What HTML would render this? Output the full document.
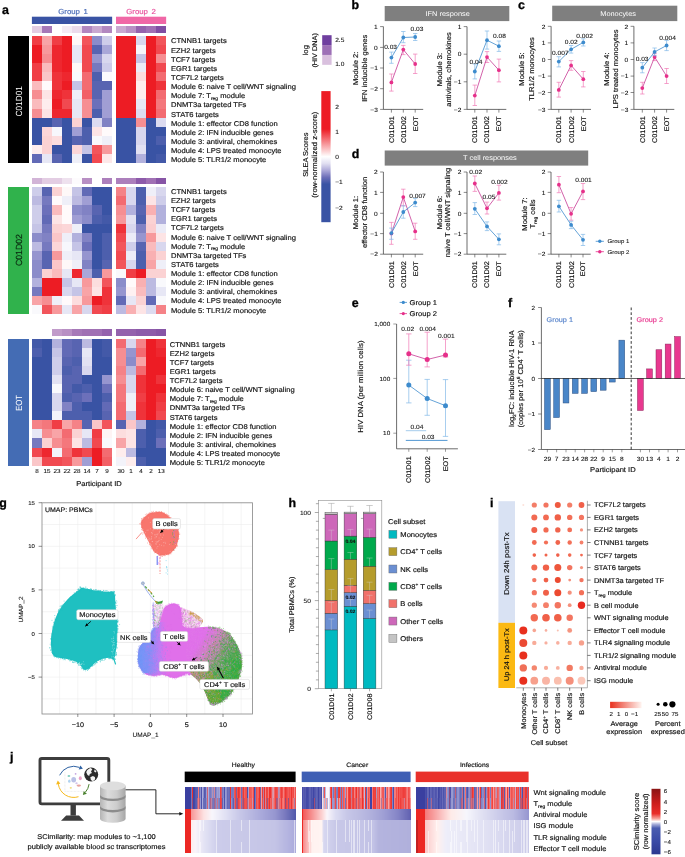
<!DOCTYPE html>
<html lang="en"><head><meta charset="utf-8"><title>Figure</title>
<style>html,body{margin:0;padding:0;background:#fff}svg{display:block}</style></head>
<body>
<svg width="685" height="857" viewBox="0 0 685 857" text-rendering="geometricPrecision" font-family='"Liberation Sans", Arial, sans-serif'>
<rect width="685" height="857" fill="#fff"/>
<text x="2" y="13.8" font-size="12.4" font-weight="bold" fill="#000" stroke="#000" stroke-width="0.3">a</text>
<text x="351.5" y="9.4" font-size="12.4" font-weight="bold" fill="#000" stroke="#000" stroke-width="0.3">b</text>
<text x="518" y="8.7" font-size="12.4" font-weight="bold" fill="#000" stroke="#000" stroke-width="0.3">c</text>
<text x="351.8" y="157.9" font-size="12.4" font-weight="bold" fill="#000" stroke="#000" stroke-width="0.3">d</text>
<text x="351.8" y="306.9" font-size="12.4" font-weight="bold" fill="#000" stroke="#000" stroke-width="0.3">e</text>
<text x="508" y="306.6" font-size="12.4" font-weight="bold" fill="#000" stroke="#000" stroke-width="0.3">f</text>
<text x="-0.8" y="507.2" font-size="12.4" font-weight="bold" fill="#000" stroke="#000" stroke-width="0.3">g</text>
<text x="288.5" y="507.3" font-size="12.4" font-weight="bold" fill="#000" stroke="#000" stroke-width="0.3">h</text>
<text x="490" y="506.8" font-size="12.4" font-weight="bold" fill="#000" stroke="#000" stroke-width="0.3">i</text>
<text x="10" y="761" font-size="12.4" font-weight="bold" fill="#000" stroke="#000" stroke-width="0.3">j</text>
<text transform="translate(73.00,11.30) scale(1.08,1)" y="2.60" font-size="7.22" text-anchor="middle" fill="#4a6cb8" stroke="#4a6cb8" stroke-width="0.16" word-spacing="1.2">Group 1</text>
<text transform="translate(141.00,11.30) scale(1.08,1)" y="2.60" font-size="7.22" text-anchor="middle" fill="#e9509c" stroke="#e9509c" stroke-width="0.16" word-spacing="1.2">Group 2</text>
<rect x="31.9" y="16.7" width="80.24" height="7.3" fill="#3953a4"/>
<rect x="116.0" y="16.7" width="50.15" height="7.3" fill="#f067a6"/>
<g shape-rendering="crispEdges">
<rect x="31.90" y="26.3" width="10.08" height="6.75" fill="#e3cde3"/>
<rect x="41.93" y="26.3" width="10.08" height="6.75" fill="#a678b8"/>
<rect x="51.96" y="26.3" width="10.08" height="6.75" fill="#ffffff"/>
<rect x="61.99" y="26.3" width="10.08" height="6.75" fill="#f4ebf4"/>
<rect x="72.02" y="26.3" width="10.08" height="6.75" fill="#ebdbeb"/>
<rect x="82.05" y="26.3" width="10.08" height="6.75" fill="#b287c0"/>
<rect x="92.08" y="26.3" width="10.08" height="6.75" fill="#c9a8d0"/>
<rect x="102.11" y="26.3" width="10.08" height="6.75" fill="#b287c0"/>
<rect x="116.00" y="26.3" width="10.08" height="6.75" fill="#c9a8d0"/>
<rect x="126.03" y="26.3" width="10.08" height="6.75" fill="#b88fc4"/>
<rect x="136.06" y="26.3" width="10.08" height="6.75" fill="#9462ad"/>
<rect x="146.09" y="26.3" width="10.08" height="6.75" fill="#a070b4"/>
<rect x="156.12" y="26.3" width="10.08" height="6.75" fill="#804ea3"/>
<rect x="31.90" y="36.10" width="10.08" height="9.10" fill="#f03e45"/>
<rect x="41.93" y="36.10" width="10.08" height="9.10" fill="#f8a4a7"/>
<rect x="51.96" y="36.10" width="10.08" height="9.10" fill="#f03e45"/>
<rect x="61.99" y="36.10" width="10.08" height="9.10" fill="#ed1c24"/>
<rect x="72.02" y="36.10" width="10.08" height="9.10" fill="#fef8f8"/>
<rect x="82.05" y="36.10" width="10.08" height="9.10" fill="#f2555b"/>
<rect x="92.08" y="36.10" width="10.08" height="9.10" fill="#8b8cca"/>
<rect x="102.11" y="36.10" width="10.08" height="9.10" fill="#cecdea"/>
<rect x="116.00" y="36.10" width="10.08" height="9.10" fill="#ed1c24"/>
<rect x="126.03" y="36.10" width="10.08" height="9.10" fill="#ed1c24"/>
<rect x="136.06" y="36.10" width="10.08" height="9.10" fill="#d8d7ee"/>
<rect x="146.09" y="36.10" width="10.08" height="9.10" fill="#ed1c24"/>
<rect x="156.12" y="36.10" width="10.08" height="9.10" fill="#f2555b"/>
<rect x="31.90" y="45.15" width="10.08" height="9.10" fill="#ed1c24"/>
<rect x="41.93" y="45.15" width="10.08" height="9.10" fill="#f7999c"/>
<rect x="51.96" y="45.15" width="10.08" height="9.10" fill="#ee272f"/>
<rect x="61.99" y="45.15" width="10.08" height="9.10" fill="#ed1c24"/>
<rect x="72.02" y="45.15" width="10.08" height="9.10" fill="#e7e7f5"/>
<rect x="82.05" y="45.15" width="10.08" height="9.10" fill="#f14950"/>
<rect x="92.08" y="45.15" width="10.08" height="9.10" fill="#5864b1"/>
<rect x="102.11" y="45.15" width="10.08" height="9.10" fill="#a9a7d8"/>
<rect x="116.00" y="45.15" width="10.08" height="9.10" fill="#ed1c24"/>
<rect x="126.03" y="45.15" width="10.08" height="9.10" fill="#ed1c24"/>
<rect x="136.06" y="45.15" width="10.08" height="9.10" fill="#f5f5fb"/>
<rect x="146.09" y="45.15" width="10.08" height="9.10" fill="#ed1c24"/>
<rect x="156.12" y="45.15" width="10.08" height="9.10" fill="#f14950"/>
<rect x="31.90" y="54.20" width="10.08" height="9.10" fill="#ed1c24"/>
<rect x="41.93" y="54.20" width="10.08" height="9.10" fill="#f68e92"/>
<rect x="51.96" y="54.20" width="10.08" height="9.10" fill="#ee272f"/>
<rect x="61.99" y="54.20" width="10.08" height="9.10" fill="#ed1c24"/>
<rect x="72.02" y="54.20" width="10.08" height="9.10" fill="#e7e7f5"/>
<rect x="82.05" y="54.20" width="10.08" height="9.10" fill="#f14950"/>
<rect x="92.08" y="54.20" width="10.08" height="9.10" fill="#9695cf"/>
<rect x="102.11" y="54.20" width="10.08" height="9.10" fill="#d8d7ee"/>
<rect x="116.00" y="54.20" width="10.08" height="9.10" fill="#ed1c24"/>
<rect x="126.03" y="54.20" width="10.08" height="9.10" fill="#ed1c24"/>
<rect x="136.06" y="54.20" width="10.08" height="9.10" fill="#c5c4e6"/>
<rect x="146.09" y="54.20" width="10.08" height="9.10" fill="#ed1c24"/>
<rect x="156.12" y="54.20" width="10.08" height="9.10" fill="#f68e92"/>
<rect x="31.90" y="63.25" width="10.08" height="9.10" fill="#f03e45"/>
<rect x="41.93" y="63.25" width="10.08" height="9.10" fill="#fabbbd"/>
<rect x="51.96" y="63.25" width="10.08" height="9.10" fill="#ee272f"/>
<rect x="61.99" y="63.25" width="10.08" height="9.10" fill="#ed1c24"/>
<rect x="72.02" y="63.25" width="10.08" height="9.10" fill="#fef8f8"/>
<rect x="82.05" y="63.25" width="10.08" height="9.10" fill="#f14950"/>
<rect x="92.08" y="63.25" width="10.08" height="9.10" fill="#7679bf"/>
<rect x="102.11" y="63.25" width="10.08" height="9.10" fill="#cecdea"/>
<rect x="116.00" y="63.25" width="10.08" height="9.10" fill="#ed1c24"/>
<rect x="126.03" y="63.25" width="10.08" height="9.10" fill="#ed1c24"/>
<rect x="136.06" y="63.25" width="10.08" height="9.10" fill="#ebebf7"/>
<rect x="146.09" y="63.25" width="10.08" height="9.10" fill="#ed1c24"/>
<rect x="156.12" y="63.25" width="10.08" height="9.10" fill="#f14950"/>
<rect x="31.90" y="72.30" width="10.08" height="9.10" fill="#f03e45"/>
<rect x="41.93" y="72.30" width="10.08" height="9.10" fill="#fac6c8"/>
<rect x="51.96" y="72.30" width="10.08" height="9.10" fill="#ef333a"/>
<rect x="61.99" y="72.30" width="10.08" height="9.10" fill="#ee272f"/>
<rect x="72.02" y="72.30" width="10.08" height="9.10" fill="#f9f9fc"/>
<rect x="82.05" y="72.30" width="10.08" height="9.10" fill="#f36b71"/>
<rect x="92.08" y="72.30" width="10.08" height="9.10" fill="#4d5fad"/>
<rect x="102.11" y="72.30" width="10.08" height="9.10" fill="#fbfbfd"/>
<rect x="116.00" y="72.30" width="10.08" height="9.10" fill="#ed1c24"/>
<rect x="126.03" y="72.30" width="10.08" height="9.10" fill="#ed1c24"/>
<rect x="136.06" y="72.30" width="10.08" height="9.10" fill="#fcddde"/>
<rect x="146.09" y="72.30" width="10.08" height="9.10" fill="#ed1c24"/>
<rect x="156.12" y="72.30" width="10.08" height="9.10" fill="#f36b71"/>
<rect x="31.90" y="81.35" width="10.08" height="9.10" fill="#fabbbd"/>
<rect x="41.93" y="81.35" width="10.08" height="9.10" fill="#fffafb"/>
<rect x="51.96" y="81.35" width="10.08" height="9.10" fill="#ef333a"/>
<rect x="61.99" y="81.35" width="10.08" height="9.10" fill="#ed1c24"/>
<rect x="72.02" y="81.35" width="10.08" height="9.10" fill="#c5c4e6"/>
<rect x="82.05" y="81.35" width="10.08" height="9.10" fill="#f36b71"/>
<rect x="92.08" y="81.35" width="10.08" height="9.10" fill="#5864b1"/>
<rect x="102.11" y="81.35" width="10.08" height="9.10" fill="#5864b1"/>
<rect x="116.00" y="81.35" width="10.08" height="9.10" fill="#ed1c24"/>
<rect x="126.03" y="81.35" width="10.08" height="9.10" fill="#ed1c24"/>
<rect x="136.06" y="81.35" width="10.08" height="9.10" fill="#feeded"/>
<rect x="146.09" y="81.35" width="10.08" height="9.10" fill="#ed1c24"/>
<rect x="156.12" y="81.35" width="10.08" height="9.10" fill="#ef333a"/>
<rect x="31.90" y="90.40" width="10.08" height="9.10" fill="#f68e92"/>
<rect x="41.93" y="90.40" width="10.08" height="9.10" fill="#fde4e5"/>
<rect x="51.96" y="90.40" width="10.08" height="9.10" fill="#ee272f"/>
<rect x="61.99" y="90.40" width="10.08" height="9.10" fill="#ef333a"/>
<rect x="72.02" y="90.40" width="10.08" height="9.10" fill="#efeff8"/>
<rect x="82.05" y="90.40" width="10.08" height="9.10" fill="#f26066"/>
<rect x="92.08" y="90.40" width="10.08" height="9.10" fill="#5864b1"/>
<rect x="102.11" y="90.40" width="10.08" height="9.10" fill="#a09ed4"/>
<rect x="116.00" y="90.40" width="10.08" height="9.10" fill="#ed1c24"/>
<rect x="126.03" y="90.40" width="10.08" height="9.10" fill="#ed1c24"/>
<rect x="136.06" y="90.40" width="10.08" height="9.10" fill="#feeded"/>
<rect x="146.09" y="90.40" width="10.08" height="9.10" fill="#ed1c24"/>
<rect x="156.12" y="90.40" width="10.08" height="9.10" fill="#f36b71"/>
<rect x="31.90" y="99.45" width="10.08" height="9.10" fill="#fabbbd"/>
<rect x="41.93" y="99.45" width="10.08" height="9.10" fill="#feeded"/>
<rect x="51.96" y="99.45" width="10.08" height="9.10" fill="#ed1c24"/>
<rect x="61.99" y="99.45" width="10.08" height="9.10" fill="#f14950"/>
<rect x="72.02" y="99.45" width="10.08" height="9.10" fill="#e7e7f5"/>
<rect x="82.05" y="99.45" width="10.08" height="9.10" fill="#f68e92"/>
<rect x="92.08" y="99.45" width="10.08" height="9.10" fill="#6c70ba"/>
<rect x="102.11" y="99.45" width="10.08" height="9.10" fill="#a09ed4"/>
<rect x="116.00" y="99.45" width="10.08" height="9.10" fill="#ed1c24"/>
<rect x="126.03" y="99.45" width="10.08" height="9.10" fill="#ed1c24"/>
<rect x="136.06" y="99.45" width="10.08" height="9.10" fill="#e7e7f5"/>
<rect x="146.09" y="99.45" width="10.08" height="9.10" fill="#ed1c24"/>
<rect x="156.12" y="99.45" width="10.08" height="9.10" fill="#f4777c"/>
<rect x="31.90" y="108.50" width="10.08" height="9.10" fill="#f68e92"/>
<rect x="41.93" y="108.50" width="10.08" height="9.10" fill="#fde4e5"/>
<rect x="51.96" y="108.50" width="10.08" height="9.10" fill="#ee272f"/>
<rect x="61.99" y="108.50" width="10.08" height="9.10" fill="#ee272f"/>
<rect x="72.02" y="108.50" width="10.08" height="9.10" fill="#e7e7f5"/>
<rect x="82.05" y="108.50" width="10.08" height="9.10" fill="#f68e92"/>
<rect x="92.08" y="108.50" width="10.08" height="9.10" fill="#4d5fad"/>
<rect x="102.11" y="108.50" width="10.08" height="9.10" fill="#a09ed4"/>
<rect x="116.00" y="108.50" width="10.08" height="9.10" fill="#ed1c24"/>
<rect x="126.03" y="108.50" width="10.08" height="9.10" fill="#ed1c24"/>
<rect x="136.06" y="108.50" width="10.08" height="9.10" fill="#dcdbf0"/>
<rect x="146.09" y="108.50" width="10.08" height="9.10" fill="#ed1c24"/>
<rect x="156.12" y="108.50" width="10.08" height="9.10" fill="#f36b71"/>
<rect x="31.90" y="117.55" width="10.08" height="9.10" fill="#3953a4"/>
<rect x="41.93" y="117.55" width="10.08" height="9.10" fill="#3953a4"/>
<rect x="51.96" y="117.55" width="10.08" height="9.10" fill="#5864b1"/>
<rect x="61.99" y="117.55" width="10.08" height="9.10" fill="#3953a4"/>
<rect x="72.02" y="117.55" width="10.08" height="9.10" fill="#fbd2d3"/>
<rect x="82.05" y="117.55" width="10.08" height="9.10" fill="#3953a4"/>
<rect x="92.08" y="117.55" width="10.08" height="9.10" fill="#dcdbf0"/>
<rect x="102.11" y="117.55" width="10.08" height="9.10" fill="#8182c4"/>
<rect x="116.00" y="117.55" width="10.08" height="9.10" fill="#3953a4"/>
<rect x="126.03" y="117.55" width="10.08" height="9.10" fill="#3953a4"/>
<rect x="136.06" y="117.55" width="10.08" height="9.10" fill="#f68e92"/>
<rect x="146.09" y="117.55" width="10.08" height="9.10" fill="#3953a4"/>
<rect x="156.12" y="117.55" width="10.08" height="9.10" fill="#dcdbf0"/>
<rect x="31.90" y="126.60" width="10.08" height="9.10" fill="#3953a4"/>
<rect x="41.93" y="126.60" width="10.08" height="9.10" fill="#fcd6d8"/>
<rect x="51.96" y="126.60" width="10.08" height="9.10" fill="#f7f7fc"/>
<rect x="61.99" y="126.60" width="10.08" height="9.10" fill="#3953a4"/>
<rect x="72.02" y="126.60" width="10.08" height="9.10" fill="#a09ed4"/>
<rect x="82.05" y="126.60" width="10.08" height="9.10" fill="#4d5fad"/>
<rect x="92.08" y="126.60" width="10.08" height="9.10" fill="#fde4e5"/>
<rect x="102.11" y="126.60" width="10.08" height="9.10" fill="#fffafb"/>
<rect x="116.00" y="126.60" width="10.08" height="9.10" fill="#3953a4"/>
<rect x="126.03" y="126.60" width="10.08" height="9.10" fill="#3953a4"/>
<rect x="136.06" y="126.60" width="10.08" height="9.10" fill="#d8d7ee"/>
<rect x="146.09" y="126.60" width="10.08" height="9.10" fill="#3953a4"/>
<rect x="156.12" y="126.60" width="10.08" height="9.10" fill="#3953a4"/>
<rect x="31.90" y="135.65" width="10.08" height="9.10" fill="#3953a4"/>
<rect x="41.93" y="135.65" width="10.08" height="9.10" fill="#fbd2d3"/>
<rect x="51.96" y="135.65" width="10.08" height="9.10" fill="#fcddde"/>
<rect x="61.99" y="135.65" width="10.08" height="9.10" fill="#3953a4"/>
<rect x="72.02" y="135.65" width="10.08" height="9.10" fill="#5864b1"/>
<rect x="82.05" y="135.65" width="10.08" height="9.10" fill="#4d5fad"/>
<rect x="92.08" y="135.65" width="10.08" height="9.10" fill="#f9f9fc"/>
<rect x="102.11" y="135.65" width="10.08" height="9.10" fill="#efeff8"/>
<rect x="116.00" y="135.65" width="10.08" height="9.10" fill="#3953a4"/>
<rect x="126.03" y="135.65" width="10.08" height="9.10" fill="#3953a4"/>
<rect x="136.06" y="135.65" width="10.08" height="9.10" fill="#d8d7ee"/>
<rect x="146.09" y="135.65" width="10.08" height="9.10" fill="#3953a4"/>
<rect x="156.12" y="135.65" width="10.08" height="9.10" fill="#4d5fad"/>
<rect x="31.90" y="144.70" width="10.08" height="9.10" fill="#feeded"/>
<rect x="41.93" y="144.70" width="10.08" height="9.10" fill="#fbd2d3"/>
<rect x="51.96" y="144.70" width="10.08" height="9.10" fill="#3953a4"/>
<rect x="61.99" y="144.70" width="10.08" height="9.10" fill="#3953a4"/>
<rect x="72.02" y="144.70" width="10.08" height="9.10" fill="#fcd6d8"/>
<rect x="82.05" y="144.70" width="10.08" height="9.10" fill="#c5c4e6"/>
<rect x="92.08" y="144.70" width="10.08" height="9.10" fill="#f2555b"/>
<rect x="102.11" y="144.70" width="10.08" height="9.10" fill="#f7999c"/>
<rect x="116.00" y="144.70" width="10.08" height="9.10" fill="#3953a4"/>
<rect x="126.03" y="144.70" width="10.08" height="9.10" fill="#3953a4"/>
<rect x="136.06" y="144.70" width="10.08" height="9.10" fill="#e2e1f2"/>
<rect x="146.09" y="144.70" width="10.08" height="9.10" fill="#3953a4"/>
<rect x="156.12" y="144.70" width="10.08" height="9.10" fill="#3953a4"/>
<rect x="31.90" y="153.75" width="10.08" height="9.10" fill="#626ab6"/>
<rect x="41.93" y="153.75" width="10.08" height="9.10" fill="#e7e7f5"/>
<rect x="51.96" y="153.75" width="10.08" height="9.10" fill="#5864b1"/>
<rect x="61.99" y="153.75" width="10.08" height="9.10" fill="#3953a4"/>
<rect x="72.02" y="153.75" width="10.08" height="9.10" fill="#efeff8"/>
<rect x="82.05" y="153.75" width="10.08" height="9.10" fill="#3953a4"/>
<rect x="92.08" y="153.75" width="10.08" height="9.10" fill="#f14950"/>
<rect x="102.11" y="153.75" width="10.08" height="9.10" fill="#fde8e9"/>
<rect x="116.00" y="153.75" width="10.08" height="9.10" fill="#3953a4"/>
<rect x="126.03" y="153.75" width="10.08" height="9.10" fill="#3953a4"/>
<rect x="136.06" y="153.75" width="10.08" height="9.10" fill="#b2b1dd"/>
<rect x="146.09" y="153.75" width="10.08" height="9.10" fill="#3953a4"/>
<rect x="156.12" y="153.75" width="10.08" height="9.10" fill="#4359a8"/>
<rect x="8.1" y="36.1" width="20.6" height="126.70" fill="#000000"/>
<rect x="31.90" y="177.5" width="10.08" height="6.90" fill="#d2b4d7"/>
<rect x="41.93" y="177.5" width="10.08" height="6.90" fill="#e3cde3"/>
<rect x="51.96" y="177.5" width="10.08" height="6.90" fill="#e3cde3"/>
<rect x="61.99" y="177.5" width="10.08" height="6.90" fill="#eee1ee"/>
<rect x="72.02" y="177.5" width="10.08" height="6.90" fill="#fdfbfd"/>
<rect x="82.05" y="177.5" width="10.08" height="6.90" fill="#b88fc4"/>
<rect x="92.08" y="177.5" width="10.08" height="6.90" fill="#ffffff"/>
<rect x="102.11" y="177.5" width="10.08" height="6.90" fill="#ac7fbc"/>
<rect x="116.00" y="177.5" width="10.08" height="6.90" fill="#ac7fbc"/>
<rect x="126.03" y="177.5" width="10.08" height="6.90" fill="#ac7fbc"/>
<rect x="136.06" y="177.5" width="10.08" height="6.90" fill="#8d5baa"/>
<rect x="146.09" y="177.5" width="10.08" height="6.90" fill="#a070b4"/>
<rect x="156.12" y="177.5" width="10.08" height="6.90" fill="#8755a6"/>
<rect x="31.90" y="187.44" width="10.08" height="9.07" fill="#cecdea"/>
<rect x="41.93" y="187.44" width="10.08" height="9.07" fill="#5864b1"/>
<rect x="51.96" y="187.44" width="10.08" height="9.07" fill="#fbd2d3"/>
<rect x="61.99" y="187.44" width="10.08" height="9.07" fill="#fef8f8"/>
<rect x="72.02" y="187.44" width="10.08" height="9.07" fill="#c5c4e6"/>
<rect x="82.05" y="187.44" width="10.08" height="9.07" fill="#626ab6"/>
<rect x="92.08" y="187.44" width="10.08" height="9.07" fill="#3953a4"/>
<rect x="102.11" y="187.44" width="10.08" height="9.07" fill="#3953a4"/>
<rect x="116.00" y="187.44" width="10.08" height="9.07" fill="#f58287"/>
<rect x="126.03" y="187.44" width="10.08" height="9.07" fill="#d8d7ee"/>
<rect x="136.06" y="187.44" width="10.08" height="9.07" fill="#4d5fad"/>
<rect x="146.09" y="187.44" width="10.08" height="9.07" fill="#efeff8"/>
<rect x="156.12" y="187.44" width="10.08" height="9.07" fill="#d8d7ee"/>
<rect x="31.90" y="196.46" width="10.08" height="9.07" fill="#bcbae1"/>
<rect x="41.93" y="196.46" width="10.08" height="9.07" fill="#7679bf"/>
<rect x="51.96" y="196.46" width="10.08" height="9.07" fill="#fffafb"/>
<rect x="61.99" y="196.46" width="10.08" height="9.07" fill="#efeff8"/>
<rect x="72.02" y="196.46" width="10.08" height="9.07" fill="#bcbae1"/>
<rect x="82.05" y="196.46" width="10.08" height="9.07" fill="#a09ed4"/>
<rect x="92.08" y="196.46" width="10.08" height="9.07" fill="#3953a4"/>
<rect x="102.11" y="196.46" width="10.08" height="9.07" fill="#3953a4"/>
<rect x="116.00" y="196.46" width="10.08" height="9.07" fill="#f36b71"/>
<rect x="126.03" y="196.46" width="10.08" height="9.07" fill="#d8d7ee"/>
<rect x="136.06" y="196.46" width="10.08" height="9.07" fill="#4d5fad"/>
<rect x="146.09" y="196.46" width="10.08" height="9.07" fill="#fde4e5"/>
<rect x="156.12" y="196.46" width="10.08" height="9.07" fill="#cecdea"/>
<rect x="31.90" y="205.48" width="10.08" height="9.07" fill="#cecdea"/>
<rect x="41.93" y="205.48" width="10.08" height="9.07" fill="#6c70ba"/>
<rect x="51.96" y="205.48" width="10.08" height="9.07" fill="#fabbbd"/>
<rect x="61.99" y="205.48" width="10.08" height="9.07" fill="#fffafb"/>
<rect x="72.02" y="205.48" width="10.08" height="9.07" fill="#8b8cca"/>
<rect x="82.05" y="205.48" width="10.08" height="9.07" fill="#8182c4"/>
<rect x="92.08" y="205.48" width="10.08" height="9.07" fill="#5864b1"/>
<rect x="102.11" y="205.48" width="10.08" height="9.07" fill="#3953a4"/>
<rect x="116.00" y="205.48" width="10.08" height="9.07" fill="#f68e92"/>
<rect x="126.03" y="205.48" width="10.08" height="9.07" fill="#b2b1dd"/>
<rect x="136.06" y="205.48" width="10.08" height="9.07" fill="#5864b1"/>
<rect x="146.09" y="205.48" width="10.08" height="9.07" fill="#f9b0b2"/>
<rect x="156.12" y="205.48" width="10.08" height="9.07" fill="#b2b1dd"/>
<rect x="31.90" y="214.50" width="10.08" height="9.07" fill="#cecdea"/>
<rect x="41.93" y="214.50" width="10.08" height="9.07" fill="#626ab6"/>
<rect x="51.96" y="214.50" width="10.08" height="9.07" fill="#fde4e5"/>
<rect x="61.99" y="214.50" width="10.08" height="9.07" fill="#fffafb"/>
<rect x="72.02" y="214.50" width="10.08" height="9.07" fill="#a09ed4"/>
<rect x="82.05" y="214.50" width="10.08" height="9.07" fill="#8b8cca"/>
<rect x="92.08" y="214.50" width="10.08" height="9.07" fill="#4d5fad"/>
<rect x="102.11" y="214.50" width="10.08" height="9.07" fill="#4359a8"/>
<rect x="116.00" y="214.50" width="10.08" height="9.07" fill="#f7999c"/>
<rect x="126.03" y="214.50" width="10.08" height="9.07" fill="#e2e1f2"/>
<rect x="136.06" y="214.50" width="10.08" height="9.07" fill="#4d5fad"/>
<rect x="146.09" y="214.50" width="10.08" height="9.07" fill="#fbd2d3"/>
<rect x="156.12" y="214.50" width="10.08" height="9.07" fill="#b2b1dd"/>
<rect x="31.90" y="223.52" width="10.08" height="9.07" fill="#c5c4e6"/>
<rect x="41.93" y="223.52" width="10.08" height="9.07" fill="#7679bf"/>
<rect x="51.96" y="223.52" width="10.08" height="9.07" fill="#fbd2d3"/>
<rect x="61.99" y="223.52" width="10.08" height="9.07" fill="#fcd6d8"/>
<rect x="72.02" y="223.52" width="10.08" height="9.07" fill="#efeff8"/>
<rect x="82.05" y="223.52" width="10.08" height="9.07" fill="#3953a4"/>
<rect x="92.08" y="223.52" width="10.08" height="9.07" fill="#3953a4"/>
<rect x="102.11" y="223.52" width="10.08" height="9.07" fill="#3953a4"/>
<rect x="116.00" y="223.52" width="10.08" height="9.07" fill="#ef333a"/>
<rect x="126.03" y="223.52" width="10.08" height="9.07" fill="#d8d7ee"/>
<rect x="136.06" y="223.52" width="10.08" height="9.07" fill="#8182c4"/>
<rect x="146.09" y="223.52" width="10.08" height="9.07" fill="#fbcdcf"/>
<rect x="156.12" y="223.52" width="10.08" height="9.07" fill="#ebebf7"/>
<rect x="31.90" y="232.54" width="10.08" height="9.07" fill="#8b8cca"/>
<rect x="41.93" y="232.54" width="10.08" height="9.07" fill="#8182c4"/>
<rect x="51.96" y="232.54" width="10.08" height="9.07" fill="#fac6c8"/>
<rect x="61.99" y="232.54" width="10.08" height="9.07" fill="#efeff8"/>
<rect x="72.02" y="232.54" width="10.08" height="9.07" fill="#b2b1dd"/>
<rect x="82.05" y="232.54" width="10.08" height="9.07" fill="#8182c4"/>
<rect x="92.08" y="232.54" width="10.08" height="9.07" fill="#3953a4"/>
<rect x="102.11" y="232.54" width="10.08" height="9.07" fill="#4d5fad"/>
<rect x="116.00" y="232.54" width="10.08" height="9.07" fill="#f14950"/>
<rect x="126.03" y="232.54" width="10.08" height="9.07" fill="#ebebf7"/>
<rect x="136.06" y="232.54" width="10.08" height="9.07" fill="#9695cf"/>
<rect x="146.09" y="232.54" width="10.08" height="9.07" fill="#f7999c"/>
<rect x="156.12" y="232.54" width="10.08" height="9.07" fill="#fde4e5"/>
<rect x="31.90" y="241.56" width="10.08" height="9.07" fill="#bcbae1"/>
<rect x="41.93" y="241.56" width="10.08" height="9.07" fill="#7679bf"/>
<rect x="51.96" y="241.56" width="10.08" height="9.07" fill="#fcd6d8"/>
<rect x="61.99" y="241.56" width="10.08" height="9.07" fill="#f7f7fc"/>
<rect x="72.02" y="241.56" width="10.08" height="9.07" fill="#c5c4e6"/>
<rect x="82.05" y="241.56" width="10.08" height="9.07" fill="#6c70ba"/>
<rect x="92.08" y="241.56" width="10.08" height="9.07" fill="#3953a4"/>
<rect x="102.11" y="241.56" width="10.08" height="9.07" fill="#4d5fad"/>
<rect x="116.00" y="241.56" width="10.08" height="9.07" fill="#f2555b"/>
<rect x="126.03" y="241.56" width="10.08" height="9.07" fill="#cecdea"/>
<rect x="136.06" y="241.56" width="10.08" height="9.07" fill="#5864b1"/>
<rect x="146.09" y="241.56" width="10.08" height="9.07" fill="#fabbbd"/>
<rect x="156.12" y="241.56" width="10.08" height="9.07" fill="#d8d7ee"/>
<rect x="31.90" y="250.58" width="10.08" height="9.07" fill="#9695cf"/>
<rect x="41.93" y="250.58" width="10.08" height="9.07" fill="#5864b1"/>
<rect x="51.96" y="250.58" width="10.08" height="9.07" fill="#f7999c"/>
<rect x="61.99" y="250.58" width="10.08" height="9.07" fill="#efeff8"/>
<rect x="72.02" y="250.58" width="10.08" height="9.07" fill="#e7e7f5"/>
<rect x="82.05" y="250.58" width="10.08" height="9.07" fill="#9695cf"/>
<rect x="92.08" y="250.58" width="10.08" height="9.07" fill="#3953a4"/>
<rect x="102.11" y="250.58" width="10.08" height="9.07" fill="#4d5fad"/>
<rect x="116.00" y="250.58" width="10.08" height="9.07" fill="#f14950"/>
<rect x="126.03" y="250.58" width="10.08" height="9.07" fill="#ebebf7"/>
<rect x="136.06" y="250.58" width="10.08" height="9.07" fill="#4d5fad"/>
<rect x="146.09" y="250.58" width="10.08" height="9.07" fill="#f9b0b2"/>
<rect x="156.12" y="250.58" width="10.08" height="9.07" fill="#fbd2d3"/>
<rect x="31.90" y="259.60" width="10.08" height="9.07" fill="#8b8cca"/>
<rect x="41.93" y="259.60" width="10.08" height="9.07" fill="#5864b1"/>
<rect x="51.96" y="259.60" width="10.08" height="9.07" fill="#fac6c8"/>
<rect x="61.99" y="259.60" width="10.08" height="9.07" fill="#fef8f8"/>
<rect x="72.02" y="259.60" width="10.08" height="9.07" fill="#efeff8"/>
<rect x="82.05" y="259.60" width="10.08" height="9.07" fill="#8182c4"/>
<rect x="92.08" y="259.60" width="10.08" height="9.07" fill="#3953a4"/>
<rect x="102.11" y="259.60" width="10.08" height="9.07" fill="#5864b1"/>
<rect x="116.00" y="259.60" width="10.08" height="9.07" fill="#f2555b"/>
<rect x="126.03" y="259.60" width="10.08" height="9.07" fill="#d8d7ee"/>
<rect x="136.06" y="259.60" width="10.08" height="9.07" fill="#4d5fad"/>
<rect x="146.09" y="259.60" width="10.08" height="9.07" fill="#f8a4a7"/>
<rect x="156.12" y="259.60" width="10.08" height="9.07" fill="#efeff8"/>
<rect x="31.90" y="268.62" width="10.08" height="9.07" fill="#8b8cca"/>
<rect x="41.93" y="268.62" width="10.08" height="9.07" fill="#fbd2d3"/>
<rect x="51.96" y="268.62" width="10.08" height="9.07" fill="#fabbbd"/>
<rect x="61.99" y="268.62" width="10.08" height="9.07" fill="#e7e7f5"/>
<rect x="72.02" y="268.62" width="10.08" height="9.07" fill="#ee272f"/>
<rect x="82.05" y="268.62" width="10.08" height="9.07" fill="#a9a7d8"/>
<rect x="92.08" y="268.62" width="10.08" height="9.07" fill="#4d5fad"/>
<rect x="102.11" y="268.62" width="10.08" height="9.07" fill="#f7999c"/>
<rect x="116.00" y="268.62" width="10.08" height="9.07" fill="#f9f9fc"/>
<rect x="126.03" y="268.62" width="10.08" height="9.07" fill="#f03e45"/>
<rect x="136.06" y="268.62" width="10.08" height="9.07" fill="#ed1c24"/>
<rect x="146.09" y="268.62" width="10.08" height="9.07" fill="#fbd2d3"/>
<rect x="156.12" y="268.62" width="10.08" height="9.07" fill="#fbd2d3"/>
<rect x="31.90" y="277.64" width="10.08" height="9.07" fill="#b2b1dd"/>
<rect x="41.93" y="277.64" width="10.08" height="9.07" fill="#ed1c24"/>
<rect x="51.96" y="277.64" width="10.08" height="9.07" fill="#ed1c24"/>
<rect x="61.99" y="277.64" width="10.08" height="9.07" fill="#c5c4e6"/>
<rect x="72.02" y="277.64" width="10.08" height="9.07" fill="#e7e7f5"/>
<rect x="82.05" y="277.64" width="10.08" height="9.07" fill="#f7999c"/>
<rect x="92.08" y="277.64" width="10.08" height="9.07" fill="#fcddde"/>
<rect x="102.11" y="277.64" width="10.08" height="9.07" fill="#f2555b"/>
<rect x="116.00" y="277.64" width="10.08" height="9.07" fill="#8b8cca"/>
<rect x="126.03" y="277.64" width="10.08" height="9.07" fill="#fffafb"/>
<rect x="136.06" y="277.64" width="10.08" height="9.07" fill="#f9b0b2"/>
<rect x="146.09" y="277.64" width="10.08" height="9.07" fill="#bcbae1"/>
<rect x="156.12" y="277.64" width="10.08" height="9.07" fill="#f9f9fc"/>
<rect x="31.90" y="286.66" width="10.08" height="9.07" fill="#7679bf"/>
<rect x="41.93" y="286.66" width="10.08" height="9.07" fill="#ed1c24"/>
<rect x="51.96" y="286.66" width="10.08" height="9.07" fill="#ed1c24"/>
<rect x="61.99" y="286.66" width="10.08" height="9.07" fill="#d8d7ee"/>
<rect x="72.02" y="286.66" width="10.08" height="9.07" fill="#c5c4e6"/>
<rect x="82.05" y="286.66" width="10.08" height="9.07" fill="#f8a4a7"/>
<rect x="92.08" y="286.66" width="10.08" height="9.07" fill="#fde4e5"/>
<rect x="102.11" y="286.66" width="10.08" height="9.07" fill="#ef333a"/>
<rect x="116.00" y="286.66" width="10.08" height="9.07" fill="#9695cf"/>
<rect x="126.03" y="286.66" width="10.08" height="9.07" fill="#fef1f2"/>
<rect x="136.06" y="286.66" width="10.08" height="9.07" fill="#fabbbd"/>
<rect x="146.09" y="286.66" width="10.08" height="9.07" fill="#bcbae1"/>
<rect x="156.12" y="286.66" width="10.08" height="9.07" fill="#e7e7f5"/>
<rect x="31.90" y="295.68" width="10.08" height="9.07" fill="#f8a4a7"/>
<rect x="41.93" y="295.68" width="10.08" height="9.07" fill="#f68e92"/>
<rect x="51.96" y="295.68" width="10.08" height="9.07" fill="#efeff8"/>
<rect x="61.99" y="295.68" width="10.08" height="9.07" fill="#fffafb"/>
<rect x="72.02" y="295.68" width="10.08" height="9.07" fill="#fcddde"/>
<rect x="82.05" y="295.68" width="10.08" height="9.07" fill="#f7999c"/>
<rect x="92.08" y="295.68" width="10.08" height="9.07" fill="#ed1c24"/>
<rect x="102.11" y="295.68" width="10.08" height="9.07" fill="#ef333a"/>
<rect x="116.00" y="295.68" width="10.08" height="9.07" fill="#626ab6"/>
<rect x="126.03" y="295.68" width="10.08" height="9.07" fill="#e7e7f5"/>
<rect x="136.06" y="295.68" width="10.08" height="9.07" fill="#fbd2d3"/>
<rect x="146.09" y="295.68" width="10.08" height="9.07" fill="#626ab6"/>
<rect x="156.12" y="295.68" width="10.08" height="9.07" fill="#f9f9fc"/>
<rect x="31.90" y="304.70" width="10.08" height="9.07" fill="#f9f9fc"/>
<rect x="41.93" y="304.70" width="10.08" height="9.07" fill="#f2555b"/>
<rect x="51.96" y="304.70" width="10.08" height="9.07" fill="#f7999c"/>
<rect x="61.99" y="304.70" width="10.08" height="9.07" fill="#e7e7f5"/>
<rect x="72.02" y="304.70" width="10.08" height="9.07" fill="#f8a4a7"/>
<rect x="82.05" y="304.70" width="10.08" height="9.07" fill="#d8d7ee"/>
<rect x="92.08" y="304.70" width="10.08" height="9.07" fill="#f14950"/>
<rect x="102.11" y="304.70" width="10.08" height="9.07" fill="#f03e45"/>
<rect x="116.00" y="304.70" width="10.08" height="9.07" fill="#bcbae1"/>
<rect x="126.03" y="304.70" width="10.08" height="9.07" fill="#f9b0b2"/>
<rect x="136.06" y="304.70" width="10.08" height="9.07" fill="#fde4e5"/>
<rect x="146.09" y="304.70" width="10.08" height="9.07" fill="#dcdbf0"/>
<rect x="156.12" y="304.70" width="10.08" height="9.07" fill="#f58287"/>
<rect x="8.1" y="187.44" width="20.6" height="126.28" fill="#30b24c"/>
<rect x="51.96" y="329.2" width="10.08" height="6.75" fill="#c19bca"/>
<rect x="61.99" y="329.2" width="10.08" height="6.75" fill="#b88fc4"/>
<rect x="72.02" y="329.2" width="10.08" height="6.75" fill="#a678b8"/>
<rect x="82.05" y="329.2" width="10.08" height="6.75" fill="#a070b4"/>
<rect x="92.08" y="329.2" width="10.08" height="6.75" fill="#a070b4"/>
<rect x="102.11" y="329.2" width="10.08" height="6.75" fill="#9462ad"/>
<rect x="116.00" y="329.2" width="10.08" height="6.75" fill="#9462ad"/>
<rect x="126.03" y="329.2" width="10.08" height="6.75" fill="#9462ad"/>
<rect x="136.06" y="329.2" width="10.08" height="6.75" fill="#8d5baa"/>
<rect x="146.09" y="329.2" width="10.08" height="6.75" fill="#8d5baa"/>
<rect x="156.12" y="329.2" width="10.08" height="6.75" fill="#8755a6"/>
<rect x="31.90" y="339.00" width="10.08" height="9.09" fill="#4359a8"/>
<rect x="41.93" y="339.00" width="10.08" height="9.09" fill="#3953a4"/>
<rect x="51.96" y="339.00" width="10.08" height="9.09" fill="#b2b1dd"/>
<rect x="61.99" y="339.00" width="10.08" height="9.09" fill="#626ab6"/>
<rect x="72.02" y="339.00" width="10.08" height="9.09" fill="#5864b1"/>
<rect x="82.05" y="339.00" width="10.08" height="9.09" fill="#bcbae1"/>
<rect x="92.08" y="339.00" width="10.08" height="9.09" fill="#3953a4"/>
<rect x="102.11" y="339.00" width="10.08" height="9.09" fill="#4359a8"/>
<rect x="116.00" y="339.00" width="10.08" height="9.09" fill="#f36b71"/>
<rect x="126.03" y="339.00" width="10.08" height="9.09" fill="#d8d7ee"/>
<rect x="136.06" y="339.00" width="10.08" height="9.09" fill="#f58287"/>
<rect x="146.09" y="339.00" width="10.08" height="9.09" fill="#ed1c24"/>
<rect x="156.12" y="339.00" width="10.08" height="9.09" fill="#ef333a"/>
<rect x="31.90" y="348.04" width="10.08" height="9.09" fill="#4d5fad"/>
<rect x="41.93" y="348.04" width="10.08" height="9.09" fill="#3953a4"/>
<rect x="51.96" y="348.04" width="10.08" height="9.09" fill="#c5c4e6"/>
<rect x="61.99" y="348.04" width="10.08" height="9.09" fill="#626ab6"/>
<rect x="72.02" y="348.04" width="10.08" height="9.09" fill="#5864b1"/>
<rect x="82.05" y="348.04" width="10.08" height="9.09" fill="#e7e7f5"/>
<rect x="92.08" y="348.04" width="10.08" height="9.09" fill="#3953a4"/>
<rect x="102.11" y="348.04" width="10.08" height="9.09" fill="#4359a8"/>
<rect x="116.00" y="348.04" width="10.08" height="9.09" fill="#f68e92"/>
<rect x="126.03" y="348.04" width="10.08" height="9.09" fill="#9695cf"/>
<rect x="136.06" y="348.04" width="10.08" height="9.09" fill="#f36b71"/>
<rect x="146.09" y="348.04" width="10.08" height="9.09" fill="#ed1c24"/>
<rect x="156.12" y="348.04" width="10.08" height="9.09" fill="#ee272f"/>
<rect x="31.90" y="357.09" width="10.08" height="9.09" fill="#3953a4"/>
<rect x="41.93" y="357.09" width="10.08" height="9.09" fill="#3953a4"/>
<rect x="51.96" y="357.09" width="10.08" height="9.09" fill="#cecdea"/>
<rect x="61.99" y="357.09" width="10.08" height="9.09" fill="#5864b1"/>
<rect x="72.02" y="357.09" width="10.08" height="9.09" fill="#4d5fad"/>
<rect x="82.05" y="357.09" width="10.08" height="9.09" fill="#e2e1f2"/>
<rect x="92.08" y="357.09" width="10.08" height="9.09" fill="#3953a4"/>
<rect x="102.11" y="357.09" width="10.08" height="9.09" fill="#3953a4"/>
<rect x="116.00" y="357.09" width="10.08" height="9.09" fill="#f68e92"/>
<rect x="126.03" y="357.09" width="10.08" height="9.09" fill="#8b8cca"/>
<rect x="136.06" y="357.09" width="10.08" height="9.09" fill="#f8a4a7"/>
<rect x="146.09" y="357.09" width="10.08" height="9.09" fill="#ed1c24"/>
<rect x="156.12" y="357.09" width="10.08" height="9.09" fill="#ed1c24"/>
<rect x="31.90" y="366.13" width="10.08" height="9.09" fill="#3953a4"/>
<rect x="41.93" y="366.13" width="10.08" height="9.09" fill="#3953a4"/>
<rect x="51.96" y="366.13" width="10.08" height="9.09" fill="#cecdea"/>
<rect x="61.99" y="366.13" width="10.08" height="9.09" fill="#4d5fad"/>
<rect x="72.02" y="366.13" width="10.08" height="9.09" fill="#5864b1"/>
<rect x="82.05" y="366.13" width="10.08" height="9.09" fill="#d8d7ee"/>
<rect x="92.08" y="366.13" width="10.08" height="9.09" fill="#3953a4"/>
<rect x="102.11" y="366.13" width="10.08" height="9.09" fill="#3953a4"/>
<rect x="116.00" y="366.13" width="10.08" height="9.09" fill="#f58287"/>
<rect x="126.03" y="366.13" width="10.08" height="9.09" fill="#bcbae1"/>
<rect x="136.06" y="366.13" width="10.08" height="9.09" fill="#f36b71"/>
<rect x="146.09" y="366.13" width="10.08" height="9.09" fill="#ed1c24"/>
<rect x="156.12" y="366.13" width="10.08" height="9.09" fill="#ed1c24"/>
<rect x="31.90" y="375.17" width="10.08" height="9.09" fill="#3953a4"/>
<rect x="41.93" y="375.17" width="10.08" height="9.09" fill="#3953a4"/>
<rect x="51.96" y="375.17" width="10.08" height="9.09" fill="#e2e1f2"/>
<rect x="61.99" y="375.17" width="10.08" height="9.09" fill="#5864b1"/>
<rect x="72.02" y="375.17" width="10.08" height="9.09" fill="#5864b1"/>
<rect x="82.05" y="375.17" width="10.08" height="9.09" fill="#3953a4"/>
<rect x="92.08" y="375.17" width="10.08" height="9.09" fill="#3953a4"/>
<rect x="102.11" y="375.17" width="10.08" height="9.09" fill="#9695cf"/>
<rect x="116.00" y="375.17" width="10.08" height="9.09" fill="#f68e92"/>
<rect x="126.03" y="375.17" width="10.08" height="9.09" fill="#d8d7ee"/>
<rect x="136.06" y="375.17" width="10.08" height="9.09" fill="#ef333a"/>
<rect x="146.09" y="375.17" width="10.08" height="9.09" fill="#ed1c24"/>
<rect x="156.12" y="375.17" width="10.08" height="9.09" fill="#ef333a"/>
<rect x="31.90" y="384.21" width="10.08" height="9.09" fill="#3953a4"/>
<rect x="41.93" y="384.21" width="10.08" height="9.09" fill="#3953a4"/>
<rect x="51.96" y="384.21" width="10.08" height="9.09" fill="#f9f9fc"/>
<rect x="61.99" y="384.21" width="10.08" height="9.09" fill="#5864b1"/>
<rect x="72.02" y="384.21" width="10.08" height="9.09" fill="#4359a8"/>
<rect x="82.05" y="384.21" width="10.08" height="9.09" fill="#4d5fad"/>
<rect x="92.08" y="384.21" width="10.08" height="9.09" fill="#3953a4"/>
<rect x="102.11" y="384.21" width="10.08" height="9.09" fill="#6c70ba"/>
<rect x="116.00" y="384.21" width="10.08" height="9.09" fill="#f4777c"/>
<rect x="126.03" y="384.21" width="10.08" height="9.09" fill="#d8d7ee"/>
<rect x="136.06" y="384.21" width="10.08" height="9.09" fill="#ef333a"/>
<rect x="146.09" y="384.21" width="10.08" height="9.09" fill="#ed1c24"/>
<rect x="156.12" y="384.21" width="10.08" height="9.09" fill="#ed1c24"/>
<rect x="31.90" y="393.26" width="10.08" height="9.09" fill="#3953a4"/>
<rect x="41.93" y="393.26" width="10.08" height="9.09" fill="#3953a4"/>
<rect x="51.96" y="393.26" width="10.08" height="9.09" fill="#d8d7ee"/>
<rect x="61.99" y="393.26" width="10.08" height="9.09" fill="#4d5fad"/>
<rect x="72.02" y="393.26" width="10.08" height="9.09" fill="#5864b1"/>
<rect x="82.05" y="393.26" width="10.08" height="9.09" fill="#6c70ba"/>
<rect x="92.08" y="393.26" width="10.08" height="9.09" fill="#3953a4"/>
<rect x="102.11" y="393.26" width="10.08" height="9.09" fill="#4d5fad"/>
<rect x="116.00" y="393.26" width="10.08" height="9.09" fill="#f4777c"/>
<rect x="126.03" y="393.26" width="10.08" height="9.09" fill="#efeff8"/>
<rect x="136.06" y="393.26" width="10.08" height="9.09" fill="#f03e45"/>
<rect x="146.09" y="393.26" width="10.08" height="9.09" fill="#ed1c24"/>
<rect x="156.12" y="393.26" width="10.08" height="9.09" fill="#ef333a"/>
<rect x="31.90" y="402.30" width="10.08" height="9.09" fill="#3953a4"/>
<rect x="41.93" y="402.30" width="10.08" height="9.09" fill="#3953a4"/>
<rect x="51.96" y="402.30" width="10.08" height="9.09" fill="#d8d7ee"/>
<rect x="61.99" y="402.30" width="10.08" height="9.09" fill="#8182c4"/>
<rect x="72.02" y="402.30" width="10.08" height="9.09" fill="#4d5fad"/>
<rect x="82.05" y="402.30" width="10.08" height="9.09" fill="#3953a4"/>
<rect x="92.08" y="402.30" width="10.08" height="9.09" fill="#3953a4"/>
<rect x="102.11" y="402.30" width="10.08" height="9.09" fill="#626ab6"/>
<rect x="116.00" y="402.30" width="10.08" height="9.09" fill="#f36b71"/>
<rect x="126.03" y="402.30" width="10.08" height="9.09" fill="#efeff8"/>
<rect x="136.06" y="402.30" width="10.08" height="9.09" fill="#ef333a"/>
<rect x="146.09" y="402.30" width="10.08" height="9.09" fill="#ed1c24"/>
<rect x="156.12" y="402.30" width="10.08" height="9.09" fill="#f03e45"/>
<rect x="31.90" y="411.34" width="10.08" height="9.09" fill="#3953a4"/>
<rect x="41.93" y="411.34" width="10.08" height="9.09" fill="#3953a4"/>
<rect x="51.96" y="411.34" width="10.08" height="9.09" fill="#f3f3fa"/>
<rect x="61.99" y="411.34" width="10.08" height="9.09" fill="#4d5fad"/>
<rect x="72.02" y="411.34" width="10.08" height="9.09" fill="#4d5fad"/>
<rect x="82.05" y="411.34" width="10.08" height="9.09" fill="#4d5fad"/>
<rect x="92.08" y="411.34" width="10.08" height="9.09" fill="#3953a4"/>
<rect x="102.11" y="411.34" width="10.08" height="9.09" fill="#5864b1"/>
<rect x="116.00" y="411.34" width="10.08" height="9.09" fill="#f36b71"/>
<rect x="126.03" y="411.34" width="10.08" height="9.09" fill="#c5c4e6"/>
<rect x="136.06" y="411.34" width="10.08" height="9.09" fill="#ef333a"/>
<rect x="146.09" y="411.34" width="10.08" height="9.09" fill="#ed1c24"/>
<rect x="156.12" y="411.34" width="10.08" height="9.09" fill="#f14950"/>
<rect x="31.90" y="420.39" width="10.08" height="9.09" fill="#f58287"/>
<rect x="41.93" y="420.39" width="10.08" height="9.09" fill="#f4777c"/>
<rect x="51.96" y="420.39" width="10.08" height="9.09" fill="#f03e45"/>
<rect x="61.99" y="420.39" width="10.08" height="9.09" fill="#f8a4a7"/>
<rect x="72.02" y="420.39" width="10.08" height="9.09" fill="#f58287"/>
<rect x="82.05" y="420.39" width="10.08" height="9.09" fill="#5864b1"/>
<rect x="92.08" y="420.39" width="10.08" height="9.09" fill="#fac6c8"/>
<rect x="102.11" y="420.39" width="10.08" height="9.09" fill="#f2555b"/>
<rect x="116.00" y="420.39" width="10.08" height="9.09" fill="#5864b1"/>
<rect x="126.03" y="420.39" width="10.08" height="9.09" fill="#fac6c8"/>
<rect x="136.06" y="420.39" width="10.08" height="9.09" fill="#b2b1dd"/>
<rect x="146.09" y="420.39" width="10.08" height="9.09" fill="#3953a4"/>
<rect x="156.12" y="420.39" width="10.08" height="9.09" fill="#4359a8"/>
<rect x="31.90" y="429.43" width="10.08" height="9.09" fill="#e7e7f5"/>
<rect x="41.93" y="429.43" width="10.08" height="9.09" fill="#f68e92"/>
<rect x="51.96" y="429.43" width="10.08" height="9.09" fill="#f8a4a7"/>
<rect x="61.99" y="429.43" width="10.08" height="9.09" fill="#f36b71"/>
<rect x="72.02" y="429.43" width="10.08" height="9.09" fill="#fbd2d3"/>
<rect x="82.05" y="429.43" width="10.08" height="9.09" fill="#e7e7f5"/>
<rect x="92.08" y="429.43" width="10.08" height="9.09" fill="#f03e45"/>
<rect x="102.11" y="429.43" width="10.08" height="9.09" fill="#fef4f4"/>
<rect x="116.00" y="429.43" width="10.08" height="9.09" fill="#fcddde"/>
<rect x="126.03" y="429.43" width="10.08" height="9.09" fill="#fde4e5"/>
<rect x="136.06" y="429.43" width="10.08" height="9.09" fill="#4d5fad"/>
<rect x="146.09" y="429.43" width="10.08" height="9.09" fill="#3953a4"/>
<rect x="156.12" y="429.43" width="10.08" height="9.09" fill="#4d5fad"/>
<rect x="31.90" y="438.47" width="10.08" height="9.09" fill="#7679bf"/>
<rect x="41.93" y="438.47" width="10.08" height="9.09" fill="#fbd2d3"/>
<rect x="51.96" y="438.47" width="10.08" height="9.09" fill="#f68e92"/>
<rect x="61.99" y="438.47" width="10.08" height="9.09" fill="#f4777c"/>
<rect x="72.02" y="438.47" width="10.08" height="9.09" fill="#fde4e5"/>
<rect x="82.05" y="438.47" width="10.08" height="9.09" fill="#bcbae1"/>
<rect x="92.08" y="438.47" width="10.08" height="9.09" fill="#f14950"/>
<rect x="102.11" y="438.47" width="10.08" height="9.09" fill="#f9f9fc"/>
<rect x="116.00" y="438.47" width="10.08" height="9.09" fill="#f8a4a7"/>
<rect x="126.03" y="438.47" width="10.08" height="9.09" fill="#fde4e5"/>
<rect x="136.06" y="438.47" width="10.08" height="9.09" fill="#4d5fad"/>
<rect x="146.09" y="438.47" width="10.08" height="9.09" fill="#3953a4"/>
<rect x="156.12" y="438.47" width="10.08" height="9.09" fill="#6c70ba"/>
<rect x="31.90" y="447.52" width="10.08" height="9.09" fill="#f14950"/>
<rect x="41.93" y="447.52" width="10.08" height="9.09" fill="#ee272f"/>
<rect x="51.96" y="447.52" width="10.08" height="9.09" fill="#f3f3fa"/>
<rect x="61.99" y="447.52" width="10.08" height="9.09" fill="#f36b71"/>
<rect x="72.02" y="447.52" width="10.08" height="9.09" fill="#ef333a"/>
<rect x="82.05" y="447.52" width="10.08" height="9.09" fill="#f14950"/>
<rect x="92.08" y="447.52" width="10.08" height="9.09" fill="#ed1c24"/>
<rect x="102.11" y="447.52" width="10.08" height="9.09" fill="#f36b71"/>
<rect x="116.00" y="447.52" width="10.08" height="9.09" fill="#feeded"/>
<rect x="126.03" y="447.52" width="10.08" height="9.09" fill="#bcbae1"/>
<rect x="136.06" y="447.52" width="10.08" height="9.09" fill="#3953a4"/>
<rect x="146.09" y="447.52" width="10.08" height="9.09" fill="#3953a4"/>
<rect x="156.12" y="447.52" width="10.08" height="9.09" fill="#3953a4"/>
<rect x="31.90" y="456.56" width="10.08" height="9.09" fill="#fac6c8"/>
<rect x="41.93" y="456.56" width="10.08" height="9.09" fill="#f14950"/>
<rect x="51.96" y="456.56" width="10.08" height="9.09" fill="#f14950"/>
<rect x="61.99" y="456.56" width="10.08" height="9.09" fill="#f2555b"/>
<rect x="72.02" y="456.56" width="10.08" height="9.09" fill="#f7999c"/>
<rect x="82.05" y="456.56" width="10.08" height="9.09" fill="#a09ed4"/>
<rect x="92.08" y="456.56" width="10.08" height="9.09" fill="#ed1c24"/>
<rect x="102.11" y="456.56" width="10.08" height="9.09" fill="#f26066"/>
<rect x="116.00" y="456.56" width="10.08" height="9.09" fill="#f3f3fa"/>
<rect x="126.03" y="456.56" width="10.08" height="9.09" fill="#feeded"/>
<rect x="136.06" y="456.56" width="10.08" height="9.09" fill="#4d5fad"/>
<rect x="146.09" y="456.56" width="10.08" height="9.09" fill="#3953a4"/>
<rect x="156.12" y="456.56" width="10.08" height="9.09" fill="#3953a4"/>
<rect x="8.1" y="339.0" width="20.6" height="126.60" fill="#446cb4"/>
</g>
<text transform="translate(18.50,101.30) rotate(-90) scale(1.08,1)" y="3.20" font-size="8.89" text-anchor="middle" fill="#fff" stroke="#fff" stroke-width="0" textLength="28.24" lengthAdjust="spacingAndGlyphs">C01D01</text>
<text transform="translate(171.00,40.95) scale(1.08,1)" y="2.53" font-size="7.04" text-anchor="start" fill="#111" stroke="#111" stroke-width="0.16">CTNNB1 targets</text>
<text transform="translate(171.00,50.09) scale(1.08,1)" y="2.53" font-size="7.04" text-anchor="start" fill="#111" stroke="#111" stroke-width="0.16">EZH2 targets</text>
<text transform="translate(171.00,59.22) scale(1.08,1)" y="2.53" font-size="7.04" text-anchor="start" fill="#111" stroke="#111" stroke-width="0.16">TCF7 targets</text>
<text transform="translate(171.00,68.36) scale(1.08,1)" y="2.53" font-size="7.04" text-anchor="start" fill="#111" stroke="#111" stroke-width="0.16">EGR1 targets</text>
<text transform="translate(171.00,77.49) scale(1.08,1)" y="2.53" font-size="7.04" text-anchor="start" fill="#111" stroke="#111" stroke-width="0.16">TCF7L2 targets</text>
<text transform="translate(171.00,86.62) scale(1.08,1)" y="2.53" font-size="7.04" text-anchor="start" fill="#111" stroke="#111" stroke-width="0.16">Module 6: naive T cell/WNT signaling</text>
<text transform="translate(171.00,95.76) scale(1.08,1)" y="2.53" font-size="7.04" text-anchor="start" fill="#111" stroke="#111" stroke-width="0.16">Module 7: T<tspan font-size="4.6" dy="1.6">reg</tspan><tspan dy="-1.6"> module</tspan></text>
<text transform="translate(171.00,104.90) scale(1.08,1)" y="2.53" font-size="7.04" text-anchor="start" fill="#111" stroke="#111" stroke-width="0.16">DNMT3a targeted TFs</text>
<text transform="translate(171.00,114.03) scale(1.08,1)" y="2.53" font-size="7.04" text-anchor="start" fill="#111" stroke="#111" stroke-width="0.16">STAT6 targets</text>
<text transform="translate(171.00,123.17) scale(1.08,1)" y="2.53" font-size="7.04" text-anchor="start" fill="#111" stroke="#111" stroke-width="0.16">Module 1: effector CD8 function</text>
<text transform="translate(171.00,132.30) scale(1.08,1)" y="2.53" font-size="7.04" text-anchor="start" fill="#111" stroke="#111" stroke-width="0.16">Module 2: IFN inducible genes</text>
<text transform="translate(171.00,141.44) scale(1.08,1)" y="2.53" font-size="7.04" text-anchor="start" fill="#111" stroke="#111" stroke-width="0.16">Module 3: antiviral, chemokines</text>
<text transform="translate(171.00,150.57) scale(1.08,1)" y="2.53" font-size="7.04" text-anchor="start" fill="#111" stroke="#111" stroke-width="0.16">Module 4: LPS treated monocyte</text>
<text transform="translate(171.00,159.70) scale(1.08,1)" y="2.53" font-size="7.04" text-anchor="start" fill="#111" stroke="#111" stroke-width="0.16">Module 5: TLR1/2 monocyte</text>
<text transform="translate(18.50,250.10) rotate(-90) scale(1.08,1)" y="3.20" font-size="8.89" text-anchor="middle" fill="#0a2a10" stroke="#0a2a10" stroke-width="0.16" textLength="29.54" lengthAdjust="spacingAndGlyphs">C01D02</text>
<text transform="translate(171.00,191.40) scale(1.08,1)" y="2.53" font-size="7.04" text-anchor="start" fill="#111" stroke="#111" stroke-width="0.16">CTNNB1 targets</text>
<text transform="translate(171.00,200.53) scale(1.08,1)" y="2.53" font-size="7.04" text-anchor="start" fill="#111" stroke="#111" stroke-width="0.16">EZH2 targets</text>
<text transform="translate(171.00,209.65) scale(1.08,1)" y="2.53" font-size="7.04" text-anchor="start" fill="#111" stroke="#111" stroke-width="0.16">TCF7 targets</text>
<text transform="translate(171.00,218.78) scale(1.08,1)" y="2.53" font-size="7.04" text-anchor="start" fill="#111" stroke="#111" stroke-width="0.16">EGR1 targets</text>
<text transform="translate(171.00,227.91) scale(1.08,1)" y="2.53" font-size="7.04" text-anchor="start" fill="#111" stroke="#111" stroke-width="0.16">TCF7L2 targets</text>
<text transform="translate(171.00,237.04) scale(1.08,1)" y="2.53" font-size="7.04" text-anchor="start" fill="#111" stroke="#111" stroke-width="0.16">Module 6: naive T cell/WNT signaling</text>
<text transform="translate(171.00,246.16) scale(1.08,1)" y="2.53" font-size="7.04" text-anchor="start" fill="#111" stroke="#111" stroke-width="0.16">Module 7: T<tspan font-size="4.6" dy="1.6">reg</tspan><tspan dy="-1.6"> module</tspan></text>
<text transform="translate(171.00,255.29) scale(1.08,1)" y="2.53" font-size="7.04" text-anchor="start" fill="#111" stroke="#111" stroke-width="0.16">DNMT3a targeted TFs</text>
<text transform="translate(171.00,264.42) scale(1.08,1)" y="2.53" font-size="7.04" text-anchor="start" fill="#111" stroke="#111" stroke-width="0.16">STAT6 targets</text>
<text transform="translate(171.00,273.54) scale(1.08,1)" y="2.53" font-size="7.04" text-anchor="start" fill="#111" stroke="#111" stroke-width="0.16">Module 1: effector CD8 function</text>
<text transform="translate(171.00,282.67) scale(1.08,1)" y="2.53" font-size="7.04" text-anchor="start" fill="#111" stroke="#111" stroke-width="0.16">Module 2: IFN inducible genes</text>
<text transform="translate(171.00,291.80) scale(1.08,1)" y="2.53" font-size="7.04" text-anchor="start" fill="#111" stroke="#111" stroke-width="0.16">Module 3: antiviral, chemokines</text>
<text transform="translate(171.00,300.92) scale(1.08,1)" y="2.53" font-size="7.04" text-anchor="start" fill="#111" stroke="#111" stroke-width="0.16">Module 4: LPS treated monocyte</text>
<text transform="translate(171.00,310.05) scale(1.08,1)" y="2.53" font-size="7.04" text-anchor="start" fill="#111" stroke="#111" stroke-width="0.16">Module 5: TLR1/2 monocyte</text>
<text transform="translate(18.50,403.00) rotate(-90) scale(1.08,1)" y="3.20" font-size="8.89" text-anchor="middle" fill="#fff" stroke="#fff" stroke-width="0" textLength="14.91" lengthAdjust="spacingAndGlyphs">EOT</text>
<text transform="translate(169.70,344.20) scale(1.08,1)" y="2.53" font-size="7.04" text-anchor="start" fill="#111" stroke="#111" stroke-width="0.16">CTNNB1 targets</text>
<text transform="translate(169.70,353.30) scale(1.08,1)" y="2.53" font-size="7.04" text-anchor="start" fill="#111" stroke="#111" stroke-width="0.16">EZH2 targets</text>
<text transform="translate(169.70,362.40) scale(1.08,1)" y="2.53" font-size="7.04" text-anchor="start" fill="#111" stroke="#111" stroke-width="0.16">TCF7 targets</text>
<text transform="translate(169.70,371.50) scale(1.08,1)" y="2.53" font-size="7.04" text-anchor="start" fill="#111" stroke="#111" stroke-width="0.16">EGR1 targets</text>
<text transform="translate(169.70,380.60) scale(1.08,1)" y="2.53" font-size="7.04" text-anchor="start" fill="#111" stroke="#111" stroke-width="0.16">TCF7L2 targets</text>
<text transform="translate(169.70,389.70) scale(1.08,1)" y="2.53" font-size="7.04" text-anchor="start" fill="#111" stroke="#111" stroke-width="0.16">Module 6: naive T cell/WNT signaling</text>
<text transform="translate(169.70,398.80) scale(1.08,1)" y="2.53" font-size="7.04" text-anchor="start" fill="#111" stroke="#111" stroke-width="0.16">Module 7: T<tspan font-size="4.6" dy="1.6">reg</tspan><tspan dy="-1.6"> module</tspan></text>
<text transform="translate(169.70,407.90) scale(1.08,1)" y="2.53" font-size="7.04" text-anchor="start" fill="#111" stroke="#111" stroke-width="0.16">DNMT3a targeted TFs</text>
<text transform="translate(169.70,417.00) scale(1.08,1)" y="2.53" font-size="7.04" text-anchor="start" fill="#111" stroke="#111" stroke-width="0.16">STAT6 targets</text>
<text transform="translate(169.70,426.10) scale(1.08,1)" y="2.53" font-size="7.04" text-anchor="start" fill="#111" stroke="#111" stroke-width="0.16">Module 1: effector CD8 function</text>
<text transform="translate(169.70,435.20) scale(1.08,1)" y="2.53" font-size="7.04" text-anchor="start" fill="#111" stroke="#111" stroke-width="0.16">Module 2: IFN inducible genes</text>
<text transform="translate(169.70,444.30) scale(1.08,1)" y="2.53" font-size="7.04" text-anchor="start" fill="#111" stroke="#111" stroke-width="0.16">Module 3: antiviral, chemokines</text>
<text transform="translate(169.70,453.40) scale(1.08,1)" y="2.53" font-size="7.04" text-anchor="start" fill="#111" stroke="#111" stroke-width="0.16">Module 4: LPS treated monocyte</text>
<text transform="translate(169.70,462.50) scale(1.08,1)" y="2.53" font-size="7.04" text-anchor="start" fill="#111" stroke="#111" stroke-width="0.16">Module 5: TLR1/2 monocyte</text>
<text transform="translate(36.91,471.30) scale(1.08,1)" y="2.10" font-size="5.83" text-anchor="middle" fill="#111" stroke="#111" stroke-width="0.08">8</text>
<text transform="translate(46.95,471.30) scale(1.08,1)" y="2.10" font-size="5.83" text-anchor="middle" fill="#111" stroke="#111" stroke-width="0.08">15</text>
<text transform="translate(56.97,471.30) scale(1.08,1)" y="2.10" font-size="5.83" text-anchor="middle" fill="#111" stroke="#111" stroke-width="0.08">23</text>
<text transform="translate(67.00,471.30) scale(1.08,1)" y="2.10" font-size="5.83" text-anchor="middle" fill="#111" stroke="#111" stroke-width="0.08">22</text>
<text transform="translate(77.03,471.30) scale(1.08,1)" y="2.10" font-size="5.83" text-anchor="middle" fill="#111" stroke="#111" stroke-width="0.08">28</text>
<text transform="translate(87.06,471.30) scale(1.08,1)" y="2.10" font-size="5.83" text-anchor="middle" fill="#111" stroke="#111" stroke-width="0.08">14</text>
<text transform="translate(97.09,471.30) scale(1.08,1)" y="2.10" font-size="5.83" text-anchor="middle" fill="#111" stroke="#111" stroke-width="0.08">7</text>
<text transform="translate(107.12,471.30) scale(1.08,1)" y="2.10" font-size="5.83" text-anchor="middle" fill="#111" stroke="#111" stroke-width="0.08">9</text>
<text transform="translate(121.02,471.30) scale(1.08,1)" y="2.10" font-size="5.83" text-anchor="middle" fill="#111" stroke="#111" stroke-width="0.08">30</text>
<text transform="translate(131.04,471.30) scale(1.08,1)" y="2.10" font-size="5.83" text-anchor="middle" fill="#111" stroke="#111" stroke-width="0.08">1</text>
<text transform="translate(141.07,471.30) scale(1.08,1)" y="2.10" font-size="5.83" text-anchor="middle" fill="#111" stroke="#111" stroke-width="0.08">4</text>
<text transform="translate(151.10,471.30) scale(1.08,1)" y="2.10" font-size="5.83" text-anchor="middle" fill="#111" stroke="#111" stroke-width="0.08">2</text>
<text transform="translate(161.13,471.30) scale(1.08,1)" y="2.10" font-size="5.83" text-anchor="middle" fill="#111" stroke="#111" stroke-width="0.08">13</text>
<text transform="translate(99.00,483.60) scale(1.08,1)" y="2.53" font-size="7.04" text-anchor="middle" fill="#111" stroke="#111" stroke-width="0.16">Participant ID</text>
<rect x="322.2" y="35.20" width="9.4" height="9.9" fill="#6f3f9f"/>
<rect x="322.2" y="45.07" width="9.4" height="9.9" fill="#9d70b6"/>
<rect x="322.2" y="54.94" width="9.4" height="9.9" fill="#d9c0de"/>
<text transform="translate(335.20,39.40) scale(1.08,1)" y="2.20" font-size="6.11" text-anchor="start" fill="#111" stroke="#111" stroke-width="0.08">2.5</text>
<text transform="translate(335.20,63.40) scale(1.08,1)" y="2.20" font-size="6.11" text-anchor="start" fill="#111" stroke="#111" stroke-width="0.08">1.0</text>
<text transform="translate(305.30,50.20) rotate(-90) scale(1.08,1)" y="2.60" font-size="7.22" text-anchor="middle" fill="#111" stroke="#111" stroke-width="0.16">log</text>
<text transform="translate(314.40,50.40) rotate(-90) scale(1.08,1)" y="2.43" font-size="6.76" text-anchor="middle" fill="#111" stroke="#111" stroke-width="0.16">(HIV DNA)</text>
<defs><linearGradient id="slea" x1="0" y1="0" x2="0" y2="1"><stop offset="0" stop-color="#ed1c24"/><stop offset="0.29" stop-color="#ed1c24"/><stop offset="0.5" stop-color="#ffffff"/><stop offset="0.553" stop-color="#e0def1"/><stop offset="0.605" stop-color="#aca8d8"/><stop offset="0.658" stop-color="#6c6eb8"/><stop offset="0.71" stop-color="#3953a4"/><stop offset="1" stop-color="#3953a4"/></linearGradient></defs>
<rect x="321.3" y="91.1" width="9.3" height="131.1" fill="url(#slea)"/>
<text transform="translate(335.20,106.30) scale(1.08,1)" y="2.20" font-size="6.11" text-anchor="start" fill="#111" stroke="#111" stroke-width="0.08">2</text>
<text transform="translate(335.20,131.70) scale(1.08,1)" y="2.20" font-size="6.11" text-anchor="start" fill="#111" stroke="#111" stroke-width="0.08">1</text>
<text transform="translate(335.20,156.40) scale(1.08,1)" y="2.20" font-size="6.11" text-anchor="start" fill="#111" stroke="#111" stroke-width="0.08">0</text>
<text transform="translate(335.20,181.70) scale(1.08,1)" y="2.20" font-size="6.11" text-anchor="start" fill="#111" stroke="#111" stroke-width="0.08">−1</text>
<text transform="translate(335.20,207.70) scale(1.08,1)" y="2.20" font-size="6.11" text-anchor="start" fill="#111" stroke="#111" stroke-width="0.08">−2</text>
<text transform="translate(305.40,154.70) rotate(-90) scale(1.08,1)" y="2.50" font-size="6.94" text-anchor="middle" fill="#111" stroke="#111" stroke-width="0.16">SLEA Scores</text>
<text transform="translate(314.30,154.70) rotate(-90) scale(1.08,1)" y="2.60" font-size="7.22" text-anchor="middle" fill="#111" stroke="#111" stroke-width="0.16">(row-normalized z-score)</text>
<rect x="384.7" y="6" width="124.60" height="15.10" fill="#7f7f7f"/>
<text transform="translate(447.70,13.35) scale(1.08,1)" y="2.47" font-size="6.85" text-anchor="middle" fill="#fff" stroke="#fff" stroke-width="0">IFN response</text>
<rect x="552.2" y="5.7" width="125.10" height="15.40" fill="#7f7f7f"/>
<text transform="translate(618.10,13.20) scale(1.08,1)" y="2.47" font-size="6.85" text-anchor="middle" fill="#fff" stroke="#fff" stroke-width="0">Monocytes</text>
<rect x="384.7" y="150.5" width="203.50" height="15.10" fill="#7f7f7f"/>
<text transform="translate(489.90,157.85) scale(1.08,1)" y="2.47" font-size="6.85" text-anchor="middle" fill="#fff" stroke="#fff" stroke-width="0">T cell responses</text>
<path d="M383.4 26.6V109.4H423.2" fill="none" stroke="#3c3c3c" stroke-width="0.75"/>
<path d="M380.09999999999997 26.6H383.4" stroke="#3c3c3c" stroke-width="0.6"/>
<text transform="translate(377.80,26.60) scale(1.08,1)" y="2.20" font-size="6.11" text-anchor="end" fill="#111" stroke="#111" stroke-width="0.08">1</text>
<path d="M380.09999999999997 47.4H383.4" stroke="#3c3c3c" stroke-width="0.6"/>
<text transform="translate(377.80,47.40) scale(1.08,1)" y="2.20" font-size="6.11" text-anchor="end" fill="#111" stroke="#111" stroke-width="0.08">0</text>
<path d="M380.09999999999997 68.0H383.4" stroke="#3c3c3c" stroke-width="0.6"/>
<text transform="translate(377.80,68.00) scale(1.08,1)" y="2.20" font-size="6.11" text-anchor="end" fill="#111" stroke="#111" stroke-width="0.08">−1</text>
<path d="M380.09999999999997 88.7H383.4" stroke="#3c3c3c" stroke-width="0.6"/>
<text transform="translate(377.80,88.70) scale(1.08,1)" y="2.20" font-size="6.11" text-anchor="end" fill="#111" stroke="#111" stroke-width="0.08">−2</text>
<path d="M380.09999999999997 109.4H383.4" stroke="#3c3c3c" stroke-width="0.6"/>
<text transform="translate(377.80,109.40) scale(1.08,1)" y="2.20" font-size="6.11" text-anchor="end" fill="#111" stroke="#111" stroke-width="0.08">−3</text>
<path d="M391.4 109.4V112.60000000000001" stroke="#3c3c3c" stroke-width="0.6"/>
<path d="M403.3 109.4V112.60000000000001" stroke="#3c3c3c" stroke-width="0.6"/>
<path d="M415.2 109.4V112.60000000000001" stroke="#3c3c3c" stroke-width="0.6"/>
<text transform="translate(391.40,116.20) rotate(-90) scale(1.08,1)" y="2.43" font-size="6.76" text-anchor="end" fill="#111" stroke="#111" stroke-width="0.16">C01D01</text>
<text transform="translate(403.30,116.20) rotate(-90) scale(1.08,1)" y="2.43" font-size="6.76" text-anchor="end" fill="#111" stroke="#111" stroke-width="0.16">C01D02</text>
<text transform="translate(415.20,116.20) rotate(-90) scale(1.08,1)" y="2.43" font-size="6.76" text-anchor="end" fill="#111" stroke="#111" stroke-width="0.16">EOT</text>
<path d="M391.4 74V91.1M389.2 74H393.59999999999997M389.2 91.1H393.59999999999997" stroke="#f07ab6" stroke-width="0.7" fill="none"/>
<path d="M403.3 45.4V54.6M401.1 45.4H405.5M401.1 54.6H405.5" stroke="#f07ab6" stroke-width="0.7" fill="none"/>
<path d="M415.2 54.1V73.5M413.0 54.1H417.4M413.0 73.5H417.4" stroke="#f07ab6" stroke-width="0.7" fill="none"/>
<path d="M391.4 82.4L403.3 49.6L415.2 64.0" fill="none" stroke="#c63a94" stroke-width="0.8"/>
<circle cx="391.4" cy="82.4" r="1.9" fill="#e6308a"/>
<circle cx="403.3" cy="49.6" r="1.9" fill="#e6308a"/>
<circle cx="415.2" cy="64.0" r="1.9" fill="#e6308a"/>
<path d="M391.4 52.1V63.3M389.2 52.1H393.59999999999997M389.2 63.3H393.59999999999997" stroke="#82b9e8" stroke-width="0.7" fill="none"/>
<path d="M403.3 31.5V42.7M401.1 31.5H405.5M401.1 42.7H405.5" stroke="#82b9e8" stroke-width="0.7" fill="none"/>
<path d="M415.2 33.5V40.5M413.0 33.5H417.4M413.0 40.5H417.4" stroke="#82b9e8" stroke-width="0.7" fill="none"/>
<path d="M391.4 57.6L403.3 37.5L415.2 37.0" fill="none" stroke="#3d8bcd" stroke-width="0.8"/>
<circle cx="391.4" cy="57.6" r="1.9" fill="#3d8bcd"/>
<circle cx="403.3" cy="37.5" r="1.9" fill="#3d8bcd"/>
<circle cx="415.2" cy="37.0" r="1.9" fill="#3d8bcd"/>
<text transform="translate(390.60,46.70) scale(1.08,1)" y="2.20" font-size="6.11" text-anchor="middle" fill="#111" stroke="#111" stroke-width="0.08">0.03</text>
<text transform="translate(417.00,29.00) scale(1.08,1)" y="2.20" font-size="6.11" text-anchor="middle" fill="#111" stroke="#111" stroke-width="0.08">0.03</text>
<text transform="translate(355.70,68.30) rotate(-90) scale(1.08,1)" y="2.53" font-size="7.04" text-anchor="middle" fill="#111" stroke="#111" stroke-width="0.16">Module 2:</text>
<text transform="translate(364.40,68.30) rotate(-90) scale(1.08,1)" y="2.53" font-size="7.04" text-anchor="middle" fill="#111" stroke="#111" stroke-width="0.16">IFN inducible genes</text>
<path d="M467.0 26.6V109.4H506.3" fill="none" stroke="#3c3c3c" stroke-width="0.75"/>
<path d="M463.7 26.6H467.0" stroke="#3c3c3c" stroke-width="0.6"/>
<text transform="translate(461.40,26.60) scale(1.08,1)" y="2.20" font-size="6.11" text-anchor="end" fill="#111" stroke="#111" stroke-width="0.08">1</text>
<path d="M463.7 54.2H467.0" stroke="#3c3c3c" stroke-width="0.6"/>
<text transform="translate(461.40,54.20) scale(1.08,1)" y="2.20" font-size="6.11" text-anchor="end" fill="#111" stroke="#111" stroke-width="0.08">0</text>
<path d="M463.7 81.8H467.0" stroke="#3c3c3c" stroke-width="0.6"/>
<text transform="translate(461.40,81.80) scale(1.08,1)" y="2.20" font-size="6.11" text-anchor="end" fill="#111" stroke="#111" stroke-width="0.08">−1</text>
<path d="M463.7 109.4H467.0" stroke="#3c3c3c" stroke-width="0.6"/>
<text transform="translate(461.40,109.40) scale(1.08,1)" y="2.20" font-size="6.11" text-anchor="end" fill="#111" stroke="#111" stroke-width="0.08">−2</text>
<path d="M474.8 109.4V112.60000000000001" stroke="#3c3c3c" stroke-width="0.6"/>
<path d="M487 109.4V112.60000000000001" stroke="#3c3c3c" stroke-width="0.6"/>
<path d="M498.9 109.4V112.60000000000001" stroke="#3c3c3c" stroke-width="0.6"/>
<text transform="translate(474.80,116.20) rotate(-90) scale(1.08,1)" y="2.43" font-size="6.76" text-anchor="end" fill="#111" stroke="#111" stroke-width="0.16">C01D01</text>
<text transform="translate(487.00,116.20) rotate(-90) scale(1.08,1)" y="2.43" font-size="6.76" text-anchor="end" fill="#111" stroke="#111" stroke-width="0.16">C01D02</text>
<text transform="translate(498.90,116.20) rotate(-90) scale(1.08,1)" y="2.43" font-size="6.76" text-anchor="end" fill="#111" stroke="#111" stroke-width="0.16">EOT</text>
<path d="M474.8 85.1V105.5M472.6 85.1H477.0M472.6 105.5H477.0" stroke="#f07ab6" stroke-width="0.7" fill="none"/>
<path d="M487 51.6V62.5M484.8 51.6H489.2M484.8 62.5H489.2" stroke="#f07ab6" stroke-width="0.7" fill="none"/>
<path d="M498.9 59.1V81.9M496.7 59.1H501.09999999999997M496.7 81.9H501.09999999999997" stroke="#f07ab6" stroke-width="0.7" fill="none"/>
<path d="M474.8 95.6L487 57.1L498.9 70.2" fill="none" stroke="#c63a94" stroke-width="0.8"/>
<circle cx="474.8" cy="95.6" r="1.9" fill="#e6308a"/>
<circle cx="487" cy="57.1" r="1.9" fill="#e6308a"/>
<circle cx="498.9" cy="70.2" r="1.9" fill="#e6308a"/>
<path d="M474.8 64V78.9M472.6 64H477.0M472.6 78.9H477.0" stroke="#82b9e8" stroke-width="0.7" fill="none"/>
<path d="M487 31V49.1M484.8 31H489.2M484.8 49.1H489.2" stroke="#82b9e8" stroke-width="0.7" fill="none"/>
<path d="M498.9 41V51.4M496.7 41H501.09999999999997M496.7 51.4H501.09999999999997" stroke="#82b9e8" stroke-width="0.7" fill="none"/>
<path d="M474.8 71.5L487 40.2L498.9 46.2" fill="none" stroke="#3d8bcd" stroke-width="0.8"/>
<circle cx="474.8" cy="71.5" r="1.9" fill="#3d8bcd"/>
<circle cx="487" cy="40.2" r="1.9" fill="#3d8bcd"/>
<circle cx="498.9" cy="46.2" r="1.9" fill="#3d8bcd"/>
<text transform="translate(476.00,61.30) scale(1.08,1)" y="2.20" font-size="6.11" text-anchor="middle" fill="#111" stroke="#111" stroke-width="0.08">0.04</text>
<text transform="translate(499.40,35.50) scale(1.08,1)" y="2.20" font-size="6.11" text-anchor="middle" fill="#111" stroke="#111" stroke-width="0.08">0.08</text>
<text transform="translate(439.30,69.50) rotate(-90) scale(1.08,1)" y="2.53" font-size="7.04" text-anchor="middle" fill="#111" stroke="#111" stroke-width="0.16">Module 3:</text>
<text transform="translate(448.00,69.50) rotate(-90) scale(1.08,1)" y="2.53" font-size="7.04" text-anchor="middle" fill="#111" stroke="#111" stroke-width="0.16">antivirals, chemokines</text>
<path d="M551.1 26.3V109.4H591" fill="none" stroke="#3c3c3c" stroke-width="0.75"/>
<path d="M547.8000000000001 26.3H551.1" stroke="#3c3c3c" stroke-width="0.6"/>
<text transform="translate(545.50,26.30) scale(1.08,1)" y="2.20" font-size="6.11" text-anchor="end" fill="#111" stroke="#111" stroke-width="0.08">2</text>
<path d="M547.8000000000001 42.9H551.1" stroke="#3c3c3c" stroke-width="0.6"/>
<text transform="translate(545.50,42.90) scale(1.08,1)" y="2.20" font-size="6.11" text-anchor="end" fill="#111" stroke="#111" stroke-width="0.08">1</text>
<path d="M547.8000000000001 59.5H551.1" stroke="#3c3c3c" stroke-width="0.6"/>
<text transform="translate(545.50,59.50) scale(1.08,1)" y="2.20" font-size="6.11" text-anchor="end" fill="#111" stroke="#111" stroke-width="0.08">0</text>
<path d="M547.8000000000001 76.1H551.1" stroke="#3c3c3c" stroke-width="0.6"/>
<text transform="translate(545.50,76.10) scale(1.08,1)" y="2.20" font-size="6.11" text-anchor="end" fill="#111" stroke="#111" stroke-width="0.08">−1</text>
<path d="M547.8000000000001 92.5H551.1" stroke="#3c3c3c" stroke-width="0.6"/>
<text transform="translate(545.50,92.50) scale(1.08,1)" y="2.20" font-size="6.11" text-anchor="end" fill="#111" stroke="#111" stroke-width="0.08">−2</text>
<path d="M547.8000000000001 109.4H551.1" stroke="#3c3c3c" stroke-width="0.6"/>
<text transform="translate(545.50,109.40) scale(1.08,1)" y="2.20" font-size="6.11" text-anchor="end" fill="#111" stroke="#111" stroke-width="0.08">−3</text>
<path d="M558.8 109.4V112.60000000000001" stroke="#3c3c3c" stroke-width="0.6"/>
<path d="M571.1 109.4V112.60000000000001" stroke="#3c3c3c" stroke-width="0.6"/>
<path d="M583.3 109.4V112.60000000000001" stroke="#3c3c3c" stroke-width="0.6"/>
<text transform="translate(558.80,116.20) rotate(-90) scale(1.08,1)" y="2.43" font-size="6.76" text-anchor="end" fill="#111" stroke="#111" stroke-width="0.16">C01D01</text>
<text transform="translate(571.10,116.20) rotate(-90) scale(1.08,1)" y="2.43" font-size="6.76" text-anchor="end" fill="#111" stroke="#111" stroke-width="0.16">C01D02</text>
<text transform="translate(583.30,116.20) rotate(-90) scale(1.08,1)" y="2.43" font-size="6.76" text-anchor="end" fill="#111" stroke="#111" stroke-width="0.16">EOT</text>
<path d="M558.8 82.3V97.1M556.5999999999999 82.3H561.0M556.5999999999999 97.1H561.0" stroke="#f07ab6" stroke-width="0.7" fill="none"/>
<path d="M571.1 60.6V70.3M568.9 60.6H573.3000000000001M568.9 70.3H573.3000000000001" stroke="#f07ab6" stroke-width="0.7" fill="none"/>
<path d="M583.3 71.5V86.9M581.0999999999999 71.5H585.5M581.0999999999999 86.9H585.5" stroke="#f07ab6" stroke-width="0.7" fill="none"/>
<path d="M558.8 89.9L571.1 65.4L583.3 79.2" fill="none" stroke="#c63a94" stroke-width="0.8"/>
<circle cx="558.8" cy="89.9" r="1.9" fill="#e6308a"/>
<circle cx="571.1" cy="65.4" r="1.9" fill="#e6308a"/>
<circle cx="583.3" cy="79.2" r="1.9" fill="#e6308a"/>
<path d="M558.8 56.7V66.9M556.5999999999999 56.7H561.0M556.5999999999999 66.9H561.0" stroke="#82b9e8" stroke-width="0.7" fill="none"/>
<path d="M571.1 45.5V53.1M568.9 45.5H573.3000000000001M568.9 53.1H573.3000000000001" stroke="#82b9e8" stroke-width="0.7" fill="none"/>
<path d="M583.3 38.8V46M581.0999999999999 38.8H585.5M581.0999999999999 46H585.5" stroke="#82b9e8" stroke-width="0.7" fill="none"/>
<path d="M558.8 61.6L571.1 49.3L583.3 42.4" fill="none" stroke="#3d8bcd" stroke-width="0.8"/>
<circle cx="558.8" cy="61.6" r="1.9" fill="#3d8bcd"/>
<circle cx="571.1" cy="49.3" r="1.9" fill="#3d8bcd"/>
<circle cx="583.3" cy="42.4" r="1.9" fill="#3d8bcd"/>
<text transform="translate(560.30,52.90) scale(1.08,1)" y="2.20" font-size="6.11" text-anchor="middle" fill="#111" stroke="#111" stroke-width="0.08">0.007</text>
<text transform="translate(571.30,42.20) scale(1.08,1)" y="2.20" font-size="6.11" text-anchor="middle" fill="#111" stroke="#111" stroke-width="0.08">0.02</text>
<text transform="translate(584.60,35.30) scale(1.08,1)" y="2.20" font-size="6.11" text-anchor="middle" fill="#111" stroke="#111" stroke-width="0.08">0.002</text>
<text transform="translate(521.50,69.00) rotate(-90) scale(1.08,1)" y="2.53" font-size="7.04" text-anchor="middle" fill="#111" stroke="#111" stroke-width="0.16">Module 5:</text>
<text transform="translate(531.00,69.00) rotate(-90) scale(1.08,1)" y="2.53" font-size="7.04" text-anchor="middle" fill="#111" stroke="#111" stroke-width="0.16">TLR1/2 monocytes</text>
<path d="M633.9 26.3V109.4H674.3" fill="none" stroke="#3c3c3c" stroke-width="0.75"/>
<path d="M630.6 26.3H633.9" stroke="#3c3c3c" stroke-width="0.6"/>
<text transform="translate(628.30,26.30) scale(1.08,1)" y="2.20" font-size="6.11" text-anchor="end" fill="#111" stroke="#111" stroke-width="0.08">2</text>
<path d="M630.6 42.9H633.9" stroke="#3c3c3c" stroke-width="0.6"/>
<text transform="translate(628.30,42.90) scale(1.08,1)" y="2.20" font-size="6.11" text-anchor="end" fill="#111" stroke="#111" stroke-width="0.08">1</text>
<path d="M630.6 59.5H633.9" stroke="#3c3c3c" stroke-width="0.6"/>
<text transform="translate(628.30,59.50) scale(1.08,1)" y="2.20" font-size="6.11" text-anchor="end" fill="#111" stroke="#111" stroke-width="0.08">0</text>
<path d="M630.6 76.1H633.9" stroke="#3c3c3c" stroke-width="0.6"/>
<text transform="translate(628.30,76.10) scale(1.08,1)" y="2.20" font-size="6.11" text-anchor="end" fill="#111" stroke="#111" stroke-width="0.08">−1</text>
<path d="M630.6 92.5H633.9" stroke="#3c3c3c" stroke-width="0.6"/>
<text transform="translate(628.30,92.50) scale(1.08,1)" y="2.20" font-size="6.11" text-anchor="end" fill="#111" stroke="#111" stroke-width="0.08">−2</text>
<path d="M630.6 109.4H633.9" stroke="#3c3c3c" stroke-width="0.6"/>
<text transform="translate(628.30,109.40) scale(1.08,1)" y="2.20" font-size="6.11" text-anchor="end" fill="#111" stroke="#111" stroke-width="0.08">−3</text>
<path d="M642.3 109.4V112.60000000000001" stroke="#3c3c3c" stroke-width="0.6"/>
<path d="M654.6 109.4V112.60000000000001" stroke="#3c3c3c" stroke-width="0.6"/>
<path d="M666.6 109.4V112.60000000000001" stroke="#3c3c3c" stroke-width="0.6"/>
<text transform="translate(642.30,116.20) rotate(-90) scale(1.08,1)" y="2.43" font-size="6.76" text-anchor="end" fill="#111" stroke="#111" stroke-width="0.16">C01D01</text>
<text transform="translate(654.60,116.20) rotate(-90) scale(1.08,1)" y="2.43" font-size="6.76" text-anchor="end" fill="#111" stroke="#111" stroke-width="0.16">C01D02</text>
<text transform="translate(666.60,116.20) rotate(-90) scale(1.08,1)" y="2.43" font-size="6.76" text-anchor="end" fill="#111" stroke="#111" stroke-width="0.16">EOT</text>
<path d="M642.3 82.3V94M640.0999999999999 82.3H644.5M640.0999999999999 94H644.5" stroke="#f07ab6" stroke-width="0.7" fill="none"/>
<path d="M654.6 53.7V60.6M652.4 53.7H656.8000000000001M652.4 60.6H656.8000000000001" stroke="#f07ab6" stroke-width="0.7" fill="none"/>
<path d="M666.6 68.5V83.5M664.4 68.5H668.8000000000001M664.4 83.5H668.8000000000001" stroke="#f07ab6" stroke-width="0.7" fill="none"/>
<path d="M642.3 88.1L654.6 57L666.6 76.1" fill="none" stroke="#c63a94" stroke-width="0.8"/>
<circle cx="642.3" cy="88.1" r="1.9" fill="#e6308a"/>
<circle cx="654.6" cy="57" r="1.9" fill="#e6308a"/>
<circle cx="666.6" cy="76.1" r="1.9" fill="#e6308a"/>
<path d="M642.3 62.6V72.8M640.0999999999999 62.6H644.5M640.0999999999999 72.8H644.5" stroke="#82b9e8" stroke-width="0.7" fill="none"/>
<path d="M654.6 48V55.7M652.4 48H656.8000000000001M652.4 55.7H656.8000000000001" stroke="#82b9e8" stroke-width="0.7" fill="none"/>
<path d="M666.6 40.4V50.6M664.4 40.4H668.8000000000001M664.4 50.6H668.8000000000001" stroke="#82b9e8" stroke-width="0.7" fill="none"/>
<path d="M642.3 67.7L654.6 51.9L666.6 45.5" fill="none" stroke="#3d8bcd" stroke-width="0.8"/>
<circle cx="642.3" cy="67.7" r="1.9" fill="#3d8bcd"/>
<circle cx="654.6" cy="51.9" r="1.9" fill="#3d8bcd"/>
<circle cx="666.6" cy="45.5" r="1.9" fill="#3d8bcd"/>
<text transform="translate(642.10,58.80) scale(1.08,1)" y="2.20" font-size="6.11" text-anchor="middle" fill="#111" stroke="#111" stroke-width="0.08">0.03</text>
<text transform="translate(667.60,37.60) scale(1.08,1)" y="2.20" font-size="6.11" text-anchor="middle" fill="#111" stroke="#111" stroke-width="0.08">0.004</text>
<text transform="translate(606.60,69.00) rotate(-90) scale(1.08,1)" y="2.53" font-size="7.04" text-anchor="middle" fill="#111" stroke="#111" stroke-width="0.16">Module 4:</text>
<text transform="translate(615.50,69.00) rotate(-90) scale(1.08,1)" y="2.53" font-size="7.04" text-anchor="middle" fill="#111" stroke="#111" stroke-width="0.16">LPS treated monocytes</text>
<path d="M383.4 172.0V254.2H423.2" fill="none" stroke="#3c3c3c" stroke-width="0.75"/>
<path d="M380.09999999999997 172.0H383.4" stroke="#3c3c3c" stroke-width="0.6"/>
<text transform="translate(377.80,172.00) scale(1.08,1)" y="2.20" font-size="6.11" text-anchor="end" fill="#111" stroke="#111" stroke-width="0.08">2</text>
<path d="M380.09999999999997 192.4H383.4" stroke="#3c3c3c" stroke-width="0.6"/>
<text transform="translate(377.80,192.40) scale(1.08,1)" y="2.20" font-size="6.11" text-anchor="end" fill="#111" stroke="#111" stroke-width="0.08">1</text>
<path d="M380.09999999999997 213.3H383.4" stroke="#3c3c3c" stroke-width="0.6"/>
<text transform="translate(377.80,213.30) scale(1.08,1)" y="2.20" font-size="6.11" text-anchor="end" fill="#111" stroke="#111" stroke-width="0.08">0</text>
<path d="M380.09999999999997 233.6H383.4" stroke="#3c3c3c" stroke-width="0.6"/>
<text transform="translate(377.80,233.60) scale(1.08,1)" y="2.20" font-size="6.11" text-anchor="end" fill="#111" stroke="#111" stroke-width="0.08">−1</text>
<path d="M380.09999999999997 254.2H383.4" stroke="#3c3c3c" stroke-width="0.6"/>
<text transform="translate(377.80,254.20) scale(1.08,1)" y="2.20" font-size="6.11" text-anchor="end" fill="#111" stroke="#111" stroke-width="0.08">−2</text>
<path d="M391.4 254.2V257.4" stroke="#3c3c3c" stroke-width="0.6"/>
<path d="M403.3 254.2V257.4" stroke="#3c3c3c" stroke-width="0.6"/>
<path d="M415.2 254.2V257.4" stroke="#3c3c3c" stroke-width="0.6"/>
<text transform="translate(391.40,261.20) rotate(-90) scale(1.08,1)" y="2.43" font-size="6.76" text-anchor="end" fill="#111" stroke="#111" stroke-width="0.16">C01D01</text>
<text transform="translate(403.30,261.20) rotate(-90) scale(1.08,1)" y="2.43" font-size="6.76" text-anchor="end" fill="#111" stroke="#111" stroke-width="0.16">C01D02</text>
<text transform="translate(415.20,261.20) rotate(-90) scale(1.08,1)" y="2.43" font-size="6.76" text-anchor="end" fill="#111" stroke="#111" stroke-width="0.16">EOT</text>
<path d="M391.4 222.4V244.3M389.2 222.4H393.59999999999997M389.2 244.3H393.59999999999997" stroke="#f07ab6" stroke-width="0.7" fill="none"/>
<path d="M403.3 189.2V205.8M401.1 189.2H405.5M401.1 205.8H405.5" stroke="#f07ab6" stroke-width="0.7" fill="none"/>
<path d="M415.2 223.2V239.3M413.0 223.2H417.4M413.0 239.3H417.4" stroke="#f07ab6" stroke-width="0.7" fill="none"/>
<path d="M391.4 233.6L403.3 197.1L415.2 231.4" fill="none" stroke="#c63a94" stroke-width="0.8"/>
<circle cx="391.4" cy="233.6" r="1.9" fill="#e6308a"/>
<circle cx="403.3" cy="197.1" r="1.9" fill="#e6308a"/>
<circle cx="415.2" cy="231.4" r="1.9" fill="#e6308a"/>
<path d="M391.4 228.1V239.3M389.2 228.1H393.59999999999997M389.2 239.3H393.59999999999997" stroke="#82b9e8" stroke-width="0.7" fill="none"/>
<path d="M403.3 205.8V218.2M401.1 205.8H405.5M401.1 218.2H405.5" stroke="#82b9e8" stroke-width="0.7" fill="none"/>
<path d="M415.2 198.4V206.6M413.0 198.4H417.4M413.0 206.6H417.4" stroke="#82b9e8" stroke-width="0.7" fill="none"/>
<path d="M391.4 233.1L403.3 212L415.2 202.6" fill="none" stroke="#3d8bcd" stroke-width="0.8"/>
<circle cx="391.4" cy="233.1" r="1.9" fill="#3d8bcd"/>
<circle cx="403.3" cy="212" r="1.9" fill="#3d8bcd"/>
<circle cx="415.2" cy="202.6" r="1.9" fill="#3d8bcd"/>
<text transform="translate(417.50,195.40) scale(1.08,1)" y="2.20" font-size="6.11" text-anchor="middle" fill="#111" stroke="#111" stroke-width="0.08">0.007</text>
<text transform="translate(355.70,212.50) rotate(-90) scale(1.08,1)" y="2.53" font-size="7.04" text-anchor="middle" fill="#111" stroke="#111" stroke-width="0.16">Module 1:</text>
<text transform="translate(364.40,212.50) rotate(-90) scale(1.08,1)" y="2.53" font-size="7.04" text-anchor="middle" fill="#111" stroke="#111" stroke-width="0.16">effector CD8 function</text>
<path d="M467.0 172.0V254.2H506.3" fill="none" stroke="#3c3c3c" stroke-width="0.75"/>
<path d="M463.7 172.0H467.0" stroke="#3c3c3c" stroke-width="0.6"/>
<text transform="translate(461.40,172.00) scale(1.08,1)" y="2.20" font-size="6.11" text-anchor="end" fill="#111" stroke="#111" stroke-width="0.08">2</text>
<path d="M463.7 192.4H467.0" stroke="#3c3c3c" stroke-width="0.6"/>
<text transform="translate(461.40,192.40) scale(1.08,1)" y="2.20" font-size="6.11" text-anchor="end" fill="#111" stroke="#111" stroke-width="0.08">1</text>
<path d="M463.7 213.3H467.0" stroke="#3c3c3c" stroke-width="0.6"/>
<text transform="translate(461.40,213.30) scale(1.08,1)" y="2.20" font-size="6.11" text-anchor="end" fill="#111" stroke="#111" stroke-width="0.08">0</text>
<path d="M463.7 233.6H467.0" stroke="#3c3c3c" stroke-width="0.6"/>
<text transform="translate(461.40,233.60) scale(1.08,1)" y="2.20" font-size="6.11" text-anchor="end" fill="#111" stroke="#111" stroke-width="0.08">−1</text>
<path d="M463.7 254.2H467.0" stroke="#3c3c3c" stroke-width="0.6"/>
<text transform="translate(461.40,254.20) scale(1.08,1)" y="2.20" font-size="6.11" text-anchor="end" fill="#111" stroke="#111" stroke-width="0.08">−2</text>
<path d="M474.8 254.2V257.4" stroke="#3c3c3c" stroke-width="0.6"/>
<path d="M487 254.2V257.4" stroke="#3c3c3c" stroke-width="0.6"/>
<path d="M498.9 254.2V257.4" stroke="#3c3c3c" stroke-width="0.6"/>
<text transform="translate(474.80,261.20) rotate(-90) scale(1.08,1)" y="2.43" font-size="6.76" text-anchor="end" fill="#111" stroke="#111" stroke-width="0.16">C01D01</text>
<text transform="translate(487.00,261.20) rotate(-90) scale(1.08,1)" y="2.43" font-size="6.76" text-anchor="end" fill="#111" stroke="#111" stroke-width="0.16">C01D02</text>
<text transform="translate(498.90,261.20) rotate(-90) scale(1.08,1)" y="2.43" font-size="6.76" text-anchor="end" fill="#111" stroke="#111" stroke-width="0.16">EOT</text>
<path d="M474.8 176V191.4M472.6 176H477.0M472.6 191.4H477.0" stroke="#f07ab6" stroke-width="0.7" fill="none"/>
<path d="M487 202.1V214M484.8 202.1H489.2M484.8 214H489.2" stroke="#f07ab6" stroke-width="0.7" fill="none"/>
<path d="M498.9 185.2V200.1M496.7 185.2H501.09999999999997M496.7 200.1H501.09999999999997" stroke="#f07ab6" stroke-width="0.7" fill="none"/>
<path d="M474.8 183.5L487 208.3L498.9 192.9" fill="none" stroke="#c63a94" stroke-width="0.8"/>
<circle cx="474.8" cy="183.5" r="1.9" fill="#e6308a"/>
<circle cx="487" cy="208.3" r="1.9" fill="#e6308a"/>
<circle cx="498.9" cy="192.9" r="1.9" fill="#e6308a"/>
<path d="M474.8 202.6V214.5M472.6 202.6H477.0M472.6 214.5H477.0" stroke="#82b9e8" stroke-width="0.7" fill="none"/>
<path d="M487 221.9V230.6M484.8 221.9H489.2M484.8 230.6H489.2" stroke="#82b9e8" stroke-width="0.7" fill="none"/>
<path d="M498.9 233.9V244.8M496.7 233.9H501.09999999999997M496.7 244.8H501.09999999999997" stroke="#82b9e8" stroke-width="0.7" fill="none"/>
<path d="M474.8 208.8L487 226.4L498.9 239.3" fill="none" stroke="#3d8bcd" stroke-width="0.8"/>
<circle cx="474.8" cy="208.8" r="1.9" fill="#3d8bcd"/>
<circle cx="487" cy="226.4" r="1.9" fill="#3d8bcd"/>
<circle cx="498.9" cy="239.3" r="1.9" fill="#3d8bcd"/>
<text transform="translate(475.80,171.80) scale(1.08,1)" y="2.20" font-size="6.11" text-anchor="middle" fill="#111" stroke="#111" stroke-width="0.08">0.02</text>
<text transform="translate(489.00,196.60) scale(1.08,1)" y="2.20" font-size="6.11" text-anchor="middle" fill="#111" stroke="#111" stroke-width="0.08">0.05</text>
<text transform="translate(499.40,181.70) scale(1.08,1)" y="2.20" font-size="6.11" text-anchor="middle" fill="#111" stroke="#111" stroke-width="0.08">0.002</text>
<text transform="translate(439.30,212.50) rotate(-90) scale(1.08,1)" y="2.53" font-size="7.04" text-anchor="middle" fill="#111" stroke="#111" stroke-width="0.16">Module 6:</text>
<text transform="translate(447.50,212.50) rotate(-90) scale(1.08,1)" y="2.53" font-size="7.04" text-anchor="middle" fill="#111" stroke="#111" stroke-width="0.16">naive T cell/WNT signaling</text>
<path d="M551 172.0V254.2H590.7" fill="none" stroke="#3c3c3c" stroke-width="0.75"/>
<path d="M547.7 172.0H551" stroke="#3c3c3c" stroke-width="0.6"/>
<text transform="translate(545.40,172.00) scale(1.08,1)" y="2.20" font-size="6.11" text-anchor="end" fill="#111" stroke="#111" stroke-width="0.08">2</text>
<path d="M547.7 192.4H551" stroke="#3c3c3c" stroke-width="0.6"/>
<text transform="translate(545.40,192.40) scale(1.08,1)" y="2.20" font-size="6.11" text-anchor="end" fill="#111" stroke="#111" stroke-width="0.08">1</text>
<path d="M547.7 213.3H551" stroke="#3c3c3c" stroke-width="0.6"/>
<text transform="translate(545.40,213.30) scale(1.08,1)" y="2.20" font-size="6.11" text-anchor="end" fill="#111" stroke="#111" stroke-width="0.08">0</text>
<path d="M547.7 233.6H551" stroke="#3c3c3c" stroke-width="0.6"/>
<text transform="translate(545.40,233.60) scale(1.08,1)" y="2.20" font-size="6.11" text-anchor="end" fill="#111" stroke="#111" stroke-width="0.08">−1</text>
<path d="M547.7 254.2H551" stroke="#3c3c3c" stroke-width="0.6"/>
<text transform="translate(545.40,254.20) scale(1.08,1)" y="2.20" font-size="6.11" text-anchor="end" fill="#111" stroke="#111" stroke-width="0.08">−2</text>
<path d="M558.9 254.2V257.4" stroke="#3c3c3c" stroke-width="0.6"/>
<path d="M571.1 254.2V257.4" stroke="#3c3c3c" stroke-width="0.6"/>
<path d="M583 254.2V257.4" stroke="#3c3c3c" stroke-width="0.6"/>
<text transform="translate(558.90,261.20) rotate(-90) scale(1.08,1)" y="2.43" font-size="6.76" text-anchor="end" fill="#111" stroke="#111" stroke-width="0.16">C01D01</text>
<text transform="translate(571.10,261.20) rotate(-90) scale(1.08,1)" y="2.43" font-size="6.76" text-anchor="end" fill="#111" stroke="#111" stroke-width="0.16">C01D02</text>
<text transform="translate(583.00,261.20) rotate(-90) scale(1.08,1)" y="2.43" font-size="6.76" text-anchor="end" fill="#111" stroke="#111" stroke-width="0.16">EOT</text>
<path d="M558.9 176.5V192.7M556.6999999999999 176.5H561.1M556.6999999999999 192.7H561.1" stroke="#f07ab6" stroke-width="0.7" fill="none"/>
<path d="M571.1 207.5V220.2M568.9 207.5H573.3000000000001M568.9 220.2H573.3000000000001" stroke="#f07ab6" stroke-width="0.7" fill="none"/>
<path d="M583 183.5V199.6M580.8 183.5H585.2M580.8 199.6H585.2" stroke="#f07ab6" stroke-width="0.7" fill="none"/>
<path d="M558.9 184.7L571.1 213.8L583 191.4" fill="none" stroke="#c63a94" stroke-width="0.8"/>
<circle cx="558.9" cy="184.7" r="1.9" fill="#e6308a"/>
<circle cx="571.1" cy="213.8" r="1.9" fill="#e6308a"/>
<circle cx="583" cy="191.4" r="1.9" fill="#e6308a"/>
<path d="M558.9 200.3V212M556.6999999999999 200.3H561.1M556.6999999999999 212H561.1" stroke="#82b9e8" stroke-width="0.7" fill="none"/>
<path d="M571.1 221.2V228.6M568.9 221.2H573.3000000000001M568.9 228.6H573.3000000000001" stroke="#82b9e8" stroke-width="0.7" fill="none"/>
<path d="M583 234.4V245.5M580.8 234.4H585.2M580.8 245.5H585.2" stroke="#82b9e8" stroke-width="0.7" fill="none"/>
<path d="M558.9 206.3L571.1 224.9L583 239.8" fill="none" stroke="#3d8bcd" stroke-width="0.8"/>
<circle cx="558.9" cy="206.3" r="1.9" fill="#3d8bcd"/>
<circle cx="571.1" cy="224.9" r="1.9" fill="#3d8bcd"/>
<circle cx="583" cy="239.8" r="1.9" fill="#3d8bcd"/>
<text transform="translate(583.50,179.70) scale(1.08,1)" y="2.20" font-size="6.11" text-anchor="middle" fill="#111" stroke="#111" stroke-width="0.08">0.001</text>
<text transform="translate(524.20,214.00) rotate(-90) scale(1.08,1)" y="2.53" font-size="7.04" text-anchor="middle" fill="#111" stroke="#111" stroke-width="0.16">Module 7:</text>
<text transform="translate(532.60,214.00) rotate(-90) scale(1.08,1)" y="2.53" font-size="7.04" text-anchor="middle" fill="#111" stroke="#111" stroke-width="0.16">T<tspan font-size="4.6" dy="1.6">reg</tspan><tspan dy="-1.6"> cells</tspan></text>
<path d="M595.7 241.3H603.9" stroke="#3d8bcd" stroke-width="0.8"/><circle cx="599.8" cy="241.3" r="1.7" fill="#3d8bcd"/>
<text transform="translate(607.60,241.30) scale(1.08,1)" y="2.00" font-size="5.56" text-anchor="start" fill="#111" stroke="#111" stroke-width="0.08">Group 1</text>
<path d="M595.7 251.7H603.9" stroke="#e6308a" stroke-width="0.8"/><circle cx="599.8" cy="251.7" r="1.7" fill="#e6308a"/>
<text transform="translate(607.60,251.70) scale(1.08,1)" y="2.00" font-size="5.56" text-anchor="start" fill="#111" stroke="#111" stroke-width="0.08">Group 2</text>
<path d="M399.6 302.4H407" stroke="#3d8bcd" stroke-width="0.8"/><circle cx="403.3" cy="302.4" r="1.6" fill="#3d8bcd"/>
<text transform="translate(409.50,302.40) scale(1.08,1)" y="2.53" font-size="7.04" text-anchor="start" fill="#111" stroke="#111" stroke-width="0.16">Group 1</text>
<path d="M399.6 313.6H407" stroke="#e6308a" stroke-width="0.8"/><circle cx="403.3" cy="313.6" r="1.6" fill="#e6308a"/>
<text transform="translate(409.50,313.60) scale(1.08,1)" y="2.53" font-size="7.04" text-anchor="start" fill="#111" stroke="#111" stroke-width="0.16">Group 2</text>
<path d="M396.6 324V448.8H457.9" fill="none" stroke="#3c3c3c" stroke-width="0.75"/>
<path d="M393.3 324H396.6" stroke="#3c3c3c" stroke-width="0.5"/>
<text transform="translate(390.20,324.00) scale(1.08,1)" y="2.13" font-size="5.93" text-anchor="end" fill="#111" stroke="#111" stroke-width="0.08">1,000</text>
<path d="M393.3 378.4H396.6" stroke="#3c3c3c" stroke-width="0.5"/>
<text transform="translate(390.20,378.40) scale(1.08,1)" y="2.13" font-size="5.93" text-anchor="end" fill="#111" stroke="#111" stroke-width="0.08">100</text>
<path d="M393.3 433.2H396.6" stroke="#3c3c3c" stroke-width="0.5"/>
<text transform="translate(390.20,433.20) scale(1.08,1)" y="2.13" font-size="5.93" text-anchor="end" fill="#111" stroke="#111" stroke-width="0.08">10</text>
<path d="M408.8 448.8V451.8" stroke="#3c3c3c" stroke-width="0.5"/>
<text transform="translate(408.80,456.30) rotate(-90) scale(1.08,1)" y="2.43" font-size="6.76" text-anchor="end" fill="#111" stroke="#111" stroke-width="0.16">C01D01</text>
<path d="M427.2 448.8V451.8" stroke="#3c3c3c" stroke-width="0.5"/>
<text transform="translate(427.20,456.30) rotate(-90) scale(1.08,1)" y="2.43" font-size="6.76" text-anchor="end" fill="#111" stroke="#111" stroke-width="0.16">C01D02</text>
<path d="M445.5 448.8V451.8" stroke="#3c3c3c" stroke-width="0.5"/>
<text transform="translate(445.50,456.30) rotate(-90) scale(1.08,1)" y="2.43" font-size="6.76" text-anchor="end" fill="#111" stroke="#111" stroke-width="0.16">EOT</text>
<path d="M408.8 360.2V402.9M406.1 360.2H411.5M406.1 402.9H411.5" stroke="#82b9e8" stroke-width="0.7" fill="none"/>
<path d="M427.2 379.4V415.3M424.5 379.4H429.9M424.5 415.3H429.9" stroke="#82b9e8" stroke-width="0.7" fill="none"/>
<path d="M445.5 379.6V436.4M442.8 379.6H448.2M442.8 436.4H448.2" stroke="#82b9e8" stroke-width="0.7" fill="none"/>
<path d="M408.8 385.1L427.2 398.5L445.5 405.7" fill="none" stroke="#3d8bcd" stroke-width="0.8"/>
<circle cx="408.8" cy="385.1" r="2.5" fill="#3d8bcd"/>
<circle cx="427.2" cy="398.5" r="2.5" fill="#3d8bcd"/>
<circle cx="445.5" cy="405.7" r="2.5" fill="#3d8bcd"/>
<path d="M408.8 333.9V365.2M406.1 333.9H411.5M406.1 365.2H411.5" stroke="#f07ab6" stroke-width="0.7" fill="none"/>
<path d="M427.2 332.2V366.9M424.5 332.2H429.9M424.5 366.9H429.9" stroke="#f07ab6" stroke-width="0.7" fill="none"/>
<path d="M445.5 339.1V357M442.8 339.1H448.2M442.8 357H448.2" stroke="#f07ab6" stroke-width="0.7" fill="none"/>
<path d="M408.8 353.8L427.2 359.5L445.5 355" fill="none" stroke="#c63a94" stroke-width="0.8"/>
<circle cx="408.8" cy="353.8" r="2.5" fill="#e6308a"/>
<circle cx="427.2" cy="359.5" r="2.5" fill="#e6308a"/>
<circle cx="445.5" cy="355" r="2.5" fill="#e6308a"/>
<text transform="translate(407.80,328.70) scale(1.08,1)" y="2.20" font-size="6.11" text-anchor="middle" fill="#111" stroke="#111" stroke-width="0.08">0.02</text>
<text transform="translate(427.70,328.70) scale(1.08,1)" y="2.20" font-size="6.11" text-anchor="middle" fill="#111" stroke="#111" stroke-width="0.08">0.004</text>
<text transform="translate(446.30,335.90) scale(1.08,1)" y="2.20" font-size="6.11" text-anchor="middle" fill="#111" stroke="#111" stroke-width="0.08">0.001</text>
<text transform="translate(417.00,426.50) scale(1.08,1)" y="2.20" font-size="6.11" text-anchor="middle" fill="#111" stroke="#111" stroke-width="0.08">0.04</text>
<text transform="translate(428.10,436.40) scale(1.08,1)" y="2.20" font-size="6.11" text-anchor="middle" fill="#111" stroke="#111" stroke-width="0.08">0.03</text>
<path d="M405.8 430.7H426.2" stroke="#9cc6ea" stroke-width="0.9"/>
<path d="M405.8 440.4H447.5" stroke="#3d8bcd" stroke-width="0.9"/>
<text transform="translate(360.40,386.60) rotate(-90) scale(1.08,1)" y="2.62" font-size="7.27" text-anchor="middle" fill="#111" stroke="#111" stroke-width="0.16">HIV DNA (per million cells)</text>
<path d="M541.4 307.5V449.5H685" fill="none" stroke="#3c3c3c" stroke-width="0.75"/>
<path d="M538.1 307.5H541.4" stroke="#3c3c3c" stroke-width="0.6"/>
<text transform="translate(535.00,307.50) scale(1.08,1)" y="2.13" font-size="5.93" text-anchor="end" fill="#111" stroke="#111" stroke-width="0.08">2</text>
<path d="M538.1 343.0H541.4" stroke="#3c3c3c" stroke-width="0.6"/>
<text transform="translate(535.00,343.00) scale(1.08,1)" y="2.13" font-size="5.93" text-anchor="end" fill="#111" stroke="#111" stroke-width="0.08">1</text>
<path d="M538.1 378.5H541.4" stroke="#3c3c3c" stroke-width="0.6"/>
<text transform="translate(535.00,378.50) scale(1.08,1)" y="2.13" font-size="5.93" text-anchor="end" fill="#111" stroke="#111" stroke-width="0.08">0</text>
<path d="M538.1 414.0H541.4" stroke="#3c3c3c" stroke-width="0.6"/>
<text transform="translate(535.00,414.00) scale(1.08,1)" y="2.13" font-size="5.93" text-anchor="end" fill="#111" stroke="#111" stroke-width="0.08">−1</text>
<path d="M538.1 449.5H541.4" stroke="#3c3c3c" stroke-width="0.6"/>
<text transform="translate(535.00,449.50) scale(1.08,1)" y="2.13" font-size="5.93" text-anchor="end" fill="#111" stroke="#111" stroke-width="0.08">−2</text>
<rect x="544.50" y="378.50" width="5.8" height="51.12" fill="#4a86c8" stroke="#2d4f80" stroke-width="0.5"/>
<path d="M547.4 449.5V452.3" stroke="#3c3c3c" stroke-width="0.5"/>
<text transform="translate(547.40,458.40) scale(1.08,1)" y="2.20" font-size="6.11" text-anchor="middle" fill="#111" stroke="#111" stroke-width="0.08">29</text>
<rect x="553.70" y="378.50" width="5.8" height="39.05" fill="#4a86c8" stroke="#2d4f80" stroke-width="0.5"/>
<path d="M556.6 449.5V452.3" stroke="#3c3c3c" stroke-width="0.5"/>
<text transform="translate(556.60,458.40) scale(1.08,1)" y="2.20" font-size="6.11" text-anchor="middle" fill="#111" stroke="#111" stroke-width="0.08">7</text>
<rect x="563.10" y="378.50" width="5.8" height="24.50" fill="#4a86c8" stroke="#2d4f80" stroke-width="0.5"/>
<path d="M566 449.5V452.3" stroke="#3c3c3c" stroke-width="0.5"/>
<text transform="translate(566.00,458.40) scale(1.08,1)" y="2.20" font-size="6.11" text-anchor="middle" fill="#111" stroke="#111" stroke-width="0.08">23</text>
<rect x="572.30" y="378.50" width="5.8" height="14.91" fill="#4a86c8" stroke="#2d4f80" stroke-width="0.5"/>
<path d="M575.2 449.5V452.3" stroke="#3c3c3c" stroke-width="0.5"/>
<text transform="translate(575.20,458.40) scale(1.08,1)" y="2.20" font-size="6.11" text-anchor="middle" fill="#111" stroke="#111" stroke-width="0.08">14</text>
<rect x="581.70" y="378.50" width="5.8" height="14.91" fill="#4a86c8" stroke="#2d4f80" stroke-width="0.5"/>
<path d="M584.6 449.5V452.3" stroke="#3c3c3c" stroke-width="0.5"/>
<text transform="translate(584.60,458.40) scale(1.08,1)" y="2.20" font-size="6.11" text-anchor="middle" fill="#111" stroke="#111" stroke-width="0.08">28</text>
<rect x="590.90" y="378.50" width="5.8" height="13.13" fill="#4a86c8" stroke="#2d4f80" stroke-width="0.5"/>
<path d="M593.8 449.5V452.3" stroke="#3c3c3c" stroke-width="0.5"/>
<text transform="translate(593.80,458.40) scale(1.08,1)" y="2.20" font-size="6.11" text-anchor="middle" fill="#111" stroke="#111" stroke-width="0.08">22</text>
<rect x="600.30" y="378.50" width="5.8" height="11.71" fill="#4a86c8" stroke="#2d4f80" stroke-width="0.5"/>
<path d="M603.2 449.5V452.3" stroke="#3c3c3c" stroke-width="0.5"/>
<text transform="translate(603.20,458.40) scale(1.08,1)" y="2.20" font-size="6.11" text-anchor="middle" fill="#111" stroke="#111" stroke-width="0.08">9</text>
<rect x="609.40" y="378.50" width="5.8" height="3.55" fill="#4a86c8" stroke="#2d4f80" stroke-width="0.5"/>
<path d="M612.3 449.5V452.3" stroke="#3c3c3c" stroke-width="0.5"/>
<text transform="translate(612.30,458.40) scale(1.08,1)" y="2.20" font-size="6.11" text-anchor="middle" fill="#111" stroke="#111" stroke-width="0.08">15</text>
<rect x="618.90" y="340.16" width="5.8" height="38.34" fill="#4a86c8" stroke="#2d4f80" stroke-width="0.5"/>
<path d="M621.8 449.5V452.3" stroke="#3c3c3c" stroke-width="0.5"/>
<text transform="translate(621.80,458.40) scale(1.08,1)" y="2.20" font-size="6.11" text-anchor="middle" fill="#111" stroke="#111" stroke-width="0.08">8</text>
<rect x="637.50" y="378.50" width="5.8" height="31.95" fill="#e8388f" stroke="#8c2058" stroke-width="0.5"/>
<path d="M640.4 449.5V452.3" stroke="#3c3c3c" stroke-width="0.5"/>
<text transform="translate(640.40,458.40) scale(1.08,1)" y="2.20" font-size="6.11" text-anchor="middle" fill="#111" stroke="#111" stroke-width="0.08">30</text>
<rect x="646.60" y="368.92" width="5.8" height="9.58" fill="#e8388f" stroke="#8c2058" stroke-width="0.5"/>
<path d="M649.5 449.5V452.3" stroke="#3c3c3c" stroke-width="0.5"/>
<text transform="translate(649.50,458.40) scale(1.08,1)" y="2.20" font-size="6.11" text-anchor="middle" fill="#111" stroke="#111" stroke-width="0.08">13</text>
<rect x="656.00" y="349.75" width="5.8" height="28.75" fill="#e8388f" stroke="#8c2058" stroke-width="0.5"/>
<path d="M658.9 449.5V452.3" stroke="#3c3c3c" stroke-width="0.5"/>
<text transform="translate(658.90,458.40) scale(1.08,1)" y="2.20" font-size="6.11" text-anchor="middle" fill="#111" stroke="#111" stroke-width="0.08">4</text>
<rect x="665.20" y="344.06" width="5.8" height="34.44" fill="#e8388f" stroke="#8c2058" stroke-width="0.5"/>
<path d="M668.1 449.5V452.3" stroke="#3c3c3c" stroke-width="0.5"/>
<text transform="translate(668.10,458.40) scale(1.08,1)" y="2.20" font-size="6.11" text-anchor="middle" fill="#111" stroke="#111" stroke-width="0.08">1</text>
<rect x="674.60" y="336.61" width="5.8" height="41.89" fill="#e8388f" stroke="#8c2058" stroke-width="0.5"/>
<path d="M677.5 449.5V452.3" stroke="#3c3c3c" stroke-width="0.5"/>
<text transform="translate(677.50,458.40) scale(1.08,1)" y="2.20" font-size="6.11" text-anchor="middle" fill="#111" stroke="#111" stroke-width="0.08">2</text>
<path d="M541.4 378.5H685" stroke="#222" stroke-width="0.7"/>
<path d="M631.2 307.5V449.5" stroke="#111" stroke-width="0.85" stroke-dasharray="2.7 2.1"/>
<text transform="translate(546.60,319.40) scale(1.08,1)" y="2.43" font-size="6.76" text-anchor="start" fill="#5b86cc" stroke="#5b86cc" stroke-width="0.16">Group 1</text>
<text transform="translate(636.60,319.40) scale(1.08,1)" y="2.43" font-size="6.76" text-anchor="start" fill="#e8388f" stroke="#e8388f" stroke-width="0.16">Group 2</text>
<text transform="translate(612.90,469.80) scale(1.08,1)" y="2.53" font-size="7.04" text-anchor="middle" fill="#111" stroke="#111" stroke-width="0.16">Participant ID</text>
<text transform="translate(511.60,378.80) rotate(-90) scale(1.08,1)" y="2.53" font-size="7.04" text-anchor="middle" fill="#111" stroke="#111" stroke-width="0.16">log<tspan font-size="4.6" dy="1.6">2</tspan><tspan dy="-1.6">FC: inducible HIV-1 RNA</tspan></text>
<text transform="translate(520.20,378.80) rotate(-90) scale(1.08,1)" y="2.53" font-size="7.04" text-anchor="middle" fill="#111" stroke="#111" stroke-width="0.16">(copies per 10<tspan font-size="4.6" dy="-3">6</tspan><tspan dy="3"> CD4</tspan><tspan font-size="4.6" dy="-3">+</tspan><tspan dy="3"> T cells)</tspan></text>
<rect x="42.0" y="502.8" width="210.50" height="211.20" fill="#fff"/>
<path d="M59.65 502.8V714.0M77.80 502.8V714.0M95.95 502.8V714.0M114.10 502.8V714.0M132.25 502.8V714.0M150.40 502.8V714.0M168.55 502.8V714.0M186.70 502.8V714.0M204.85 502.8V714.0M223.00 502.8V714.0M241.15 502.8V714.0M42.0 698.90H252.5M42.0 677.10H252.5M42.0 655.30H252.5M42.0 633.50H252.5M42.0 611.70H252.5M42.0 589.90H252.5M42.0 568.10H252.5M42.0 546.30H252.5M42.0 524.50H252.5" stroke="#ececec" stroke-width="0.6" fill="none"/>
<path d="M79.5 589.5C81.8 587.7 79.8 587.8 82.5 588.0C85.2 588.2 91.7 589.9 95.6 590.6C99.5 591.3 102.9 591.7 106.0 592.0C109.1 592.3 112.4 590.3 114.0 592.5C115.6 594.7 115.0 600.5 115.5 605.3C116.0 610.0 116.9 615.8 117.2 621.0C117.5 626.2 117.7 631.5 117.4 636.8C117.1 642.0 116.2 648.8 115.6 652.5C115.0 656.2 114.9 658.1 113.8 659.0C112.7 659.9 111.4 657.6 108.8 657.8C106.2 658.0 101.6 658.6 98.3 660.4C95.0 662.1 91.5 666.8 89.1 668.3C86.7 669.8 85.5 670.5 83.8 669.6C82.0 668.7 81.4 664.8 78.6 663.0C75.8 661.2 70.8 660.2 66.8 659.1C62.8 658.0 57.4 658.0 54.9 656.5C52.4 655.0 52.1 653.2 51.5 649.9C50.9 646.6 50.7 641.6 51.2 636.8C51.7 632.0 53.1 625.7 54.6 621.0C56.1 616.3 58.1 612.3 60.4 608.6C62.7 604.9 65.2 601.8 68.4 598.6C71.6 595.4 77.2 591.3 79.5 589.5Z" fill="#1fc0c1"/>
<path d="M98.6 660.4h0M49.9 647.8h0M116.9 621.7h0M102.3 591.7h0M116.0 646.6h0M52.8 630.5h0M114.7 596.5h0M110.8 658.0h0M52.7 627.4h0M100.8 590.8h0M51.0 645.3h0M74.3 662.1h0M117.0 639.0h0M100.6 661.9h0M110.5 592.9h0M62.1 657.9h0M51.8 641.9h0M92.1 664.7h0M104.3 592.1h0M91.7 590.9h0M77.4 591.9h0M73.0 595.2h0M56.6 620.0h0M113.7 603.0h0M64.9 659.2h0M115.7 602.5h0M78.3 662.4h0M117.4 639.7h0M117.6 636.5h0M113.1 659.4h0M53.4 632.9h0M58.3 612.0h0M76.6 591.8h0M109.4 592.5h0M118.1 628.7h0M106.2 592.3h0M93.1 665.5h0M88.3 669.2h0M94.6 664.8h0M72.8 661.5h0M99.8 659.9h0M55.8 656.1h0M116.2 600.6h0M109.7 656.9h0M115.3 655.5h0M116.6 644.5h0M116.6 645.1h0M117.9 632.5h0M115.7 640.0h0M81.4 588.4h0M58.4 609.8h0M89.1 668.4h0M116.1 645.0h0M58.3 610.7h0M60.1 606.3h0M117.9 629.8h0M109.1 657.6h0M75.1 661.0h0M118.2 621.1h0M70.0 661.0h0M58.4 658.2h0M114.4 591.5h0M111.0 591.9h0M117.5 634.6h0M111.4 657.7h0M52.6 645.7h0M89.3 666.2h0M54.3 653.3h0M49.8 647.8h0M116.6 614.4h0M114.6 597.6h0M100.7 659.4h0M113.6 592.6h0M91.6 590.0h0M99.5 590.6h0M54.1 656.1h0M60.8 658.8h0M114.4 658.2h0M77.6 663.1h0M102.1 591.8h0M110.3 657.8h0M66.7 603.3h0M76.8 661.9h0M64.6 658.2h0M77.9 663.5h0M95.3 662.8h0M51.1 643.1h0M52.5 652.4h0M116.1 652.4h0M94.9 591.6h0M78.5 662.3h0M89.2 668.0h0M109.0 658.5h0M79.1 663.8h0M105.3 592.5h0M98.4 591.1h0M52.3 643.9h0M89.4 589.8h0M116.7 611.1h0M62.9 604.9h0M52.4 653.5h0M116.5 652.8h0M117.3 630.0h0M76.6 591.5h0M83.8 670.1h0M117.4 641.1h0M63.8 607.1h0M112.9 591.5h0M84.3 669.3h0M52.5 652.7h0M113.8 659.5h0M82.4 588.6h0M53.0 646.0h0M118.1 626.6h0M63.1 657.9h0M80.0 589.0h0M52.0 636.2h0M118.8 637.7h0M114.6 599.3h0M84.9 668.4h0M110.0 657.9h0M52.6 650.9h0M115.4 603.1h0M80.5 587.4h0M78.8 589.6h0M84.0 588.6h0M71.2 660.0h0M71.0 597.3h0M102.4 591.6h0M74.2 592.9h0M104.5 593.1h0M117.0 648.3h0M89.3 668.0h0M90.4 589.4h0M113.8 595.7h0M58.2 614.0h0M114.3 659.1h0M62.4 658.3h0M70.6 660.0h0M109.0 657.8h0M75.1 662.6h0M116.5 654.1h0M102.3 592.2h0M97.5 660.6h0M111.8 594.0h0M63.2 659.7h0M73.3 594.9h0M95.4 663.9h0M101.1 659.4h0M117.9 631.9h0M96.5 661.9h0M98.8 591.4h0M87.3 589.1h0M67.9 599.9h0M54.0 653.0h0M79.6 662.7h0M51.3 642.5h0M81.5 665.5h0M112.2 657.9h0M115.9 613.3h0M62.1 605.4h0M52.1 641.9h0M98.5 590.4h0M115.9 645.1h0M83.2 669.0h0M102.6 659.9h0M53.5 633.8h0M86.1 668.7h0M99.9 659.8h0M96.0 661.4h0M117.8 622.0h0M65.5 603.7h0M78.7 589.9h0M55.0 656.6h0M52.6 650.7h0M109.0 593.9h0M113.3 591.3h0M77.6 662.6h0M115.4 594.9h0M108.3 657.1h0M80.4 665.2h0M51.9 650.9h0M52.0 620.4h0M112.9 657.4h0M60.4 657.7h0M80.1 665.1h0M56.1 656.5h0M116.7 647.0h0M91.5 589.1h0M88.4 667.3h0M54.1 656.1h0M117.5 626.0h0M112.5 658.1h0M116.8 644.3h0M55.0 619.5h0M55.7 619.3h0M86.6 668.2h0M114.6 592.2h0M115.7 615.4h0M109.9 658.7h0M104.4 659.2h0M99.7 591.0h0M117.4 626.3h0M83.2 668.5h0M51.5 638.6h0M65.2 659.8h0M89.2 668.4h0M85.8 587.0h0M104.0 660.5h0M85.8 588.0h0M114.9 653.4h0M69.3 599.7h0M111.7 591.7h0M86.2 668.6h0M116.0 605.7h0M109.8 656.9h0M98.4 660.4h0M55.5 621.3h0M116.1 642.5h0M53.0 645.4h0M98.7 591.2h0M55.5 656.4h0M113.8 597.0h0M51.0 638.5h0M111.6 658.3h0M115.3 654.4h0M114.9 595.8h0M100.7 591.1h0M117.0 647.5h0M82.4 588.5h0M68.5 659.6h0M105.2 591.1h0M116.3 636.9h0M71.7 659.5h0M78.9 588.7h0M117.1 621.8h0M115.3 651.0h0M81.3 588.7h0M56.8 618.5h0M50.2 644.3h0M74.3 593.3h0M115.9 613.9h0M72.5 595.6h0M54.1 622.9h0M91.7 666.0h0M81.0 589.2h0M100.5 590.6h0M116.1 607.5h0M88.1 667.9h0M54.0 655.8h0M117.8 620.4h0M117.4 625.6h0M62.2 657.6h0M103.9 590.8h0M117.3 614.5h0M59.8 610.1h0M117.6 621.5h0M97.2 662.7h0M116.0 621.1h0M90.9 590.4h0M71.6 660.4h0M82.2 668.4h0M94.0 664.0h0M59.5 609.0h0M58.6 611.5h0M62.7 658.4h0M96.6 661.5h0M84.3 589.4h0M100.4 659.8h0M51.1 649.4h0M83.4 588.2h0M108.5 592.0h0M116.6 615.5h0M92.7 665.9h0M56.4 617.2h0M50.6 650.3h0M57.4 614.9h0M115.8 611.1h0M100.1 661.4h0M113.7 592.9h0M70.6 660.0h0M106.5 591.8h0M96.9 662.4h0M95.8 663.3h0M60.3 612.2h0M116.6 654.2h0M78.2 589.1h0M116.5 638.6h0M54.5 654.4h0M58.4 612.9h0M94.5 662.7h0M80.3 665.5h0M59.5 610.8h0M115.9 648.0h0M115.5 602.9h0M115.3 659.3h0M91.9 664.6h0M52.4 653.4h0M83.8 588.2h0M115.6 606.1h0M51.6 642.1h0M51.7 652.4h0M55.4 619.5h0M95.4 589.7h0M52.2 648.7h0M77.4 662.3h0M107.8 591.8h0M114.2 658.1h0M82.1 664.0h0M111.1 658.1h0M54.8 657.0h0M117.4 635.2h0M87.5 670.5h0M69.3 599.2h0M52.0 642.7h0M80.6 587.8h0M109.0 658.7h0M54.4 622.6h0M112.1 594.2h0M80.3 590.3h0M91.6 589.5h0M54.4 626.7h0M52.7 638.9h0M88.6 668.8h0M96.1 589.8h0M103.7 591.3h0M107.4 591.0h0M112.1 658.7h0M115.2 659.0h0M100.0 659.3h0M111.5 658.4h0M81.8 666.7h0M89.9 591.0h0M101.4 592.2h0M54.4 653.0h0M81.6 589.7h0M115.5 619.4h0M54.6 654.6h0M117.4 636.3h0M64.1 601.1h0M50.7 639.1h0M85.2 668.7h0M79.7 663.8h0M114.4 655.1h0M61.3 606.5h0M57.9 613.6h0M114.3 603.9h0M105.7 658.8h0M51.4 634.1h0M116.3 646.1h0M55.8 619.6h0M102.1 659.8h0M119.7 624.4h0M117.8 620.9h0M115.1 601.8h0M117.8 622.4h0M88.2 669.0h0M79.1 665.0h0M78.3 664.2h0M82.4 587.9h0M52.3 626.3h0M77.4 591.1h0M53.6 622.3h0M73.4 662.6h0M81.5 668.7h0M115.1 609.6h0M58.4 610.2h0M117.0 619.4h0M56.5 657.1h0M117.6 621.7h0M54.2 653.5h0M116.2 632.2h0M91.9 665.6h0M117.8 637.5h0M111.0 591.6h0M115.0 654.4h0M78.2 662.7h0M52.3 633.9h0M53.6 650.0h0M77.1 663.2h0M61.1 605.7h0M113.6 595.9h0M81.1 667.5h0M113.8 602.7h0M116.5 641.4h0M78.8 665.3h0M114.6 654.2h0M60.9 657.1h0M96.6 662.4h0M105.4 591.0h0M114.2 600.2h0M69.6 598.1h0M113.1 655.7h0M116.6 617.9h0M85.7 670.8h0M61.7 609.8h0M51.5 639.1h0M117.3 628.5h0M110.4 592.9h0M113.8 598.2h0M115.1 601.9h0M61.1 610.4h0M69.7 660.3h0M72.4 662.5h0M96.7 591.7h0M80.6 586.9h0M101.1 660.4h0M113.8 591.8h0M107.4 657.4h0M53.6 652.5h0M103.0 658.4h0M111.3 658.6h0M113.7 658.6h0M57.0 657.7h0M113.5 658.8h0M87.0 588.8h0M51.3 636.1h0M116.0 634.2h0M93.8 589.5h0M54.9 618.1h0M70.4 598.1h0M66.9 601.3h0M89.5 590.2h0M81.2 587.7h0M51.6 640.2h0M85.6 589.3h0M87.5 589.1h0M81.6 665.4h0M79.4 587.1h0M78.5 589.8h0M105.0 592.3h0M61.7 608.5h0M114.2 592.1h0M108.3 592.2h0M116.5 642.1h0M90.8 665.0h0M97.8 590.7h0M78.7 592.2h0M83.8 588.1h0M54.6 621.2h0M117.7 619.4h0M104.2 658.4h0M70.6 597.0h0M62.0 606.1h0M67.7 658.3h0M111.6 657.9h0M54.8 615.5h0M114.6 601.0h0M116.3 641.7h0M115.9 649.5h0M116.1 655.7h0M87.3 590.1h0M53.1 634.3h0M51.9 640.6h0M100.4 591.4h0M117.6 641.9h0M117.3 635.6h0M87.9 669.7h0M96.5 590.1h0M53.3 654.4h0M117.8 625.2h0M92.1 666.0h0M115.2 595.2h0M108.7 592.3h0M102.0 660.2h0M80.2 590.9h0M52.3 628.9h0M116.1 654.8h0M60.2 609.3h0M117.3 636.8h0M90.4 588.8h0M103.4 590.4h0M97.2 590.5h0M74.7 595.4h0M90.0 668.0h0M95.1 590.3h0M51.4 637.8h0M51.1 650.0h0M83.8 588.3h0M117.0 632.7h0M61.0 608.1h0M108.4 592.8h0M116.1 603.6h0M118.2 634.9h0M106.4 590.7h0M116.9 602.0h0M84.0 668.8h0M105.5 659.0h0M97.0 661.8h0M73.1 662.1h0M114.9 655.4h0M53.8 624.0h0M64.6 659.1h0M117.1 605.6h0M77.3 589.6h0M108.3 592.9h0M114.1 658.8h0M112.5 659.8h0M112.5 658.2h0M53.8 654.3h0" stroke="#1fc0c1" stroke-width="0.6" stroke-linecap="round" fill="none" opacity="1"/>
<path d="M113.5 658L115.5 664" stroke="#1fc0c1" stroke-width="1.2" stroke-linecap="round"/>
<path d="M113.7 638.4h0M113.5 656.8h0M113.7 644.7h0M112.4 645.9h0M113.9 662.0h0M112.8 642.2h0M113.5 649.8h0M111.9 641.4h0M112.9 654.0h0M111.6 638.8h0M113.6 637.0h0M113.1 651.2h0M112.9 638.8h0M112.9 645.0h0M113.4 640.5h0M114.3 632.9h0M112.8 648.1h0M114.2 642.5h0M113.7 642.9h0M113.9 663.6h0M112.5 652.0h0M111.9 656.8h0M114.5 648.3h0M111.6 651.6h0M114.4 657.8h0M114.0 631.5h0M112.2 660.8h0M111.5 658.2h0M115.3 654.9h0M114.3 645.0h0" stroke="#ffffff" stroke-width="0.5" stroke-linecap="round" fill="none" opacity="0.8"/>
<path d="M76.3 663.8h0M79.4 663.9h0M82.1 663.7h0M80.6 664.8h0M80.0 667.7h0M81.3 664.2h0M79.4 662.7h0M84.0 664.3h0M76.8 662.9h0M79.6 663.1h0M83.3 661.7h0M81.5 664.3h0" stroke="#ffffff" stroke-width="0.5" stroke-linecap="round" fill="none" opacity="0.8"/>
<path d="M142.8 519.1C144.2 517.5 147.4 514.7 149.4 513.6C151.4 512.5 153.0 512.5 155.0 512.3C157.0 512.0 159.2 511.3 161.5 512.1C163.8 512.9 166.5 514.3 169.1 516.9C171.7 519.5 175.2 524.9 176.8 527.8C178.5 530.7 178.9 532.0 179.0 534.4C179.1 536.8 178.1 539.8 177.5 542.0C176.9 544.2 177.1 545.6 175.7 547.6C174.3 549.6 171.6 552.8 169.1 554.1C166.6 555.4 162.9 555.8 160.4 555.2C157.9 554.7 155.8 553.2 153.8 550.8C151.8 548.4 150.1 544.5 148.3 541.0C146.5 537.5 144.0 532.9 142.8 530.0C141.6 527.1 141.3 525.3 141.3 523.5C141.3 521.7 141.5 520.8 142.8 519.1Z" fill="#f8766d"/>
<path d="M176.5 544.9h0M152.3 513.8h0M142.1 527.8h0M179.5 534.2h0M177.2 539.1h0M146.5 516.5h0M178.3 529.5h0M141.8 522.2h0M141.6 527.2h0M161.7 511.9h0M178.3 539.5h0M154.7 512.6h0M143.7 518.2h0M143.9 522.1h0M142.0 522.6h0M142.2 521.4h0M141.6 523.6h0M146.2 516.5h0M171.9 520.9h0M142.0 522.0h0M168.8 554.0h0M141.3 522.5h0M167.1 515.1h0M175.5 545.0h0M164.7 515.8h0M173.2 523.7h0M164.4 514.5h0M166.0 554.3h0M163.7 514.1h0M142.4 520.3h0M158.1 511.8h0M159.4 555.4h0M147.5 543.0h0M155.9 552.5h0M177.4 529.6h0M174.3 525.7h0M149.3 541.7h0M156.0 551.9h0M141.9 529.8h0M153.1 512.7h0M177.5 541.8h0M150.8 513.3h0M151.3 548.0h0M165.2 555.6h0M140.9 524.0h0M174.3 550.3h0M167.4 553.8h0M141.9 526.7h0M177.8 541.1h0M171.9 523.1h0M146.0 537.0h0M141.7 526.0h0M176.5 527.4h0M146.9 515.3h0M176.9 529.8h0M161.5 511.9h0M176.9 545.7h0M151.1 545.2h0M178.1 530.5h0M156.6 511.6h0M139.5 523.8h0M159.2 555.3h0M169.6 553.5h0M162.5 556.5h0M155.6 551.9h0M144.8 517.4h0M172.3 521.3h0M143.2 518.0h0M176.5 525.9h0M158.4 512.4h0M158.2 512.2h0M149.1 513.2h0M165.7 553.6h0M154.8 552.8h0M178.4 529.8h0M140.9 523.8h0M176.9 545.6h0M178.9 538.6h0M167.1 554.8h0M161.1 556.4h0M141.7 527.3h0M142.5 521.2h0M177.4 539.2h0M176.5 541.2h0M162.5 513.1h0M149.0 514.6h0M151.7 512.7h0M160.9 555.8h0M177.4 532.0h0M178.3 529.6h0M178.6 533.5h0M163.7 513.1h0M176.8 544.1h0M177.5 529.5h0M168.1 554.1h0M167.3 514.7h0M171.7 524.2h0M173.7 548.9h0M141.5 524.8h0M142.5 527.6h0M155.7 552.1h0M153.9 551.2h0M177.4 528.9h0M141.3 521.9h0M153.9 513.0h0M141.6 526.0h0M141.3 520.7h0M142.6 529.3h0M154.6 550.3h0M147.0 515.0h0M142.5 527.2h0M171.0 517.6h0M149.3 544.7h0M178.5 536.6h0M145.3 514.8h0M160.8 554.5h0M175.8 526.2h0M141.9 522.4h0M176.7 526.1h0M153.6 550.7h0M146.7 536.9h0M141.2 522.5h0M150.6 545.6h0M177.4 534.8h0M150.5 544.6h0M158.4 553.6h0M178.7 538.5h0M177.2 546.6h0M145.4 535.2h0M144.3 533.8h0M143.7 518.4h0M159.1 554.7h0M157.2 553.0h0M152.0 546.2h0M169.9 517.5h0M164.4 512.9h0M142.9 530.3h0M175.6 547.0h0M151.9 548.3h0M148.6 514.5h0M173.0 522.2h0M176.3 546.1h0M144.0 519.0h0M153.0 513.6h0M169.2 518.1h0M167.2 516.5h0M151.9 511.6h0M155.6 551.9h0M153.9 549.2h0M172.8 520.7h0M143.3 520.5h0M141.8 527.5h0M154.7 552.2h0M169.9 553.1h0M142.2 518.5h0M141.1 523.6h0M164.8 514.5h0M173.5 523.2h0M161.0 513.5h0M155.4 511.7h0M168.3 515.6h0M141.2 524.6h0M152.4 512.7h0M178.7 528.3h0M161.2 512.6h0M175.6 545.7h0M177.0 543.2h0M171.0 552.1h0M163.8 554.6h0M157.7 553.0h0M176.6 541.8h0M174.8 526.1h0M142.2 528.1h0M149.4 513.0h0M178.5 537.9h0M170.6 519.5h0M171.0 553.8h0M159.3 554.7h0M176.2 543.5h0M152.2 549.6h0M153.6 511.4h0M159.6 511.8h0M141.8 529.3h0M175.4 547.7h0M161.6 512.8h0M150.2 513.2h0M162.9 512.6h0M165.3 514.6h0M141.6 518.6h0M168.0 553.6h0M177.8 533.7h0M160.3 555.7h0M171.9 552.0h0M147.8 515.1h0M179.8 534.1h0M158.1 555.0h0M148.0 514.3h0M146.5 516.7h0M158.3 513.2h0M177.3 540.5h0M149.5 544.1h0M145.5 517.9h0M142.9 529.6h0M161.7 554.4h0M175.5 546.7h0M167.9 516.1h0M177.8 531.6h0M169.0 554.7h0M175.3 544.2h0M176.3 527.5h0M145.1 517.1h0M159.2 554.1h0M170.2 517.6h0M166.6 554.1h0M149.1 513.9h0M166.7 515.1h0M178.7 532.5h0M142.9 530.1h0M145.5 538.3h0M163.5 513.6h0M146.8 513.9h0M145.3 536.1h0M169.4 517.3h0M141.9 519.9h0M163.2 554.6h0M156.6 513.3h0M171.6 551.8h0M166.3 515.1h0M164.2 554.9h0M151.6 546.4h0M177.6 545.1h0M175.8 548.2h0M154.4 550.8h0M142.9 520.1h0M163.7 513.4h0M143.8 517.3h0M178.9 532.6h0M153.6 550.1h0M164.1 513.5h0M176.5 543.7h0M148.6 514.1h0M165.2 554.5h0M176.5 527.0h0M178.3 531.5h0M163.1 554.5h0M144.6 519.2h0M151.0 513.6h0M155.6 552.3h0M164.2 555.7h0M141.8 524.2h0M173.1 523.7h0M172.2 549.2h0M156.3 512.1h0M142.7 534.1h0M166.2 513.8h0M168.7 554.6h0M170.5 553.6h0M153.5 550.4h0M141.8 520.0h0M153.3 548.3h0M154.9 550.8h0M164.2 513.5h0M154.3 549.2h0M155.5 551.7h0M176.9 542.0h0M142.5 529.1h0M178.3 536.7h0M177.4 541.4h0M169.2 516.0h0M142.5 520.8h0M142.4 528.1h0M142.0 525.1h0M160.8 555.4h0M147.6 538.2h0M143.3 532.8h0M161.4 512.2h0M150.6 513.2h0M170.2 518.2h0M157.4 512.6h0M154.0 549.7h0M141.5 524.6h0M154.3 551.4h0M165.5 554.7h0M142.0 521.9h0M175.7 547.4h0M167.4 516.3h0M167.8 553.8h0M142.8 522.9h0M142.6 523.0h0M144.7 517.7h0M175.8 546.2h0M168.8 516.1h0M173.5 550.1h0M141.6 525.9h0M173.6 550.2h0M178.2 539.7h0M159.1 554.2h0M174.2 522.3h0M143.5 529.6h0M148.0 539.9h0" stroke="#f8766d" stroke-width="0.6" stroke-linecap="round" fill="none" opacity="1"/>
<path d="M148.1 530.1h0M148.3 539.7h0M149.2 538.3h0M148.0 537.2h0M151.7 536.5h0M151.4 532.5h0M163.6 520.8h0M162.5 528.8h0M175.6 544.6h0M156.9 548.1h0M159.2 531.9h0M161.0 522.3h0M168.6 528.0h0M157.0 552.2h0M162.1 528.5h0M150.3 528.8h0M160.6 535.0h0M158.3 526.4h0M159.2 540.3h0M151.0 545.1h0M163.9 545.8h0M165.5 554.6h0M164.3 524.7h0M163.2 530.8h0M149.0 548.7h0M151.5 539.0h0M156.0 526.7h0M151.2 545.0h0M152.1 533.9h0M155.1 528.9h0M156.1 544.5h0M165.6 543.3h0M157.5 529.5h0M157.2 534.9h0M163.5 542.6h0M152.8 524.4h0M145.5 532.6h0M157.8 546.5h0M163.4 535.0h0M153.0 530.8h0M143.0 529.4h0M157.8 542.1h0M150.1 539.2h0M155.0 535.2h0M170.2 551.4h0M154.9 550.2h0M167.8 528.1h0M156.5 536.9h0M158.4 511.2h0M149.3 540.2h0M157.8 541.6h0M160.2 531.2h0M143.8 518.2h0M163.5 525.5h0M162.3 537.4h0M159.8 532.2h0M151.4 538.0h0M143.9 545.8h0M150.3 522.5h0M165.0 542.3h0M168.0 529.5h0M137.1 546.4h0M159.1 538.0h0M155.0 537.9h0M158.0 533.8h0M158.5 541.0h0M142.6 529.7h0M156.3 542.8h0M152.1 541.5h0M169.5 544.4h0M156.9 534.3h0M144.4 535.3h0M159.7 544.7h0M160.1 529.6h0M150.9 550.4h0M147.0 530.3h0M160.1 530.9h0M156.1 536.6h0M153.7 529.4h0M165.3 558.8h0M161.4 545.3h0M155.0 534.5h0M150.3 543.9h0M155.9 543.6h0M166.0 526.1h0M156.1 541.4h0M152.5 541.6h0M152.2 533.1h0M161.2 539.5h0M148.6 517.9h0" stroke="#ffffff" stroke-width="0.45" stroke-linecap="round" fill="none" opacity="0.7"/>
<path d="M136.3 538.8L141.7 532.7" stroke="#f8766d" stroke-width="0.8" stroke-linecap="round"/>
<path d="M160 557V574" stroke="#f8766d" stroke-width="0.9" stroke-dasharray="2 1.2" opacity="0.8"/>
<path d="M157.3 556V565" stroke="#7d8df2" stroke-width="1.5" opacity="0.9"/>
<path d="M172.7 524.1h0M176.2 542.7h0M173.1 537.6h0M173.4 523.5h0M174.0 531.2h0M177.4 538.1h0M174.2 530.6h0M174.3 538.3h0M174.3 535.9h0M176.0 530.6h0M172.0 537.4h0M174.3 535.9h0M175.3 542.7h0M174.6 534.3h0M176.0 524.5h0M173.7 532.0h0M173.6 522.4h0M174.5 535.6h0M173.5 522.2h0M174.6 525.0h0M175.4 540.7h0M173.6 524.9h0M173.0 532.9h0M174.4 533.0h0M174.5 543.2h0" stroke="#b07ae0" stroke-width="0.6" stroke-linecap="round" fill="none" opacity="1"/>
<path d="M172.6 532.8h0M170.3 542.6h0M173.7 536.8h0M173.9 542.6h0M173.2 527.8h0M173.7 530.5h0M172.8 533.8h0M172.9 544.3h0M173.8 549.8h0M172.4 534.9h0M174.3 537.3h0M173.7 541.4h0" stroke="#3fb34f" stroke-width="0.6" stroke-linecap="round" fill="none" opacity="1"/>
<path d="M166.1 560.6h0M167.2 569.7h0M167.4 571.1h0M166.8 567.8h0M166.1 572.9h0M167.4 574.1h0M166.6 566.7h0M166.8 567.1h0" stroke="#3cc6e8" stroke-width="0.6" stroke-linecap="round" fill="none" opacity="1"/>
<path d="M159.5 553.8h0M159.7 559.0h0M158.8 562.5h0M157.3 557.5h0M159.4 563.2h0M159.2 554.9h0M160.3 557.8h0M158.5 563.8h0" stroke="#e76bf3" stroke-width="0.6" stroke-linecap="round" fill="none" opacity="1"/>
<defs><linearGradient id="nkg" gradientUnits="userSpaceOnUse" x1="138" y1="0" x2="168" y2="0"><stop offset="0" stop-color="#6f97f8"/><stop offset="0.4" stop-color="#8a8df6"/><stop offset="0.75" stop-color="#bd7df4" stop-opacity="0.85"/><stop offset="1" stop-color="#e070ea" stop-opacity="0"/></linearGradient><linearGradient id="cd4g" gradientUnits="userSpaceOnUse" x1="197" y1="646" x2="232" y2="668"><stop offset="0" stop-color="#a69a72" stop-opacity="0"/><stop offset="0.3" stop-color="#a8a070" stop-opacity="0.45"/><stop offset="0.6" stop-color="#62aa4a" stop-opacity="0.8"/><stop offset="1" stop-color="#3aae40" stop-opacity="0.95"/></linearGradient><clipPath id="tcclip"><path d="M164.7 607.5C165.9 606.5 167.1 605.4 168.5 604.8C169.9 604.2 171.8 603.8 173.4 603.8C175.0 603.8 176.8 604.2 178.0 605.0C179.2 605.8 180.0 607.1 180.6 608.6C181.2 610.1 181.1 611.9 181.3 614.0C181.5 616.1 181.4 618.9 181.8 621.0C182.2 623.1 182.1 625.6 184.0 626.8C185.9 628.0 190.3 628.2 193.0 628.3C195.7 628.4 197.4 627.5 200.0 627.3C202.6 627.0 205.2 626.6 208.4 626.8C211.7 627.0 216.1 627.4 219.5 628.6C222.9 629.8 226.2 631.5 229.0 634.0C231.8 636.5 234.1 640.2 236.0 643.5C237.9 646.8 239.7 650.4 240.6 654.0C241.5 657.6 241.8 661.3 241.6 665.0C241.4 668.7 240.4 672.7 239.5 676.0C238.6 679.3 237.3 682.3 236.0 685.0C234.7 687.7 233.2 690.0 231.8 692.0C230.4 694.0 229.1 695.6 227.5 697.2C225.9 698.8 223.9 700.2 222.0 701.4C220.1 702.6 217.6 703.7 216.0 704.2C214.4 704.7 213.5 705.3 212.2 704.6C210.9 703.9 209.8 702.5 208.4 700.1C207.0 697.7 205.7 693.2 204.0 690.0C202.3 686.8 200.4 683.7 198.2 681.1C196.0 678.5 192.9 675.9 190.9 674.6C188.9 673.3 187.4 673.3 186.0 673.5C184.6 673.7 184.4 675.0 182.3 675.7C180.2 676.4 176.8 678.1 173.5 677.9C170.2 677.7 165.9 675.0 162.6 674.6C159.3 674.2 156.7 675.9 153.8 675.7C150.9 675.5 147.4 675.0 145.0 673.5C142.6 672.0 140.8 669.5 139.6 667.0C138.4 664.5 138.0 661.5 138.0 658.2C138.0 654.9 138.4 650.2 139.6 647.3C140.8 644.4 143.0 643.3 145.0 640.7C147.0 638.1 150.0 634.1 151.6 631.9C153.2 629.7 153.5 628.9 154.5 627.6C155.5 626.3 156.7 625.5 157.5 624.0C158.3 622.5 158.6 620.9 159.3 618.8C160.0 616.6 160.6 613.0 161.5 611.1C162.4 609.2 163.5 608.5 164.7 607.5Z"/></clipPath><clipPath id="wclip"><path d="M179.5 608.0C180.4 606.2 183.9 608.6 186.0 609.2C188.1 609.8 190.0 610.7 192.0 611.8C194.0 612.9 196.2 614.2 198.0 615.6C199.8 617.0 202.6 618.6 203.0 620.2C203.4 621.9 201.7 624.1 200.5 625.5C199.3 626.9 198.8 628.2 196.0 628.8C193.2 629.4 186.6 630.5 184.0 629.0C181.4 627.5 181.2 623.5 180.5 620.0C179.8 616.5 178.6 609.8 179.5 608.0Z"/></clipPath></defs>
<path d="M179.5 608.0C180.4 606.2 183.9 608.6 186.0 609.2C188.1 609.8 190.0 610.7 192.0 611.8C194.0 612.9 196.2 614.2 198.0 615.6C199.8 617.0 202.6 618.6 203.0 620.2C203.4 621.9 201.7 624.1 200.5 625.5C199.3 626.9 198.8 628.2 196.0 628.8C193.2 629.4 186.6 630.5 184.0 629.0C181.4 627.5 181.2 623.5 180.5 620.0C179.8 616.5 178.6 609.8 179.5 608.0Z" fill="#efc2e6" opacity="0.85"/>
<g clip-path="url(#wclip)">
<path d="M182.4 606.0h0M183.7 613.2h0M188.4 617.5h0M199.4 623.4h0M190.0 626.1h0M197.5 623.6h0M195.5 626.1h0M186.3 608.6h0M185.8 608.3h0M185.1 623.8h0M190.2 621.0h0M181.8 614.1h0M185.2 624.5h0M202.4 624.9h0M181.5 626.8h0M191.8 624.5h0M186.2 622.6h0M195.9 627.7h0M202.8 627.1h0M189.8 618.9h0M185.2 621.1h0M183.6 610.0h0M198.1 622.0h0M181.4 621.7h0M187.5 618.3h0M192.2 629.9h0M185.8 624.5h0M187.8 626.0h0M184.8 625.4h0M186.5 627.4h0M194.9 628.3h0M195.9 626.4h0M182.9 616.8h0M192.8 622.8h0M201.3 627.0h0M197.1 628.3h0M199.0 626.1h0M189.9 628.3h0M185.7 616.4h0M195.5 627.0h0M193.7 627.3h0M180.6 618.4h0M180.8 618.9h0M193.4 625.7h0M186.6 608.1h0M189.4 628.9h0M196.0 627.2h0M181.8 627.5h0M180.4 614.5h0M188.7 627.2h0M182.0 614.1h0M183.9 627.5h0M180.2 610.9h0M182.8 618.0h0M185.8 627.8h0M180.0 617.2h0M192.7 620.8h0M192.2 629.0h0M201.2 629.6h0M186.6 613.4h0M191.9 619.8h0M184.6 607.9h0M196.4 624.4h0M181.3 620.8h0M198.1 624.0h0M188.2 619.1h0M185.7 614.2h0M182.9 617.0h0M181.3 621.9h0M184.0 628.8h0M183.4 607.7h0M190.8 627.6h0M189.5 622.7h0M189.3 624.8h0M185.0 614.4h0M195.0 626.3h0M187.5 612.3h0M191.6 626.1h0M181.5 613.1h0M202.3 628.5h0M198.3 626.5h0M182.4 615.1h0M186.8 617.3h0M182.6 619.3h0M184.6 612.4h0M185.7 614.1h0M192.2 617.6h0M187.6 608.4h0M181.6 622.9h0M198.5 621.9h0M190.8 626.4h0M203.4 626.1h0M187.5 610.8h0M180.6 610.0h0M185.1 627.7h0M180.8 610.3h0M185.7 626.1h0M201.8 630.0h0M187.7 624.1h0M203.2 623.1h0M184.2 609.3h0M196.9 620.0h0M190.5 620.2h0M181.4 622.4h0M187.9 628.1h0M203.3 629.5h0M183.2 623.9h0M191.3 616.9h0M196.2 624.7h0M182.8 621.1h0M194.2 624.5h0M200.4 621.6h0M182.1 612.0h0M185.7 606.6h0M182.1 610.8h0M181.8 614.4h0M197.9 627.0h0M183.2 626.8h0M180.4 613.5h0M191.3 616.5h0M185.1 623.2h0M203.9 627.6h0M181.5 617.1h0M187.4 624.6h0M187.0 613.8h0M184.2 621.1h0M195.8 621.0h0M198.7 623.4h0M181.2 624.5h0M200.5 621.9h0M197.2 623.7h0M188.7 627.4h0M202.6 623.3h0M181.4 606.0h0M188.3 624.9h0M199.6 621.5h0M187.4 618.1h0M197.1 622.1h0M201.3 627.7h0M188.9 620.8h0M187.5 617.4h0M181.6 616.7h0M191.1 619.7h0M183.1 630.0h0M181.8 616.0h0M191.8 624.1h0M200.0 627.6h0M182.7 619.7h0M185.2 617.1h0M185.1 609.7h0M199.3 627.7h0M185.2 626.1h0M192.3 617.7h0M185.5 626.9h0M183.0 613.1h0M185.6 614.4h0M187.8 628.5h0M180.3 627.4h0M191.9 628.5h0M183.4 613.5h0M183.6 626.1h0M191.9 623.5h0M195.1 623.0h0M183.0 613.2h0M183.9 606.9h0M182.6 610.7h0M190.7 617.6h0M196.2 627.6h0M202.5 626.3h0M193.9 629.5h0M180.1 619.9h0M191.8 625.9h0M180.1 620.1h0M182.0 616.8h0M180.9 626.0h0M186.2 618.2h0M185.4 612.2h0M183.9 629.9h0M195.0 629.2h0M190.0 617.3h0M191.5 618.7h0M186.2 618.5h0M182.3 615.1h0M187.9 619.9h0M191.5 628.3h0M184.5 610.6h0M185.7 608.6h0M185.4 611.1h0M180.5 606.7h0M190.3 618.8h0M183.9 609.6h0M180.1 627.5h0M190.3 617.4h0M203.4 629.8h0M198.6 624.1h0M181.9 624.1h0M184.6 615.7h0M185.0 612.2h0M186.0 621.9h0M181.7 608.0h0M189.2 622.3h0M190.5 621.8h0M198.9 625.0h0M183.9 616.5h0M183.2 619.1h0M182.2 611.3h0M193.4 628.4h0M190.3 620.3h0M180.8 612.2h0M186.1 614.8h0M184.7 627.5h0M183.1 614.1h0M185.9 606.9h0M181.3 616.2h0M203.7 629.7h0M182.7 613.7h0M180.8 623.2h0M193.9 619.7h0M192.4 626.4h0M203.8 628.0h0M185.5 614.0h0M184.2 620.4h0M202.5 627.1h0M200.9 622.6h0M182.4 618.7h0M187.0 619.0h0M183.3 622.2h0M184.7 618.8h0M187.7 615.6h0M181.6 610.2h0M196.1 623.8h0M183.0 626.5h0M183.5 625.4h0M201.7 628.8h0M187.2 623.6h0M181.4 612.9h0M194.4 627.2h0M199.9 628.5h0M183.2 613.3h0M183.8 624.3h0M184.4 629.3h0M193.7 627.6h0M194.2 626.2h0M199.4 626.9h0M184.1 622.1h0M200.0 623.1h0M197.3 626.2h0M194.3 628.5h0M184.7 610.9h0M180.0 628.0h0M185.8 627.1h0M198.1 626.7h0M180.6 611.4h0M201.7 625.7h0M199.6 627.0h0M195.3 628.4h0M185.6 607.6h0M181.9 607.0h0M199.1 622.5h0M197.8 627.5h0M191.1 617.7h0M182.6 628.2h0M186.3 628.2h0M189.4 620.6h0M186.5 626.1h0M190.6 624.3h0M199.6 625.5h0M193.3 620.5h0M187.0 629.3h0M180.5 617.0h0M182.3 618.4h0M187.0 613.4h0M183.1 625.4h0M186.2 622.9h0M196.6 628.3h0M184.2 621.6h0M189.6 615.5h0M183.4 618.3h0M184.4 619.1h0M199.5 629.3h0M182.3 628.7h0M185.8 620.2h0M190.1 622.0h0M194.1 627.2h0M190.3 618.6h0M185.6 609.3h0M189.8 629.0h0" stroke="#e37ae6" stroke-width="0.6" stroke-linecap="round" fill="none" opacity="0.9"/>
<path d="M181.3 625.0h0M184.9 628.2h0M187.9 607.7h0M188.8 615.9h0M198.0 620.2h0M187.3 613.2h0M193.6 621.8h0M196.2 629.6h0M187.1 613.3h0M194.1 629.6h0M187.4 618.5h0M181.8 615.4h0M184.2 623.4h0M197.5 624.8h0M194.5 618.2h0M188.9 618.8h0M198.7 625.0h0M180.5 623.7h0M200.1 621.4h0M192.9 619.4h0M182.5 623.7h0M192.5 624.6h0M183.3 608.7h0M200.7 629.8h0M191.3 627.1h0M180.1 619.6h0M185.4 623.7h0M196.9 621.9h0M181.4 623.5h0M198.6 621.2h0M182.2 626.8h0M194.8 621.7h0M193.4 623.3h0M182.1 624.8h0M186.1 608.1h0M183.2 625.4h0M186.2 618.2h0M199.5 627.7h0M195.8 621.6h0M180.4 617.0h0M200.5 623.8h0M185.4 609.6h0M192.0 618.7h0M186.2 625.7h0M188.8 629.9h0M187.5 625.5h0M181.6 616.9h0M196.9 622.3h0M197.2 626.9h0M189.3 625.4h0M200.4 622.4h0M198.0 626.1h0M181.3 626.6h0M193.0 628.3h0M187.0 618.4h0M182.4 625.1h0M200.4 623.1h0M180.7 609.3h0M200.9 629.4h0M182.6 617.1h0M200.2 624.4h0M181.7 608.4h0M191.4 618.2h0M196.3 628.8h0M183.8 621.7h0M180.1 622.5h0M183.8 619.2h0M181.6 625.4h0M181.8 611.0h0M201.4 625.0h0M180.6 621.2h0M192.0 628.1h0M185.1 621.9h0M187.1 618.2h0M189.0 627.0h0M192.6 624.5h0M187.6 622.4h0M195.5 624.2h0M181.5 615.2h0M198.7 628.5h0M197.0 623.0h0M182.4 610.6h0M180.6 620.3h0M191.1 624.0h0M198.6 626.0h0M181.1 618.5h0M185.8 617.2h0M184.6 612.3h0M184.4 629.6h0M185.6 627.8h0M194.2 626.3h0M193.4 629.8h0M187.0 608.9h0M188.2 617.3h0M183.7 621.4h0M184.5 624.8h0M203.5 624.2h0M188.3 614.8h0M189.3 626.3h0M188.8 629.6h0M186.2 610.1h0M187.0 618.8h0M184.4 613.5h0M181.2 622.8h0M184.9 629.1h0M193.5 627.5h0M200.4 629.7h0M187.5 615.3h0M194.8 625.4h0M196.9 620.8h0M184.8 617.5h0M180.4 608.0h0M184.7 613.0h0M180.9 612.1h0M197.8 622.3h0M185.0 611.0h0M184.5 614.0h0M187.6 629.0h0" stroke="#ffffff" stroke-width="0.6" stroke-linecap="round" fill="none" opacity="0.9"/>
<path d="M183.7 612.5h0M187.8 611.9h0M201.8 623.4h0M195.4 628.5h0M185.8 620.1h0M181.1 612.7h0M181.6 606.1h0M186.0 621.4h0M181.1 619.3h0M194.7 625.0h0M191.0 622.1h0M185.0 610.5h0M202.0 628.4h0M181.3 618.5h0M188.9 618.5h0M191.0 624.0h0M185.5 606.6h0M181.6 625.3h0M190.0 622.9h0M191.8 626.8h0M195.3 627.3h0M200.7 621.7h0M184.1 611.2h0M191.3 618.2h0M186.1 620.6h0M201.7 624.8h0M188.1 619.8h0M184.9 618.2h0M182.4 628.2h0M196.9 626.9h0M185.8 621.2h0M193.1 625.2h0M194.2 622.5h0M186.5 628.9h0M196.2 620.0h0M201.7 629.9h0M189.2 623.3h0M189.1 618.5h0M193.5 629.4h0M182.7 616.3h0M193.2 621.3h0M184.7 622.0h0M182.1 627.4h0M191.5 626.8h0M181.1 618.0h0" stroke="#6db24a" stroke-width="0.55" stroke-linecap="round" fill="none" opacity="0.9"/>
<path d="M197.9 608.7h0M189.4 606.9h0M193.9 615.9h0M195.9 608.2h0M193.7 608.9h0M194.2 610.4h0M198.9 609.6h0M197.0 607.6h0M201.1 606.9h0M196.3 610.0h0M195.2 607.6h0M201.3 607.2h0M189.9 613.2h0M193.1 608.0h0M191.2 606.8h0M201.5 615.4h0M203.2 615.4h0M200.5 608.5h0M198.1 612.1h0M192.3 613.9h0M201.3 608.9h0M193.2 615.8h0M202.8 621.3h0M198.6 614.6h0M196.4 614.7h0M199.0 617.3h0M202.2 620.9h0M197.1 609.4h0M200.5 609.2h0M200.4 611.7h0M202.3 615.1h0M201.7 613.4h0M202.9 611.2h0M198.3 616.7h0M203.5 620.2h0M203.2 618.7h0M203.4 619.9h0M194.8 610.6h0M198.6 610.8h0M200.1 613.1h0M193.6 613.6h0M190.1 606.7h0M192.7 612.0h0M203.4 608.1h0M200.6 614.1h0M202.7 616.6h0M198.3 619.7h0M200.7 610.1h0M189.9 607.0h0M201.2 608.3h0M201.1 607.7h0M195.6 608.1h0M200.1 611.0h0M194.7 608.1h0M196.3 608.1h0M193.8 611.1h0M198.0 607.9h0M200.3 606.7h0M195.7 617.4h0M199.3 606.3h0M199.6 606.0h0M190.2 614.1h0M197.1 616.4h0M202.7 620.7h0M189.4 607.9h0M192.9 607.8h0M191.1 613.7h0M193.0 610.2h0M197.7 614.9h0M201.4 612.3h0M201.8 616.2h0M189.0 607.4h0M196.5 606.8h0M191.6 607.6h0M191.3 613.4h0M199.5 620.6h0M193.1 615.3h0M193.5 612.6h0M199.0 612.1h0M201.7 607.7h0M189.0 613.2h0M201.4 617.2h0M203.3 619.0h0M197.0 615.1h0M201.1 608.7h0M201.2 620.8h0M193.0 614.3h0M193.2 610.9h0M194.3 615.9h0M202.3 612.3h0M192.0 609.4h0M200.1 616.1h0M191.3 607.6h0M199.1 616.9h0M192.5 614.0h0M199.3 615.5h0M191.4 613.5h0M202.6 619.4h0M196.4 606.8h0M192.5 609.5h0M201.8 622.1h0M194.5 615.8h0M198.2 615.4h0M199.3 606.7h0M194.8 613.5h0M202.8 613.2h0M201.3 610.1h0M190.5 613.4h0M201.5 610.1h0M202.7 617.3h0M188.7 607.5h0M202.9 611.5h0M197.7 609.8h0M200.9 620.5h0M194.5 611.6h0M195.1 607.3h0M198.8 618.9h0M199.7 611.6h0M193.4 616.0h0M190.5 613.4h0M190.7 609.4h0M191.4 612.7h0M193.1 607.0h0M196.3 615.6h0M190.6 612.6h0M201.8 608.6h0M196.7 610.0h0M202.6 610.8h0M200.6 613.8h0M195.7 616.7h0M201.2 606.3h0M192.3 609.5h0M198.9 618.4h0M196.5 609.8h0M196.9 610.5h0M195.9 614.0h0M190.3 608.0h0M195.5 612.7h0M199.5 613.1h0M201.2 611.2h0M201.0 607.9h0M200.1 612.2h0M203.8 607.5h0M193.5 608.4h0M203.4 613.9h0M203.3 618.0h0M198.5 613.6h0M203.0 616.9h0M203.0 622.0h0M190.1 611.0h0M196.6 618.4h0M197.0 618.8h0M188.9 614.8h0M202.1 614.9h0M199.1 609.0h0M193.6 608.3h0M203.7 611.7h0M202.2 610.8h0M198.7 616.7h0M199.0 612.8h0M195.9 608.4h0M192.9 612.9h0M190.7 607.5h0M201.4 609.0h0M199.2 611.8h0M202.8 612.4h0M201.0 608.0h0M192.8 613.5h0M197.5 609.0h0M195.8 609.1h0M190.7 615.0h0M197.0 616.9h0M203.6 616.4h0M193.2 614.2h0M200.8 613.3h0M197.7 610.5h0M203.0 612.9h0M188.5 607.5h0M198.8 618.2h0M201.2 608.9h0M191.0 611.7h0M195.7 616.1h0M193.2 613.3h0M197.1 617.2h0M195.9 617.1h0M201.7 610.4h0M193.4 612.6h0M199.5 618.0h0M197.6 608.7h0M193.2 609.9h0M202.5 607.9h0M194.8 611.5h0M199.8 616.9h0M194.5 609.2h0M201.8 606.5h0M203.3 619.3h0M202.8 621.9h0M191.1 614.4h0M197.0 615.6h0M202.7 621.7h0M188.4 608.9h0M199.0 609.3h0M203.3 616.4h0M200.3 609.7h0M201.5 613.6h0M190.4 612.7h0M194.1 610.6h0M195.5 608.4h0M203.5 609.8h0M200.0 612.3h0M198.0 616.9h0M192.8 611.4h0M190.3 606.2h0M191.7 609.8h0M189.4 606.1h0M200.0 620.1h0M194.5 610.1h0M199.2 615.7h0M199.2 608.1h0M195.8 613.3h0M196.3 612.9h0M201.9 618.3h0M194.4 611.8h0M199.2 609.2h0M199.2 610.4h0M203.0 615.4h0M203.4 612.9h0M193.3 606.9h0M196.4 607.8h0M201.4 617.0h0M202.8 611.3h0M190.8 611.1h0M198.4 620.2h0M191.1 614.3h0M195.9 614.1h0M202.6 612.2h0M196.5 610.2h0M199.5 607.4h0M197.8 618.1h0M189.9 614.1h0M200.6 617.8h0M189.0 608.4h0M192.6 608.5h0M195.8 618.0h0M192.1 606.6h0" stroke="#c59a2c" stroke-width="0.6" stroke-linecap="round" fill="none" opacity="0.95"/>
</g>
<path d="M164.7 607.5C165.9 606.5 167.1 605.4 168.5 604.8C169.9 604.2 171.8 603.8 173.4 603.8C175.0 603.8 176.8 604.2 178.0 605.0C179.2 605.8 180.0 607.1 180.6 608.6C181.2 610.1 181.1 611.9 181.3 614.0C181.5 616.1 181.4 618.9 181.8 621.0C182.2 623.1 182.1 625.6 184.0 626.8C185.9 628.0 190.3 628.2 193.0 628.3C195.7 628.4 197.4 627.5 200.0 627.3C202.6 627.0 205.2 626.6 208.4 626.8C211.7 627.0 216.1 627.4 219.5 628.6C222.9 629.8 226.2 631.5 229.0 634.0C231.8 636.5 234.1 640.2 236.0 643.5C237.9 646.8 239.7 650.4 240.6 654.0C241.5 657.6 241.8 661.3 241.6 665.0C241.4 668.7 240.4 672.7 239.5 676.0C238.6 679.3 237.3 682.3 236.0 685.0C234.7 687.7 233.2 690.0 231.8 692.0C230.4 694.0 229.1 695.6 227.5 697.2C225.9 698.8 223.9 700.2 222.0 701.4C220.1 702.6 217.6 703.7 216.0 704.2C214.4 704.7 213.5 705.3 212.2 704.6C210.9 703.9 209.8 702.5 208.4 700.1C207.0 697.7 205.7 693.2 204.0 690.0C202.3 686.8 200.4 683.7 198.2 681.1C196.0 678.5 192.9 675.9 190.9 674.6C188.9 673.3 187.4 673.3 186.0 673.5C184.6 673.7 184.4 675.0 182.3 675.7C180.2 676.4 176.8 678.1 173.5 677.9C170.2 677.7 165.9 675.0 162.6 674.6C159.3 674.2 156.7 675.9 153.8 675.7C150.9 675.5 147.4 675.0 145.0 673.5C142.6 672.0 140.8 669.5 139.6 667.0C138.4 664.5 138.0 661.5 138.0 658.2C138.0 654.9 138.4 650.2 139.6 647.3C140.8 644.4 143.0 643.3 145.0 640.7C147.0 638.1 150.0 634.1 151.6 631.9C153.2 629.7 153.5 628.9 154.5 627.6C155.5 626.3 156.7 625.5 157.5 624.0C158.3 622.5 158.6 620.9 159.3 618.8C160.0 616.6 160.6 613.0 161.5 611.1C162.4 609.2 163.5 608.5 164.7 607.5Z" fill="#e070ea"/>
<g clip-path="url(#tcclip)">
<rect x="136" y="622" width="34" height="60" fill="url(#nkg)"/>
<rect x="190" y="620" width="60" height="90" fill="url(#cd4g)"/>
<path d="M190 672L200 664L212 672L222 700L210 708L200 690Z" fill="#9aa22a" opacity="0.5"/>
<path d="M224.9 684.8h0M208.9 637.1h0M192.7 655.3h0M189.8 657.2h0M208.4 635.1h0M203.7 639.0h0M198.9 647.9h0M189.2 647.0h0M227.7 636.5h0M201.2 661.3h0M203.3 652.5h0M214.5 670.1h0M194.4 656.8h0M225.3 641.8h0M197.2 666.0h0M214.2 694.3h0M188.6 650.9h0M222.0 665.4h0M203.3 670.9h0M229.6 650.3h0M217.8 676.0h0M191.9 667.4h0M196.7 636.9h0M201.8 629.1h0M196.4 665.5h0M199.2 641.2h0M218.9 657.4h0M218.2 634.7h0M211.3 631.8h0M194.8 652.7h0M209.9 670.7h0M189.4 637.4h0M216.9 646.8h0M211.4 637.2h0M204.5 642.2h0M187.1 630.2h0M210.0 701.6h0M228.7 645.0h0M216.7 633.2h0M186.1 642.0h0M188.0 658.6h0M191.0 655.6h0M198.4 658.2h0M199.6 642.2h0M198.3 656.4h0M205.3 666.7h0M204.2 627.1h0M222.4 641.3h0M212.8 635.2h0M214.2 628.2h0M204.9 628.0h0M205.6 649.3h0M196.0 641.6h0M207.9 629.7h0M205.7 675.9h0M195.1 667.5h0M193.7 644.1h0M201.9 638.6h0M209.7 643.3h0M203.1 639.2h0M213.2 645.3h0M212.1 674.6h0M214.8 680.0h0M220.3 640.9h0M234.4 645.9h0M195.5 648.4h0M192.0 641.8h0M204.7 629.2h0M199.9 663.1h0M191.3 650.2h0M191.8 637.0h0M202.5 683.5h0M191.3 631.6h0M203.0 653.8h0M217.2 652.0h0M208.3 653.4h0M207.8 665.7h0M198.3 634.0h0M216.8 643.5h0M195.1 646.9h0M222.3 630.9h0M215.0 628.1h0M199.8 658.8h0M189.0 628.1h0M186.8 670.4h0M193.7 651.7h0M216.2 629.2h0M190.2 655.6h0M196.9 653.5h0M214.1 639.0h0M199.6 663.5h0M194.3 666.6h0M188.1 671.6h0M206.5 683.6h0M211.2 674.7h0M230.3 666.4h0M189.2 638.3h0M190.1 663.5h0M224.0 635.2h0M227.1 650.1h0M206.6 652.2h0M201.2 628.9h0M201.1 631.3h0M214.2 635.3h0M210.9 651.4h0M211.9 634.6h0M190.6 668.8h0M216.5 648.9h0M220.8 631.3h0M192.9 652.6h0M210.4 684.5h0M212.4 642.6h0M206.6 685.9h0M198.9 648.7h0M191.0 634.8h0M190.9 674.2h0M188.2 668.2h0M200.5 661.9h0M215.3 629.2h0M218.7 649.2h0M196.9 638.3h0M218.8 645.5h0M223.1 649.5h0M198.3 637.7h0M200.7 671.6h0M205.0 680.7h0M225.4 637.2h0M210.9 644.9h0M221.2 636.9h0M215.2 642.0h0M194.6 669.5h0M200.5 681.7h0M197.5 636.6h0M200.2 644.8h0M230.9 658.3h0M203.1 679.9h0M199.1 629.9h0M194.4 641.1h0M204.4 648.8h0M192.3 660.9h0M219.6 635.2h0M210.9 662.6h0M212.9 634.7h0M204.1 646.6h0M198.6 630.0h0M196.3 650.8h0M198.2 652.4h0M199.1 648.0h0M226.1 645.6h0M210.2 666.3h0M206.1 641.9h0M234.1 662.3h0M211.8 627.3h0M205.1 645.0h0M218.1 666.9h0M227.3 676.5h0M187.9 663.1h0M202.9 679.7h0M206.7 686.7h0M214.9 656.4h0M217.3 667.7h0M215.9 638.4h0M186.8 628.1h0M195.1 672.7h0M230.1 668.5h0M190.7 669.5h0M216.7 648.0h0M203.2 634.1h0M194.9 644.3h0M227.4 642.0h0M187.4 656.0h0M218.4 658.9h0M210.1 701.0h0M205.6 630.6h0M207.4 683.7h0M197.9 640.4h0M198.7 655.2h0M199.3 681.5h0M207.0 639.3h0M215.4 684.5h0M215.5 631.0h0M190.8 661.3h0M235.0 667.6h0M211.0 638.0h0M193.0 675.0h0M225.3 653.2h0M220.5 644.4h0M212.4 702.5h0M211.5 658.0h0M210.0 666.5h0M221.7 665.4h0M196.5 664.5h0M233.9 651.3h0M186.8 668.5h0M204.4 631.0h0M214.0 666.6h0M210.4 655.5h0M195.7 677.3h0M209.5 632.1h0M210.9 684.3h0M222.4 640.1h0M209.7 689.2h0M204.4 688.9h0M219.0 672.7h0M236.4 656.7h0M200.2 671.9h0M205.4 644.7h0M211.6 646.2h0M196.4 657.2h0M210.3 638.0h0M207.1 665.4h0M204.8 645.3h0M187.9 667.8h0M199.8 664.2h0M195.1 642.9h0M220.7 646.0h0M205.1 649.9h0M186.3 642.1h0M188.4 635.9h0M202.8 665.1h0M188.2 657.2h0M193.2 661.9h0M228.7 649.7h0M228.5 665.4h0M187.1 630.0h0M207.4 635.6h0M192.4 629.5h0M202.3 637.0h0M191.0 673.7h0M212.3 673.3h0M200.0 627.5h0M208.8 658.6h0M221.7 645.7h0M239.0 650.9h0M214.9 630.2h0M189.7 651.5h0M210.9 658.2h0M214.5 677.7h0M212.7 641.0h0M190.9 633.8h0M205.4 677.0h0M198.3 636.6h0M230.7 663.2h0M205.1 670.4h0M197.0 640.3h0M200.0 627.5h0M199.2 653.3h0M196.3 675.8h0M229.4 649.6h0M193.7 668.9h0M206.1 677.5h0M205.0 658.9h0M194.0 631.9h0M186.6 661.3h0M229.1 675.0h0M190.5 640.0h0M196.2 673.9h0M195.9 677.8h0M233.2 642.4h0M227.6 643.2h0M204.6 674.0h0M193.8 637.3h0M226.8 644.9h0M223.4 669.2h0M186.5 661.1h0M191.0 655.5h0M194.1 643.0h0M204.3 676.8h0M198.5 651.2h0M198.1 643.6h0M219.8 666.1h0M201.4 635.4h0M211.1 636.9h0M198.4 640.8h0M203.2 682.4h0M225.4 654.6h0M202.7 634.2h0M191.8 650.1h0M221.6 689.7h0M219.2 671.9h0M226.5 665.3h0M218.9 639.0h0M207.8 637.6h0M193.3 632.7h0M227.4 652.5h0M229.8 643.8h0M214.6 655.9h0M231.8 643.3h0M195.1 665.1h0M195.8 676.3h0M197.9 670.4h0M206.4 655.0h0M211.6 634.5h0M203.1 678.5h0M215.9 633.0h0M213.5 631.7h0M200.2 659.3h0M221.9 664.1h0M212.9 659.7h0M186.5 663.5h0M197.4 644.4h0M204.3 637.3h0M194.1 677.5h0M221.5 648.7h0M198.7 679.9h0M227.3 635.0h0M201.3 660.8h0M205.1 648.5h0M216.8 629.5h0M226.7 651.6h0M232.9 639.6h0M207.0 696.1h0M192.3 650.6h0M226.4 637.0h0M212.7 651.6h0M219.2 676.5h0M200.6 682.1h0M205.9 662.9h0M204.3 648.7h0M195.9 673.0h0M226.3 679.4h0M222.3 648.6h0M210.4 652.7h0M188.8 661.4h0M212.8 639.9h0M195.0 650.5h0M186.4 652.6h0M192.7 657.2h0M203.8 655.6h0M189.1 657.9h0M208.5 690.8h0M188.9 660.1h0M194.1 631.7h0M228.4 635.6h0M187.8 655.7h0M220.3 673.2h0M239.6 663.2h0M195.6 641.9h0M192.0 648.9h0M203.8 659.6h0M195.9 653.3h0M229.3 655.4h0M215.0 658.0h0M203.5 675.2h0M186.3 661.1h0M217.7 673.8h0M231.9 652.9h0M189.7 637.3h0M196.2 678.6h0M193.3 666.3h0M188.6 628.4h0M197.3 650.7h0M207.3 654.9h0M218.7 646.8h0M207.0 627.6h0M206.7 636.9h0M221.8 655.7h0M205.1 683.6h0M220.3 639.7h0M209.9 670.5h0M204.7 656.0h0M200.7 629.5h0M187.2 628.7h0M193.9 652.9h0M192.9 633.8h0M203.6 670.8h0M208.4 631.9h0M193.2 635.3h0M207.9 680.6h0M204.6 683.2h0M228.7 646.8h0M191.8 657.2h0M222.9 675.3h0M205.7 630.2h0M199.6 650.5h0M195.6 643.1h0M206.4 645.0h0M216.8 647.1h0M210.7 657.4h0M219.6 643.9h0M202.1 678.2h0M201.3 656.5h0M192.4 667.3h0M188.3 658.6h0M207.7 674.8h0M210.9 628.6h0M197.8 669.9h0M186.3 649.9h0M202.6 629.4h0M208.1 641.7h0M193.0 642.9h0M195.3 641.7h0M220.4 634.4h0M227.8 641.8h0M195.7 668.1h0M215.0 668.0h0M198.8 660.1h0M230.7 639.1h0M193.0 654.5h0M207.2 661.4h0M188.3 656.9h0M209.6 643.9h0M193.6 658.1h0M227.2 657.0h0M198.3 666.6h0M192.5 632.5h0M215.2 698.5h0M218.6 675.2h0M203.1 629.8h0M214.5 664.3h0M212.8 632.9h0M207.9 652.1h0M200.9 652.1h0M220.3 675.7h0M190.2 644.0h0M209.9 659.2h0M198.7 648.0h0M194.2 633.5h0M208.4 652.7h0M213.5 654.3h0M220.7 638.3h0M224.3 644.0h0M203.9 675.6h0M224.4 652.9h0M207.8 641.4h0M197.1 647.1h0M226.5 640.6h0M212.6 627.8h0M217.9 642.7h0M189.2 662.9h0M212.4 636.2h0M221.5 674.5h0M220.3 632.9h0M208.4 636.5h0M198.8 678.4h0M203.6 688.0h0M204.4 685.4h0M233.0 648.2h0M218.5 664.0h0M217.6 658.1h0M192.8 654.3h0M197.6 645.1h0M199.9 655.8h0M196.8 664.4h0M230.7 669.3h0M221.5 665.4h0M227.2 642.6h0M239.1 652.8h0M186.6 637.2h0M207.6 640.0h0M211.0 629.5h0M201.2 656.6h0M199.4 673.5h0M219.5 637.9h0M195.9 666.4h0M216.1 631.3h0M199.6 672.5h0M219.5 638.4h0M205.9 672.8h0M192.7 646.1h0M224.0 636.7h0M210.0 638.3h0M195.9 637.4h0M194.2 635.4h0M224.4 671.4h0M199.2 648.8h0M217.0 651.6h0M199.4 661.0h0M195.6 653.3h0M210.6 630.6h0M235.2 649.5h0M187.8 661.8h0M227.7 654.5h0M224.9 689.2h0M211.2 650.9h0M232.4 648.5h0M204.0 657.5h0M199.2 674.6h0M201.0 639.6h0M198.0 646.0h0M234.4 646.5h0M208.3 670.7h0M211.2 632.6h0M196.8 662.8h0M202.3 666.8h0M223.7 643.9h0M188.8 655.7h0M191.5 660.9h0M212.8 628.7h0M186.6 661.0h0M187.1 642.3h0M204.9 668.5h0M219.0 650.5h0M217.3 633.6h0M212.2 632.2h0M197.6 640.4h0M204.0 641.9h0M195.7 632.7h0M207.3 651.4h0M219.1 651.0h0M212.3 632.4h0M230.4 662.8h0M215.5 666.8h0M201.0 683.0h0M209.2 683.6h0M211.2 631.8h0M222.5 678.4h0M212.5 630.1h0M210.2 667.8h0M220.5 678.5h0M209.6 677.1h0M198.3 638.3h0M190.4 649.1h0M217.7 651.0h0M203.3 677.6h0M188.7 672.8h0M230.8 644.5h0M200.8 633.0h0M229.4 656.7h0M197.9 637.2h0M201.9 655.5h0M206.6 672.1h0M198.0 657.7h0M216.0 630.8h0M224.6 666.1h0M198.0 651.7h0M232.3 644.2h0M199.3 652.8h0M208.2 654.9h0M201.7 641.7h0M198.9 665.6h0M226.2 669.0h0M226.1 668.8h0M199.7 677.1h0M202.0 667.1h0M207.5 646.5h0M216.6 640.9h0M214.9 694.8h0M199.5 667.5h0M197.7 650.1h0M194.4 656.6h0M226.2 656.3h0M210.6 658.6h0M217.2 665.2h0M217.5 654.3h0M209.9 635.2h0M232.0 690.0h0M226.7 650.5h0M218.9 687.5h0M207.1 680.9h0M211.3 656.3h0M212.5 661.9h0M187.9 672.2h0M209.3 647.4h0M207.6 668.1h0M224.4 661.8h0M221.3 671.2h0M200.8 640.5h0M205.7 643.0h0M208.0 632.2h0M203.9 662.2h0M208.8 658.7h0M195.9 639.1h0M218.5 652.9h0M220.7 646.4h0M218.9 635.3h0M218.2 652.9h0M188.6 637.3h0M213.3 635.5h0M215.2 637.7h0M206.6 668.8h0M200.0 646.4h0M205.6 667.9h0M203.9 638.1h0M210.5 644.2h0M221.9 666.0h0M218.3 662.9h0M187.0 664.2h0M213.6 633.0h0M202.6 652.8h0M194.2 657.9h0M221.6 672.9h0M235.9 646.7h0M190.6 631.8h0M196.7 653.3h0M189.0 672.3h0M220.3 694.2h0M216.3 632.7h0M201.7 629.3h0M199.6 632.5h0M197.5 677.6h0M188.9 637.6h0M193.5 644.2h0M225.0 655.3h0M215.7 644.8h0M200.5 655.1h0M207.4 639.1h0M215.4 684.8h0M203.0 661.6h0M211.4 658.4h0M196.7 658.2h0M237.8 654.0h0M209.0 645.9h0M195.1 645.0h0M215.4 653.9h0M205.8 649.2h0M191.5 648.4h0M199.8 665.9h0M187.9 671.3h0M212.7 640.4h0M205.5 640.7h0M234.0 644.1h0M217.3 657.7h0M212.8 693.7h0M226.5 642.0h0M224.4 631.8h0M206.3 634.0h0M195.9 651.7h0M218.4 669.0h0M195.8 647.7h0M211.5 638.3h0M210.1 634.3h0M229.0 669.4h0M198.1 668.7h0M199.7 663.5h0M199.6 646.3h0M192.3 630.2h0M188.1 662.3h0M189.9 655.5h0M216.4 653.3h0M231.5 678.0h0M188.4 660.8h0M201.7 674.2h0M219.9 658.7h0M229.4 640.6h0M211.6 685.2h0M212.0 672.0h0M233.9 665.5h0M192.4 648.9h0M213.1 642.2h0M208.4 640.4h0M207.6 689.8h0M192.9 635.1h0M213.0 648.6h0M206.1 656.6h0M191.7 633.4h0M215.1 665.7h0M186.2 628.6h0M216.9 659.6h0M223.7 647.8h0M187.9 634.7h0M220.6 654.4h0M222.6 668.4h0M215.3 657.0h0M198.2 664.8h0M220.4 691.0h0M207.8 662.3h0M192.7 668.2h0M213.2 653.0h0M197.5 640.7h0M201.9 654.4h0M186.5 640.7h0M204.0 674.0h0M227.5 633.4h0M213.0 697.6h0M220.9 648.2h0M214.7 662.6h0M218.0 657.7h0M186.8 655.9h0M192.3 654.3h0M201.7 644.0h0M195.1 643.1h0M214.2 630.3h0M191.4 640.7h0M213.4 645.3h0M195.5 652.8h0M216.0 635.6h0M206.4 631.6h0M214.6 690.0h0M198.3 676.5h0M227.8 665.7h0M200.2 663.2h0M192.6 638.2h0M202.4 647.3h0M199.1 654.3h0M224.6 673.3h0M218.6 682.5h0M223.9 666.1h0M219.6 670.3h0M191.1 649.3h0M219.9 637.1h0M192.9 661.6h0M218.5 693.6h0M201.2 684.4h0M189.9 639.9h0M209.4 654.2h0M230.1 649.6h0M191.7 657.1h0M187.5 657.6h0M222.1 645.2h0M203.6 657.1h0M209.4 676.5h0M194.7 661.0h0M189.6 652.8h0M189.0 653.3h0M213.1 659.3h0M201.0 640.6h0M203.2 631.5h0M214.0 648.2h0M195.2 642.2h0M239.0 671.2h0M203.9 644.2h0M216.7 664.5h0M217.5 640.1h0M212.7 635.3h0M237.2 663.3h0M204.2 641.9h0M219.3 647.7h0M203.6 649.3h0M234.5 681.8h0M216.1 644.7h0M219.6 634.3h0M206.6 629.4h0M227.2 645.6h0M232.5 642.3h0M192.5 657.9h0M223.0 674.1h0M201.2 654.5h0M192.1 640.6h0M219.6 633.0h0M194.4 666.8h0M222.5 668.2h0M215.2 654.0h0M191.5 647.4h0M196.3 674.9h0M193.4 659.7h0M224.1 644.9h0M204.0 678.7h0M213.4 636.4h0M216.0 632.1h0M209.1 669.8h0M206.8 643.7h0M238.9 657.2h0M189.3 630.3h0M190.1 660.1h0M225.0 642.0h0M239.6 658.5h0M215.1 651.6h0M209.5 653.0h0M193.9 669.7h0M189.6 672.5h0M187.5 639.8h0M201.2 636.5h0M222.8 638.6h0M189.5 644.9h0M220.5 636.8h0M194.7 653.7h0M193.5 629.6h0M232.9 649.8h0M225.7 648.4h0M210.6 663.9h0M186.6 655.3h0M197.4 643.6h0M187.4 656.0h0M203.5 653.2h0M186.6 649.6h0M207.6 663.7h0M189.4 647.1h0M196.3 628.9h0M231.3 672.1h0M189.0 663.7h0M226.6 650.5h0M195.1 655.2h0M190.4 662.7h0M193.5 639.9h0M203.3 635.2h0M234.4 661.9h0M192.5 634.6h0M188.6 668.7h0M234.7 643.3h0M216.4 646.4h0M209.1 641.4h0M198.4 646.7h0M226.6 686.2h0M200.0 632.5h0M206.1 690.0h0M190.2 652.3h0M213.2 663.1h0M188.7 672.6h0M227.5 639.4h0M207.7 634.2h0M198.0 639.2h0M186.5 663.3h0M190.2 645.2h0M219.8 634.5h0M189.5 638.4h0M229.9 648.1h0M202.0 629.8h0M191.7 654.9h0M208.3 666.6h0M200.7 668.4h0M189.3 633.1h0M199.3 677.4h0M207.6 664.1h0M209.4 641.4h0M220.0 652.9h0M201.3 663.7h0M205.3 633.1h0M224.8 656.9h0M187.4 666.4h0M214.9 631.6h0M193.3 649.5h0M208.9 661.3h0M239.7 661.1h0M230.7 667.0h0M228.5 648.4h0M190.4 651.4h0M213.4 645.4h0M207.3 636.7h0M195.6 646.8h0M198.5 646.9h0M209.3 649.7h0M200.9 665.7h0M207.6 691.4h0M190.7 671.0h0M206.2 687.6h0M209.7 630.1h0M187.2 651.5h0M189.8 638.3h0M222.9 655.4h0M206.7 635.1h0M211.3 653.4h0M202.0 665.1h0M207.9 655.7h0M187.8 666.4h0M196.0 631.3h0M236.6 659.0h0M206.3 694.1h0M195.5 658.2h0M215.7 649.9h0M228.3 638.6h0M212.4 685.9h0M187.8 645.7h0M216.7 661.4h0M214.3 630.0h0M203.8 649.0h0M201.3 632.8h0M189.6 646.6h0M204.1 648.6h0M221.9 660.3h0M192.2 673.5h0M194.0 656.7h0M188.8 645.0h0M194.4 656.6h0M230.3 690.7h0M206.2 631.1h0M202.3 647.6h0M210.7 642.7h0M216.1 655.0h0M200.9 667.3h0M211.2 671.5h0M197.0 673.0h0M226.8 681.8h0M197.7 643.4h0M203.0 659.4h0M235.4 646.4h0M188.4 634.8h0M200.1 681.6h0M190.7 643.4h0M190.5 664.5h0M216.0 659.2h0M198.3 636.1h0M218.6 682.8h0M191.2 647.2h0M198.2 639.6h0M205.8 640.2h0M208.6 667.7h0M198.5 676.6h0M196.9 635.9h0M203.9 632.3h0M233.7 641.1h0M209.0 642.7h0M200.8 628.3h0M190.0 649.4h0M208.5 663.2h0M198.8 647.8h0M223.4 655.3h0M210.2 637.3h0M217.0 685.6h0M223.2 669.1h0M188.3 635.8h0M206.0 687.9h0M192.8 635.8h0M187.1 633.7h0M220.3 668.2h0M207.5 647.2h0M195.7 639.6h0M234.2 652.1h0M198.1 631.9h0M198.4 678.4h0M188.7 664.1h0M190.1 630.0h0M196.5 662.9h0M198.7 666.1h0M203.2 665.7h0M200.5 638.6h0M206.9 665.7h0M201.2 682.5h0M201.5 686.0h0M202.7 664.8h0M191.9 658.3h0M204.8 655.3h0M197.4 675.6h0M201.4 642.2h0M216.1 628.7h0M217.0 631.9h0M195.1 661.3h0M212.8 640.7h0M229.6 642.5h0M227.1 663.2h0M199.8 643.7h0M202.6 653.9h0M211.3 645.1h0M198.0 631.0h0M203.0 664.7h0M208.9 635.7h0M187.1 661.3h0M216.7 665.1h0M197.4 642.9h0M207.5 629.8h0M215.4 650.4h0M193.3 631.6h0M215.1 676.6h0M187.2 650.5h0M187.5 646.3h0M232.7 673.7h0M195.5 641.0h0M196.7 631.3h0M204.7 673.6h0M209.7 667.9h0M217.8 650.5h0M208.9 644.4h0M187.7 642.3h0M205.0 646.0h0M220.4 652.4h0M208.5 677.7h0M199.4 667.8h0M189.8 632.4h0M187.7 649.5h0M208.0 650.9h0M212.1 686.4h0M223.2 642.3h0M187.5 644.8h0M189.3 628.4h0M189.2 645.1h0M205.3 647.4h0M207.5 627.0h0M212.7 681.0h0M210.7 691.7h0M208.3 635.1h0M205.9 688.9h0M219.2 644.8h0M191.8 629.5h0M196.1 662.2h0M202.1 674.3h0M195.1 676.4h0M208.0 683.8h0M204.7 672.8h0M212.9 679.6h0M197.6 642.5h0M218.9 698.5h0M199.5 636.7h0M208.9 652.1h0M212.2 656.0h0M207.4 676.0h0M202.2 644.7h0M225.0 636.3h0M197.5 670.9h0M193.5 649.8h0M193.6 662.5h0M197.0 679.8h0M225.1 686.4h0M206.2 645.4h0M212.4 648.0h0M203.6 668.1h0M203.4 652.3h0M205.2 645.8h0M191.8 643.8h0M216.9 653.4h0M214.8 632.4h0M205.2 650.0h0M209.4 649.6h0M201.0 659.9h0M220.3 636.0h0M206.3 631.9h0M206.0 648.8h0M200.0 678.0h0M221.8 667.4h0M197.2 642.6h0M198.7 664.9h0M202.6 653.4h0M199.2 661.8h0M208.8 639.6h0M227.4 662.8h0M205.5 666.9h0M192.0 668.3h0M209.8 651.8h0M198.8 653.7h0M189.7 662.5h0M201.2 655.4h0M192.4 633.9h0M202.4 658.1h0M222.3 660.4h0M209.8 639.5h0M214.8 641.7h0M208.9 633.7h0M203.4 686.5h0M206.4 644.5h0M211.6 644.2h0M198.4 675.2h0M195.0 636.2h0M201.8 676.2h0M223.6 660.9h0M220.0 637.6h0M187.8 668.4h0M191.7 652.3h0M209.9 686.2h0M204.2 677.1h0M194.7 630.8h0M207.2 673.5h0M206.6 693.6h0M230.5 690.9h0M208.8 670.3h0M225.3 652.4h0M220.4 673.2h0M197.6 679.1h0" stroke="#e07ae8" stroke-width="0.7" stroke-linecap="round" fill="none" opacity="0.9"/>
<path d="M191.9 674.8h0M226.5 680.9h0M212.2 685.1h0M207.2 634.8h0M232.0 667.4h0M231.3 647.5h0M211.3 657.9h0M222.6 668.8h0M230.2 671.5h0M227.5 680.6h0M225.1 660.2h0M223.7 669.9h0M226.7 690.2h0M225.4 658.2h0M222.1 669.1h0M218.8 685.2h0M221.9 676.4h0M225.6 646.5h0M229.2 689.3h0M211.9 696.9h0M223.9 641.4h0M214.6 703.6h0M219.2 637.8h0M216.1 644.8h0M224.5 644.6h0M237.2 658.5h0M209.3 685.0h0M224.8 661.0h0M219.0 634.5h0M199.7 665.6h0M215.5 703.2h0M225.0 659.5h0M211.3 695.6h0M201.1 678.6h0M230.9 678.9h0M228.5 669.5h0M217.0 689.8h0M229.7 655.4h0M234.6 672.8h0M216.2 672.9h0M223.1 699.6h0M226.5 666.6h0M217.6 671.6h0M221.8 680.3h0M240.4 659.1h0M234.9 685.8h0M226.2 668.4h0M239.1 670.7h0M209.9 699.2h0M227.5 685.9h0M204.4 675.5h0M207.0 673.3h0M217.5 666.4h0M230.7 693.2h0M224.7 682.1h0M214.2 667.3h0M209.0 670.7h0M221.5 659.9h0M233.5 682.0h0M216.2 674.1h0M223.9 670.7h0M223.0 683.6h0M213.6 690.4h0M220.3 689.9h0M208.3 661.4h0M218.8 702.5h0M207.3 683.4h0M237.8 658.2h0M214.4 664.0h0M233.5 647.1h0M213.9 653.6h0M215.4 641.5h0M208.7 682.7h0M209.0 686.9h0M199.4 672.0h0M197.1 657.4h0M235.5 643.9h0M203.6 671.3h0M236.4 647.2h0M234.9 647.4h0M213.6 680.9h0M234.2 687.2h0M230.9 692.1h0M225.8 650.5h0M227.5 670.8h0M212.4 683.2h0M232.7 668.4h0M220.9 696.4h0M233.6 660.9h0M216.9 652.1h0M230.0 677.3h0M212.0 654.8h0M210.3 670.3h0M199.7 672.8h0M212.8 694.0h0M238.3 649.2h0M220.1 689.6h0M228.4 634.7h0M227.6 692.4h0M212.8 686.0h0M211.4 636.3h0M222.5 688.1h0M234.7 685.2h0M216.5 665.0h0M232.3 679.5h0M237.3 675.5h0M233.9 669.4h0M219.9 672.2h0M226.1 671.1h0M228.8 646.8h0M216.1 681.1h0M214.5 648.6h0M225.6 661.8h0M223.9 663.4h0M228.0 673.9h0M225.3 689.4h0M231.5 640.1h0M219.7 698.2h0M226.7 689.0h0M190.5 671.5h0M216.1 657.2h0M230.6 650.1h0M198.1 671.4h0M222.3 672.2h0M209.9 693.2h0M206.4 678.5h0M226.4 676.5h0M230.8 655.6h0M222.1 649.0h0M235.0 670.0h0M208.5 673.8h0M224.2 657.1h0M203.7 654.4h0M214.0 673.6h0M212.4 681.4h0M230.9 689.6h0M234.2 671.2h0M222.7 638.5h0M225.7 656.8h0M227.1 683.1h0M230.5 666.3h0M214.4 697.0h0M238.5 664.3h0M221.3 656.3h0M218.2 686.0h0M206.6 685.4h0M225.0 667.0h0M208.6 694.9h0M208.2 694.3h0M239.0 674.0h0M208.7 649.1h0M231.2 671.6h0M208.3 685.4h0M227.9 686.6h0M233.7 662.8h0M225.0 695.0h0M229.3 644.1h0M223.5 651.4h0M224.3 683.1h0M211.8 691.4h0M235.5 664.4h0M211.1 691.7h0M226.8 639.7h0M227.6 678.6h0M209.2 678.9h0M226.8 662.3h0M202.5 675.0h0M227.7 652.4h0M217.6 669.6h0M233.2 677.1h0M224.6 696.1h0M217.7 677.5h0M209.0 655.6h0M220.0 648.9h0M229.2 644.5h0M208.6 660.7h0M207.6 693.3h0M203.4 687.6h0M238.8 657.2h0M205.9 680.0h0M209.6 690.0h0M226.9 651.0h0M191.3 666.4h0M224.6 659.6h0M236.1 665.8h0M229.1 647.0h0M216.9 689.6h0M231.2 680.8h0M213.4 677.5h0M221.4 696.2h0M211.5 685.3h0M200.2 662.6h0M204.7 666.4h0M205.5 686.4h0M230.9 686.4h0M216.6 664.9h0M199.4 681.1h0M210.9 697.2h0M214.9 664.1h0M222.3 692.9h0M232.1 688.9h0M217.0 687.5h0M222.1 695.4h0M235.2 676.8h0M198.7 678.6h0M219.7 656.3h0M228.4 688.2h0M203.3 646.8h0M215.7 674.1h0M233.0 658.3h0M209.6 700.9h0M232.1 673.0h0M237.1 680.6h0M217.7 679.1h0M235.5 671.1h0M231.7 641.9h0M222.2 636.1h0M209.6 671.7h0M211.7 696.9h0M231.9 640.6h0M239.0 668.3h0M215.4 659.3h0M206.7 693.9h0M237.8 670.4h0M223.1 663.7h0M232.9 670.3h0M219.9 641.0h0M237.5 666.6h0M239.0 662.3h0M224.8 652.6h0M220.6 635.7h0M201.5 660.1h0M194.0 666.4h0M240.6 667.7h0M229.2 684.3h0M223.3 645.6h0M197.8 667.1h0M217.0 685.4h0M214.8 674.3h0M203.3 683.3h0M239.0 663.0h0M208.9 678.2h0M216.8 666.7h0M235.6 672.5h0M213.3 668.3h0M206.0 671.9h0M214.6 694.0h0M238.7 663.7h0M204.4 671.2h0M212.2 701.4h0M219.9 670.7h0M220.1 688.4h0M211.5 654.2h0M216.8 691.6h0M220.2 641.5h0M230.8 653.1h0M225.6 691.5h0M232.6 689.4h0M231.5 674.5h0M226.6 669.1h0M237.8 657.7h0M228.1 649.8h0M224.8 677.5h0M206.9 684.1h0M229.5 638.4h0M231.4 649.4h0M219.3 700.7h0M210.3 693.2h0M226.2 696.0h0M231.3 658.3h0M224.1 684.0h0M228.1 694.7h0M199.1 664.3h0M208.9 672.5h0M230.6 658.0h0M199.3 673.6h0M215.6 691.1h0M235.6 668.1h0M228.9 651.2h0M229.0 640.4h0M222.8 674.6h0M229.4 682.0h0M229.4 679.6h0M205.1 683.9h0M199.7 671.0h0M235.7 670.2h0M215.3 658.0h0M215.5 698.1h0M213.2 636.0h0M215.2 637.4h0M226.7 682.4h0M229.2 685.3h0M207.4 676.3h0M211.2 700.8h0M213.6 696.4h0M235.9 677.1h0M231.6 661.1h0M230.9 672.6h0M222.5 691.3h0M216.5 648.7h0M234.4 660.6h0M220.2 662.7h0M231.1 680.5h0M218.8 672.2h0M238.2 673.8h0M201.9 685.3h0M214.5 672.0h0M222.5 687.3h0M232.5 673.8h0M229.7 659.8h0M204.6 658.4h0M191.7 665.7h0M222.9 659.0h0M231.5 671.6h0M227.2 648.1h0M239.7 666.8h0M235.0 645.7h0M216.7 653.1h0M232.3 662.0h0M225.1 661.4h0M239.2 671.6h0M225.5 669.1h0M212.3 661.1h0M227.5 648.0h0M221.1 667.8h0M206.7 695.2h0M224.3 666.5h0M230.2 653.5h0M222.1 679.6h0M229.2 688.0h0M231.2 659.5h0M233.3 662.5h0M213.9 687.7h0M224.1 666.9h0M216.3 688.6h0M225.0 651.3h0M235.6 667.8h0M217.6 651.8h0M200.5 657.6h0M238.0 672.5h0M199.6 675.3h0M215.9 637.3h0M230.3 669.7h0M232.1 647.6h0M227.4 673.2h0M205.8 684.5h0M206.7 673.4h0M220.4 670.2h0M229.6 670.2h0M233.2 662.6h0M206.2 675.2h0M207.3 683.1h0M208.3 662.4h0M231.6 658.3h0M214.9 678.4h0M194.8 677.1h0M210.0 664.9h0M222.8 682.9h0M234.4 676.8h0M219.8 682.2h0M237.0 654.2h0M227.4 691.3h0M225.3 667.4h0M233.6 683.7h0M217.7 644.9h0M230.2 677.0h0M204.5 690.5h0M225.8 667.9h0M214.3 694.7h0M198.1 663.3h0M220.6 644.3h0M206.0 689.7h0M236.6 676.6h0M205.5 662.6h0M216.2 699.2h0M213.6 642.4h0M213.8 678.7h0M231.3 659.5h0M233.5 661.5h0M238.8 651.6h0M216.9 666.7h0M209.1 695.2h0M221.4 660.6h0M238.5 672.1h0M234.1 658.6h0M216.6 665.7h0M225.9 654.5h0M228.0 695.2h0M233.9 671.0h0M237.8 672.7h0M225.2 655.4h0M203.9 666.8h0M218.9 654.5h0M225.3 691.9h0M222.3 633.7h0M207.9 687.1h0M225.4 671.6h0M231.8 648.1h0M229.8 677.8h0M220.9 683.5h0M219.7 671.6h0M212.5 698.1h0M240.3 669.4h0M228.5 687.0h0M206.4 692.4h0M237.3 655.2h0M229.8 692.7h0M212.4 685.6h0M213.8 646.9h0M210.9 700.9h0M211.8 666.1h0M220.4 672.8h0M223.2 665.3h0M220.1 676.4h0M216.8 690.5h0M227.7 678.6h0M235.5 663.0h0M227.8 682.2h0M217.9 696.3h0M216.9 699.8h0M220.7 677.6h0M240.2 661.3h0M240.9 660.3h0M221.3 643.3h0M211.0 692.2h0M223.9 696.8h0M219.3 670.8h0M225.5 688.2h0M230.0 645.1h0M230.9 669.8h0M233.8 662.2h0M226.9 655.6h0M212.2 699.3h0M196.5 676.3h0M235.0 644.4h0M219.1 679.9h0M227.5 684.5h0M236.2 671.5h0M205.2 661.7h0M205.4 687.0h0M236.6 679.6h0M229.1 654.2h0M209.5 685.4h0M237.1 678.4h0M235.6 675.6h0M214.8 686.6h0M215.5 696.6h0M230.1 640.4h0M237.0 678.9h0M223.9 676.2h0M217.1 683.0h0M240.9 667.8h0M208.7 681.9h0M217.4 677.6h0M230.3 663.0h0M201.0 660.6h0M225.2 666.3h0M237.2 669.1h0M220.7 693.1h0M226.0 648.1h0M231.5 676.1h0M226.1 643.1h0M213.5 650.0h0M209.4 652.2h0M220.8 652.6h0M206.1 692.5h0M239.5 665.7h0M225.4 637.1h0M212.6 647.8h0M236.3 682.3h0M226.5 635.8h0M227.6 662.1h0M212.0 661.4h0M209.9 696.5h0M221.7 680.8h0M203.9 685.9h0M231.5 670.6h0M200.4 676.1h0M226.9 696.2h0M224.5 679.8h0M222.3 662.7h0M228.1 686.3h0M227.4 666.5h0M198.2 676.3h0M209.0 684.1h0M214.6 701.1h0M240.8 665.5h0M217.6 634.2h0M236.7 661.5h0M232.2 639.9h0M230.8 679.0h0M221.9 699.5h0M231.4 680.9h0M226.4 691.2h0M223.3 697.7h0M217.3 656.1h0M212.3 704.6h0M225.3 686.6h0M202.1 662.6h0M229.4 693.1h0M229.0 650.2h0M224.9 698.7h0M206.4 673.6h0M223.5 688.2h0M222.2 697.1h0M215.5 682.2h0M233.4 644.5h0M226.0 682.7h0M224.5 698.4h0M222.5 683.7h0M221.1 665.5h0M232.5 680.8h0M233.7 683.2h0M213.6 686.5h0M230.3 655.9h0M237.5 655.4h0M200.9 677.3h0M228.8 661.8h0M221.2 668.8h0M220.7 688.7h0M236.1 648.8h0M232.6 683.8h0M198.5 672.9h0M229.6 694.3h0M212.1 688.5h0M223.0 686.7h0M213.2 678.3h0M216.0 702.1h0M219.4 671.8h0M209.6 693.6h0M219.3 680.1h0M227.6 682.7h0M225.5 660.6h0M215.4 685.8h0M193.6 676.8h0M208.0 684.4h0M207.2 669.9h0M236.1 647.2h0M236.7 681.1h0M232.2 688.4h0M224.2 676.9h0M236.3 645.8h0M207.3 690.6h0M229.6 657.1h0M205.2 671.0h0M216.4 681.9h0M236.6 666.1h0M215.0 700.3h0M230.2 675.6h0M231.3 639.0h0M228.9 681.9h0M226.5 681.7h0M231.5 654.8h0M236.3 646.1h0M218.2 695.7h0M214.5 695.6h0M225.4 685.2h0M225.7 688.2h0M229.8 640.6h0M234.4 676.8h0M215.4 682.7h0M224.7 684.9h0M212.6 697.8h0M239.2 668.4h0M192.9 668.5h0M229.4 664.8h0M211.0 665.9h0M212.3 664.2h0M224.9 637.9h0M217.1 655.4h0M229.7 694.4h0M222.1 690.9h0M205.1 690.0h0M229.1 687.8h0M201.2 669.0h0M211.6 651.8h0M224.7 663.9h0M222.3 685.5h0M208.7 672.4h0M220.7 697.1h0M222.2 646.9h0M222.4 684.5h0M209.4 666.5h0M232.4 671.6h0M216.2 685.0h0M232.2 653.4h0M212.0 687.6h0M231.7 677.2h0M215.1 694.9h0M201.0 660.2h0M236.5 675.8h0M229.9 647.6h0M221.0 683.9h0M216.1 636.9h0M217.4 679.7h0M207.4 680.9h0M211.7 637.1h0M211.9 680.7h0M219.2 694.3h0M240.0 671.4h0M224.8 668.9h0M212.0 635.4h0M223.0 694.9h0M223.4 639.7h0M233.1 683.4h0M211.1 679.4h0M215.3 658.5h0M224.8 691.0h0M213.1 687.1h0M232.9 670.7h0M235.9 679.0h0M229.4 671.7h0M222.4 640.3h0M219.3 668.4h0M222.5 691.1h0M219.2 700.8h0M226.7 691.6h0M221.1 643.9h0M236.9 652.7h0M224.4 696.9h0M221.6 678.8h0M210.8 699.0h0M212.8 687.1h0M214.3 660.2h0M233.9 653.6h0M196.0 663.7h0M227.5 683.7h0M212.0 644.2h0M233.2 669.0h0M222.2 682.5h0M215.0 679.6h0M203.2 674.5h0M214.9 677.6h0M193.6 675.3h0M204.2 666.8h0M223.6 647.4h0M215.4 685.2h0M239.8 653.0h0M220.4 632.6h0M205.2 673.5h0M216.4 678.4h0M224.7 684.9h0M227.5 644.9h0M213.4 694.1h0M208.4 695.6h0M211.6 629.7h0M215.4 664.4h0M235.7 643.5h0M233.8 664.6h0M193.4 672.5h0M238.2 671.4h0M238.8 668.3h0M212.8 687.6h0M231.6 671.7h0M222.2 684.6h0M220.7 689.7h0M209.3 696.2h0M223.9 639.2h0M214.4 650.9h0M222.7 659.5h0M223.3 695.9h0M234.0 668.2h0M227.0 671.8h0M208.6 663.2h0M232.2 642.5h0M233.9 642.0h0M221.2 669.0h0M226.4 688.6h0M211.8 654.8h0M233.0 675.0h0M220.5 679.7h0M213.9 651.1h0M224.5 648.7h0M226.0 641.4h0M240.7 669.2h0M222.1 644.9h0M223.6 689.9h0M207.6 658.8h0M231.6 673.6h0M233.3 648.8h0M220.2 702.0h0M210.0 645.7h0M240.9 663.0h0M218.1 686.8h0M203.3 676.6h0M214.4 662.7h0M210.1 688.2h0M200.2 670.4h0M225.8 674.7h0M217.2 691.0h0M226.2 649.2h0M223.4 633.3h0M207.6 686.6h0M224.1 665.4h0M198.0 677.5h0M205.7 688.1h0M204.3 676.5h0M230.0 657.3h0M213.1 685.5h0M226.6 667.9h0M196.7 669.2h0M225.9 642.9h0M218.8 697.7h0M219.6 691.5h0M225.7 696.6h0M217.5 630.7h0M210.2 660.1h0M219.4 702.1h0M237.7 660.3h0M223.4 669.1h0M195.5 673.3h0M208.3 660.7h0M224.3 656.9h0M220.3 685.8h0M231.5 652.6h0M226.2 660.6h0M222.3 655.7h0M232.3 689.3h0M237.0 661.2h0M207.2 692.7h0M231.4 692.5h0M232.1 666.7h0M226.8 673.8h0M193.6 671.1h0M213.5 675.7h0M233.2 669.2h0M218.4 684.9h0M209.6 651.8h0M227.5 676.1h0M205.7 690.6h0M236.8 646.2h0M237.2 662.2h0M231.5 687.9h0M233.8 661.2h0M215.8 683.2h0M225.9 672.5h0M218.7 680.7h0M205.9 658.8h0M222.3 644.0h0M207.1 689.2h0M209.0 662.3h0M228.6 681.0h0M236.4 658.7h0M220.6 675.5h0M213.2 681.6h0M230.9 670.5h0M203.6 688.6h0M238.9 673.6h0M238.0 663.6h0M220.5 697.4h0M204.8 641.0h0M219.7 691.7h0M227.7 694.9h0M224.5 690.9h0M218.3 702.6h0M211.8 702.2h0M223.4 686.1h0M220.9 646.3h0M238.0 679.6h0M234.6 677.5h0M208.8 698.9h0M202.7 680.8h0M199.4 671.0h0M234.1 660.9h0M206.3 676.8h0M210.3 668.9h0M215.0 703.7h0M218.5 684.4h0M227.9 656.2h0M201.2 659.5h0M224.6 668.0h0M230.2 677.5h0M214.8 695.6h0M236.5 649.7h0M220.7 664.0h0M237.0 675.2h0M198.3 662.5h0M228.6 691.9h0M231.8 690.2h0M222.5 692.9h0M226.3 682.9h0M231.8 690.9h0M223.1 678.0h0M222.0 659.8h0M235.6 670.6h0M214.3 665.4h0M223.8 661.9h0M210.8 669.6h0M233.6 661.2h0M225.1 662.4h0M212.2 696.3h0M228.2 653.4h0M209.0 679.1h0M222.3 682.2h0M217.6 690.6h0M229.4 687.2h0M232.9 653.5h0M234.6 678.8h0M210.7 669.3h0M218.9 661.5h0M235.2 664.2h0M212.8 667.0h0M217.2 691.9h0M232.2 676.0h0M240.1 667.3h0M224.9 669.0h0M209.7 651.1h0M232.7 683.1h0M231.1 687.7h0M222.7 647.0h0M214.6 669.8h0M222.9 640.9h0M220.8 644.7h0M205.4 678.4h0M223.8 652.1h0M234.3 668.9h0M240.3 657.1h0M238.2 659.0h0M196.6 678.7h0M218.7 686.0h0M202.9 667.9h0M226.2 698.1h0M219.6 640.9h0M218.8 683.7h0M214.4 671.4h0M213.3 672.6h0M227.4 675.8h0M221.2 685.6h0M215.1 672.7h0M232.9 668.2h0M224.9 685.8h0M203.4 654.2h0M224.1 644.8h0M229.3 662.4h0M208.8 654.3h0M221.3 696.7h0M202.2 654.6h0M235.6 670.7h0M240.8 665.6h0M214.3 664.4h0M232.7 662.3h0M235.2 652.9h0M224.9 698.3h0M229.2 675.5h0M220.9 669.9h0M211.3 688.7h0M211.9 678.2h0M236.0 658.8h0M221.4 685.0h0M233.1 670.8h0M216.3 687.5h0M236.0 671.1h0M193.8 667.0h0M221.3 668.5h0M214.5 683.4h0M215.7 693.6h0M229.1 661.0h0M228.1 637.7h0M225.0 697.5h0M213.5 668.7h0M239.1 676.0h0M234.4 664.1h0M223.4 644.7h0M219.2 675.8h0M216.2 645.7h0M224.3 644.3h0M199.2 668.1h0M216.5 658.1h0M204.1 685.0h0M238.3 674.6h0M203.6 670.3h0M235.8 648.3h0M223.2 683.2h0M223.3 670.2h0M233.5 679.0h0M225.3 668.5h0M215.2 666.9h0M231.3 637.7h0M210.1 693.8h0M238.6 665.5h0M226.8 661.0h0M215.2 674.6h0M237.5 648.5h0M238.4 676.3h0M222.1 689.5h0M205.1 663.8h0M210.9 647.8h0M215.3 680.3h0M215.4 702.7h0M209.2 676.5h0M232.7 688.9h0M214.1 686.4h0M218.4 671.5h0M222.2 651.4h0M209.8 667.3h0M216.7 679.9h0" stroke="#24b044" stroke-width="0.7" stroke-linecap="round" fill="none" opacity="0.9"/>
<path d="M204.4 684.2h0M214.3 695.6h0M214.4 647.1h0M196.4 663.9h0M224.1 666.4h0M219.3 693.2h0M235.6 678.6h0M226.2 688.0h0M222.7 636.8h0M187.3 669.6h0M217.6 674.7h0M226.6 667.5h0M204.8 682.3h0M191.4 672.4h0M207.2 672.1h0M211.4 690.7h0M212.4 703.3h0M240.9 661.2h0M227.9 675.8h0M212.9 677.2h0M197.2 670.2h0M207.0 693.6h0M237.2 681.7h0M224.2 692.6h0M231.1 668.8h0M209.3 698.1h0M217.0 684.1h0M219.2 686.5h0M227.2 675.3h0M208.3 677.8h0M214.7 652.2h0M226.8 685.4h0M237.0 657.2h0M212.6 701.4h0M201.2 675.5h0M199.5 682.4h0M232.0 646.3h0M235.3 662.2h0M217.1 694.5h0M224.0 682.4h0M235.3 686.1h0M215.5 684.7h0M228.2 670.4h0M222.2 678.9h0M232.3 671.5h0M206.5 676.7h0M209.0 690.5h0M218.6 680.8h0M212.2 674.9h0M215.8 676.2h0M205.2 684.9h0M227.5 669.6h0M221.1 670.8h0M217.2 666.8h0M220.5 643.7h0M211.5 700.4h0M214.9 630.5h0M226.4 668.7h0M235.5 669.0h0M235.3 651.7h0M231.7 683.9h0M220.2 702.0h0M227.1 682.6h0M197.5 660.1h0M239.0 670.7h0M200.6 682.3h0M228.1 678.3h0M210.1 673.0h0M237.6 678.2h0M199.2 681.2h0M216.5 678.3h0M234.2 652.0h0M200.5 671.6h0M228.3 688.8h0M225.9 675.8h0M195.8 668.4h0M207.8 677.8h0M215.9 701.5h0M213.3 671.5h0M225.6 669.5h0M232.1 668.1h0M211.3 675.9h0M206.7 653.8h0M216.0 698.6h0M186.7 635.5h0M237.9 674.7h0M213.6 664.1h0M233.5 680.0h0M205.1 669.9h0M237.7 671.1h0M223.7 669.9h0M231.3 690.7h0M216.4 668.7h0M223.3 678.7h0M233.0 672.8h0M214.9 642.0h0M234.5 665.3h0M222.4 671.0h0M213.2 686.2h0M208.2 684.4h0M231.6 674.9h0M229.9 679.7h0M221.4 692.3h0M227.8 637.9h0M211.1 679.1h0M231.8 661.4h0M209.3 677.3h0M237.6 668.4h0M235.1 657.3h0M223.4 687.0h0M235.9 672.0h0M212.8 675.3h0M209.4 692.3h0M233.8 682.6h0M204.9 682.1h0M231.0 687.0h0M241.0 662.2h0M207.2 686.1h0M193.2 661.5h0M211.2 698.8h0M220.6 692.4h0M229.8 677.8h0M213.0 680.6h0M208.1 695.4h0M229.8 679.0h0M219.5 699.5h0M217.1 675.3h0M210.6 700.1h0M210.9 646.0h0M231.7 691.8h0M212.5 677.0h0M233.4 659.0h0M219.2 698.0h0M189.8 669.8h0M207.0 676.8h0M221.0 669.9h0M205.0 688.4h0M207.8 696.5h0M210.4 689.5h0M229.2 679.2h0M227.5 690.6h0M217.5 675.5h0M216.3 678.1h0M231.0 647.0h0M205.7 641.8h0M210.5 685.4h0M231.5 690.7h0M219.0 676.1h0M215.5 677.2h0M207.8 666.0h0M231.2 686.9h0M213.4 677.9h0M226.7 695.4h0M224.3 698.7h0M209.4 696.9h0M232.6 688.2h0M211.1 688.6h0M221.3 693.3h0M227.0 685.6h0M223.1 678.6h0M239.5 674.4h0M213.9 670.7h0M199.6 675.6h0M217.6 698.0h0M231.8 684.9h0M219.3 671.1h0M226.1 684.5h0M189.6 671.3h0M227.2 684.7h0M224.7 685.0h0M224.9 666.8h0M233.7 677.2h0M210.7 679.6h0M223.2 676.1h0M236.3 680.5h0M212.3 661.3h0M188.1 667.1h0M208.5 686.9h0M230.3 683.7h0M213.8 644.3h0M219.5 692.6h0M223.0 671.6h0M208.5 691.0h0M211.7 677.1h0M212.9 698.8h0M221.3 687.3h0M190.8 667.7h0M195.8 668.2h0M234.9 648.9h0M211.2 672.5h0M230.6 670.0h0M219.8 681.4h0M224.8 675.4h0M235.0 674.0h0M227.9 644.8h0M223.5 696.2h0M207.3 694.4h0M210.3 680.4h0M237.6 657.0h0M231.2 687.9h0M212.6 651.5h0M211.7 696.4h0M199.8 667.6h0M204.0 628.6h0M238.3 672.5h0M225.9 669.6h0M205.9 661.4h0M199.1 658.4h0M219.0 676.9h0M209.3 675.2h0M213.8 691.7h0M236.0 654.7h0M216.0 665.2h0M203.0 660.8h0M222.1 650.8h0M228.7 689.9h0M211.4 702.4h0" stroke="#9aa428" stroke-width="0.7" stroke-linecap="round" fill="none" opacity="0.9"/>
<path d="M211.0 696.4h0M221.7 664.6h0M204.8 654.4h0M227.4 653.2h0M216.0 663.0h0M205.1 665.7h0M219.1 688.2h0M215.3 633.4h0M223.1 681.8h0M213.7 693.3h0M224.5 656.6h0M197.7 659.8h0M236.3 658.9h0M227.1 634.0h0M228.3 668.0h0M212.7 694.7h0M205.6 646.0h0M208.4 649.0h0M212.4 642.4h0M225.5 639.9h0M227.0 664.0h0M206.2 673.7h0M221.5 671.0h0M239.6 671.8h0M217.8 687.0h0M201.2 685.3h0M216.2 677.9h0M238.8 671.5h0M205.2 674.1h0M218.6 633.1h0M229.9 672.3h0M233.9 652.1h0M213.9 632.9h0M201.3 656.9h0M219.5 682.6h0M220.6 660.8h0M215.0 668.7h0M227.1 672.5h0M208.9 681.9h0M204.0 664.4h0M217.9 700.1h0M190.2 672.1h0M221.5 699.7h0M224.4 673.8h0M211.3 694.1h0M224.5 645.6h0M224.1 666.0h0M206.4 667.1h0M199.2 660.3h0M204.1 667.3h0M231.1 650.8h0M240.4 655.7h0M230.1 663.9h0M215.1 700.2h0M194.8 666.4h0M238.2 676.9h0M224.1 665.2h0M207.0 651.4h0M238.6 673.3h0M227.0 641.6h0M237.6 680.0h0M202.7 667.4h0M229.4 686.5h0M217.3 649.9h0M237.2 681.6h0M227.7 670.4h0M213.0 649.1h0M217.4 690.3h0M224.7 658.8h0M225.4 666.6h0M224.4 693.0h0M234.4 647.3h0M230.9 676.4h0M198.8 680.0h0M222.5 675.8h0M221.4 664.7h0M220.4 656.6h0M223.4 664.4h0M209.1 664.5h0M235.6 655.0h0M229.7 676.3h0M222.2 647.4h0M215.9 679.1h0M212.1 661.8h0M209.1 692.0h0M233.9 658.0h0M235.6 647.3h0M213.5 655.1h0M239.2 655.6h0M226.5 679.7h0M211.7 644.1h0M205.3 661.1h0M206.0 669.3h0M232.5 664.4h0M210.5 699.9h0M226.8 669.0h0M211.7 686.0h0M239.7 672.2h0M239.6 656.0h0M207.2 696.2h0M219.0 665.0h0M205.9 652.0h0M214.5 688.7h0M204.3 664.1h0M218.6 638.4h0M225.4 640.7h0M238.1 659.1h0M220.8 692.0h0M214.7 664.4h0M216.4 637.6h0M218.6 642.3h0M211.1 692.2h0M215.9 679.9h0M226.7 696.7h0M217.3 666.5h0M209.3 649.2h0M213.0 657.7h0M229.7 681.0h0M216.4 702.4h0M196.8 674.1h0M228.9 647.8h0M219.4 656.8h0M212.2 650.1h0M217.1 668.3h0M226.9 690.1h0M217.8 633.8h0M217.1 667.0h0M214.0 666.2h0M225.0 678.9h0M234.2 666.5h0M224.4 666.9h0M222.9 645.6h0M224.3 696.7h0M221.0 667.4h0M232.0 651.5h0M211.0 672.0h0M230.7 653.6h0M223.7 646.4h0M193.4 675.8h0M195.1 673.7h0M209.6 697.7h0M207.2 696.7h0M228.7 665.7h0M215.2 697.1h0M202.6 663.5h0M189.9 671.8h0M220.7 672.0h0M216.2 648.1h0M217.8 677.5h0M233.8 671.7h0M215.3 671.4h0M232.2 659.7h0M213.0 700.7h0M222.0 660.3h0M223.9 682.1h0M202.6 652.9h0M234.3 670.9h0M223.7 684.7h0M233.7 646.2h0M199.1 661.2h0M227.8 640.5h0M199.4 656.1h0M216.7 663.0h0M210.5 658.7h0M207.4 680.7h0M227.7 681.5h0M222.3 669.4h0M226.0 671.9h0M231.0 645.4h0M216.2 650.9h0M225.1 677.2h0M211.4 648.4h0M221.8 660.6h0M205.6 689.7h0M229.6 667.7h0M222.3 665.1h0M214.4 702.6h0M238.0 672.6h0M235.4 658.1h0M229.7 688.7h0M234.0 679.4h0M216.2 682.1h0M201.0 662.6h0M231.8 654.9h0M230.7 641.9h0M213.6 697.5h0M227.6 658.2h0M206.7 693.8h0M209.9 687.8h0M225.2 697.0h0M198.2 662.5h0M216.9 684.4h0M223.7 656.3h0M208.1 675.2h0M232.7 640.7h0M219.4 663.4h0M218.6 649.2h0M221.7 657.0h0M230.2 675.8h0M204.6 646.0h0M198.7 670.4h0M223.7 636.1h0M228.7 640.5h0M216.8 684.6h0M226.3 647.8h0M235.9 643.7h0M229.1 670.6h0M239.0 655.6h0M216.5 629.7h0M212.6 663.1h0M197.9 670.4h0M209.8 673.6h0M218.9 702.4h0M210.2 670.3h0M240.3 669.1h0M233.7 663.1h0M225.1 671.4h0M219.5 649.1h0M197.7 665.2h0M232.1 639.1h0M205.3 664.2h0M213.3 669.7h0M213.3 704.1h0M207.8 692.1h0M202.6 655.9h0M199.2 676.8h0M223.0 667.9h0M225.1 698.9h0M212.8 663.3h0M209.8 643.2h0M239.1 658.2h0M223.4 634.7h0M215.1 694.2h0M230.0 670.8h0M203.4 688.3h0M217.1 702.9h0M211.9 662.3h0M225.4 637.4h0M227.3 656.7h0M231.2 646.6h0M214.2 695.2h0M225.3 645.4h0M237.0 660.7h0M227.3 674.4h0M230.3 637.6h0M209.2 690.5h0M211.9 668.3h0M228.1 659.6h0M222.4 688.3h0M217.3 659.3h0M215.6 699.8h0" stroke="#eadcf0" stroke-width="0.45" stroke-linecap="round" fill="none" opacity="0.6"/>
<path d="M161.0 631.4h0M166.3 643.1h0M153.5 672.4h0M163.9 650.8h0M146.7 647.9h0M161.6 651.3h0M156.9 673.2h0M171.0 635.1h0M153.6 658.4h0M153.4 656.1h0M157.5 637.0h0M163.4 636.7h0M161.1 671.4h0M152.3 666.2h0M160.5 632.9h0M163.8 628.8h0M166.8 670.3h0M171.9 636.0h0M163.3 649.4h0M146.0 661.2h0M158.6 641.6h0M160.2 662.0h0M171.2 647.4h0M161.5 649.2h0M162.9 628.4h0M168.8 635.5h0M162.7 651.7h0M171.0 624.7h0M165.7 648.3h0M165.2 660.3h0M169.8 627.3h0M149.9 660.2h0M158.4 628.4h0M171.0 665.3h0M149.1 659.7h0M171.9 640.4h0M170.2 650.7h0M163.0 631.0h0M170.4 640.8h0M154.6 673.6h0M169.9 624.5h0M162.5 646.4h0M161.2 668.9h0M171.5 629.3h0M167.9 625.2h0M165.4 633.8h0M149.6 637.0h0M162.2 634.6h0M150.3 667.7h0M157.8 668.2h0M163.5 670.0h0M161.6 632.5h0M169.3 675.3h0M145.7 642.5h0M171.7 648.4h0M171.4 644.0h0M158.5 668.0h0M150.6 670.8h0M161.4 627.6h0M161.4 659.4h0M171.6 638.9h0M169.7 646.6h0M170.1 640.3h0M164.1 669.7h0M168.6 640.1h0M160.6 647.6h0M159.3 669.8h0M170.7 634.6h0M171.0 667.3h0M165.5 650.3h0M168.1 669.6h0M164.0 645.0h0M171.6 647.8h0M171.0 646.3h0M149.0 635.5h0M171.5 663.3h0M154.8 658.3h0M159.6 669.8h0M164.5 634.6h0M163.3 643.4h0M171.3 660.6h0M161.0 658.2h0M164.2 646.1h0M159.0 660.5h0M161.0 663.9h0M158.6 634.9h0M153.3 658.4h0M165.1 639.2h0M158.6 633.1h0M169.3 652.7h0M152.2 648.4h0M151.6 672.8h0M169.7 661.9h0M161.2 652.9h0M165.4 634.7h0M162.8 667.3h0M170.2 655.7h0M166.6 637.7h0M149.9 665.2h0M150.9 661.2h0M161.1 641.3h0M163.7 630.8h0M148.0 646.0h0M159.3 642.3h0M156.3 632.9h0M164.4 668.6h0M156.8 636.2h0M164.0 663.2h0M169.6 671.6h0M156.3 633.1h0M157.7 668.2h0M155.1 644.8h0M157.4 654.4h0M170.9 625.3h0M165.7 637.5h0M161.5 674.3h0M157.1 643.2h0M162.3 625.2h0M164.1 661.1h0M169.7 667.4h0M151.0 652.2h0M162.0 651.4h0M167.7 626.0h0M168.9 662.6h0M153.5 655.2h0M171.6 637.8h0M159.7 669.8h0M163.6 634.2h0M151.1 647.5h0M143.6 642.5h0M148.5 637.4h0M170.0 639.2h0M169.5 640.4h0M159.2 628.7h0M161.8 661.3h0M155.3 661.4h0M151.8 656.8h0M162.4 648.0h0M163.0 653.2h0M170.6 644.1h0M152.3 642.9h0M161.8 630.8h0M151.3 646.3h0M159.8 670.1h0M161.7 657.8h0M167.4 655.6h0M171.0 645.0h0M166.7 648.4h0M170.4 647.6h0M147.9 650.3h0M170.6 651.8h0M157.6 641.9h0M157.2 669.5h0M170.9 625.7h0M156.7 630.5h0M157.1 631.6h0M158.0 631.1h0M164.3 650.7h0M149.2 664.9h0M170.7 652.5h0M162.5 641.7h0M170.7 646.9h0M170.4 629.9h0M171.9 641.4h0M159.2 674.3h0M171.8 659.7h0M169.1 642.2h0M168.3 632.3h0M170.8 663.5h0M161.1 651.9h0M148.9 654.2h0M171.1 675.2h0M170.7 626.5h0M162.2 649.2h0M169.4 665.8h0M168.7 663.5h0M155.2 662.0h0M165.3 632.2h0M159.0 656.1h0M167.5 671.5h0M163.4 662.9h0M161.8 636.9h0M158.6 657.3h0M162.8 656.4h0M162.0 644.8h0M166.8 651.2h0M159.5 625.6h0M168.7 674.9h0M161.1 633.6h0M155.4 674.1h0M153.3 638.1h0M152.9 649.7h0M156.5 664.2h0M167.5 633.9h0M148.8 654.4h0M162.5 633.8h0M158.4 672.1h0M171.2 653.2h0M168.5 663.0h0M154.0 656.9h0M169.2 655.7h0M156.2 666.1h0M161.1 669.2h0M164.6 626.3h0M162.3 662.1h0M171.8 628.9h0M170.3 630.0h0M169.8 636.9h0M167.8 665.6h0M147.1 646.8h0M155.0 649.9h0M158.5 672.2h0M160.3 653.1h0M154.4 651.8h0M159.3 674.1h0M168.7 632.3h0M167.7 654.3h0M166.2 644.3h0M171.9 669.9h0M162.3 645.2h0M165.3 663.4h0M143.2 664.0h0M167.5 635.3h0M166.5 632.8h0M160.0 673.6h0M160.9 640.3h0M170.7 648.8h0M166.0 640.6h0M162.2 626.0h0M152.8 646.8h0M162.6 671.2h0M163.0 672.8h0M166.1 644.7h0M164.1 643.5h0M164.8 668.2h0M161.5 662.6h0M166.8 626.4h0M168.8 631.2h0M170.6 676.8h0M157.4 651.3h0M156.3 626.7h0M146.0 650.9h0M165.3 631.2h0M163.4 668.3h0M162.1 674.4h0M169.0 649.1h0M149.6 672.3h0M160.4 646.5h0M171.1 645.8h0M151.4 646.1h0M162.2 660.8h0M150.8 655.4h0M152.3 643.6h0M157.9 666.7h0M153.6 642.8h0M156.8 632.0h0M158.3 651.3h0M171.5 674.7h0M169.9 629.8h0M148.7 641.2h0M161.0 662.6h0M148.5 646.9h0M171.5 640.5h0M170.6 667.5h0M167.9 655.6h0M168.9 666.3h0" stroke="#e070ea" stroke-width="0.6" stroke-linecap="round" fill="none" opacity="0.8"/>
<path d="M141.2 663.9h0M157.0 661.2h0M142.3 664.3h0M150.2 673.6h0M141.5 657.5h0M157.7 664.4h0M152.9 673.7h0M170.5 634.5h0M168.5 668.4h0M145.3 654.5h0M151.4 657.9h0M150.7 641.2h0M165.2 654.4h0M138.3 656.5h0M149.2 641.5h0M156.2 642.0h0M152.2 663.3h0M165.1 669.1h0M159.1 637.6h0M154.3 669.8h0M165.5 630.3h0M155.6 651.7h0M150.0 650.7h0M153.3 650.8h0M152.3 663.3h0M154.2 672.8h0M147.5 643.1h0M141.0 655.0h0M139.3 653.6h0M154.5 652.7h0M149.9 637.0h0M159.9 670.7h0M144.5 650.4h0M141.6 655.2h0M148.9 654.1h0M140.9 660.0h0M143.0 659.9h0M143.5 651.5h0M145.6 644.0h0M139.5 652.8h0M144.2 657.9h0M148.2 644.0h0M142.1 649.9h0M166.5 636.1h0M146.4 669.2h0M168.3 675.5h0M149.3 636.4h0M147.3 663.8h0M139.6 650.6h0M159.4 634.8h0M157.5 631.9h0M154.1 642.8h0M165.4 658.8h0M148.7 666.8h0M165.8 647.2h0M146.3 647.5h0M145.9 655.2h0M141.9 665.9h0M142.2 664.2h0M149.2 649.1h0M150.9 652.6h0M162.8 639.7h0M149.3 635.6h0M165.2 673.2h0M149.7 666.8h0M170.1 659.8h0M161.9 640.9h0M143.2 657.3h0M142.2 669.4h0M156.9 625.6h0M140.9 647.4h0M155.3 663.0h0M157.6 666.3h0M138.8 657.0h0M157.7 651.4h0M155.7 649.6h0M161.9 645.1h0M154.7 629.9h0M165.2 637.9h0M146.6 661.7h0M145.0 668.1h0M154.5 665.9h0M150.3 639.8h0M156.0 661.2h0M142.9 647.5h0M143.3 664.3h0M166.2 664.8h0M154.6 655.9h0M159.2 639.1h0M163.3 669.6h0M146.9 639.3h0M152.7 636.2h0M138.9 661.5h0M143.6 657.0h0M145.1 641.0h0M163.4 638.0h0M161.8 647.9h0M151.7 662.1h0M140.2 657.3h0M159.0 637.3h0M142.8 653.3h0M141.3 664.2h0M158.5 667.7h0M164.5 656.4h0M162.5 650.0h0M153.3 634.9h0M152.6 665.8h0M159.5 662.8h0M140.8 648.5h0M165.0 669.2h0M143.5 652.5h0M153.7 637.4h0M161.2 666.9h0M162.4 660.2h0M166.4 647.2h0M148.9 653.5h0M144.9 669.2h0M160.3 674.5h0M144.7 651.0h0M144.8 652.4h0M162.7 645.8h0M157.3 658.8h0M140.9 658.3h0M154.0 640.4h0M162.9 658.7h0M158.8 667.9h0M139.8 662.5h0M150.5 662.0h0M151.5 650.5h0M146.1 655.9h0M161.0 656.2h0M145.4 641.5h0M142.2 664.6h0M151.5 651.1h0M155.2 646.0h0M167.5 650.7h0M153.3 644.5h0M159.0 666.1h0M153.2 648.7h0M139.7 660.3h0M155.4 640.3h0M156.9 632.1h0M142.5 644.1h0M156.4 660.3h0M143.0 650.1h0M140.6 659.3h0M163.6 627.9h0M148.9 650.0h0M144.2 659.3h0M146.7 665.2h0M141.6 656.1h0M155.2 662.4h0M154.0 664.3h0M145.2 644.2h0M144.9 648.8h0M153.5 642.5h0M160.7 642.2h0M144.0 663.5h0M153.3 663.5h0M161.8 630.7h0M149.1 652.9h0M160.2 652.2h0M156.6 670.7h0M141.3 661.9h0M164.9 634.2h0M142.1 661.8h0M165.5 652.9h0M141.1 661.2h0M146.4 654.6h0M162.3 640.7h0M141.2 659.6h0M140.7 656.4h0M148.4 662.8h0M146.8 662.5h0M143.0 648.7h0M143.8 644.1h0M149.3 666.2h0M148.1 641.4h0M146.1 667.8h0M161.5 657.8h0M143.5 650.5h0M155.3 670.1h0M142.7 662.8h0M154.0 632.9h0M153.0 638.0h0M163.7 674.7h0M155.5 637.4h0M139.5 657.8h0M140.6 647.1h0M149.3 641.0h0M154.3 629.5h0M147.3 666.7h0M155.8 636.2h0M151.8 672.1h0M142.2 659.7h0M166.4 662.3h0M156.2 665.8h0M139.8 647.1h0M147.7 651.4h0M140.8 662.5h0M147.6 668.0h0M148.0 643.4h0M147.5 667.0h0M145.7 658.7h0M148.1 655.8h0M149.6 653.2h0M150.5 667.7h0M162.4 637.7h0M147.7 657.8h0M157.4 641.9h0M157.5 648.7h0M147.2 659.3h0M149.4 644.2h0M146.4 669.6h0" stroke="#6f9af8" stroke-width="0.6" stroke-linecap="round" fill="none" opacity="0.8"/>
</g>
<path d="M181.7 620.5h0M169.3 603.9h0M171.8 605.4h0M168.0 609.2h0M183.3 624.1h0M166.1 607.5h0M178.9 605.3h0M175.0 603.3h0M173.0 604.9h0M170.8 604.2h0M175.1 604.7h0M166.1 606.8h0M180.6 613.5h0M174.2 604.1h0M181.4 614.6h0M181.9 621.5h0M166.5 607.3h0M176.4 604.8h0M180.9 610.1h0M180.9 608.7h0M189.8 626.8h0M180.4 611.7h0M181.5 615.8h0M180.2 609.8h0M180.8 615.0h0M178.1 604.6h0M179.2 606.8h0M181.5 619.7h0M181.2 617.0h0M192.9 628.0h0M174.3 604.5h0M182.0 616.7h0M188.2 626.7h0M179.8 607.8h0M182.0 616.7h0M171.5 611.1h0M174.4 604.7h0M179.8 609.9h0M178.2 604.6h0M173.3 603.4h0M182.6 623.6h0M169.2 605.7h0M168.9 603.7h0M166.8 606.2h0M184.4 621.5h0M173.2 604.0h0M180.9 608.4h0M182.0 613.8h0M174.6 605.0h0M181.1 619.2h0M164.9 607.9h0M182.5 621.9h0M167.2 604.7h0M174.9 604.8h0M182.8 620.1h0M179.2 606.9h0M166.3 606.3h0M175.9 603.9h0M177.7 606.0h0M178.9 606.4h0M182.4 623.5h0M176.9 605.1h0M177.3 604.4h0M166.7 606.8h0M171.4 612.0h0M180.2 618.6h0M182.4 623.3h0M185.8 627.1h0M178.9 605.8h0M176.5 604.9h0M180.7 615.2h0M182.7 623.9h0M189.7 627.9h0M166.1 609.6h0M172.0 604.7h0M182.3 621.1h0M180.9 610.0h0M169.3 610.7h0M171.6 603.7h0M188.3 627.4h0M188.3 627.6h0M179.2 607.5h0M165.7 607.1h0M170.3 604.5h0M181.9 620.9h0M165.5 605.9h0M186.3 628.7h0M168.5 610.0h0M181.3 608.6h0M193.8 628.3h0M172.9 604.1h0M182.0 624.4h0M191.5 627.0h0M191.1 628.4h0M165.6 608.3h0M181.7 617.4h0M183.8 623.8h0M164.8 607.2h0M181.4 617.8h0M165.8 605.9h0M175.1 604.3h0M181.6 623.9h0M183.3 627.2h0M181.2 612.1h0M181.9 619.1h0M178.9 617.8h0M172.2 603.9h0M183.0 626.5h0M181.1 608.3h0M174.9 604.4h0M182.0 612.6h0M184.0 623.7h0M180.9 611.8h0M179.2 608.6h0M175.5 604.4h0M191.7 627.0h0M183.6 624.4h0M166.9 606.4h0M180.8 614.3h0M171.7 603.1h0M166.7 605.7h0M181.0 614.4h0M181.7 619.7h0M178.0 604.5h0M171.1 604.9h0M180.9 618.7h0M164.9 606.3h0M170.7 604.3h0M181.5 608.8h0M166.1 607.5h0M182.0 615.6h0M180.3 609.6h0M173.6 603.7h0M182.6 619.3h0M179.8 611.7h0M174.3 613.9h0M179.1 604.8h0M177.9 604.2h0M168.4 605.0h0M169.5 604.4h0M180.2 607.9h0M180.9 608.3h0M175.2 614.7h0M179.6 607.2h0M186.5 625.8h0M173.3 604.4h0M176.4 604.4h0M179.2 606.4h0M174.6 603.5h0M168.2 611.0h0" stroke="#e070ea" stroke-width="0.5" stroke-linecap="round" fill="none" opacity="1"/>
<path d="M186.4 674.1h0M154.8 676.1h0M145.3 673.5h0M169.4 676.9h0M188.8 674.4h0M159.5 675.3h0M184.5 674.6h0M186.6 672.7h0M147.1 674.0h0M183.8 675.9h0M147.0 674.0h0M189.7 675.0h0M186.8 673.6h0M186.1 673.5h0M152.7 675.2h0M184.1 674.4h0M184.3 674.8h0M151.2 673.2h0M186.4 673.2h0M187.5 673.3h0M146.8 674.1h0M184.3 674.1h0M145.5 673.8h0M181.5 675.1h0M186.5 673.4h0M181.9 676.1h0M177.6 677.4h0M167.0 674.4h0M153.3 675.5h0M176.8 677.1h0M154.8 676.5h0M160.9 675.2h0M152.7 673.8h0M165.7 676.1h0M156.1 675.1h0M181.5 676.3h0M151.9 676.4h0M149.4 673.8h0M162.8 674.4h0M186.9 675.1h0M184.8 673.6h0M152.0 674.9h0M146.2 673.8h0M174.6 677.1h0M169.7 676.1h0M170.9 677.5h0M176.4 673.5h0M189.4 673.8h0M180.9 675.8h0M188.3 673.9h0M179.1 674.6h0M163.7 674.2h0M157.2 676.0h0M153.4 674.5h0M170.5 677.0h0M149.9 674.9h0M149.8 675.4h0M164.3 674.6h0M147.1 674.3h0M190.5 673.9h0M158.3 673.9h0M180.5 675.3h0M169.4 676.6h0M177.6 676.7h0M165.1 674.7h0M148.5 674.8h0M163.1 674.4h0M153.7 675.1h0M181.9 675.2h0M189.4 674.2h0M158.1 674.2h0M168.1 676.5h0M169.2 676.1h0M178.0 676.8h0M159.2 674.6h0M165.4 674.7h0M176.5 677.6h0M154.0 673.5h0M174.4 677.6h0M153.8 674.2h0M168.6 676.6h0M184.8 673.5h0M178.8 676.2h0M185.5 675.8h0M184.2 675.0h0M165.0 675.3h0M157.9 675.3h0M161.1 673.0h0M157.0 674.0h0M169.3 675.4h0M189.0 674.5h0M184.2 674.6h0M174.3 678.7h0M188.9 674.3h0M180.1 676.0h0M158.9 674.0h0M187.1 672.9h0M182.5 674.5h0M159.0 675.5h0M150.1 674.6h0M178.9 677.4h0M163.9 674.6h0M185.1 673.3h0M158.7 675.5h0M169.1 675.7h0M175.4 679.0h0M147.9 673.5h0M185.0 673.9h0M189.6 674.7h0M172.4 678.7h0M186.0 674.6h0M172.3 676.9h0M172.7 677.6h0M189.4 674.8h0M178.4 676.6h0M159.1 674.6h0M157.0 672.8h0M184.5 675.2h0M181.4 675.7h0M172.9 677.5h0M169.9 677.2h0M183.4 674.7h0M181.0 676.2h0M185.9 673.4h0M189.6 674.3h0M183.8 674.5h0M156.4 675.8h0M176.1 677.1h0M145.1 674.1h0M179.5 675.8h0M157.1 675.5h0M188.5 673.7h0M148.5 675.5h0M153.0 674.5h0M150.9 674.4h0M149.0 674.1h0M188.2 674.6h0M146.9 674.6h0M174.8 677.9h0M185.3 674.4h0M184.9 673.6h0M153.5 676.1h0M186.3 672.9h0M183.9 675.1h0M188.6 674.6h0M183.0 674.7h0M158.8 674.5h0M147.7 674.0h0M189.1 674.8h0M176.4 678.3h0M149.0 675.0h0M146.1 673.6h0M188.3 673.8h0M156.2 675.4h0M167.6 675.5h0M174.1 678.1h0M178.0 677.2h0M180.5 675.8h0M154.8 674.2h0M183.8 675.1h0M176.0 677.6h0M165.9 675.7h0M162.2 674.7h0M166.8 675.4h0M189.0 674.8h0M168.1 672.5h0M159.6 675.3h0M189.6 674.0h0M157.6 674.7h0M160.8 675.2h0M171.2 676.9h0M169.0 676.1h0M180.2 674.5h0M155.3 675.1h0M156.5 676.4h0M148.1 674.2h0M190.3 674.1h0M191.3 674.8h0M163.8 674.0h0M188.8 674.6h0M179.2 676.3h0M184.6 674.2h0M147.8 674.0h0M172.5 676.4h0M170.2 677.3h0M171.2 676.9h0M189.7 674.3h0M166.2 675.0h0M165.6 675.0h0M185.9 674.9h0M163.4 675.3h0M153.1 675.9h0M187.9 672.8h0M176.9 676.6h0M188.0 674.6h0M149.6 675.0h0M187.7 672.9h0M152.0 675.2h0M166.0 675.9h0M147.4 674.1h0" stroke="#e070ea" stroke-width="0.5" stroke-linecap="round" fill="none" opacity="1"/>
<path d="M229.9 635.3h0M227.0 633.9h0M236.2 682.9h0M235.3 641.4h0M239.7 675.6h0M238.1 653.9h0M238.7 649.8h0M231.3 637.8h0M210.0 628.3h0M237.9 683.3h0M209.2 646.9h0M237.4 678.3h0M229.8 696.0h0M233.8 687.4h0M236.3 686.3h0M229.1 694.7h0M240.7 675.1h0M228.8 632.7h0M241.0 665.3h0M225.1 698.6h0M208.1 631.6h0M212.0 704.8h0M236.3 648.2h0M232.5 637.5h0M208.1 673.7h0M240.6 673.0h0M243.0 666.6h0M240.0 653.1h0M214.8 703.7h0M209.5 700.0h0M240.6 668.0h0M228.1 633.0h0M236.5 682.8h0M230.9 692.4h0M242.3 671.2h0M239.2 652.5h0M224.4 701.4h0M210.3 703.3h0M231.6 693.9h0M225.9 631.5h0M236.5 644.3h0M215.9 627.2h0M209.3 701.6h0M240.5 657.6h0M232.7 690.8h0M242.7 662.6h0M237.4 647.2h0M237.5 679.2h0M237.3 646.2h0M237.1 680.4h0M241.2 669.8h0M234.2 688.9h0M210.7 701.8h0M209.1 646.1h0M215.9 704.2h0M224.4 631.6h0M235.1 687.7h0M218.6 703.0h0M207.6 643.2h0M236.9 644.7h0M227.9 633.0h0M219.2 702.3h0M227.6 632.0h0M211.7 704.2h0M241.3 659.7h0M212.3 627.8h0M225.2 631.8h0M232.9 639.9h0M212.5 626.6h0M207.9 700.4h0M230.1 693.5h0M240.8 660.5h0M238.7 672.9h0M241.6 667.8h0M212.7 628.5h0M236.0 686.9h0M230.2 633.6h0M233.3 640.9h0M233.7 692.2h0M241.4 665.8h0M237.9 680.4h0M224.7 698.4h0M238.1 680.6h0M228.8 695.8h0M213.3 627.1h0M241.5 664.6h0M215.7 704.2h0M230.9 691.8h0M213.8 627.2h0M227.2 696.9h0M224.3 699.7h0M208.6 672.3h0M240.2 670.1h0M230.4 694.2h0M214.1 704.9h0M239.0 677.1h0M227.2 696.6h0M231.6 692.2h0M237.9 648.3h0M217.1 703.8h0M241.0 669.0h0M234.6 640.0h0M241.1 655.9h0M242.1 664.7h0M233.1 690.0h0M230.8 695.8h0M225.2 698.8h0M226.0 697.1h0M222.5 701.7h0M230.9 635.3h0M219.0 702.3h0M214.6 704.2h0M241.6 668.8h0M213.2 704.5h0M240.7 664.8h0M224.7 631.8h0M210.3 628.2h0M226.5 698.7h0M241.5 665.9h0M231.8 691.4h0M233.2 691.0h0M210.3 703.7h0M224.5 699.2h0M229.5 693.6h0M210.1 703.6h0M212.4 704.5h0M220.8 701.7h0M237.0 680.5h0M221.7 700.9h0M241.8 661.6h0M240.6 676.3h0M211.2 704.3h0M209.9 700.9h0M242.1 664.4h0M214.6 703.9h0M231.8 690.7h0M207.8 674.9h0M236.9 684.2h0M238.0 681.3h0M241.0 666.7h0M211.1 703.1h0M240.0 660.5h0M231.9 691.2h0M240.2 659.6h0M214.0 628.5h0M241.0 660.0h0M213.7 704.4h0M213.2 627.6h0M235.3 685.9h0M222.0 701.2h0M236.5 645.3h0M238.5 680.0h0M226.9 698.9h0M222.8 630.1h0M233.7 687.6h0M211.2 704.6h0M219.1 628.0h0M207.9 680.7h0M229.3 693.1h0M241.6 664.5h0M222.8 702.3h0M240.8 653.4h0M232.7 638.7h0M231.5 636.6h0M236.8 685.5h0M238.6 648.8h0M209.6 675.3h0M212.5 627.8h0M213.4 628.0h0M214.2 703.2h0M233.8 641.3h0M219.3 628.2h0M219.2 702.6h0M241.3 669.0h0M227.8 696.4h0M209.8 701.9h0M241.0 669.2h0M239.7 674.2h0M228.7 695.1h0M238.3 677.8h0M228.1 695.0h0M215.4 703.8h0M241.4 670.3h0M208.1 651.5h0M208.5 700.6h0M239.9 663.9h0M231.7 692.0h0M215.5 704.9h0M240.6 658.5h0M240.5 655.9h0M218.8 701.9h0M234.4 686.8h0M241.1 660.7h0M221.6 701.3h0M241.0 658.9h0M233.1 688.4h0M241.7 654.9h0M239.6 650.8h0M241.4 658.6h0M237.1 679.3h0M220.6 701.6h0M227.2 696.7h0M208.8 627.4h0M213.8 628.1h0M214.8 627.5h0M208.3 686.5h0M209.5 701.7h0M241.7 666.5h0M227.1 698.0h0M238.6 681.6h0M218.6 703.1h0M240.9 657.1h0M240.1 651.9h0M214.8 628.1h0M231.3 693.8h0M223.4 698.7h0M241.6 667.0h0M238.6 677.9h0M241.4 665.9h0M234.5 645.0h0M230.4 635.8h0M241.1 656.2h0M236.3 685.3h0M231.4 692.3h0M215.6 704.2h0M220.3 702.4h0M208.5 656.9h0M221.3 628.6h0M232.7 639.8h0M233.6 641.6h0M224.8 701.0h0M228.0 632.5h0M218.4 702.5h0M241.9 653.4h0M219.8 701.6h0M207.8 659.0h0M210.9 700.9h0M229.9 636.8h0M220.4 704.0h0M207.8 681.8h0M218.4 702.4h0M209.0 626.6h0M213.4 703.0h0M207.1 652.7h0M221.8 701.4h0M237.5 650.5h0M240.4 676.2h0M241.1 663.1h0M219.4 701.3h0M218.4 627.7h0M240.7 660.5h0M238.0 678.2h0M212.7 705.3h0M229.6 633.2h0M232.4 691.2h0M221.9 700.3h0M233.1 640.4h0M210.7 702.6h0M220.9 701.7h0M226.0 633.5h0M237.6 646.9h0M238.6 678.7h0M218.1 702.8h0M226.1 633.0h0M238.1 677.6h0M222.8 699.9h0M241.8 655.2h0M238.6 648.4h0M232.1 638.2h0M220.0 627.9h0M238.8 650.5h0M210.6 704.4h0M237.9 675.9h0M238.2 649.3h0M228.8 633.0h0M229.3 633.6h0M208.7 700.4h0M214.8 704.4h0M236.2 685.5h0M208.3 651.6h0M212.4 703.4h0M215.8 704.1h0M227.1 633.4h0M215.1 628.5h0M237.1 683.1h0M237.5 681.6h0M240.8 655.5h0M215.8 703.3h0M229.0 633.1h0M211.4 703.1h0M226.1 632.1h0M240.7 656.3h0M234.3 641.1h0M209.1 627.4h0M234.0 641.3h0M223.3 700.8h0M239.0 673.9h0M237.4 680.2h0M239.8 669.6h0M231.2 637.0h0M220.6 701.9h0M213.8 705.3h0M212.1 703.5h0M215.1 703.4h0M219.8 702.8h0M221.7 701.0h0M236.9 683.0h0M235.9 645.2h0M208.3 679.5h0M237.0 684.7h0M227.7 632.3h0M241.3 667.5h0M221.6 630.4h0M230.0 633.6h0M231.2 692.1h0M208.8 627.8h0M231.5 636.5h0M230.6 634.3h0M239.8 660.3h0M240.5 655.6h0M220.9 701.5h0M236.4 683.4h0M214.1 628.1h0M219.3 702.9h0M213.5 703.3h0M242.4 658.4h0M235.8 645.8h0M213.1 703.8h0M224.4 631.6h0M214.4 704.2h0M221.8 702.4h0M214.4 703.4h0M227.8 634.1h0M216.3 703.0h0M231.2 638.0h0M242.0 661.2h0M225.3 699.4h0M241.1 672.3h0M232.6 638.4h0M227.3 698.1h0M214.4 704.6h0M210.4 626.8h0M209.8 667.8h0M211.9 703.3h0M239.6 673.9h0M222.6 699.7h0M211.1 703.3h0M207.6 694.0h0M229.9 634.9h0M217.7 704.9h0M211.9 704.8h0M216.1 703.7h0M208.7 661.0h0M233.1 637.7h0M215.5 628.1h0M209.8 702.6h0M238.7 648.7h0M236.6 682.3h0M236.2 683.2h0M217.3 629.1h0M232.5 689.8h0M220.0 701.9h0M217.1 627.5h0M210.1 703.1h0M208.4 696.6h0M212.4 704.3h0M235.7 642.5h0M228.3 636.7h0M220.9 701.1h0M237.8 680.6h0M223.6 628.5h0M238.3 678.2h0M215.6 704.2h0M237.0 646.3h0M209.0 628.4h0M232.5 691.1h0M237.7 681.9h0M235.2 686.8h0M223.1 631.1h0M232.9 639.7h0M239.8 676.6h0M213.6 704.1h0M242.3 660.7h0M238.3 678.6h0M210.8 627.1h0M235.2 685.5h0M239.5 652.3h0M209.8 649.7h0M213.9 704.8h0M208.4 701.0h0M214.2 628.8h0M227.1 696.1h0M224.0 631.7h0M226.2 698.5h0M214.2 705.1h0M236.4 683.3h0M230.5 693.1h0M240.5 670.3h0M222.1 701.5h0M236.7 682.7h0M208.0 694.3h0M240.3 670.5h0M220.4 701.0h0M211.5 703.7h0M241.6 656.5h0M213.9 628.3h0M237.9 645.8h0M240.8 661.0h0M212.8 704.4h0M235.6 643.9h0M208.9 676.1h0M231.0 692.8h0M214.5 704.1h0M208.7 662.4h0M234.0 689.3h0M236.7 645.5h0M215.4 703.8h0M235.0 641.6h0M222.3 700.8h0M240.6 654.5h0M220.1 702.7h0M241.2 670.0h0M237.1 647.7h0M240.3 672.8h0M227.3 698.0h0M236.4 681.9h0M213.5 705.1h0M241.4 662.7h0M231.1 693.8h0M240.2 672.3h0M238.6 677.4h0M229.2 633.9h0M219.8 627.0h0M230.9 693.7h0M232.7 690.5h0M210.1 704.2h0M209.2 700.3h0M241.7 657.6h0M231.4 692.3h0M237.4 681.7h0M237.3 682.4h0M222.9 699.4h0M230.9 637.4h0M229.0 694.8h0M232.0 691.3h0M208.7 640.1h0M241.2 662.0h0M240.9 661.2h0M228.8 696.0h0M210.6 702.1h0" stroke="#4fae3a" stroke-width="0.5" stroke-linecap="round" fill="none" opacity="1"/>
<path d="M215.1 627.4h0M238.5 680.3h0M212.8 704.2h0M207.7 694.2h0M239.5 650.9h0M241.4 671.1h0M229.9 634.2h0M224.7 699.0h0M214.6 705.0h0M240.3 671.9h0M240.8 659.8h0M209.3 694.4h0M239.7 653.4h0M209.5 701.9h0M211.5 627.7h0M209.3 626.6h0M216.5 702.5h0M226.9 698.8h0M241.2 653.5h0M240.1 652.6h0M236.7 680.6h0M207.9 676.3h0M226.3 698.0h0M240.3 670.2h0M220.0 629.5h0M208.3 653.1h0M240.6 658.9h0M212.3 704.9h0M236.9 678.8h0M209.2 676.7h0M240.1 673.5h0M237.6 648.7h0M210.5 628.6h0M221.7 630.4h0M225.5 631.8h0M208.5 699.8h0M218.1 703.3h0M231.6 692.1h0M238.3 673.2h0M231.0 637.5h0M213.2 704.5h0M214.5 705.0h0M226.4 699.1h0M208.1 681.6h0M236.7 686.5h0M213.9 705.2h0M241.8 660.3h0M232.7 688.0h0M233.4 686.2h0M215.3 703.3h0M212.5 704.3h0M221.5 702.2h0M236.8 682.1h0M217.8 703.8h0M239.3 670.7h0M211.6 703.7h0M233.5 689.5h0M233.7 688.7h0M230.1 692.4h0M238.1 680.0h0M242.0 656.0h0M228.2 635.1h0M237.3 650.0h0M211.3 703.6h0M208.5 674.2h0M237.9 680.9h0M225.1 698.2h0M230.9 694.1h0M238.8 650.8h0M211.7 704.2h0M228.8 694.8h0M241.0 670.1h0M222.1 701.1h0M214.9 703.1h0M230.0 695.4h0M226.1 697.2h0M235.4 643.1h0M210.9 703.1h0M240.5 670.9h0M212.5 704.2h0M212.9 704.5h0M216.5 703.8h0M239.5 672.4h0M226.0 697.8h0M207.6 699.7h0M228.0 696.7h0M227.3 697.0h0M242.0 656.2h0M235.6 684.6h0M214.7 704.1h0M207.6 674.6h0M214.8 703.8h0M224.1 632.9h0M238.3 648.8h0M239.4 681.1h0M237.5 681.2h0M238.1 646.8h0M213.0 704.6h0M241.2 652.6h0M208.9 662.3h0M222.7 700.5h0M215.1 627.3h0M231.8 694.4h0M234.7 641.0h0M225.1 630.1h0M233.8 689.0h0M214.6 628.0h0M210.1 703.0h0M209.4 702.1h0M230.5 636.8h0M231.0 636.5h0M230.6 636.5h0M236.7 646.0h0M213.0 628.1h0M209.7 702.9h0M220.2 702.4h0M226.0 698.3h0M209.0 627.9h0M230.7 692.8h0M242.2 663.7h0M216.6 704.3h0M211.3 704.3h0M226.8 699.1h0M239.8 651.4h0M240.2 669.9h0M228.4 632.4h0M240.7 656.6h0M239.3 675.8h0M213.3 704.9h0M229.5 692.7h0M238.8 679.2h0M230.6 635.2h0M208.4 625.6h0M241.6 654.9h0M207.4 699.9h0M214.6 703.0h0M239.0 649.6h0M231.5 638.3h0M230.3 694.6h0M230.7 693.0h0M233.1 690.0h0M211.2 703.8h0M207.3 668.3h0M218.6 702.9h0M222.3 629.8h0M222.7 631.0h0M240.5 653.0h0M214.8 704.5h0M241.5 659.4h0M224.1 699.8h0" stroke="#d98ae8" stroke-width="0.5" stroke-linecap="round" fill="none" opacity="1"/>
<path d="M146.8 665.7h0M154.7 626.1h0M138.1 661.6h0M143.9 640.1h0M153.5 628.0h0M144.5 674.1h0M156.9 626.0h0M146.0 670.7h0M141.8 668.3h0M138.2 656.1h0M154.5 627.8h0M153.8 626.3h0M143.2 670.6h0M143.8 640.8h0M149.3 635.7h0M139.2 662.5h0M146.4 639.0h0M153.9 635.7h0M145.3 640.3h0M138.3 663.7h0M149.4 636.0h0M143.7 672.3h0M141.3 646.0h0M156.5 625.0h0M154.2 627.3h0M139.7 664.8h0M140.2 667.2h0M148.3 637.0h0M139.0 664.4h0M138.5 656.0h0M137.5 661.2h0M147.5 660.0h0M154.6 625.8h0M137.9 652.3h0M138.0 663.5h0M151.4 630.5h0M149.9 632.8h0M152.8 628.6h0M142.4 672.3h0M153.5 628.7h0M155.2 631.8h0M138.0 649.2h0M153.9 628.2h0M140.0 649.9h0M154.8 627.6h0M156.6 626.1h0M154.0 628.4h0M140.6 667.5h0M153.9 629.9h0M138.3 651.3h0M138.4 661.4h0M155.7 626.2h0M139.9 667.2h0M149.8 655.0h0M148.3 635.6h0M147.7 637.2h0M157.7 623.9h0M146.9 638.2h0M140.3 645.8h0M140.3 665.9h0M148.7 635.2h0M152.5 628.6h0M143.2 669.4h0M158.3 624.3h0M139.3 651.4h0M151.2 632.2h0M150.1 635.4h0M149.5 655.7h0M137.3 656.4h0M141.7 670.4h0M153.1 629.4h0M145.0 640.5h0M146.0 639.1h0M147.1 663.5h0M138.4 656.3h0M138.7 649.8h0M153.5 628.2h0M153.6 629.9h0M141.8 645.4h0M138.7 663.4h0M154.1 630.6h0M139.1 646.0h0M138.5 665.6h0M151.9 629.5h0M155.7 627.8h0M142.6 642.6h0M141.0 642.5h0M142.4 643.1h0M156.7 623.7h0M146.3 671.9h0M139.7 648.2h0M141.9 669.2h0M151.8 631.0h0M152.9 629.1h0M143.9 640.8h0M154.7 629.1h0M140.2 647.7h0M146.4 639.7h0M138.5 653.9h0M142.9 670.9h0M149.9 634.9h0M150.5 634.6h0M157.6 625.4h0M137.2 662.0h0M143.6 670.6h0M137.3 658.1h0M155.0 627.4h0M156.5 635.2h0M137.4 658.9h0M147.1 666.7h0M139.1 652.7h0M138.2 650.1h0M150.3 634.2h0M138.7 646.4h0M143.6 671.0h0M142.8 642.2h0M157.0 625.1h0M153.7 639.6h0M145.1 669.2h0M158.5 627.1h0M146.1 668.5h0M146.0 637.9h0M139.2 665.1h0M139.7 649.8h0M139.3 650.6h0M157.1 626.1h0M145.3 638.9h0M139.0 652.1h0M144.8 639.5h0M137.4 659.8h0M137.9 661.1h0M139.9 651.1h0M155.7 626.1h0M155.8 627.4h0M143.8 673.0h0M144.8 671.9h0M141.8 671.3h0M142.0 646.6h0M137.4 655.3h0M148.1 658.7h0M144.9 639.4h0M140.7 667.2h0M143.4 642.1h0M140.7 649.6h0M151.8 631.8h0M143.3 642.6h0M155.1 626.8h0M139.5 665.9h0M145.5 641.4h0M142.5 644.6h0M149.6 635.3h0M138.6 650.3h0M139.2 659.4h0M149.7 656.1h0M155.5 626.7h0M152.4 630.5h0M152.5 632.4h0M153.6 629.4h0M145.3 639.5h0M152.0 631.4h0M149.6 657.9h0M152.8 631.7h0M146.0 666.3h0M153.1 630.1h0M141.1 669.7h0M147.9 660.2h0M139.1 647.5h0M143.1 642.7h0M151.9 631.5h0M152.7 643.6h0M140.3 648.9h0M147.9 634.5h0M141.0 668.2h0M138.1 652.6h0M141.8 669.6h0M140.4 652.3h0M139.9 646.0h0M140.0 667.4h0M138.4 666.6h0M139.9 646.1h0M155.6 624.4h0M148.7 637.1h0M139.8 665.7h0M138.3 662.4h0M149.2 632.8h0M139.2 653.5h0M143.3 672.4h0M136.9 651.6h0M143.0 674.3h0M151.6 631.3h0M155.7 633.6h0M154.5 627.8h0M145.4 670.5h0M152.4 630.0h0M137.8 659.4h0M139.1 649.2h0M150.7 633.1h0M141.6 645.4h0M143.2 669.0h0M152.4 632.9h0M156.1 626.5h0M143.5 673.6h0M148.4 633.1h0M142.7 642.2h0M148.5 634.5h0M145.5 640.3h0M157.3 625.3h0M144.4 671.8h0M151.7 633.2h0M138.5 654.6h0M145.9 639.0h0M138.7 662.5h0M140.5 647.6h0M138.1 659.5h0M148.1 636.0h0M139.8 665.1h0M153.8 636.7h0M141.5 644.8h0M156.2 624.6h0M153.0 630.0h0M139.0 668.5h0M139.9 651.0h0M142.3 669.0h0M138.6 662.2h0M140.3 654.3h0M145.1 642.0h0M149.2 636.1h0M139.1 666.5h0M146.8 638.1h0M142.7 644.4h0M138.4 666.6h0M142.5 670.8h0M139.3 651.6h0M141.2 646.0h0M138.3 648.6h0M139.4 666.3h0M144.9 670.9h0M154.4 628.3h0M141.4 669.1h0M152.8 630.7h0M154.6 636.7h0M141.7 644.5h0M152.2 631.6h0M142.4 672.5h0M140.9 648.1h0M153.3 646.7h0M141.2 670.1h0M140.5 646.3h0M157.4 625.7h0M137.6 659.1h0" stroke="#7d95f6" stroke-width="0.5" stroke-linecap="round" fill="none" opacity="1"/>
<circle cx="142.9" cy="583.3" r="1.5" fill="#b8c0cc" stroke="#7d9ad0" stroke-width="0.6"/>
<path d="M143.5 585C146 590 150 596 157 603" stroke="#8aa0e8" stroke-width="0.8" fill="none"/>
<path d="M145 586.5C149 590 152 594 154 597" stroke="#5aa844" stroke-width="1.1" fill="none" stroke-dasharray="2.5 1.5"/>
<path d="M148 589.5L152 593" stroke="#e0903a" stroke-width="0.9" fill="none"/>
<path d="M154.5 600.5C157 602 160 602 163 600.5L162 603.5L156.5 604Z" fill="#3f9e3a"/>
<path d="M155 601L158 603.5" stroke="#d9902a" stroke-width="1"/>
<path d="M152.6 604.5L163.5 604.5L164 608.5L161 618L158.5 627.5L153.5 627.5L152.8 615Z" fill="#f1daf0" opacity="0.55"/>
<path d="M154.2 622.4h0M153.6 613.7h0M153.9 615.1h0M153.6 626.2h0M153.3 626.6h0M153.1 605.8h0M153.1 608.7h0M153.1 611.3h0M154.2 619.8h0M154.1 622.7h0M153.5 611.8h0M152.9 610.6h0M153.0 610.5h0M153.5 622.5h0M153.2 608.5h0M153.1 622.1h0M153.8 614.3h0M153.3 625.0h0M153.6 617.5h0M152.6 610.8h0M154.0 626.1h0M153.9 619.5h0M152.3 613.7h0M153.3 611.0h0M154.3 613.3h0M153.6 628.1h0M153.6 619.0h0M153.2 618.4h0M153.9 615.9h0M152.9 617.2h0M153.2 608.5h0M153.4 609.3h0M153.0 612.6h0M153.6 622.8h0M153.8 624.2h0M154.2 623.8h0M153.5 625.8h0M152.9 606.4h0M153.8 609.8h0M153.6 616.4h0M153.9 618.4h0M154.4 625.1h0M153.2 614.1h0M152.7 605.2h0M153.5 606.6h0M153.4 622.2h0M154.4 623.7h0M153.2 606.3h0M153.5 622.0h0M153.7 614.9h0M154.0 604.0h0M152.4 607.4h0M154.1 619.6h0M153.5 623.3h0M153.3 613.2h0M153.8 619.3h0M152.5 623.1h0M154.2 623.7h0M153.5 618.5h0M153.7 617.5h0" stroke="#d98ae8" stroke-width="0.6" stroke-linecap="round" fill="none" opacity="1"/>
<path d="M153.4 625.8h0M153.2 612.8h0M154.0 616.6h0M153.8 624.4h0M153.4 616.4h0M153.8 609.3h0M153.8 619.8h0M152.8 623.7h0M153.3 605.0h0M154.2 619.1h0M153.4 608.8h0M153.3 604.8h0M153.4 622.7h0M152.7 605.3h0M152.5 619.9h0M154.0 616.1h0M152.9 603.2h0M154.0 625.5h0M153.4 617.2h0M153.0 616.3h0M153.3 621.3h0M153.0 617.3h0M152.5 609.6h0M153.5 611.6h0M152.9 620.7h0M153.7 602.8h0M153.0 611.6h0M153.5 615.5h0M153.3 609.7h0M153.2 613.3h0M152.8 614.4h0M154.0 617.6h0M153.2 615.2h0M153.4 624.3h0M152.9 613.5h0M153.9 615.7h0M153.3 625.6h0M153.4 607.7h0M153.4 610.0h0M152.4 610.1h0M153.9 617.5h0M154.0 629.1h0M153.1 605.4h0M153.5 622.0h0M154.1 614.9h0M153.4 603.9h0M153.3 611.6h0M153.5 614.7h0M153.1 614.4h0M152.2 619.4h0" stroke="#8f9df6" stroke-width="0.6" stroke-linecap="round" fill="none" opacity="1"/>
<path d="M160.0 604.1h0M160.6 604.4h0M157.5 625.0h0M159.7 618.5h0M159.4 618.7h0M154.9 623.3h0M158.4 623.4h0M159.8 619.8h0M156.1 623.8h0M162.3 607.2h0M157.8 611.2h0M160.0 618.7h0M155.6 627.6h0M160.5 611.3h0M155.4 604.4h0M159.0 611.3h0M154.8 615.3h0M157.9 616.7h0M156.4 613.0h0M156.0 605.7h0M158.5 609.2h0M154.8 618.6h0M160.8 605.0h0M155.1 622.9h0M157.3 624.8h0M160.7 617.3h0M158.4 612.7h0M155.5 621.0h0M158.3 611.7h0M155.1 626.0h0M160.1 614.3h0M158.2 606.4h0M154.2 614.5h0M154.1 606.0h0M155.3 616.1h0M159.2 616.3h0M154.6 625.3h0M157.6 620.6h0M155.7 625.8h0M158.3 622.0h0M157.7 619.1h0M155.0 623.0h0M161.3 613.2h0M155.8 608.0h0M157.3 616.6h0M159.4 624.3h0M154.2 608.9h0M161.0 612.8h0M160.1 617.5h0M156.7 616.8h0M159.0 624.4h0M156.6 607.6h0M162.1 611.8h0M156.2 621.0h0M156.6 623.2h0M157.9 613.3h0M157.5 613.4h0M157.7 624.6h0M160.9 617.6h0M155.6 625.9h0M159.2 624.2h0M157.2 627.5h0M157.9 605.2h0M157.3 624.6h0M159.4 614.8h0M158.5 622.2h0M155.2 609.3h0M160.0 606.3h0M158.6 623.0h0M157.6 617.9h0M160.1 617.3h0M157.2 610.5h0M155.2 621.0h0M156.2 622.9h0M156.7 617.1h0M159.6 610.5h0M155.0 622.9h0M159.3 606.4h0M155.3 623.9h0M156.2 605.6h0M155.4 604.6h0M154.9 614.1h0M154.8 608.8h0M158.9 622.8h0M156.8 612.8h0M155.4 615.5h0M162.6 607.6h0M161.2 605.5h0M157.8 605.8h0M162.7 604.1h0" stroke="#e58ad8" stroke-width="0.5" stroke-linecap="round" fill="none" opacity="1"/>
<path d="M160.0 617.8h0M160.0 620.2h0M157.0 622.3h0M159.9 608.1h0M160.5 614.0h0M157.9 625.2h0M161.8 612.6h0M154.2 610.6h0M154.7 627.2h0M157.3 615.7h0M158.2 627.8h0M157.2 627.4h0M154.6 623.2h0M161.1 612.6h0M157.8 614.4h0M160.0 616.3h0M154.2 619.5h0M154.7 613.5h0M160.5 614.4h0M154.1 614.6h0M156.2 617.9h0M156.2 610.7h0M157.7 604.0h0M154.7 610.8h0M154.3 621.9h0M159.8 623.4h0M157.2 609.7h0M158.8 622.6h0M157.5 624.2h0M157.6 627.2h0" stroke="#8f9df6" stroke-width="0.5" stroke-linecap="round" fill="none" opacity="1"/>
<path d="M159.5 623.5h0M154.4 612.8h0M158.0 617.8h0M154.9 620.7h0M159.9 617.1h0M155.3 606.5h0M161.2 612.2h0M156.0 616.5h0M154.5 622.7h0M158.1 622.7h0M162.3 608.3h0M161.0 614.2h0M154.9 620.5h0M154.3 625.4h0M159.2 608.0h0M156.8 622.1h0M158.7 618.1h0M154.9 615.4h0M158.9 620.1h0M156.9 609.4h0M154.8 620.1h0M157.7 604.2h0M157.0 608.1h0M158.1 621.3h0M159.5 612.1h0M158.5 604.3h0M155.0 613.2h0M159.3 620.3h0M154.1 606.0h0M159.8 604.0h0M160.1 607.9h0M160.7 619.0h0M155.1 620.1h0M158.4 627.7h0M158.6 624.6h0M155.9 615.4h0M157.9 625.1h0M160.9 610.9h0M160.1 605.9h0M154.6 611.3h0" stroke="#5fb54a" stroke-width="0.5" stroke-linecap="round" fill="none" opacity="1"/>
<rect x="42.0" y="502.8" width="210.50" height="211.20" fill="none" stroke="#8c8c8c" stroke-width="0.85"/>
<path d="M38.6 502.70H42.0" stroke="#444" stroke-width="0.6"/>
<text transform="translate(34.90,502.70) scale(1.08,1)" y="2.00" font-size="5.56" text-anchor="end" fill="#111" stroke="#111" stroke-width="0.08">15</text>
<path d="M38.6 546.30H42.0" stroke="#444" stroke-width="0.6"/>
<text transform="translate(34.90,546.30) scale(1.08,1)" y="2.00" font-size="5.56" text-anchor="end" fill="#111" stroke="#111" stroke-width="0.08">10</text>
<path d="M38.6 589.90H42.0" stroke="#444" stroke-width="0.6"/>
<text transform="translate(34.90,589.90) scale(1.08,1)" y="2.00" font-size="5.56" text-anchor="end" fill="#111" stroke="#111" stroke-width="0.08">5</text>
<path d="M38.6 633.50H42.0" stroke="#444" stroke-width="0.6"/>
<text transform="translate(34.90,633.50) scale(1.08,1)" y="2.00" font-size="5.56" text-anchor="end" fill="#111" stroke="#111" stroke-width="0.08">0</text>
<path d="M38.6 677.10H42.0" stroke="#444" stroke-width="0.6"/>
<text transform="translate(34.90,677.10) scale(1.08,1)" y="2.00" font-size="5.56" text-anchor="end" fill="#111" stroke="#111" stroke-width="0.08">−5</text>
<path d="M77.80 714.0V717.0" stroke="#444" stroke-width="0.6"/>
<text transform="translate(77.80,724.20) scale(1.08,1)" y="2.40" font-size="6.67" text-anchor="middle" fill="#111" stroke="#111" stroke-width="0.16">−10</text>
<path d="M114.10 714.0V717.0" stroke="#444" stroke-width="0.6"/>
<text transform="translate(114.10,724.20) scale(1.08,1)" y="2.40" font-size="6.67" text-anchor="middle" fill="#111" stroke="#111" stroke-width="0.16">−5</text>
<path d="M150.40 714.0V717.0" stroke="#444" stroke-width="0.6"/>
<text transform="translate(150.40,724.20) scale(1.08,1)" y="2.40" font-size="6.67" text-anchor="middle" fill="#111" stroke="#111" stroke-width="0.16">0</text>
<path d="M186.70 714.0V717.0" stroke="#444" stroke-width="0.6"/>
<text transform="translate(186.70,724.20) scale(1.08,1)" y="2.40" font-size="6.67" text-anchor="middle" fill="#111" stroke="#111" stroke-width="0.16">5</text>
<path d="M223.00 714.0V717.0" stroke="#444" stroke-width="0.6"/>
<text transform="translate(223.00,724.20) scale(1.08,1)" y="2.40" font-size="6.67" text-anchor="middle" fill="#111" stroke="#111" stroke-width="0.16">10</text>
<text transform="translate(145.60,734.60) scale(1.08,1)" y="2.17" font-size="6.02" text-anchor="middle" fill="#111" stroke="#111" stroke-width="0.08">UMAP_1</text>
<text transform="translate(21.30,609.40) rotate(-90) scale(1.08,1)" y="2.17" font-size="6.02" text-anchor="middle" fill="#111" stroke="#111" stroke-width="0.08">UMAP_2</text>
<text transform="translate(45.00,509.40) scale(1.08,1)" y="2.33" font-size="6.48" text-anchor="start" fill="#111" stroke="#111" stroke-width="0.16">UMAP: PBMCs</text>
<path d="M90.9 621.3L85.3 626.3" stroke="#000" stroke-width="0.8"/>
<path d="M85.3 626.3L86.4 623.2L88.5 625.6Z" fill="#000"/>
<path d="M163.8 529.4L160.4 532.8" stroke="#000" stroke-width="0.8"/>
<path d="M160.4 532.8L161.3 529.6L163.6 531.9Z" fill="#000"/>
<path d="M150.6 640.2L153.9 644.2" stroke="#000" stroke-width="0.8"/>
<path d="M153.9 644.2L150.8 643.0L153.3 641.0Z" fill="#000"/>
<path d="M176.6 641.5L180.4 645.3" stroke="#000" stroke-width="0.8"/>
<path d="M180.4 645.3L177.2 644.4L179.5 642.1Z" fill="#000"/>
<path d="M196.6 657.6L192.0 660.2" stroke="#000" stroke-width="0.8"/>
<path d="M192.0 660.2L193.7 657.4L195.3 660.2Z" fill="#000"/>
<path d="M223.4 678.2L217.3 667.0" stroke="#000" stroke-width="1.1"/>
<path d="M217.3 667.0L220.3 668.9L217.3 670.6Z" fill="#000"/>
<rect x="76.7" y="609.7" width="41.30" height="10.00" rx="1.6" fill="#fff" stroke="#d4d4d4" stroke-width="0.5"/>
<text transform="translate(97.35,614.70) scale(1.08,1)" y="2.50" font-size="6.94" text-anchor="middle" fill="#111" stroke="#111" stroke-width="0.16">Monocytes</text>
<rect x="152.7" y="518.6" width="27.80" height="10.30" rx="1.6" fill="#fff" stroke="#d4d4d4" stroke-width="0.5"/>
<text transform="translate(166.60,523.75) scale(1.08,1)" y="2.50" font-size="6.94" text-anchor="middle" fill="#111" stroke="#111" stroke-width="0.16">B cells</text>
<rect x="117.2" y="632.4" width="33.30" height="10.00" rx="1.6" fill="#fff" stroke="#d4d4d4" stroke-width="0.5"/>
<text transform="translate(133.85,637.40) scale(1.08,1)" y="2.50" font-size="6.94" text-anchor="middle" fill="#111" stroke="#111" stroke-width="0.16">NK cells</text>
<rect x="160.4" y="631.5" width="27.30" height="9.80" rx="1.6" fill="#fff" stroke="#d4d4d4" stroke-width="0.5"/>
<text transform="translate(174.05,636.40) scale(1.08,1)" y="2.50" font-size="6.94" text-anchor="middle" fill="#111" stroke="#111" stroke-width="0.16">T cells</text>
<rect x="159.3" y="661.5" width="49.20" height="9.80" rx="1.6" fill="#fff" stroke="#d4d4d4" stroke-width="0.5"/>
<text transform="translate(183.90,666.40) scale(1.08,1)" y="2.50" font-size="6.94" text-anchor="middle" fill="#111" stroke="#111" stroke-width="0.16">CD8<tspan font-size="4.4" dy="-2.8">+</tspan><tspan dy="2.8"> T cells</tspan></text>
<rect x="199.8" y="679.4" width="49.70" height="9.90" rx="1.6" fill="#fff" stroke="#d4d4d4" stroke-width="0.5"/>
<text transform="translate(224.65,684.35) scale(1.08,1)" y="2.50" font-size="6.94" text-anchor="middle" fill="#111" stroke="#111" stroke-width="0.16">CD4<tspan font-size="4.4" dy="-2.8">+</tspan><tspan dy="2.8"> T cells</tspan></text>
<rect x="318.5" y="500.3" width="63.30" height="188.40" fill="#fff" stroke="#8c8c8c" stroke-width="0.6"/>
<path d="M314.8 688.70H318.5" stroke="#555" stroke-width="0.5"/>
<path d="M315.9 679.89H318.5" stroke="#555" stroke-width="0.5"/>
<path d="M315.9 671.08H318.5" stroke="#555" stroke-width="0.5"/>
<path d="M315.9 662.27H318.5" stroke="#555" stroke-width="0.5"/>
<path d="M315.9 653.46H318.5" stroke="#555" stroke-width="0.5"/>
<path d="M315.9 644.65H318.5" stroke="#555" stroke-width="0.5"/>
<path d="M315.9 635.84H318.5" stroke="#555" stroke-width="0.5"/>
<path d="M315.9 627.03H318.5" stroke="#555" stroke-width="0.5"/>
<path d="M315.9 618.22H318.5" stroke="#555" stroke-width="0.5"/>
<path d="M315.9 609.41H318.5" stroke="#555" stroke-width="0.5"/>
<path d="M314.8 600.60H318.5" stroke="#555" stroke-width="0.5"/>
<path d="M315.9 591.79H318.5" stroke="#555" stroke-width="0.5"/>
<path d="M315.9 582.98H318.5" stroke="#555" stroke-width="0.5"/>
<path d="M315.9 574.17H318.5" stroke="#555" stroke-width="0.5"/>
<path d="M315.9 565.36H318.5" stroke="#555" stroke-width="0.5"/>
<path d="M315.9 556.55H318.5" stroke="#555" stroke-width="0.5"/>
<path d="M315.9 547.74H318.5" stroke="#555" stroke-width="0.5"/>
<path d="M315.9 538.93H318.5" stroke="#555" stroke-width="0.5"/>
<path d="M315.9 530.12H318.5" stroke="#555" stroke-width="0.5"/>
<path d="M315.9 521.31H318.5" stroke="#555" stroke-width="0.5"/>
<path d="M314.8 512.50H318.5" stroke="#555" stroke-width="0.5"/>
<path d="M315.9 503.69H318.5" stroke="#555" stroke-width="0.5"/>
<text transform="translate(310.90,512.50) scale(1.08,1)" y="2.20" font-size="6.11" text-anchor="end" fill="#111" stroke="#111" stroke-width="0.08">100</text>
<text transform="translate(310.90,600.60) scale(1.08,1)" y="2.20" font-size="6.11" text-anchor="end" fill="#111" stroke="#111" stroke-width="0.08">50</text>
<text transform="translate(310.90,688.70) scale(1.08,1)" y="2.20" font-size="6.11" text-anchor="end" fill="#111" stroke="#111" stroke-width="0.08">0</text>
<rect x="325.0" y="629.90" width="12.7" height="58.80" fill="#00b9c0" stroke="#333" stroke-width="0.4"/>
<rect x="325.0" y="613.20" width="12.7" height="16.70" fill="#6b8fd2" stroke="#333" stroke-width="0.4"/>
<rect x="325.0" y="600.40" width="12.7" height="12.80" fill="#f1716a" stroke="#333" stroke-width="0.4"/>
<rect x="325.0" y="569.50" width="12.7" height="30.90" fill="#b59c2c" stroke="#333" stroke-width="0.4"/>
<rect x="325.0" y="541.00" width="12.7" height="28.50" fill="#00a94c" stroke="#333" stroke-width="0.4"/>
<rect x="325.0" y="514.30" width="12.7" height="26.70" fill="#cd68b9" stroke="#333" stroke-width="0.4"/>
<rect x="325.0" y="512.50" width="12.7" height="1.80" fill="#c4c4c4" stroke="#333" stroke-width="0.4"/>
<path d="M331.35 619.0V629.9M328.35 619.0H334.35" stroke="#d8d8d8" stroke-width="0.5" fill="none" opacity="0.75"/>
<path d="M331.35 602.3V613.2M328.35 602.3H334.35" stroke="#d8d8d8" stroke-width="0.5" fill="none" opacity="0.75"/>
<path d="M331.35 589.5V600.4M328.35 589.5H334.35" stroke="#d8d8d8" stroke-width="0.5" fill="none" opacity="0.75"/>
<path d="M331.35 558.6V569.5M328.35 558.6H334.35" stroke="#d8d8d8" stroke-width="0.5" fill="none" opacity="0.75"/>
<path d="M331.35 530.1V541.0M328.35 530.1H334.35" stroke="#d8d8d8" stroke-width="0.5" fill="none" opacity="0.75"/>
<path d="M331.35 512.5V503.4M328.15000000000003 503.4H334.55" stroke="#9a9a9a" stroke-width="0.5" fill="none"/>
<rect x="344.1" y="606.20" width="12.7" height="82.50" fill="#00b9c0" stroke="#333" stroke-width="0.4"/>
<rect x="344.1" y="592.50" width="12.7" height="13.70" fill="#6b8fd2" stroke="#333" stroke-width="0.4"/>
<rect x="344.1" y="585.30" width="12.7" height="7.20" fill="#f1716a" stroke="#333" stroke-width="0.4"/>
<rect x="344.1" y="559.20" width="12.7" height="26.10" fill="#b59c2c" stroke="#333" stroke-width="0.4"/>
<rect x="344.1" y="536.10" width="12.7" height="23.10" fill="#00a94c" stroke="#333" stroke-width="0.4"/>
<rect x="344.1" y="513.70" width="12.7" height="22.40" fill="#cd68b9" stroke="#333" stroke-width="0.4"/>
<rect x="344.1" y="512.10" width="12.7" height="1.60" fill="#c4c4c4" stroke="#333" stroke-width="0.4"/>
<path d="M350.45000000000005 599.5V606.2M347.45000000000005 599.5H353.45000000000005" stroke="#d8d8d8" stroke-width="0.5" fill="none" opacity="0.75"/>
<path d="M350.45000000000005 585.8V592.5M347.45000000000005 585.8H353.45000000000005" stroke="#d8d8d8" stroke-width="0.5" fill="none" opacity="0.75"/>
<path d="M350.45000000000005 578.6V585.3M347.45000000000005 578.6H353.45000000000005" stroke="#d8d8d8" stroke-width="0.5" fill="none" opacity="0.75"/>
<path d="M350.45000000000005 552.5V559.2M347.45000000000005 552.5H353.45000000000005" stroke="#d8d8d8" stroke-width="0.5" fill="none" opacity="0.75"/>
<path d="M350.45000000000005 529.4V536.1M347.45000000000005 529.4H353.45000000000005" stroke="#d8d8d8" stroke-width="0.5" fill="none" opacity="0.75"/>
<path d="M350.45000000000005 512.1V506.3M347.25000000000006 506.3H353.65000000000003" stroke="#9a9a9a" stroke-width="0.5" fill="none"/>
<rect x="363.2" y="618.30" width="12.7" height="70.40" fill="#00b9c0" stroke="#333" stroke-width="0.4"/>
<rect x="363.2" y="603.50" width="12.7" height="14.80" fill="#6b8fd2" stroke="#333" stroke-width="0.4"/>
<rect x="363.2" y="590.40" width="12.7" height="13.10" fill="#f1716a" stroke="#333" stroke-width="0.4"/>
<rect x="363.2" y="566.20" width="12.7" height="24.20" fill="#b59c2c" stroke="#333" stroke-width="0.4"/>
<rect x="363.2" y="537.30" width="12.7" height="28.90" fill="#00a94c" stroke="#333" stroke-width="0.4"/>
<rect x="363.2" y="513.70" width="12.7" height="23.60" fill="#cd68b9" stroke="#333" stroke-width="0.4"/>
<rect x="363.2" y="512.10" width="12.7" height="1.60" fill="#c4c4c4" stroke="#333" stroke-width="0.4"/>
<path d="M369.55 610.1V618.3M366.55 610.1H372.55" stroke="#d8d8d8" stroke-width="0.5" fill="none" opacity="0.75"/>
<path d="M369.55 595.3V603.5M366.55 595.3H372.55" stroke="#d8d8d8" stroke-width="0.5" fill="none" opacity="0.75"/>
<path d="M369.55 582.2V590.4M366.55 582.2H372.55" stroke="#d8d8d8" stroke-width="0.5" fill="none" opacity="0.75"/>
<path d="M369.55 558.0V566.2M366.55 558.0H372.55" stroke="#d8d8d8" stroke-width="0.5" fill="none" opacity="0.75"/>
<path d="M369.55 529.1V537.3M366.55 529.1H372.55" stroke="#d8d8d8" stroke-width="0.5" fill="none" opacity="0.75"/>
<path d="M369.55 512.1V505.5M366.35 505.5H372.75" stroke="#9a9a9a" stroke-width="0.5" fill="none"/>
<path d="M322.8 518.4H325M360.9 518.4H363.2" stroke="#555" stroke-width="0.5"/>
<text transform="translate(350.45,541.00) scale(1.08,1)" y="1.73" font-size="4.81" text-anchor="middle" fill="#111" stroke="#111" stroke-width="0.08" font-weight="bold">0.04</text>
<text transform="translate(350.45,597.10) scale(1.08,1)" y="1.73" font-size="4.81" text-anchor="middle" fill="#111" stroke="#111" stroke-width="0.08" font-weight="bold">0.02</text>
<text transform="translate(350.45,610.80) scale(1.08,1)" y="1.73" font-size="4.81" text-anchor="middle" fill="#111" stroke="#111" stroke-width="0.08" font-weight="bold">0.02</text>
<path d="M331.35 688.7V691.3000000000001" stroke="#555" stroke-width="0.5"/>
<text transform="translate(331.35,693.60) rotate(-90) scale(1.08,1)" y="2.40" font-size="6.67" text-anchor="end" fill="#111" stroke="#111" stroke-width="0.16">C01D01</text>
<path d="M350.45 688.7V691.3000000000001" stroke="#555" stroke-width="0.5"/>
<text transform="translate(350.45,693.60) rotate(-90) scale(1.08,1)" y="2.40" font-size="6.67" text-anchor="end" fill="#111" stroke="#111" stroke-width="0.16">C01D02</text>
<path d="M369.55 688.7V691.3000000000001" stroke="#555" stroke-width="0.5"/>
<text transform="translate(369.55,693.60) rotate(-90) scale(1.08,1)" y="2.40" font-size="6.67" text-anchor="end" fill="#111" stroke="#111" stroke-width="0.16">C01D08</text>
<text transform="translate(291.70,604.70) rotate(-90) scale(1.08,1)" y="2.47" font-size="6.85" text-anchor="middle" fill="#111" stroke="#111" stroke-width="0.16">Total PBMCs (%)</text>
<text transform="translate(387.90,521.30) scale(1.08,1)" y="2.53" font-size="7.04" text-anchor="start" fill="#111" stroke="#111" stroke-width="0.16">Cell subset</text>
<rect x="388.9" y="530.30" width="8" height="8" fill="#00b9c0" stroke="#666" stroke-width="0.4"/>
<text transform="translate(400.30,534.30) scale(1.08,1)" y="2.53" font-size="7.04" text-anchor="start" fill="#111" stroke="#111" stroke-width="0.16">Monocytes</text>
<rect x="388.9" y="547.65" width="8" height="8" fill="#b59c2c" stroke="#666" stroke-width="0.4"/>
<text transform="translate(400.30,551.65) scale(1.08,1)" y="2.53" font-size="7.04" text-anchor="start" fill="#111" stroke="#111" stroke-width="0.16">CD4<tspan font-size="4.4" dy="-2.8">+</tspan><tspan dy="2.8"> T cells</tspan></text>
<rect x="388.9" y="565.00" width="8" height="8" fill="#6b8fd2" stroke="#666" stroke-width="0.4"/>
<text transform="translate(400.30,569.00) scale(1.08,1)" y="2.53" font-size="7.04" text-anchor="start" fill="#111" stroke="#111" stroke-width="0.16">NK cells</text>
<rect x="388.9" y="582.35" width="8" height="8" fill="#00a94c" stroke="#666" stroke-width="0.4"/>
<text transform="translate(400.30,586.35) scale(1.08,1)" y="2.53" font-size="7.04" text-anchor="start" fill="#111" stroke="#111" stroke-width="0.16">CD8<tspan font-size="4.4" dy="-2.8">+</tspan><tspan dy="2.8"> T cells</tspan></text>
<rect x="388.9" y="599.70" width="8" height="8" fill="#f1716a" stroke="#666" stroke-width="0.4"/>
<text transform="translate(400.30,603.70) scale(1.08,1)" y="2.53" font-size="7.04" text-anchor="start" fill="#111" stroke="#111" stroke-width="0.16">B cells</text>
<rect x="388.9" y="617.05" width="8" height="8" fill="#cd68b9" stroke="#666" stroke-width="0.4"/>
<text transform="translate(400.30,621.05) scale(1.08,1)" y="2.53" font-size="7.04" text-anchor="start" fill="#111" stroke="#111" stroke-width="0.16">Other T cells</text>
<rect x="388.9" y="634.40" width="8" height="8" fill="#c4c4c4" stroke="#666" stroke-width="0.4"/>
<text transform="translate(400.30,638.40) scale(1.08,1)" y="2.53" font-size="7.04" text-anchor="start" fill="#111" stroke="#111" stroke-width="0.16">Others</text>
<rect x="498.4" y="501.2" width="16.6" height="121.6" fill="#d9e2f3"/>
<rect x="498.4" y="622.8" width="16.6" height="65.2" fill="#fbb913"/>
<text transform="translate(506.90,563.60) rotate(-90) scale(1.08,1)" y="2.57" font-size="7.13" text-anchor="middle" fill="#111" stroke="#111" stroke-width="0.16">Down 24h post-Tx</text>
<text transform="translate(506.90,654.70) rotate(-90) scale(1.08,1)" y="2.47" font-size="6.85" text-anchor="middle" fill="#111" stroke="#111" stroke-width="0.16">Up 24 h post-Tx</text>
<path d="M587.4 500.8V687.8H516.3" fill="none" stroke="#8e8e8e" stroke-width="0.7"/>
<path d="M587.4 505H590.6" stroke="#222" stroke-width="0.6"/>
<text transform="translate(593.90,505.00) scale(1.08,1)" y="2.48" font-size="6.90" text-anchor="start" fill="#111" stroke="#111" stroke-width="0.16">TCF7L2 targets</text>
<circle cx="523.3" cy="505" r="1.0" fill="#fde2da"/>
<circle cx="534.3" cy="505" r="2.6" fill="#f37e68"/>
<circle cx="546.0" cy="505" r="2.6" fill="#f37560"/>
<circle cx="557.8" cy="505" r="3.0" fill="#ef5a40"/>
<circle cx="569.7" cy="505" r="2.6" fill="#f37e68"/>
<circle cx="581.5" cy="505" r="2.9" fill="#f0604a"/>
<path d="M587.4 517.4H590.6" stroke="#222" stroke-width="0.6"/>
<text transform="translate(593.90,517.40) scale(1.08,1)" y="2.48" font-size="6.90" text-anchor="start" fill="#111" stroke="#111" stroke-width="0.16">EGR1 targets</text>
<circle cx="534.3" cy="517.4" r="3.0" fill="#f26a52"/>
<circle cx="546.0" cy="517.4" r="2.9" fill="#f26a52"/>
<circle cx="557.8" cy="517.4" r="3.2" fill="#f06048"/>
<circle cx="569.7" cy="517.4" r="2.7" fill="#f37058"/>
<circle cx="581.5" cy="517.4" r="2.6" fill="#f37560"/>
<path d="M587.4 529.9H590.6" stroke="#222" stroke-width="0.6"/>
<text transform="translate(593.90,529.90) scale(1.08,1)" y="2.48" font-size="6.90" text-anchor="start" fill="#111" stroke="#111" stroke-width="0.16">EZH2 targets</text>
<circle cx="534.3" cy="529.9" r="3.0" fill="#f0604a"/>
<circle cx="546.0" cy="529.9" r="2.6" fill="#f26a52"/>
<circle cx="557.8" cy="529.9" r="2.7" fill="#f0644c"/>
<circle cx="569.7" cy="529.9" r="2.4" fill="#f37058"/>
<circle cx="581.5" cy="529.9" r="1.6" fill="#f5907c"/>
<path d="M587.4 542.5H590.6" stroke="#222" stroke-width="0.6"/>
<text transform="translate(593.90,542.50) scale(1.08,1)" y="2.48" font-size="6.90" text-anchor="start" fill="#111" stroke="#111" stroke-width="0.16">CTNNB1 targets</text>
<circle cx="534.3" cy="542.5" r="2.4" fill="#f26a52"/>
<circle cx="546.0" cy="542.5" r="2.1" fill="#f37058"/>
<circle cx="557.8" cy="542.5" r="2.4" fill="#f0644c"/>
<circle cx="569.7" cy="542.5" r="2.2" fill="#f37058"/>
<circle cx="581.5" cy="542.5" r="1.9" fill="#f5806a"/>
<path d="M587.4 555.1H590.6" stroke="#222" stroke-width="0.6"/>
<text transform="translate(593.90,555.10) scale(1.08,1)" y="2.48" font-size="6.90" text-anchor="start" fill="#111" stroke="#111" stroke-width="0.16">TCF7 targets</text>
<circle cx="534.3" cy="555.1" r="1.8" fill="#f0644c"/>
<circle cx="546.0" cy="555.1" r="1.5" fill="#f0644c"/>
<circle cx="557.8" cy="555.1" r="1.8" fill="#f0604a"/>
<circle cx="569.7" cy="555.1" r="1.8" fill="#f26a52"/>
<circle cx="581.5" cy="555.1" r="1.4" fill="#f26a52"/>
<path d="M587.4 567.6H590.6" stroke="#222" stroke-width="0.6"/>
<text transform="translate(593.90,567.60) scale(1.08,1)" y="2.48" font-size="6.90" text-anchor="start" fill="#111" stroke="#111" stroke-width="0.16">STAT6 targets</text>
<circle cx="534.3" cy="567.6" r="3.0" fill="#f26a52"/>
<circle cx="546.0" cy="567.6" r="3.2" fill="#f06048"/>
<circle cx="557.8" cy="567.6" r="3.5" fill="#ee563c"/>
<circle cx="569.7" cy="567.6" r="2.7" fill="#f37560"/>
<circle cx="581.5" cy="567.6" r="1.6" fill="#f59580"/>
<path d="M587.4 580.1H590.6" stroke="#222" stroke-width="0.6"/>
<text transform="translate(593.90,580.10) scale(1.08,1)" y="2.48" font-size="6.90" text-anchor="start" fill="#111" stroke="#111" stroke-width="0.16">DNMT3a targeted TF</text>
<circle cx="534.3" cy="580.1" r="2.2" fill="#f37560"/>
<circle cx="546.0" cy="580.1" r="2.4" fill="#f06048"/>
<circle cx="557.8" cy="580.1" r="3.0" fill="#ec4a30"/>
<circle cx="569.7" cy="580.1" r="1.4" fill="#f5907c"/>
<circle cx="581.5" cy="580.1" r="2.2" fill="#f37560"/>
<path d="M587.4 592.7H590.6" stroke="#222" stroke-width="0.6"/>
<text transform="translate(593.90,592.70) scale(1.08,1)" y="2.48" font-size="6.90" text-anchor="start" fill="#111" stroke="#111" stroke-width="0.16">T<tspan font-size="4.6" dy="1.6">reg</tspan><tspan dy="-1.6"> module</tspan></text>
<circle cx="534.3" cy="592.7" r="2.6" fill="#f37560"/>
<circle cx="546.0" cy="592.7" r="3.0" fill="#f06048"/>
<circle cx="557.8" cy="592.7" r="3.5" fill="#ec4a30"/>
<circle cx="569.7" cy="592.7" r="2.1" fill="#f5907c"/>
<circle cx="581.5" cy="592.7" r="2.6" fill="#f37058"/>
<path d="M587.4 605.2H590.6" stroke="#222" stroke-width="0.6"/>
<text transform="translate(593.90,605.20) scale(1.08,1)" y="2.48" font-size="6.90" text-anchor="start" fill="#111" stroke="#111" stroke-width="0.16">B cell module</text>
<circle cx="534.3" cy="605.2" r="2.6" fill="#f58a74"/>
<circle cx="546.0" cy="605.2" r="2.9" fill="#f5806a"/>
<circle cx="557.8" cy="605.2" r="3.2" fill="#f37560"/>
<circle cx="569.7" cy="605.2" r="1.9" fill="#f5907c"/>
<circle cx="581.5" cy="605.2" r="3.7" fill="#e82a20"/>
<path d="M587.4 617.8H590.6" stroke="#222" stroke-width="0.6"/>
<text transform="translate(593.90,617.80) scale(1.08,1)" y="2.48" font-size="6.90" text-anchor="start" fill="#111" stroke="#111" stroke-width="0.16">WNT signaling module</text>
<circle cx="534.3" cy="617.8" r="3.7" fill="#f26a52"/>
<circle cx="546.0" cy="617.8" r="3.8" fill="#f06048"/>
<circle cx="557.8" cy="617.8" r="3.8" fill="#f06048"/>
<circle cx="569.7" cy="617.8" r="3.2" fill="#f37560"/>
<path d="M587.4 630.4H590.6" stroke="#222" stroke-width="0.6"/>
<text transform="translate(593.90,630.40) scale(1.08,1)" y="2.48" font-size="6.90" text-anchor="start" fill="#111" stroke="#111" stroke-width="0.16">Effector T cell module</text>
<circle cx="523.3" cy="630.4" r="4.0" fill="#e8301e"/>
<circle cx="534.3" cy="630.4" r="1.8" fill="#f7a592"/>
<circle cx="546.0" cy="630.4" r="1.3" fill="#f8b0a0"/>
<circle cx="557.8" cy="630.4" r="1.0" fill="#f9bfb0"/>
<circle cx="569.7" cy="630.4" r="2.4" fill="#f59580"/>
<path d="M587.4 642.9H590.6" stroke="#222" stroke-width="0.6"/>
<text transform="translate(593.90,642.90) scale(1.08,1)" y="2.48" font-size="6.90" text-anchor="start" fill="#111" stroke="#111" stroke-width="0.16">TLR4 signaling module</text>
<circle cx="523.3" cy="642.9" r="4.0" fill="#eb4a34"/>
<circle cx="534.3" cy="642.9" r="2.2" fill="#f8ab98"/>
<circle cx="546.0" cy="642.9" r="1.6" fill="#f8b0a0"/>
<circle cx="557.8" cy="642.9" r="1.8" fill="#f8b0a0"/>
<circle cx="569.7" cy="642.9" r="2.2" fill="#f8ab98"/>
<circle cx="581.5" cy="642.9" r="2.7" fill="#f7a08c"/>
<path d="M587.4 655.4H590.6" stroke="#222" stroke-width="0.6"/>
<text transform="translate(593.90,655.40) scale(1.08,1)" y="2.48" font-size="6.90" text-anchor="start" fill="#111" stroke="#111" stroke-width="0.16">TLR1/2 signaling module</text>
<circle cx="523.3" cy="655.4" r="4.0" fill="#e8301e"/>
<path d="M587.4 667.9H590.6" stroke="#222" stroke-width="0.6"/>
<text transform="translate(593.90,667.90) scale(1.08,1)" y="2.48" font-size="6.90" text-anchor="start" fill="#111" stroke="#111" stroke-width="0.16">Antiviral module</text>
<circle cx="523.3" cy="667.9" r="3.7" fill="#f07058"/>
<circle cx="534.3" cy="667.9" r="2.7" fill="#f4866e"/>
<circle cx="546.0" cy="667.9" r="2.1" fill="#f8ab98"/>
<circle cx="557.8" cy="667.9" r="1.9" fill="#f8b0a0"/>
<circle cx="569.7" cy="667.9" r="3.2" fill="#f27a62"/>
<circle cx="581.5" cy="667.9" r="2.2" fill="#f8ab98"/>
<path d="M587.4 680.7H590.6" stroke="#222" stroke-width="0.6"/>
<text transform="translate(593.90,680.70) scale(1.08,1)" y="2.48" font-size="6.90" text-anchor="start" fill="#111" stroke="#111" stroke-width="0.16">ISG module</text>
<circle cx="523.3" cy="680.7" r="4.0" fill="#e8301e"/>
<circle cx="534.3" cy="680.7" r="3.9" fill="#f7a08c"/>
<circle cx="546.0" cy="680.7" r="4.0" fill="#f9b5a5"/>
<circle cx="557.8" cy="680.7" r="3.9" fill="#fabfae"/>
<circle cx="569.7" cy="680.7" r="4.0" fill="#f5907c"/>
<circle cx="581.5" cy="680.7" r="3.9" fill="#fbc8ba"/>
<path d="M523.3 687.8V690.8" stroke="#222" stroke-width="0.6"/>
<text transform="translate(523.30,692.90) rotate(-90) scale(1.08,1)" y="2.47" font-size="6.85" text-anchor="end" fill="#111" stroke="#111" stroke-width="0.16">Monocytes</text>
<path d="M534.3 687.8V690.8" stroke="#222" stroke-width="0.6"/>
<text transform="translate(534.30,692.90) rotate(-90) scale(1.08,1)" y="2.47" font-size="6.85" text-anchor="end" fill="#111" stroke="#111" stroke-width="0.16">Other T cells</text>
<path d="M546.0 687.8V690.8" stroke="#222" stroke-width="0.6"/>
<text transform="translate(546.00,692.90) rotate(-90) scale(1.08,1)" y="2.47" font-size="6.85" text-anchor="end" fill="#111" stroke="#111" stroke-width="0.16">CD4<tspan font-size="4.4" dy="-2.8">+</tspan><tspan dy="2.8"> T cells</tspan></text>
<path d="M557.8 687.8V690.8" stroke="#222" stroke-width="0.6"/>
<text transform="translate(557.80,692.90) rotate(-90) scale(1.08,1)" y="2.47" font-size="6.85" text-anchor="end" fill="#111" stroke="#111" stroke-width="0.16">CD8<tspan font-size="4.4" dy="-2.8">+</tspan><tspan dy="2.8"> T cells</tspan></text>
<path d="M569.7 687.8V690.8" stroke="#222" stroke-width="0.6"/>
<text transform="translate(569.70,692.90) rotate(-90) scale(1.08,1)" y="2.47" font-size="6.85" text-anchor="end" fill="#111" stroke="#111" stroke-width="0.16">NK cells</text>
<path d="M581.5 687.8V690.8" stroke="#222" stroke-width="0.6"/>
<text transform="translate(581.50,692.90) rotate(-90) scale(1.08,1)" y="2.47" font-size="6.85" text-anchor="end" fill="#111" stroke="#111" stroke-width="0.16">B cells</text>
<text transform="translate(549.00,743.00) scale(1.08,1)" y="2.47" font-size="6.85" text-anchor="middle" fill="#111" stroke="#111" stroke-width="0.16">Cell subset</text>
<defs><linearGradient id="avg" x1="0" y1="0" x2="1" y2="0"><stop offset="0" stop-color="#e8301e"/><stop offset="1" stop-color="#fff4f0"/></linearGradient></defs>
<rect x="610.1" y="701.8" width="31.5" height="6.3" fill="url(#avg)"/>
<text transform="translate(611.20,714.00) scale(1.08,1)" y="2.07" font-size="5.74" text-anchor="middle" fill="#111" stroke="#111" stroke-width="0.08">2</text>
<text transform="translate(618.60,714.00) scale(1.08,1)" y="2.07" font-size="5.74" text-anchor="middle" fill="#111" stroke="#111" stroke-width="0.08">1</text>
<text transform="translate(626.40,714.00) scale(1.08,1)" y="2.07" font-size="5.74" text-anchor="middle" fill="#111" stroke="#111" stroke-width="0.08">0</text>
<text transform="translate(634.60,714.00) scale(1.08,1)" y="2.07" font-size="5.74" text-anchor="middle" fill="#111" stroke="#111" stroke-width="0.08">−1</text>
<text transform="translate(624.20,723.40) scale(1.08,1)" y="2.47" font-size="6.85" text-anchor="middle" fill="#111" stroke="#111" stroke-width="0.16">Average</text>
<text transform="translate(624.20,731.40) scale(1.08,1)" y="2.47" font-size="6.85" text-anchor="middle" fill="#111" stroke="#111" stroke-width="0.16">expression</text>
<circle cx="658.1" cy="704.3" r="1.5" fill="#000"/>
<circle cx="665.3" cy="704.3" r="2.3" fill="#000"/>
<circle cx="672.4" cy="704.3" r="3.1" fill="#000"/>
<text transform="translate(657.80,714.00) scale(1.08,1)" y="2.07" font-size="5.74" text-anchor="middle" fill="#111" stroke="#111" stroke-width="0.08">25</text>
<text transform="translate(665.20,714.00) scale(1.08,1)" y="2.07" font-size="5.74" text-anchor="middle" fill="#111" stroke="#111" stroke-width="0.08">50</text>
<text transform="translate(675.00,714.00) scale(1.08,1)" y="2.07" font-size="5.74" text-anchor="middle" fill="#111" stroke="#111" stroke-width="0.08">75</text>
<text transform="translate(667.70,723.40) scale(1.08,1)" y="2.47" font-size="6.85" text-anchor="middle" fill="#111" stroke="#111" stroke-width="0.16">Percent</text>
<text transform="translate(667.70,731.40) scale(1.08,1)" y="2.47" font-size="6.85" text-anchor="middle" fill="#111" stroke="#111" stroke-width="0.16">expressed</text>
<rect x="40.0" y="758.5" width="68.8" height="45.4" rx="1.8" fill="#fff" stroke="#3d3d3d" stroke-width="2.9"/>
<path d="M70.5 805H75.9V815.6H70.5Z" fill="#3d3d3d"/>
<path d="M66.2 815.4H79L84 820.7H61Z" fill="#3d3d3d"/>
<path d="M59.6 775.3A15.6 15.6 0 0 1 79.5 767.4" fill="none" stroke="#2f62a3" stroke-width="1.0"/>
<path d="M82.9 768.8L80.4 765.4L78.7 769.5Z" fill="#2f62a3"/>
<path d="M89.1 784.1A15.6 15.6 0 0 1 85.3 792.3" fill="none" stroke="#4b8230" stroke-width="1.0"/>
<path d="M82.9 795.0L86.9 793.8L83.7 790.9Z" fill="#4b8230"/>
<path d="M78.5 796.7A15.6 15.6 0 0 1 58.3 784.1" fill="none" stroke="#f6b91d" stroke-width="1.0"/>
<path d="M57.8 780.5L56.1 784.4L60.4 783.8Z" fill="#f6b91d"/>
<path d="M64.9 772.5V791.4H84" fill="none" stroke="#c8c8c8" stroke-width="0.4" stroke-dasharray="0.7 0.7"/>
<ellipse cx="68.9" cy="776.1" rx="1.4" ry="1.0" fill="#63c2b0" opacity="0.8"/>
<ellipse cx="73.7" cy="779.7" rx="2.4" ry="2.7" fill="#a9b2e0" opacity="0.8"/>
<ellipse cx="80.3" cy="778.3" rx="1.5" ry="2.0" fill="#e58ab8" opacity="0.8"/>
<ellipse cx="75.6" cy="773.9" rx="0.9" ry="0.8" fill="#b58ad8" opacity="0.8"/>
<ellipse cx="78.8" cy="785.6" rx="2.2" ry="1.1" fill="#e08c84" opacity="0.8"/>
<ellipse cx="70.8" cy="787.8" rx="1.1" ry="0.9" fill="#ecd35a" opacity="0.8"/>
<ellipse cx="69.3" cy="781.2" rx="1.2" ry="1.6" fill="#9cc8ec" opacity="0.8"/>
<ellipse cx="76.5" cy="783.2" rx="1.2" ry="1.0" fill="#c9b4e4" opacity="0.8"/>
<circle cx="91.2" cy="774.6" r="7" fill="#2b2b2b"/>
<path d="M86.2 772.2c0.8-2.2 2.6-3.6 4.6-4.1l1.6 1.3-1.4 1.9 0.9 1.7-2.1 0.9-0.6 2.2-1.7-1.2zM90.3 777.3l2.6-1.3 2 1 0.3 2.3-2.3 1.9-2-1.3zM94.6 769.6l1.9 1.6-0.8 1.2-1.6-0.9z" fill="#f2f2f2"/>
<defs><linearGradient id="cyl" x1="0" y1="0" x2="1" y2="0"><stop offset="0" stop-color="#b4b4b4"/><stop offset="0.3" stop-color="#dcdcdc"/><stop offset="0.65" stop-color="#cdcdcd"/><stop offset="1" stop-color="#a6a6a6"/></linearGradient></defs>
<path d="M100.0 785.8V818.4A12.799999999999997 4.4 0 0 0 125.6 818.4V785.8Z" fill="url(#cyl)"/>
<path d="M100.0 794.3A12.799999999999997 4.4 0 0 0 125.6 794.3V796.6999999999999A12.799999999999997 4.4 0 0 1 100.0 796.6999999999999Z" fill="#8c8c8c"/>
<path d="M100.0 805.6A12.799999999999997 4.4 0 0 0 125.6 805.6V808.0A12.799999999999997 4.4 0 0 1 100.0 808.0Z" fill="#8c8c8c"/>
<ellipse cx="112.8" cy="785.8" rx="12.799999999999997" ry="4.4" fill="#dedede"/>
<path d="M125.6 789.8H155.9V813.8H180" fill="none" stroke="#111" stroke-width="0.9"/>
<path d="M183.3 813.8L179.3 812.1V815.5Z" fill="#111"/>
<text transform="translate(96.50,836.80) scale(1.08,1)" y="2.50" font-size="6.94" text-anchor="middle" fill="#111" stroke="#111" stroke-width="0.16">SCimilarity: map modules to ~1,100</text>
<text transform="translate(96.50,846.00) scale(1.08,1)" y="2.50" font-size="6.94" text-anchor="middle" fill="#111" stroke="#111" stroke-width="0.16">publicly available blood sc transcriptomes</text>
<g stroke-width="1" fill="none" shape-rendering="crispEdges">
<rect x="184.7" y="771.6" width="110.90" height="10.5" fill="#000" shape-rendering="auto"/>
<text transform="translate(243.30,765.10) scale(1.08,1)" y="2.27" font-size="6.30" text-anchor="middle" fill="#111" stroke="#111" stroke-width="0.16">Healthy</text>
<path d="M185.50 786.7V797.8" stroke="#3a3fa0"/>
<path d="M185.50 797.8V808.8" stroke="#3a3fa0"/>
<path d="M185.50 808.8V819.8" stroke="#ec2824"/>
<path d="M185.50 819.8V852.8" stroke="#ec2824"/>
<path d="M186.50 786.7V797.8" stroke="#3a3fa0"/>
<path d="M186.50 797.8V808.8" stroke="#3a3fa0"/>
<path d="M186.50 808.8V819.8" stroke="#ec2824"/>
<path d="M186.50 819.8V852.8" stroke="#ec2824"/>
<path d="M187.50 786.7V797.8" stroke="#3a3fa0"/>
<path d="M187.50 797.8V808.8" stroke="#3a3fa0"/>
<path d="M187.50 808.8V819.8" stroke="#ec2824"/>
<path d="M187.50 819.8V852.8" stroke="#ec2824"/>
<path d="M188.50 786.7V797.8" stroke="#3a3fa0"/>
<path d="M188.50 797.8V808.8" stroke="#3a3fa0"/>
<path d="M188.50 808.8V819.8" stroke="#ec2824"/>
<path d="M188.50 819.8V852.8" stroke="#ec2824"/>
<path d="M189.50 786.7V797.8" stroke="#3a3fa0"/>
<path d="M189.50 797.8V808.8" stroke="#3a3fa0"/>
<path d="M189.50 808.8V819.8" stroke="#ec2824"/>
<path d="M189.50 819.8V852.8" stroke="#ec2824"/>
<path d="M190.50 786.7V797.8" stroke="#3a3fa0"/>
<path d="M190.50 797.8V808.8" stroke="#3a3fa0"/>
<path d="M190.50 808.8V819.8" stroke="#ec2824"/>
<path d="M190.50 819.8V852.8" stroke="#ec2824"/>
<path d="M191.50 786.7V797.8" stroke="#7175be"/>
<path d="M191.50 797.8V808.8" stroke="#7175be"/>
<path d="M191.50 808.8V819.8" stroke="#f79898"/>
<path d="M191.50 819.8V852.8" stroke="#ffeded"/>
<path d="M192.50 786.7V797.8" stroke="#ee302c"/>
<path d="M192.50 797.8V808.8" stroke="#a2466e"/>
<path d="M192.50 808.8V819.8" stroke="#f89e9e"/>
<path d="M192.50 819.8V852.8" stroke="#fdeff1"/>
<path d="M193.50 786.7V797.8" stroke="#3e44a4"/>
<path d="M193.50 797.8V808.8" stroke="#3e44a4"/>
<path d="M193.50 808.8V819.8" stroke="#f8a4a4"/>
<path d="M193.50 819.8V852.8" stroke="#fcf1f4"/>
<path d="M194.50 786.7V797.8" stroke="#4449a7"/>
<path d="M194.50 797.8V808.8" stroke="#4449a7"/>
<path d="M194.50 808.8V819.8" stroke="#f9aaaa"/>
<path d="M194.50 819.8V852.8" stroke="#fbf2f7"/>
<path d="M195.50 786.7V797.8" stroke="#5358af"/>
<path d="M195.50 797.8V808.8" stroke="#5358af"/>
<path d="M195.50 808.8V819.8" stroke="#f9b0b0"/>
<path d="M195.50 819.8V852.8" stroke="#f9f4fa"/>
<path d="M196.50 786.7V797.8" stroke="#585db1"/>
<path d="M196.50 797.8V808.8" stroke="#585db1"/>
<path d="M196.50 808.8V819.8" stroke="#fab6b6"/>
<path d="M196.50 819.8V852.8" stroke="#f7f2f9"/>
<path d="M197.50 786.7V797.8" stroke="#5b60b3"/>
<path d="M197.50 797.8V808.8" stroke="#a76890"/>
<path d="M197.50 808.8V819.8" stroke="#fabcbc"/>
<path d="M197.50 819.8V852.8" stroke="#f4f0f9"/>
<path d="M198.50 786.7V797.8" stroke="#f57a79"/>
<path d="M198.50 797.8V808.8" stroke="#f57a79"/>
<path d="M198.50 808.8V819.8" stroke="#fbc2c2"/>
<path d="M198.50 819.8V852.8" stroke="#f2eef8"/>
<path d="M199.50 786.7V797.8" stroke="#6569b8"/>
<path d="M199.50 797.8V808.8" stroke="#ab5e84"/>
<path d="M199.50 808.8V819.8" stroke="#fbc8c8"/>
<path d="M199.50 819.8V852.8" stroke="#f7f6fb"/>
<path d="M200.50 786.7V797.8" stroke="#8c8fcc"/>
<path d="M200.50 797.8V808.8" stroke="#989ad2"/>
<path d="M200.50 808.8V819.8" stroke="#fbcece"/>
<path d="M200.50 819.8V830.8" stroke="#f6f4fb"/>
<path d="M200.50 830.8V841.8" stroke="#edeaf7"/>
<path d="M200.50 841.8V852.8" stroke="#f6f4fb"/>
<path d="M201.50 786.7V797.8" stroke="#4c51ab"/>
<path d="M201.50 797.8V808.8" stroke="#4c51ab"/>
<path d="M201.50 808.8V819.8" stroke="#fcd4d4"/>
<path d="M201.50 819.8V852.8" stroke="#eae8f6"/>
<path d="M202.50 786.7V797.8" stroke="#aaabdb"/>
<path d="M202.50 797.8V808.8" stroke="#aaabdb"/>
<path d="M202.50 808.8V819.8" stroke="#fcdada"/>
<path d="M202.50 819.8V852.8" stroke="#e8e6f5"/>
<path d="M203.50 786.7V797.8" stroke="#8689c9"/>
<path d="M203.50 797.8V808.8" stroke="#6a6eba"/>
<path d="M203.50 808.8V819.8" stroke="#fde0e0"/>
<path d="M203.50 819.8V830.8" stroke="#f2f2fa"/>
<path d="M203.50 830.8V841.8" stroke="#e5e4f5"/>
<path d="M203.50 841.8V852.8" stroke="#e5e4f5"/>
<path d="M204.50 786.7V797.8" stroke="#5459af"/>
<path d="M204.50 797.8V808.8" stroke="#666bb8"/>
<path d="M204.50 808.8V819.8" stroke="#fde3e4"/>
<path d="M204.50 819.8V852.8" stroke="#e3e2f4"/>
<path d="M205.50 786.7V797.8" stroke="#5c61b3"/>
<path d="M205.50 797.8V808.8" stroke="#6469b7"/>
<path d="M205.50 808.8V819.8" stroke="#fce6e7"/>
<path d="M205.50 819.8V852.8" stroke="#e1e1f3"/>
<path d="M206.50 786.7V797.8" stroke="#999bd2"/>
<path d="M206.50 797.8V808.8" stroke="#8a8cca"/>
<path d="M206.50 808.8V819.8" stroke="#fbe8ea"/>
<path d="M206.50 819.8V852.8" stroke="#dfdff3"/>
<path d="M207.50 786.7V797.8" stroke="#d16273"/>
<path d="M207.50 797.8V808.8" stroke="#d16273"/>
<path d="M207.50 808.8V819.8" stroke="#fbebed"/>
<path d="M207.50 819.8V852.8" stroke="#dedef2"/>
<path d="M208.50 786.7V797.8" stroke="#abacdb"/>
<path d="M208.50 797.8V808.8" stroke="#abacdb"/>
<path d="M208.50 808.8V819.8" stroke="#faedf0"/>
<path d="M208.50 819.8V852.8" stroke="#dcdcf1"/>
<path d="M209.50 786.7V797.8" stroke="#7d80c4"/>
<path d="M209.50 797.8V808.8" stroke="#7d80c4"/>
<path d="M209.50 808.8V819.8" stroke="#faf0f4"/>
<path d="M209.50 819.8V852.8" stroke="#dadaf1"/>
<path d="M210.50 786.7V797.8" stroke="#777ac1"/>
<path d="M210.50 797.8V808.8" stroke="#b36183"/>
<path d="M210.50 808.8V819.8" stroke="#f9f2f7"/>
<path d="M210.50 819.8V852.8" stroke="#d9d9f0"/>
<path d="M211.50 786.7V797.8" stroke="#8689c9"/>
<path d="M211.50 797.8V808.8" stroke="#bd84a4"/>
<path d="M211.50 808.8V819.8" stroke="#f8f5fa"/>
<path d="M211.50 819.8V852.8" stroke="#d7d7ef"/>
<path d="M212.50 786.7V797.8" stroke="#b591b6"/>
<path d="M212.50 797.8V808.8" stroke="#8474b2"/>
<path d="M212.50 808.8V819.8" stroke="#f7f5fc"/>
<path d="M212.50 819.8V852.8" stroke="#d5d5ee"/>
<path d="M213.50 786.7V797.8" stroke="#878ac9"/>
<path d="M213.50 797.8V808.8" stroke="#7377bf"/>
<path d="M213.50 808.8V819.8" stroke="#f6f4fb"/>
<path d="M213.50 819.8V852.8" stroke="#d4d4ee"/>
<path d="M214.50 786.7V797.8" stroke="#d98696"/>
<path d="M214.50 797.8V808.8" stroke="#8e689e"/>
<path d="M214.50 808.8V819.8" stroke="#f4f2fa"/>
<path d="M214.50 819.8V852.8" stroke="#d2d2ed"/>
<path d="M215.50 786.7V797.8" stroke="#6c70bb"/>
<path d="M215.50 797.8V808.8" stroke="#b07297"/>
<path d="M215.50 808.8V819.8" stroke="#f2f1fa"/>
<path d="M215.50 819.8V852.8" stroke="#d1d1ec"/>
<path d="M216.50 786.7V797.8" stroke="#8a8dcb"/>
<path d="M216.50 797.8V808.8" stroke="#8a8dcb"/>
<path d="M216.50 808.8V819.8" stroke="#f0eff9"/>
<path d="M216.50 819.8V852.8" stroke="#e7e7f5"/>
<path d="M217.50 786.7V797.8" stroke="#9d9fd4"/>
<path d="M217.50 797.8V808.8" stroke="#c6738c"/>
<path d="M217.50 808.8V819.8" stroke="#efedf9"/>
<path d="M217.50 819.8V852.8" stroke="#cdcdeb"/>
<path d="M218.50 786.7V797.8" stroke="#9496d0"/>
<path d="M218.50 797.8V808.8" stroke="#8487c7"/>
<path d="M218.50 808.8V819.8" stroke="#edecf8"/>
<path d="M218.50 819.8V852.8" stroke="#ccccea"/>
<path d="M219.50 786.7V797.8" stroke="#a2a4d7"/>
<path d="M219.50 797.8V808.8" stroke="#787cc1"/>
<path d="M219.50 808.8V819.8" stroke="#ebeaf7"/>
<path d="M219.50 819.8V852.8" stroke="#ccccea"/>
<path d="M220.50 786.7V797.8" stroke="#f0413e"/>
<path d="M220.50 797.8V808.8" stroke="#f0413e"/>
<path d="M220.50 808.8V819.8" stroke="#e9e9f7"/>
<path d="M220.50 819.8V852.8" stroke="#ccccea"/>
<path d="M221.50 786.7V797.8" stroke="#cd5c6f"/>
<path d="M221.50 797.8V808.8" stroke="#de4a52"/>
<path d="M221.50 808.8V819.8" stroke="#e8e7f6"/>
<path d="M221.50 819.8V852.8" stroke="#ccccea"/>
<path d="M222.50 786.7V797.8" stroke="#7376bf"/>
<path d="M222.50 797.8V808.8" stroke="#6165b6"/>
<path d="M222.50 808.8V819.8" stroke="#e6e5f5"/>
<path d="M222.50 819.8V852.8" stroke="#cbcbea"/>
<path d="M223.50 786.7V797.8" stroke="#8385c6"/>
<path d="M223.50 797.8V808.8" stroke="#9092cd"/>
<path d="M223.50 808.8V819.8" stroke="#e4e4f5"/>
<path d="M223.50 819.8V852.8" stroke="#cbcbea"/>
<path d="M224.50 786.7V797.8" stroke="#4b50aa"/>
<path d="M224.50 797.8V808.8" stroke="#4d52ab"/>
<path d="M224.50 808.8V819.8" stroke="#e2e2f4"/>
<path d="M224.50 819.8V852.8" stroke="#cbcbea"/>
<path d="M225.50 786.7V797.8" stroke="#989ad1"/>
<path d="M225.50 797.8V808.8" stroke="#9b9dd3"/>
<path d="M225.50 808.8V819.8" stroke="#e1e1f3"/>
<path d="M225.50 819.8V852.8" stroke="#cbcbe9"/>
<path d="M226.50 786.7V797.8" stroke="#8d90cc"/>
<path d="M226.50 797.8V808.8" stroke="#8d90cc"/>
<path d="M226.50 808.8V819.8" stroke="#dfdff3"/>
<path d="M226.50 819.8V852.8" stroke="#cbcbe9"/>
<path d="M227.50 786.7V797.8" stroke="#6569b8"/>
<path d="M227.50 797.8V808.8" stroke="#6569b8"/>
<path d="M227.50 808.8V819.8" stroke="#ddddf2"/>
<path d="M227.50 819.8V852.8" stroke="#cbcbe9"/>
<path d="M228.50 786.7V797.8" stroke="#6e72bc"/>
<path d="M228.50 797.8V808.8" stroke="#6c70bb"/>
<path d="M228.50 808.8V819.8" stroke="#dbdbf1"/>
<path d="M228.50 819.8V852.8" stroke="#cbcbe9"/>
<path d="M229.50 786.7V797.8" stroke="#666ab8"/>
<path d="M229.50 797.8V808.8" stroke="#666ab8"/>
<path d="M229.50 808.8V819.8" stroke="#d9d9f0"/>
<path d="M229.50 819.8V852.8" stroke="#cacae9"/>
<path d="M230.50 786.7V797.8" stroke="#ee312d"/>
<path d="M230.50 797.8V808.8" stroke="#ee312d"/>
<path d="M230.50 808.8V819.8" stroke="#d8d8ef"/>
<path d="M230.50 819.8V852.8" stroke="#e4e4f4"/>
<path d="M231.50 786.7V797.8" stroke="#7b7ec2"/>
<path d="M231.50 797.8V808.8" stroke="#8e90cc"/>
<path d="M231.50 808.8V819.8" stroke="#d6d6ee"/>
<path d="M231.50 819.8V852.8" stroke="#cacae9"/>
<path d="M232.50 786.7V797.8" stroke="#7578c0"/>
<path d="M232.50 797.8V808.8" stroke="#7578c0"/>
<path d="M232.50 808.8V819.8" stroke="#d4d4ee"/>
<path d="M232.50 819.8V852.8" stroke="#cacae9"/>
<path d="M233.50 786.7V797.8" stroke="#7b7ec3"/>
<path d="M233.50 797.8V808.8" stroke="#5c61b3"/>
<path d="M233.50 808.8V819.8" stroke="#d2d2ed"/>
<path d="M233.50 819.8V852.8" stroke="#cacae9"/>
<path d="M234.50 786.7V797.8" stroke="#f15754"/>
<path d="M234.50 797.8V808.8" stroke="#bd718f"/>
<path d="M234.50 808.8V819.8" stroke="#d1d1ec"/>
<path d="M234.50 819.8V852.8" stroke="#cacae9"/>
<path d="M235.50 786.7V797.8" stroke="#f04542"/>
<path d="M235.50 797.8V808.8" stroke="#f04542"/>
<path d="M235.50 808.8V819.8" stroke="#cfcfeb"/>
<path d="M235.50 819.8V852.8" stroke="#cacae9"/>
<path d="M236.50 786.7V797.8" stroke="#825d9a"/>
<path d="M236.50 797.8V808.8" stroke="#825d9a"/>
<path d="M236.50 808.8V819.8" stroke="#cdcdea"/>
<path d="M236.50 819.8V852.8" stroke="#c9c9e9"/>
<path d="M237.50 786.7V797.8" stroke="#f1514d"/>
<path d="M237.50 797.8V808.8" stroke="#9c4e7a"/>
<path d="M237.50 808.8V819.8" stroke="#cbcbea"/>
<path d="M237.50 819.8V852.8" stroke="#c9c9e9"/>
<path d="M238.50 786.7V797.8" stroke="#ee3430"/>
<path d="M238.50 797.8V808.8" stroke="#ef4440"/>
<path d="M238.50 808.8V819.8" stroke="#cacae9"/>
<path d="M238.50 819.8V852.8" stroke="#c9c9e9"/>
<path d="M239.50 786.7V797.8" stroke="#ef413e"/>
<path d="M239.50 797.8V808.8" stroke="#f15451"/>
<path d="M239.50 808.8V819.8" stroke="#c8c8e8"/>
<path d="M239.50 819.8V852.8" stroke="#c9c9e9"/>
<path d="M240.50 786.7V797.8" stroke="#f47371"/>
<path d="M240.50 797.8V808.8" stroke="#f47371"/>
<path d="M240.50 808.8V819.8" stroke="#c6c6e7"/>
<path d="M240.50 819.8V852.8" stroke="#c9c9e8"/>
<path d="M241.50 786.7V797.8" stroke="#696dba"/>
<path d="M241.50 797.8V808.8" stroke="#7477bf"/>
<path d="M241.50 808.8V819.8" stroke="#c5c5e7"/>
<path d="M241.50 819.8V830.8" stroke="#e4e4f4"/>
<path d="M241.50 830.8V841.8" stroke="#c9c9e8"/>
<path d="M241.50 841.8V852.8" stroke="#e4e4f4"/>
<path d="M242.50 786.7V797.8" stroke="#bc5d79"/>
<path d="M242.50 797.8V808.8" stroke="#bc5d79"/>
<path d="M242.50 808.8V819.8" stroke="#c4c4e6"/>
<path d="M242.50 819.8V852.8" stroke="#c9c9e8"/>
<path d="M243.50 786.7V797.8" stroke="#ef3834"/>
<path d="M243.50 797.8V808.8" stroke="#a54c73"/>
<path d="M243.50 808.8V819.8" stroke="#c2c2e6"/>
<path d="M243.50 819.8V852.8" stroke="#c8c8e8"/>
<path d="M244.50 786.7V797.8" stroke="#f26360"/>
<path d="M244.50 797.8V808.8" stroke="#f04c49"/>
<path d="M244.50 808.8V819.8" stroke="#c1c1e5"/>
<path d="M244.50 819.8V852.8" stroke="#c8c8e8"/>
<path d="M245.50 786.7V797.8" stroke="#f1524f"/>
<path d="M245.50 797.8V808.8" stroke="#f15350"/>
<path d="M245.50 808.8V819.8" stroke="#bfbfe4"/>
<path d="M245.50 819.8V852.8" stroke="#c8c8e8"/>
<path d="M246.50 786.7V797.8" stroke="#f14d4a"/>
<path d="M246.50 797.8V808.8" stroke="#f14d4a"/>
<path d="M246.50 808.8V819.8" stroke="#bebee4"/>
<path d="M246.50 819.8V852.8" stroke="#c8c8e8"/>
<path d="M247.50 786.7V797.8" stroke="#4d53ab"/>
<path d="M247.50 797.8V808.8" stroke="#a0638e"/>
<path d="M247.50 808.8V819.8" stroke="#bdbde3"/>
<path d="M247.50 819.8V852.8" stroke="#c8c8e8"/>
<path d="M248.50 786.7V797.8" stroke="#a1a2d6"/>
<path d="M248.50 797.8V808.8" stroke="#cb93ac"/>
<path d="M248.50 808.8V819.8" stroke="#bbbbe2"/>
<path d="M248.50 819.8V852.8" stroke="#c8c8e8"/>
<path d="M249.50 786.7V797.8" stroke="#f1514e"/>
<path d="M249.50 797.8V808.8" stroke="#f25c5a"/>
<path d="M249.50 808.8V819.8" stroke="#babae2"/>
<path d="M249.50 819.8V852.8" stroke="#e4e4f4"/>
<path d="M250.50 786.7V797.8" stroke="#f15956"/>
<path d="M250.50 797.8V808.8" stroke="#f26562"/>
<path d="M250.50 808.8V819.8" stroke="#b8b8e1"/>
<path d="M250.50 819.8V852.8" stroke="#c7c7e8"/>
<path d="M251.50 786.7V797.8" stroke="#f25f5c"/>
<path d="M251.50 797.8V808.8" stroke="#f25f5c"/>
<path d="M251.50 808.8V819.8" stroke="#b7b7e1"/>
<path d="M251.50 819.8V852.8" stroke="#c7c7e8"/>
<path d="M252.50 786.7V797.8" stroke="#f47876"/>
<path d="M252.50 797.8V808.8" stroke="#d092a9"/>
<path d="M252.50 808.8V819.8" stroke="#b6b6e0"/>
<path d="M252.50 819.8V852.8" stroke="#c7c7e8"/>
<path d="M253.50 786.7V797.8" stroke="#f04c48"/>
<path d="M253.50 797.8V808.8" stroke="#f04c48"/>
<path d="M253.50 808.8V819.8" stroke="#b4b4df"/>
<path d="M253.50 819.8V852.8" stroke="#c7c7e8"/>
<path d="M254.50 786.7V797.8" stroke="#464ca8"/>
<path d="M254.50 797.8V808.8" stroke="#464ca8"/>
<path d="M254.50 808.8V819.8" stroke="#b3b3df"/>
<path d="M254.50 819.8V852.8" stroke="#c7c7e7"/>
<path d="M255.50 786.7V797.8" stroke="#7579c0"/>
<path d="M255.50 797.8V808.8" stroke="#7579c0"/>
<path d="M255.50 808.8V819.8" stroke="#b1b1de"/>
<path d="M255.50 819.8V852.8" stroke="#c7c7e7"/>
<path d="M256.50 786.7V797.8" stroke="#f04d49"/>
<path d="M256.50 797.8V808.8" stroke="#f04d49"/>
<path d="M256.50 808.8V819.8" stroke="#b0b0de"/>
<path d="M256.50 819.8V852.8" stroke="#c7c7e7"/>
<path d="M257.50 786.7V797.8" stroke="#f26361"/>
<path d="M257.50 797.8V808.8" stroke="#f26361"/>
<path d="M257.50 808.8V819.8" stroke="#afafdd"/>
<path d="M257.50 819.8V852.8" stroke="#c6c6e7"/>
<path d="M258.50 786.7V797.8" stroke="#f2605d"/>
<path d="M258.50 797.8V808.8" stroke="#f04f4b"/>
<path d="M258.50 808.8V819.8" stroke="#adaddc"/>
<path d="M258.50 819.8V852.8" stroke="#c6c6e7"/>
<path d="M259.50 786.7V797.8" stroke="#ee322e"/>
<path d="M259.50 797.8V808.8" stroke="#ee322e"/>
<path d="M259.50 808.8V819.8" stroke="#acacdc"/>
<path d="M259.50 819.8V852.8" stroke="#c6c6e7"/>
<path d="M260.50 786.7V797.8" stroke="#7c62a1"/>
<path d="M260.50 797.8V808.8" stroke="#7c62a1"/>
<path d="M260.50 808.8V819.8" stroke="#aaaadb"/>
<path d="M260.50 819.8V852.8" stroke="#c6c6e7"/>
<path d="M261.50 786.7V797.8" stroke="#f79c9b"/>
<path d="M261.50 797.8V808.8" stroke="#f79c9b"/>
<path d="M261.50 808.8V819.8" stroke="#a9a9da"/>
<path d="M261.50 819.8V852.8" stroke="#c6c6e7"/>
<path d="M262.50 786.7V797.8" stroke="#ee3b37"/>
<path d="M262.50 797.8V808.8" stroke="#f04b47"/>
<path d="M262.50 808.8V819.8" stroke="#a8a8da"/>
<path d="M262.50 819.8V852.8" stroke="#c6c6e7"/>
<path d="M263.50 786.7V797.8" stroke="#b47ea3"/>
<path d="M263.50 797.8V808.8" stroke="#b47ea3"/>
<path d="M263.50 808.8V819.8" stroke="#a6a6d9"/>
<path d="M263.50 819.8V852.8" stroke="#c6c6e7"/>
<path d="M264.50 786.7V797.8" stroke="#ee302c"/>
<path d="M264.50 797.8V808.8" stroke="#ee302c"/>
<path d="M264.50 808.8V819.8" stroke="#a5a5d8"/>
<path d="M264.50 819.8V852.8" stroke="#c5c5e7"/>
<path d="M265.50 786.7V797.8" stroke="#f57f7e"/>
<path d="M265.50 797.8V808.8" stroke="#c389a6"/>
<path d="M265.50 808.8V819.8" stroke="#a3a3d7"/>
<path d="M265.50 819.8V852.8" stroke="#c5c5e7"/>
<path d="M266.50 786.7V797.8" stroke="#ef433f"/>
<path d="M266.50 797.8V808.8" stroke="#ef433f"/>
<path d="M266.50 808.8V819.8" stroke="#a2a2d6"/>
<path d="M266.50 819.8V852.8" stroke="#c5c5e7"/>
<path d="M267.50 786.7V797.8" stroke="#f04743"/>
<path d="M267.50 797.8V808.8" stroke="#a25079"/>
<path d="M267.50 808.8V819.8" stroke="#a1a1d6"/>
<path d="M267.50 819.8V852.8" stroke="#c5c5e7"/>
<path d="M268.50 786.7V797.8" stroke="#f47674"/>
<path d="M268.50 797.8V808.8" stroke="#f15451"/>
<path d="M268.50 808.8V819.8" stroke="#9f9fd5"/>
<path d="M268.50 819.8V852.8" stroke="#c5c5e6"/>
<path d="M269.50 786.7V797.8" stroke="#ee312d"/>
<path d="M269.50 797.8V808.8" stroke="#ee312d"/>
<path d="M269.50 808.8V819.8" stroke="#9e9ed4"/>
<path d="M269.50 819.8V852.8" stroke="#c5c5e6"/>
<path d="M270.50 786.7V797.8" stroke="#ee312d"/>
<path d="M270.50 797.8V808.8" stroke="#f2625f"/>
<path d="M270.50 808.8V819.8" stroke="#9c9cd3"/>
<path d="M270.50 819.8V852.8" stroke="#c5c5e6"/>
<path d="M271.50 786.7V797.8" stroke="#f15653"/>
<path d="M271.50 797.8V808.8" stroke="#f15754"/>
<path d="M271.50 808.8V819.8" stroke="#9b9bd3"/>
<path d="M271.50 819.8V852.8" stroke="#c4c4e6"/>
<path d="M272.50 786.7V797.8" stroke="#d990a0"/>
<path d="M272.50 797.8V808.8" stroke="#d990a0"/>
<path d="M272.50 808.8V819.8" stroke="#9a9ad2"/>
<path d="M272.50 819.8V852.8" stroke="#c4c4e6"/>
<path d="M273.50 786.7V797.8" stroke="#db9eae"/>
<path d="M273.50 797.8V808.8" stroke="#e7838a"/>
<path d="M273.50 808.8V819.8" stroke="#9898d1"/>
<path d="M273.50 819.8V852.8" stroke="#c4c4e6"/>
<path d="M274.50 786.7V797.8" stroke="#f36563"/>
<path d="M274.50 797.8V808.8" stroke="#f36563"/>
<path d="M274.50 808.8V819.8" stroke="#9797d0"/>
<path d="M274.50 819.8V852.8" stroke="#c4c4e6"/>
<path d="M275.50 786.7V797.8" stroke="#f04541"/>
<path d="M275.50 797.8V808.8" stroke="#f04541"/>
<path d="M275.50 808.8V819.8" stroke="#9595cf"/>
<path d="M275.50 819.8V852.8" stroke="#c3c3e6"/>
<path d="M276.50 786.7V797.8" stroke="#f04845"/>
<path d="M276.50 797.8V808.8" stroke="#a7557c"/>
<path d="M276.50 808.8V819.8" stroke="#9292cd"/>
<path d="M276.50 819.8V852.8" stroke="#c2c2e5"/>
<path d="M277.50 786.7V797.8" stroke="#f15653"/>
<path d="M277.50 797.8V808.8" stroke="#a85d84"/>
<path d="M277.50 808.8V819.8" stroke="#8f8fcc"/>
<path d="M277.50 819.8V852.8" stroke="#c1c1e5"/>
<path d="M278.50 786.7V797.8" stroke="#b193ba"/>
<path d="M278.50 797.8V808.8" stroke="#d38da0"/>
<path d="M278.50 808.8V819.8" stroke="#8c8cca"/>
<path d="M278.50 819.8V852.8" stroke="#c0c0e4"/>
<path d="M279.50 786.7V797.8" stroke="#c08ead"/>
<path d="M279.50 797.8V808.8" stroke="#d86c7a"/>
<path d="M279.50 808.8V819.8" stroke="#8989c8"/>
<path d="M279.50 819.8V852.8" stroke="#bebee4"/>
<path d="M280.50 786.7V797.8" stroke="#f15451"/>
<path d="M280.50 797.8V808.8" stroke="#f36966"/>
<path d="M280.50 808.8V819.8" stroke="#8686c7"/>
<path d="M280.50 819.8V852.8" stroke="#bdbde3"/>
<path d="M281.50 786.7V797.8" stroke="#ef3d3a"/>
<path d="M281.50 797.8V808.8" stroke="#ef3d3a"/>
<path d="M281.50 808.8V819.8" stroke="#8383c5"/>
<path d="M281.50 819.8V852.8" stroke="#bcbce3"/>
<path d="M282.50 786.7V797.8" stroke="#f14d4a"/>
<path d="M282.50 797.8V808.8" stroke="#f46f6d"/>
<path d="M282.50 808.8V819.8" stroke="#8181c3"/>
<path d="M282.50 819.8V852.8" stroke="#bbbbe2"/>
<path d="M283.50 786.7V797.8" stroke="#f57e7c"/>
<path d="M283.50 797.8V808.8" stroke="#f57e7c"/>
<path d="M283.50 808.8V819.8" stroke="#7e7ec1"/>
<path d="M283.50 819.8V852.8" stroke="#b9b9e2"/>
<path d="M284.50 786.7V797.8" stroke="#f25956"/>
<path d="M284.50 797.8V808.8" stroke="#f25956"/>
<path d="M284.50 808.8V819.8" stroke="#7b7bc0"/>
<path d="M284.50 819.8V852.8" stroke="#b8b8e1"/>
<path d="M285.50 786.7V797.8" stroke="#ef3733"/>
<path d="M285.50 797.8V808.8" stroke="#a04670"/>
<path d="M285.50 808.8V819.8" stroke="#7878be"/>
<path d="M285.50 819.8V852.8" stroke="#b7b7e1"/>
<path d="M286.50 786.7V797.8" stroke="#ef4441"/>
<path d="M286.50 797.8V808.8" stroke="#ef4441"/>
<path d="M286.50 808.8V819.8" stroke="#7475bc"/>
<path d="M286.50 819.8V852.8" stroke="#b6b6e1"/>
<path d="M287.50 786.7V797.8" stroke="#f15350"/>
<path d="M287.50 797.8V808.8" stroke="#f1514e"/>
<path d="M287.50 808.8V819.8" stroke="#7072ba"/>
<path d="M287.50 819.8V852.8" stroke="#b5b5e0"/>
<path d="M288.50 786.7V797.8" stroke="#f25e5b"/>
<path d="M288.50 797.8V808.8" stroke="#995280"/>
<path d="M288.50 808.8V819.8" stroke="#6d6fb8"/>
<path d="M288.50 819.8V852.8" stroke="#b3b3e0"/>
<path d="M289.50 786.7V797.8" stroke="#f04d4a"/>
<path d="M289.50 797.8V808.8" stroke="#f04d4a"/>
<path d="M289.50 808.8V819.8" stroke="#696cb6"/>
<path d="M289.50 819.8V852.8" stroke="#b2b2df"/>
<path d="M290.50 786.7V797.8" stroke="#f25d5b"/>
<path d="M290.50 797.8V808.8" stroke="#f25d5b"/>
<path d="M290.50 808.8V819.8" stroke="#6569b4"/>
<path d="M290.50 819.8V852.8" stroke="#b1b1df"/>
<path d="M291.50 786.7V797.8" stroke="#ee3430"/>
<path d="M291.50 797.8V808.8" stroke="#ee3430"/>
<path d="M291.50 808.8V819.8" stroke="#6166b3"/>
<path d="M291.50 819.8V852.8" stroke="#b0b0de"/>
<path d="M292.50 786.7V797.8" stroke="#f15350"/>
<path d="M292.50 797.8V808.8" stroke="#f25d5b"/>
<path d="M292.50 808.8V819.8" stroke="#5d63b1"/>
<path d="M292.50 819.8V852.8" stroke="#aeaede"/>
<path d="M293.50 786.7V797.8" stroke="#f04845"/>
<path d="M293.50 797.8V808.8" stroke="#f47775"/>
<path d="M293.50 808.8V819.8" stroke="#5a60af"/>
<path d="M293.50 819.8V852.8" stroke="#adaddd"/>
<path d="M294.50 786.7V797.8" stroke="#f58584"/>
<path d="M294.50 797.8V808.8" stroke="#b07a9f"/>
<path d="M294.50 808.8V819.8" stroke="#565dad"/>
<path d="M294.50 819.8V852.8" stroke="#d6d6ee"/>
<path d="M295.50 786.7V797.8" stroke="#f0514e"/>
<path d="M295.50 797.8V808.8" stroke="#f0514e"/>
<path d="M295.50 808.8V819.8" stroke="#525aab"/>
<path d="M295.50 819.8V852.8" stroke="#ababdc"/>
</g>
<g stroke-width="1" fill="none" shape-rendering="crispEdges">
<rect x="301.7" y="771.6" width="108.90" height="10.5" fill="#3f5fb4" shape-rendering="auto"/>
<text transform="translate(357.20,765.10) scale(1.08,1)" y="2.27" font-size="6.30" text-anchor="middle" fill="#111" stroke="#111" stroke-width="0.16">Cancer</text>
<path d="M302.50 786.7V797.8" stroke="#464ca8"/>
<path d="M302.50 797.8V808.8" stroke="#464ca8"/>
<path d="M302.50 808.8V819.8" stroke="#ec2824"/>
<path d="M302.50 819.8V852.8" stroke="#ec2824"/>
<path d="M303.50 786.7V797.8" stroke="#5a5eb2"/>
<path d="M303.50 797.8V808.8" stroke="#5a5eb2"/>
<path d="M303.50 808.8V819.8" stroke="#f25b5b"/>
<path d="M303.50 819.8V852.8" stroke="#f68e8e"/>
<path d="M304.50 786.7V797.8" stroke="#5055ad"/>
<path d="M304.50 797.8V808.8" stroke="#5055ad"/>
<path d="M304.50 808.8V819.8" stroke="#f36262"/>
<path d="M304.50 819.8V852.8" stroke="#f79898"/>
<path d="M305.50 786.7V797.8" stroke="#565bb0"/>
<path d="M305.50 797.8V808.8" stroke="#5358ae"/>
<path d="M305.50 808.8V819.8" stroke="#f36868"/>
<path d="M305.50 819.8V852.8" stroke="#f8a2a2"/>
<path d="M306.50 786.7V797.8" stroke="#4349a7"/>
<path d="M306.50 797.8V808.8" stroke="#4349a7"/>
<path d="M306.50 808.8V819.8" stroke="#f36f6f"/>
<path d="M306.50 819.8V852.8" stroke="#f9acac"/>
<path d="M307.50 786.7V797.8" stroke="#4248a6"/>
<path d="M307.50 797.8V808.8" stroke="#444aa7"/>
<path d="M307.50 808.8V819.8" stroke="#f47575"/>
<path d="M307.50 819.8V852.8" stroke="#fab6b6"/>
<path d="M308.50 786.7V797.8" stroke="#494faa"/>
<path d="M308.50 797.8V808.8" stroke="#494faa"/>
<path d="M308.50 808.8V819.8" stroke="#f47c7c"/>
<path d="M308.50 819.8V830.8" stroke="#fde0e0"/>
<path d="M308.50 830.8V841.8" stroke="#fde0e0"/>
<path d="M308.50 841.8V852.8" stroke="#fbc0c0"/>
<path d="M309.50 786.7V797.8" stroke="#5c61b3"/>
<path d="M309.50 797.8V808.8" stroke="#5c61b3"/>
<path d="M309.50 808.8V819.8" stroke="#f58282"/>
<path d="M309.50 819.8V830.8" stroke="#fccaca"/>
<path d="M309.50 830.8V841.8" stroke="#fee4e4"/>
<path d="M309.50 841.8V852.8" stroke="#fee4e4"/>
<path d="M310.50 786.7V797.8" stroke="#5b60b3"/>
<path d="M310.50 797.8V808.8" stroke="#5b60b3"/>
<path d="M310.50 808.8V819.8" stroke="#f58989"/>
<path d="M310.50 819.8V852.8" stroke="#fddad9"/>
<path d="M311.50 786.7V797.8" stroke="#4b51aa"/>
<path d="M311.50 797.8V808.8" stroke="#4b51aa"/>
<path d="M311.50 808.8V819.8" stroke="#f68f8f"/>
<path d="M311.50 819.8V830.8" stroke="#fef5f4"/>
<path d="M311.50 830.8V841.8" stroke="#fef5f4"/>
<path d="M311.50 841.8V852.8" stroke="#feebe9"/>
<path d="M312.50 786.7V797.8" stroke="#565bb0"/>
<path d="M312.50 797.8V808.8" stroke="#4d53ac"/>
<path d="M312.50 808.8V819.8" stroke="#f69696"/>
<path d="M312.50 819.8V852.8" stroke="#fff2f0"/>
<path d="M313.50 786.7V797.8" stroke="#4046a5"/>
<path d="M313.50 797.8V808.8" stroke="#4046a5"/>
<path d="M313.50 808.8V819.8" stroke="#f79c9c"/>
<path d="M313.50 819.8V852.8" stroke="#fff2f0"/>
<path d="M314.50 786.7V797.8" stroke="#4f54ac"/>
<path d="M314.50 797.8V808.8" stroke="#9f4d77"/>
<path d="M314.50 808.8V819.8" stroke="#f7a3a3"/>
<path d="M314.50 819.8V852.8" stroke="#fff3f1"/>
<path d="M315.50 786.7V797.8" stroke="#555ab0"/>
<path d="M315.50 797.8V808.8" stroke="#5056ad"/>
<path d="M315.50 808.8V819.8" stroke="#f8a9a9"/>
<path d="M315.50 819.8V852.8" stroke="#fff3f1"/>
<path d="M316.50 786.7V797.8" stroke="#5f64b5"/>
<path d="M316.50 797.8V808.8" stroke="#6166b6"/>
<path d="M316.50 808.8V819.8" stroke="#f8afaf"/>
<path d="M316.50 819.8V852.8" stroke="#fff3f1"/>
<path d="M317.50 786.7V797.8" stroke="#5a5fb2"/>
<path d="M317.50 797.8V808.8" stroke="#5b60b2"/>
<path d="M317.50 808.8V819.8" stroke="#f9b6b6"/>
<path d="M317.50 819.8V852.8" stroke="#fff3f1"/>
<path d="M318.50 786.7V797.8" stroke="#4046a5"/>
<path d="M318.50 797.8V808.8" stroke="#4247a6"/>
<path d="M318.50 808.8V819.8" stroke="#fabcbc"/>
<path d="M318.50 819.8V852.8" stroke="#fff3f1"/>
<path d="M319.50 786.7V797.8" stroke="#595eb2"/>
<path d="M319.50 797.8V808.8" stroke="#595eb2"/>
<path d="M319.50 808.8V819.8" stroke="#fac3c3"/>
<path d="M319.50 819.8V852.8" stroke="#fff4f2"/>
<path d="M320.50 786.7V797.8" stroke="#5d61b3"/>
<path d="M320.50 797.8V808.8" stroke="#5d61b3"/>
<path d="M320.50 808.8V819.8" stroke="#fbc9c9"/>
<path d="M320.50 819.8V852.8" stroke="#fff4f2"/>
<path d="M321.50 786.7V797.8" stroke="#474da9"/>
<path d="M321.50 797.8V808.8" stroke="#474da9"/>
<path d="M321.50 808.8V819.8" stroke="#fbcfcf"/>
<path d="M321.50 819.8V852.8" stroke="#fff4f2"/>
<path d="M322.50 786.7V797.8" stroke="#f9dfe2"/>
<path d="M322.50 797.8V808.8" stroke="#f9dfe2"/>
<path d="M322.50 808.8V819.8" stroke="#fcd6d6"/>
<path d="M322.50 819.8V830.8" stroke="#efe8f1"/>
<path d="M322.50 830.8V841.8" stroke="#efe8f1"/>
<path d="M322.50 841.8V852.8" stroke="#f7f4f8"/>
<path d="M323.50 786.7V797.8" stroke="#9497d0"/>
<path d="M323.50 797.8V808.8" stroke="#c7c6e5"/>
<path d="M323.50 808.8V819.8" stroke="#fcddde"/>
<path d="M323.50 819.8V852.8" stroke="#dcdbf0"/>
<path d="M324.50 786.7V797.8" stroke="#f1524f"/>
<path d="M324.50 797.8V808.8" stroke="#f5a4a4"/>
<path d="M324.50 808.8V819.8" stroke="#fbe4e6"/>
<path d="M324.50 819.8V852.8" stroke="#d6d6f0"/>
<path d="M325.50 786.7V797.8" stroke="#b7b8e1"/>
<path d="M325.50 797.8V808.8" stroke="#b0b1dd"/>
<path d="M325.50 808.8V819.8" stroke="#fbebee"/>
<path d="M325.50 819.8V852.8" stroke="#d5d5ef"/>
<path d="M326.50 786.7V797.8" stroke="#faf6fa"/>
<path d="M326.50 797.8V808.8" stroke="#f5a0a1"/>
<path d="M326.50 808.8V819.8" stroke="#faf2f6"/>
<path d="M326.50 819.8V852.8" stroke="#d4d4ee"/>
<path d="M327.50 786.7V797.8" stroke="#faf6fa"/>
<path d="M327.50 797.8V808.8" stroke="#afafd9"/>
<path d="M327.50 808.8V819.8" stroke="#f8f4fa"/>
<path d="M327.50 819.8V852.8" stroke="#e8e8f6"/>
<path d="M328.50 786.7V797.8" stroke="#faf6fa"/>
<path d="M328.50 797.8V808.8" stroke="#faf6fa"/>
<path d="M328.50 808.8V819.8" stroke="#f5f1f9"/>
<path d="M328.50 819.8V852.8" stroke="#d1d1ed"/>
<path d="M329.50 786.7V797.8" stroke="#dcdaee"/>
<path d="M329.50 797.8V808.8" stroke="#dcdaee"/>
<path d="M329.50 808.8V819.8" stroke="#f1eef8"/>
<path d="M329.50 819.8V852.8" stroke="#d0d0ec"/>
<path d="M330.50 786.7V797.8" stroke="#f1524f"/>
<path d="M330.50 797.8V808.8" stroke="#f5a4a4"/>
<path d="M330.50 808.8V819.8" stroke="#eeebf7"/>
<path d="M330.50 819.8V852.8" stroke="#ceceeb"/>
<path d="M331.50 786.7V797.8" stroke="#ee3430"/>
<path d="M331.50 797.8V808.8" stroke="#ee3430"/>
<path d="M331.50 808.8V819.8" stroke="#eae8f6"/>
<path d="M331.50 819.8V852.8" stroke="#cdcdeb"/>
<path d="M332.50 786.7V797.8" stroke="#9597d0"/>
<path d="M332.50 797.8V808.8" stroke="#9597d0"/>
<path d="M332.50 808.8V819.8" stroke="#e7e5f5"/>
<path d="M332.50 819.8V852.8" stroke="#ccccea"/>
<path d="M333.50 786.7V797.8" stroke="#7377bf"/>
<path d="M333.50 797.8V808.8" stroke="#9799d1"/>
<path d="M333.50 808.8V819.8" stroke="#e3e2f4"/>
<path d="M333.50 819.8V852.8" stroke="#cbcbe9"/>
<path d="M334.50 786.7V797.8" stroke="#d66a79"/>
<path d="M334.50 797.8V808.8" stroke="#b782a5"/>
<path d="M334.50 808.8V819.8" stroke="#e0dff3"/>
<path d="M334.50 819.8V852.8" stroke="#c9c9e9"/>
<path d="M335.50 786.7V797.8" stroke="#f04c49"/>
<path d="M335.50 797.8V808.8" stroke="#f04c49"/>
<path d="M335.50 808.8V819.8" stroke="#dcdcf2"/>
<path d="M335.50 819.8V852.8" stroke="#c8c8e8"/>
<path d="M336.50 786.7V797.8" stroke="#7c7fc3"/>
<path d="M336.50 797.8V808.8" stroke="#7c7fc3"/>
<path d="M336.50 808.8V819.8" stroke="#dadaf1"/>
<path d="M336.50 819.8V852.8" stroke="#e4e4f4"/>
<path d="M337.50 786.7V797.8" stroke="#7478bf"/>
<path d="M337.50 797.8V808.8" stroke="#b7b7dc"/>
<path d="M337.50 808.8V819.8" stroke="#d9d9f0"/>
<path d="M337.50 819.8V852.8" stroke="#c8c8e8"/>
<path d="M338.50 786.7V797.8" stroke="#ef3d3a"/>
<path d="M338.50 797.8V808.8" stroke="#f15b58"/>
<path d="M338.50 808.8V819.8" stroke="#d7d7ef"/>
<path d="M338.50 819.8V852.8" stroke="#c8c8e8"/>
<path d="M339.50 786.7V797.8" stroke="#ef3834"/>
<path d="M339.50 797.8V808.8" stroke="#f49797"/>
<path d="M339.50 808.8V819.8" stroke="#d5d5ee"/>
<path d="M339.50 819.8V852.8" stroke="#c7c7e8"/>
<path d="M340.50 786.7V797.8" stroke="#7e81c4"/>
<path d="M340.50 797.8V808.8" stroke="#7e81c4"/>
<path d="M340.50 808.8V819.8" stroke="#d3d3ed"/>
<path d="M340.50 819.8V852.8" stroke="#c7c7e8"/>
<path d="M341.50 786.7V797.8" stroke="#f04744"/>
<path d="M341.50 797.8V808.8" stroke="#f04744"/>
<path d="M341.50 808.8V819.8" stroke="#d1d1ed"/>
<path d="M341.50 819.8V852.8" stroke="#c7c7e8"/>
<path d="M342.50 786.7V797.8" stroke="#8487c8"/>
<path d="M342.50 797.8V808.8" stroke="#8487c8"/>
<path d="M342.50 808.8V819.8" stroke="#cfcfec"/>
<path d="M342.50 819.8V852.8" stroke="#c7c7e8"/>
<path d="M343.50 786.7V797.8" stroke="#f15754"/>
<path d="M343.50 797.8V808.8" stroke="#f15754"/>
<path d="M343.50 808.8V819.8" stroke="#cdcdeb"/>
<path d="M343.50 819.8V852.8" stroke="#c7c7e8"/>
<path d="M344.50 786.7V797.8" stroke="#f36f6d"/>
<path d="M344.50 797.8V808.8" stroke="#f36f6d"/>
<path d="M344.50 808.8V819.8" stroke="#ccccea"/>
<path d="M344.50 819.8V852.8" stroke="#c7c7e8"/>
<path d="M345.50 786.7V797.8" stroke="#9c9ed3"/>
<path d="M345.50 797.8V808.8" stroke="#7175bd"/>
<path d="M345.50 808.8V819.8" stroke="#cacae9"/>
<path d="M345.50 819.8V830.8" stroke="#e2e2f3"/>
<path d="M345.50 830.8V841.8" stroke="#e2e2f3"/>
<path d="M345.50 841.8V852.8" stroke="#c6c6e7"/>
<path d="M346.50 786.7V797.8" stroke="#f25b58"/>
<path d="M346.50 797.8V808.8" stroke="#f25b58"/>
<path d="M346.50 808.8V819.8" stroke="#c8c8e8"/>
<path d="M346.50 819.8V852.8" stroke="#c6c6e7"/>
<path d="M347.50 786.7V797.8" stroke="#f79897"/>
<path d="M347.50 797.8V808.8" stroke="#f79897"/>
<path d="M347.50 808.8V819.8" stroke="#c7c7e7"/>
<path d="M347.50 819.8V852.8" stroke="#c6c6e7"/>
<path d="M348.50 786.7V797.8" stroke="#ef413d"/>
<path d="M348.50 797.8V808.8" stroke="#ef423e"/>
<path d="M348.50 808.8V819.8" stroke="#c6c6e7"/>
<path d="M348.50 819.8V852.8" stroke="#c6c6e7"/>
<path d="M349.50 786.7V797.8" stroke="#ee3531"/>
<path d="M349.50 797.8V808.8" stroke="#ee3531"/>
<path d="M349.50 808.8V819.8" stroke="#c5c5e7"/>
<path d="M349.50 819.8V830.8" stroke="#e2e2f3"/>
<path d="M349.50 830.8V841.8" stroke="#e2e2f3"/>
<path d="M349.50 841.8V852.8" stroke="#c6c6e7"/>
<path d="M350.50 786.7V797.8" stroke="#ef413e"/>
<path d="M350.50 797.8V808.8" stroke="#ee3a36"/>
<path d="M350.50 808.8V819.8" stroke="#c4c4e6"/>
<path d="M350.50 819.8V852.8" stroke="#c6c6e7"/>
<path d="M351.50 786.7V797.8" stroke="#ba80a2"/>
<path d="M351.50 797.8V808.8" stroke="#d67584"/>
<path d="M351.50 808.8V819.8" stroke="#c3c3e6"/>
<path d="M351.50 819.8V852.8" stroke="#e2e2f3"/>
<path d="M352.50 786.7V797.8" stroke="#f04845"/>
<path d="M352.50 797.8V808.8" stroke="#f04845"/>
<path d="M352.50 808.8V819.8" stroke="#c2c2e5"/>
<path d="M352.50 819.8V852.8" stroke="#c5c5e7"/>
<path d="M353.50 786.7V797.8" stroke="#ef3e3b"/>
<path d="M353.50 797.8V808.8" stroke="#ef3e3b"/>
<path d="M353.50 808.8V819.8" stroke="#c1c1e5"/>
<path d="M353.50 819.8V852.8" stroke="#e2e2f3"/>
<path d="M354.50 786.7V797.8" stroke="#f58381"/>
<path d="M354.50 797.8V808.8" stroke="#f25e5b"/>
<path d="M354.50 808.8V819.8" stroke="#c0c0e4"/>
<path d="M354.50 819.8V852.8" stroke="#e2e2f3"/>
<path d="M355.50 786.7V797.8" stroke="#f15653"/>
<path d="M355.50 797.8V808.8" stroke="#f15653"/>
<path d="M355.50 808.8V819.8" stroke="#c0c0e4"/>
<path d="M355.50 819.8V852.8" stroke="#c5c5e7"/>
<path d="M356.50 786.7V797.8" stroke="#ee312d"/>
<path d="M356.50 797.8V808.8" stroke="#b15476"/>
<path d="M356.50 808.8V819.8" stroke="#bfbfe3"/>
<path d="M356.50 819.8V852.8" stroke="#c5c5e7"/>
<path d="M357.50 786.7V797.8" stroke="#f47977"/>
<path d="M357.50 797.8V808.8" stroke="#f47977"/>
<path d="M357.50 808.8V819.8" stroke="#bebee3"/>
<path d="M357.50 819.8V852.8" stroke="#e2e2f3"/>
<path d="M358.50 786.7V797.8" stroke="#f04f4c"/>
<path d="M358.50 797.8V808.8" stroke="#f04f4c"/>
<path d="M358.50 808.8V819.8" stroke="#bdbde2"/>
<path d="M358.50 819.8V852.8" stroke="#c4c4e7"/>
<path d="M359.50 786.7V797.8" stroke="#cf5e70"/>
<path d="M359.50 797.8V808.8" stroke="#cf5e70"/>
<path d="M359.50 808.8V819.8" stroke="#bcbce2"/>
<path d="M359.50 819.8V852.8" stroke="#e2e2f3"/>
<path d="M360.50 786.7V797.8" stroke="#f68b8a"/>
<path d="M360.50 797.8V808.8" stroke="#f36664"/>
<path d="M360.50 808.8V819.8" stroke="#bbbbe1"/>
<path d="M360.50 819.8V852.8" stroke="#c4c4e7"/>
<path d="M361.50 786.7V797.8" stroke="#f47573"/>
<path d="M361.50 797.8V808.8" stroke="#f36c69"/>
<path d="M361.50 808.8V819.8" stroke="#babae1"/>
<path d="M361.50 819.8V852.8" stroke="#c4c4e7"/>
<path d="M362.50 786.7V797.8" stroke="#ee312d"/>
<path d="M362.50 797.8V808.8" stroke="#ee312d"/>
<path d="M362.50 808.8V819.8" stroke="#b9b9e1"/>
<path d="M362.50 819.8V852.8" stroke="#c4c4e7"/>
<path d="M363.50 786.7V797.8" stroke="#f36c6a"/>
<path d="M363.50 797.8V808.8" stroke="#f15451"/>
<path d="M363.50 808.8V819.8" stroke="#b8b8e0"/>
<path d="M363.50 819.8V852.8" stroke="#c4c4e7"/>
<path d="M364.50 786.7V797.8" stroke="#bcbce4"/>
<path d="M364.50 797.8V808.8" stroke="#bcbce4"/>
<path d="M364.50 808.8V819.8" stroke="#b7b7e0"/>
<path d="M364.50 819.8V852.8" stroke="#e1e1f2"/>
<path d="M365.50 786.7V797.8" stroke="#ef3632"/>
<path d="M365.50 797.8V808.8" stroke="#ef3632"/>
<path d="M365.50 808.8V819.8" stroke="#b6b6df"/>
<path d="M365.50 819.8V852.8" stroke="#c3c3e6"/>
<path d="M366.50 786.7V797.8" stroke="#5d62b4"/>
<path d="M366.50 797.8V808.8" stroke="#5d62b4"/>
<path d="M366.50 808.8V819.8" stroke="#b5b5df"/>
<path d="M366.50 819.8V852.8" stroke="#c3c3e6"/>
<path d="M367.50 786.7V797.8" stroke="#f68b8a"/>
<path d="M367.50 797.8V808.8" stroke="#f68b8a"/>
<path d="M367.50 808.8V819.8" stroke="#b4b4de"/>
<path d="M367.50 819.8V852.8" stroke="#c3c3e6"/>
<path d="M368.50 786.7V797.8" stroke="#f25956"/>
<path d="M368.50 797.8V808.8" stroke="#f04b47"/>
<path d="M368.50 808.8V819.8" stroke="#b3b3de"/>
<path d="M368.50 819.8V830.8" stroke="#e1e1f2"/>
<path d="M368.50 830.8V841.8" stroke="#c3c3e6"/>
<path d="M368.50 841.8V852.8" stroke="#e1e1f2"/>
<path d="M369.50 786.7V797.8" stroke="#f36663"/>
<path d="M369.50 797.8V808.8" stroke="#f4706e"/>
<path d="M369.50 808.8V819.8" stroke="#b2b2dd"/>
<path d="M369.50 819.8V852.8" stroke="#c3c3e6"/>
<path d="M370.50 786.7V797.8" stroke="#3e44a8"/>
<path d="M370.50 797.8V808.8" stroke="#3e44a8"/>
<path d="M370.50 808.8V819.8" stroke="#b0b0dc"/>
<path d="M370.50 819.8V852.8" stroke="#c2c2e6"/>
<path d="M371.50 786.7V797.8" stroke="#3e44a8"/>
<path d="M371.50 797.8V808.8" stroke="#3e44a8"/>
<path d="M371.50 808.8V819.8" stroke="#afafdc"/>
<path d="M371.50 819.8V852.8" stroke="#e0e0f2"/>
<path d="M372.50 786.7V797.8" stroke="#f47876"/>
<path d="M372.50 797.8V808.8" stroke="#f47876"/>
<path d="M372.50 808.8V819.8" stroke="#aeaedb"/>
<path d="M372.50 819.8V852.8" stroke="#c2c2e6"/>
<path d="M373.50 786.7V797.8" stroke="#ef3e3a"/>
<path d="M373.50 797.8V808.8" stroke="#ef3e3a"/>
<path d="M373.50 808.8V819.8" stroke="#acacdb"/>
<path d="M373.50 819.8V852.8" stroke="#c2c2e6"/>
<path d="M374.50 786.7V797.8" stroke="#f04340"/>
<path d="M374.50 797.8V808.8" stroke="#f04340"/>
<path d="M374.50 808.8V819.8" stroke="#ababda"/>
<path d="M374.50 819.8V852.8" stroke="#bfbfe4"/>
<path d="M375.50 786.7V797.8" stroke="#ef3d3a"/>
<path d="M375.50 797.8V808.8" stroke="#ef3d3a"/>
<path d="M375.50 808.8V819.8" stroke="#aaaad9"/>
<path d="M375.50 819.8V852.8" stroke="#bcbce3"/>
<path d="M376.50 786.7V797.8" stroke="#b194bb"/>
<path d="M376.50 797.8V808.8" stroke="#d27f92"/>
<path d="M376.50 808.8V819.8" stroke="#a8a8d9"/>
<path d="M376.50 819.8V852.8" stroke="#babae1"/>
<path d="M377.50 786.7V797.8" stroke="#f25e5b"/>
<path d="M377.50 797.8V808.8" stroke="#f25e5b"/>
<path d="M377.50 808.8V819.8" stroke="#a7a7d8"/>
<path d="M377.50 819.8V852.8" stroke="#b7b7e0"/>
<path d="M378.50 786.7V797.8" stroke="#f36a68"/>
<path d="M378.50 797.8V808.8" stroke="#f36a68"/>
<path d="M378.50 808.8V819.8" stroke="#a6a6d7"/>
<path d="M378.50 819.8V852.8" stroke="#b5b5de"/>
<path d="M379.50 786.7V797.8" stroke="#f04340"/>
<path d="M379.50 797.8V808.8" stroke="#f04b48"/>
<path d="M379.50 808.8V819.8" stroke="#a4a4d7"/>
<path d="M379.50 819.8V852.8" stroke="#b4b4de"/>
<path d="M380.50 786.7V797.8" stroke="#f9b1b1"/>
<path d="M380.50 797.8V808.8" stroke="#f79f9e"/>
<path d="M380.50 808.8V819.8" stroke="#a3a3d6"/>
<path d="M380.50 819.8V852.8" stroke="#b4b4de"/>
<path d="M381.50 786.7V797.8" stroke="#f58281"/>
<path d="M381.50 797.8V808.8" stroke="#b0799e"/>
<path d="M381.50 808.8V819.8" stroke="#a2a2d6"/>
<path d="M381.50 819.8V852.8" stroke="#b4b4de"/>
<path d="M382.50 786.7V797.8" stroke="#f25a57"/>
<path d="M382.50 797.8V808.8" stroke="#f47573"/>
<path d="M382.50 808.8V819.8" stroke="#a0a0d5"/>
<path d="M382.50 819.8V852.8" stroke="#b4b4de"/>
<path d="M383.50 786.7V797.8" stroke="#f15653"/>
<path d="M383.50 797.8V808.8" stroke="#f15653"/>
<path d="M383.50 808.8V819.8" stroke="#9f9fd4"/>
<path d="M383.50 819.8V852.8" stroke="#b3b3de"/>
<path d="M384.50 786.7V797.8" stroke="#be90b1"/>
<path d="M384.50 797.8V808.8" stroke="#be90b1"/>
<path d="M384.50 808.8V819.8" stroke="#9d9dd4"/>
<path d="M384.50 819.8V852.8" stroke="#b3b3de"/>
<path d="M385.50 786.7V797.8" stroke="#5459af"/>
<path d="M385.50 797.8V808.8" stroke="#a25680"/>
<path d="M385.50 808.8V819.8" stroke="#9b9bd3"/>
<path d="M385.50 819.8V852.8" stroke="#b3b3de"/>
<path d="M386.50 786.7V797.8" stroke="#f68887"/>
<path d="M386.50 797.8V808.8" stroke="#f36664"/>
<path d="M386.50 808.8V819.8" stroke="#9a9ad2"/>
<path d="M386.50 819.8V852.8" stroke="#b3b3de"/>
<path d="M387.50 786.7V797.8" stroke="#f25b58"/>
<path d="M387.50 797.8V808.8" stroke="#f25b58"/>
<path d="M387.50 808.8V819.8" stroke="#9898d1"/>
<path d="M387.50 819.8V852.8" stroke="#b3b3dd"/>
<path d="M388.50 786.7V797.8" stroke="#f8a3a3"/>
<path d="M388.50 797.8V808.8" stroke="#f8a3a3"/>
<path d="M388.50 808.8V819.8" stroke="#9696d0"/>
<path d="M388.50 819.8V852.8" stroke="#b3b3dd"/>
<path d="M389.50 786.7V797.8" stroke="#f58684"/>
<path d="M389.50 797.8V808.8" stroke="#f47775"/>
<path d="M389.50 808.8V819.8" stroke="#9494cf"/>
<path d="M389.50 819.8V852.8" stroke="#b3b3dd"/>
<path d="M390.50 786.7V797.8" stroke="#f04845"/>
<path d="M390.50 797.8V808.8" stroke="#f04744"/>
<path d="M390.50 808.8V819.8" stroke="#9292ce"/>
<path d="M390.50 819.8V852.8" stroke="#b3b3dd"/>
<path d="M391.50 786.7V797.8" stroke="#ef3632"/>
<path d="M391.50 797.8V808.8" stroke="#ef3632"/>
<path d="M391.50 808.8V819.8" stroke="#9090cd"/>
<path d="M391.50 819.8V852.8" stroke="#b2b2dd"/>
<path d="M392.50 786.7V797.8" stroke="#7f83c5"/>
<path d="M392.50 797.8V808.8" stroke="#7f83c5"/>
<path d="M392.50 808.8V819.8" stroke="#8e8ecc"/>
<path d="M392.50 819.8V852.8" stroke="#b2b2dd"/>
<path d="M393.50 786.7V797.8" stroke="#4b51ab"/>
<path d="M393.50 797.8V808.8" stroke="#4b51ab"/>
<path d="M393.50 808.8V819.8" stroke="#8d8dcb"/>
<path d="M393.50 819.8V852.8" stroke="#b2b2dd"/>
<path d="M394.50 786.7V797.8" stroke="#f57b79"/>
<path d="M394.50 797.8V808.8" stroke="#f57b79"/>
<path d="M394.50 808.8V819.8" stroke="#8b8bca"/>
<path d="M394.50 819.8V852.8" stroke="#b2b2dd"/>
<path d="M395.50 786.7V797.8" stroke="#f47a78"/>
<path d="M395.50 797.8V808.8" stroke="#f15a57"/>
<path d="M395.50 808.8V819.8" stroke="#8989c9"/>
<path d="M395.50 819.8V852.8" stroke="#b2b2dd"/>
<path d="M396.50 786.7V797.8" stroke="#f1504d"/>
<path d="M396.50 797.8V808.8" stroke="#f1504d"/>
<path d="M396.50 808.8V819.8" stroke="#8787c8"/>
<path d="M396.50 819.8V852.8" stroke="#b2b2dd"/>
<path d="M397.50 786.7V797.8" stroke="#f36a67"/>
<path d="M397.50 797.8V808.8" stroke="#f36a67"/>
<path d="M397.50 808.8V819.8" stroke="#8585c7"/>
<path d="M397.50 819.8V852.8" stroke="#b2b2dd"/>
<path d="M398.50 786.7V797.8" stroke="#ef3935"/>
<path d="M398.50 797.8V808.8" stroke="#ef3935"/>
<path d="M398.50 808.8V819.8" stroke="#8383c5"/>
<path d="M398.50 819.8V852.8" stroke="#b2b2dd"/>
<path d="M399.50 786.7V797.8" stroke="#f15a57"/>
<path d="M399.50 797.8V808.8" stroke="#f15c59"/>
<path d="M399.50 808.8V819.8" stroke="#8080c4"/>
<path d="M399.50 819.8V852.8" stroke="#b1b1dd"/>
<path d="M400.50 786.7V797.8" stroke="#f04b47"/>
<path d="M400.50 797.8V808.8" stroke="#ef3d39"/>
<path d="M400.50 808.8V819.8" stroke="#7d7dc2"/>
<path d="M400.50 819.8V852.8" stroke="#b1b1dd"/>
<path d="M401.50 786.7V797.8" stroke="#f14e4b"/>
<path d="M401.50 797.8V808.8" stroke="#f14e4b"/>
<path d="M401.50 808.8V819.8" stroke="#7a7ac0"/>
<path d="M401.50 819.8V852.8" stroke="#b1b1dd"/>
<path d="M402.50 786.7V797.8" stroke="#f04643"/>
<path d="M402.50 797.8V808.8" stroke="#f15653"/>
<path d="M402.50 808.8V819.8" stroke="#7878be"/>
<path d="M402.50 819.8V852.8" stroke="#b1b1dd"/>
<path d="M403.50 786.7V797.8" stroke="#ef3d3a"/>
<path d="M403.50 797.8V808.8" stroke="#f15452"/>
<path d="M403.50 808.8V819.8" stroke="#7575bd"/>
<path d="M403.50 819.8V852.8" stroke="#b1b1dc"/>
<path d="M404.50 786.7V797.8" stroke="#ef413e"/>
<path d="M404.50 797.8V808.8" stroke="#d17a8e"/>
<path d="M404.50 808.8V819.8" stroke="#7272bb"/>
<path d="M404.50 819.8V852.8" stroke="#b1b1dc"/>
<path d="M405.50 786.7V797.8" stroke="#f04744"/>
<path d="M405.50 797.8V808.8" stroke="#f04744"/>
<path d="M405.50 808.8V819.8" stroke="#6f6fb9"/>
<path d="M405.50 819.8V852.8" stroke="#b1b1dc"/>
<path d="M406.50 786.7V797.8" stroke="#f36c6a"/>
<path d="M406.50 797.8V808.8" stroke="#f36c6a"/>
<path d="M406.50 808.8V819.8" stroke="#6d6db8"/>
<path d="M406.50 819.8V852.8" stroke="#b1b1dc"/>
<path d="M407.50 786.7V797.8" stroke="#f57d7b"/>
<path d="M407.50 797.8V808.8" stroke="#f57d7b"/>
<path d="M407.50 808.8V819.8" stroke="#6a6ab6"/>
<path d="M407.50 819.8V852.8" stroke="#b0b0dc"/>
<path d="M408.50 786.7V797.8" stroke="#f1514e"/>
<path d="M408.50 797.8V808.8" stroke="#f04744"/>
<path d="M408.50 808.8V819.8" stroke="#6767b4"/>
<path d="M408.50 819.8V852.8" stroke="#b0b0dc"/>
<path d="M409.50 786.7V797.8" stroke="#f25c59"/>
<path d="M409.50 797.8V808.8" stroke="#f15350"/>
<path d="M409.50 808.8V819.8" stroke="#6464b3"/>
<path d="M409.50 819.8V852.8" stroke="#b0b0dc"/>
<path d="M410.50 786.7V797.8" stroke="#f9afaf"/>
<path d="M410.50 797.8V808.8" stroke="#f68f8e"/>
<path d="M410.50 808.8V819.8" stroke="#6161b1"/>
<path d="M410.50 819.8V852.8" stroke="#b0b0dc"/>
</g>
<g stroke-width="1" fill="none" shape-rendering="crispEdges">
<rect x="415.7" y="771.6" width="112.90" height="10.5" fill="#e9302a" shape-rendering="auto"/>
<text transform="translate(474.50,765.10) scale(1.08,1)" y="2.27" font-size="6.30" text-anchor="middle" fill="#111" stroke="#111" stroke-width="0.16">Infections</text>
<path d="M416.50 786.7V797.8" stroke="#3a3fa0"/>
<path d="M416.50 797.8V808.8" stroke="#3a3fa0"/>
<path d="M416.50 808.8V819.8" stroke="#ec2824"/>
<path d="M416.50 819.8V852.8" stroke="#c42020"/>
<path d="M417.50 786.7V797.8" stroke="#3a3fa0"/>
<path d="M417.50 797.8V808.8" stroke="#3a3fa0"/>
<path d="M417.50 808.8V819.8" stroke="#ec2824"/>
<path d="M417.50 819.8V852.8" stroke="#c42020"/>
<path d="M418.50 786.7V797.8" stroke="#3a3fa0"/>
<path d="M418.50 797.8V808.8" stroke="#3a3fa0"/>
<path d="M418.50 808.8V819.8" stroke="#ec2824"/>
<path d="M418.50 819.8V852.8" stroke="#ec2824"/>
<path d="M419.50 786.7V797.8" stroke="#3a3fa0"/>
<path d="M419.50 797.8V808.8" stroke="#3a3fa0"/>
<path d="M419.50 808.8V819.8" stroke="#ec2824"/>
<path d="M419.50 819.8V852.8" stroke="#ec2824"/>
<path d="M420.50 786.7V797.8" stroke="#3a3fa0"/>
<path d="M420.50 797.8V808.8" stroke="#3a3fa0"/>
<path d="M420.50 808.8V819.8" stroke="#ec2824"/>
<path d="M420.50 819.8V852.8" stroke="#ec2824"/>
<path d="M421.50 786.7V797.8" stroke="#3a3fa0"/>
<path d="M421.50 797.8V808.8" stroke="#3a3fa0"/>
<path d="M421.50 808.8V819.8" stroke="#ec2824"/>
<path d="M421.50 819.8V852.8" stroke="#ec2824"/>
<path d="M422.50 786.7V797.8" stroke="#3a3fa0"/>
<path d="M422.50 797.8V808.8" stroke="#3a3fa0"/>
<path d="M422.50 808.8V819.8" stroke="#ec2824"/>
<path d="M422.50 819.8V852.8" stroke="#ec2824"/>
<path d="M423.50 786.7V797.8" stroke="#3a3fa0"/>
<path d="M423.50 797.8V808.8" stroke="#3a3fa0"/>
<path d="M423.50 808.8V819.8" stroke="#ec2824"/>
<path d="M423.50 819.8V852.8" stroke="#ec2824"/>
<path d="M424.50 786.7V797.8" stroke="#3a3fa0"/>
<path d="M424.50 797.8V808.8" stroke="#3a3fa0"/>
<path d="M424.50 808.8V819.8" stroke="#ec2824"/>
<path d="M424.50 819.8V852.8" stroke="#ec2824"/>
<path d="M425.50 786.7V797.8" stroke="#4a4fa9"/>
<path d="M425.50 797.8V808.8" stroke="#4a4fa9"/>
<path d="M425.50 808.8V819.8" stroke="#f47a7a"/>
<path d="M425.50 819.8V852.8" stroke="#fac9c9"/>
<path d="M426.50 786.7V797.8" stroke="#444aa7"/>
<path d="M426.50 797.8V808.8" stroke="#444aa7"/>
<path d="M426.50 808.8V819.8" stroke="#f57f7f"/>
<path d="M426.50 819.8V852.8" stroke="#fbcdcc"/>
<path d="M427.50 786.7V797.8" stroke="#6368b7"/>
<path d="M427.50 797.8V808.8" stroke="#a95479"/>
<path d="M427.50 808.8V819.8" stroke="#f58383"/>
<path d="M427.50 819.8V852.8" stroke="#fbd0cf"/>
<path d="M428.50 786.7V797.8" stroke="#6266b6"/>
<path d="M428.50 797.8V808.8" stroke="#585cb1"/>
<path d="M428.50 808.8V819.8" stroke="#f58888"/>
<path d="M428.50 819.8V830.8" stroke="#fbd3d3"/>
<path d="M428.50 830.8V841.8" stroke="#fde9e9"/>
<path d="M428.50 841.8V852.8" stroke="#fde9e9"/>
<path d="M429.50 786.7V797.8" stroke="#4248a6"/>
<path d="M429.50 797.8V808.8" stroke="#5156ae"/>
<path d="M429.50 808.8V819.8" stroke="#f68c8c"/>
<path d="M429.50 819.8V852.8" stroke="#fcd6d6"/>
<path d="M430.50 786.7V797.8" stroke="#6166b6"/>
<path d="M430.50 797.8V808.8" stroke="#6469b7"/>
<path d="M430.50 808.8V819.8" stroke="#f69191"/>
<path d="M430.50 819.8V852.8" stroke="#fcdad9"/>
<path d="M431.50 786.7V797.8" stroke="#5d62b4"/>
<path d="M431.50 797.8V808.8" stroke="#a8678f"/>
<path d="M431.50 808.8V819.8" stroke="#f69595"/>
<path d="M431.50 819.8V852.8" stroke="#fddddc"/>
<path d="M432.50 786.7V797.8" stroke="#5055ad"/>
<path d="M432.50 797.8V808.8" stroke="#5459af"/>
<path d="M432.50 808.8V819.8" stroke="#f79999"/>
<path d="M432.50 819.8V852.8" stroke="#fde0df"/>
<path d="M433.50 786.7V797.8" stroke="#585db1"/>
<path d="M433.50 797.8V808.8" stroke="#585db1"/>
<path d="M433.50 808.8V819.8" stroke="#f79e9e"/>
<path d="M433.50 819.8V852.8" stroke="#fde3e2"/>
<path d="M434.50 786.7V797.8" stroke="#5f64b5"/>
<path d="M434.50 797.8V808.8" stroke="#5e63b4"/>
<path d="M434.50 808.8V819.8" stroke="#f8a2a2"/>
<path d="M434.50 819.8V852.8" stroke="#fee6e5"/>
<path d="M435.50 786.7V797.8" stroke="#4f54ad"/>
<path d="M435.50 797.8V808.8" stroke="#5459af"/>
<path d="M435.50 808.8V819.8" stroke="#f8a7a7"/>
<path d="M435.50 819.8V852.8" stroke="#feeae8"/>
<path d="M436.50 786.7V797.8" stroke="#5358af"/>
<path d="M436.50 797.8V808.8" stroke="#555aaf"/>
<path d="M436.50 808.8V819.8" stroke="#f8abab"/>
<path d="M436.50 819.8V830.8" stroke="#fff6f5"/>
<path d="M436.50 830.8V841.8" stroke="#ffedeb"/>
<path d="M436.50 841.8V852.8" stroke="#fff6f5"/>
<path d="M437.50 786.7V797.8" stroke="#696dba"/>
<path d="M437.50 797.8V808.8" stroke="#5e63b4"/>
<path d="M437.50 808.8V819.8" stroke="#f9b0b0"/>
<path d="M437.50 819.8V852.8" stroke="#fff0ee"/>
<path d="M438.50 786.7V797.8" stroke="#4046a5"/>
<path d="M438.50 797.8V808.8" stroke="#4046a5"/>
<path d="M438.50 808.8V819.8" stroke="#f9b4b4"/>
<path d="M438.50 819.8V852.8" stroke="#fdf0ef"/>
<path d="M439.50 786.7V797.8" stroke="#474da8"/>
<path d="M439.50 797.8V808.8" stroke="#4e54ac"/>
<path d="M439.50 808.8V819.8" stroke="#fab9b9"/>
<path d="M439.50 819.8V852.8" stroke="#fbf0f1"/>
<path d="M440.50 786.7V797.8" stroke="#575cb1"/>
<path d="M440.50 797.8V808.8" stroke="#575cb1"/>
<path d="M440.50 808.8V819.8" stroke="#fabdbd"/>
<path d="M440.50 819.8V852.8" stroke="#f9eff2"/>
<path d="M441.50 786.7V797.8" stroke="#4e53ac"/>
<path d="M441.50 797.8V808.8" stroke="#4e53ac"/>
<path d="M441.50 808.8V819.8" stroke="#fac2c1"/>
<path d="M441.50 819.8V852.8" stroke="#f7eff3"/>
<path d="M442.50 786.7V797.8" stroke="#676bb9"/>
<path d="M442.50 797.8V808.8" stroke="#666ab8"/>
<path d="M442.50 808.8V819.8" stroke="#fbc6c6"/>
<path d="M442.50 819.8V852.8" stroke="#f5eff5"/>
<path d="M443.50 786.7V797.8" stroke="#4d52ab"/>
<path d="M443.50 797.8V808.8" stroke="#5257ae"/>
<path d="M443.50 808.8V819.8" stroke="#fbcaca"/>
<path d="M443.50 819.8V852.8" stroke="#f3eff6"/>
<path d="M444.50 786.7V797.8" stroke="#5e63b4"/>
<path d="M444.50 797.8V808.8" stroke="#5a5fb2"/>
<path d="M444.50 808.8V819.8" stroke="#fbcfce"/>
<path d="M444.50 819.8V852.8" stroke="#f1eef7"/>
<path d="M445.50 786.7V797.8" stroke="#5c61b3"/>
<path d="M445.50 797.8V808.8" stroke="#6166b5"/>
<path d="M445.50 808.8V819.8" stroke="#fcd3d2"/>
<path d="M445.50 819.8V852.8" stroke="#efeef9"/>
<path d="M446.50 786.7V797.8" stroke="#d48598"/>
<path d="M446.50 797.8V808.8" stroke="#b48eb4"/>
<path d="M446.50 808.8V819.8" stroke="#fcd7d6"/>
<path d="M446.50 819.8V852.8" stroke="#eeeef9"/>
<path d="M447.50 786.7V797.8" stroke="#9496d0"/>
<path d="M447.50 797.8V808.8" stroke="#8a8dcb"/>
<path d="M447.50 808.8V819.8" stroke="#fddcda"/>
<path d="M447.50 819.8V852.8" stroke="#ededf9"/>
<path d="M448.50 786.7V797.8" stroke="#8285c7"/>
<path d="M448.50 797.8V808.8" stroke="#8285c7"/>
<path d="M448.50 808.8V819.8" stroke="#fde0de"/>
<path d="M448.50 819.8V852.8" stroke="#ededf9"/>
<path d="M449.50 786.7V797.8" stroke="#854b84"/>
<path d="M449.50 797.8V808.8" stroke="#854b84"/>
<path d="M449.50 808.8V819.8" stroke="#fde4e2"/>
<path d="M449.50 819.8V852.8" stroke="#ededf8"/>
<path d="M450.50 786.7V797.8" stroke="#4a4faa"/>
<path d="M450.50 797.8V808.8" stroke="#686cb9"/>
<path d="M450.50 808.8V819.8" stroke="#fee9e6"/>
<path d="M450.50 819.8V830.8" stroke="#f6f6fc"/>
<path d="M450.50 830.8V841.8" stroke="#ececf8"/>
<path d="M450.50 841.8V852.8" stroke="#f6f6fc"/>
<path d="M451.50 786.7V797.8" stroke="#9597d0"/>
<path d="M451.50 797.8V808.8" stroke="#9597d0"/>
<path d="M451.50 808.8V819.8" stroke="#feebe9"/>
<path d="M451.50 819.8V830.8" stroke="#ececf8"/>
<path d="M451.50 830.8V841.8" stroke="#f6f6fc"/>
<path d="M451.50 841.8V852.8" stroke="#f6f6fc"/>
<path d="M452.50 786.7V797.8" stroke="#989ad1"/>
<path d="M452.50 797.8V808.8" stroke="#989ad1"/>
<path d="M452.50 808.8V819.8" stroke="#fdecea"/>
<path d="M452.50 819.8V852.8" stroke="#ececf8"/>
<path d="M453.50 786.7V797.8" stroke="#7c80c3"/>
<path d="M453.50 797.8V808.8" stroke="#6b6fba"/>
<path d="M453.50 808.8V819.8" stroke="#fdedeb"/>
<path d="M453.50 819.8V852.8" stroke="#ebebf8"/>
<path d="M454.50 786.7V797.8" stroke="#7276bf"/>
<path d="M454.50 797.8V808.8" stroke="#7074bd"/>
<path d="M454.50 808.8V819.8" stroke="#fcedec"/>
<path d="M454.50 819.8V830.8" stroke="#ebebf8"/>
<path d="M454.50 830.8V841.8" stroke="#f5f5fc"/>
<path d="M454.50 841.8V852.8" stroke="#f5f5fc"/>
<path d="M455.50 786.7V797.8" stroke="#bf5e78"/>
<path d="M455.50 797.8V808.8" stroke="#aa7aa4"/>
<path d="M455.50 808.8V819.8" stroke="#fceeee"/>
<path d="M455.50 819.8V852.8" stroke="#ebebf8"/>
<path d="M456.50 786.7V797.8" stroke="#6e72bd"/>
<path d="M456.50 797.8V808.8" stroke="#777bc1"/>
<path d="M456.50 808.8V819.8" stroke="#fbefef"/>
<path d="M456.50 819.8V852.8" stroke="#f4f4fb"/>
<path d="M457.50 786.7V797.8" stroke="#9092cd"/>
<path d="M457.50 797.8V808.8" stroke="#9092cd"/>
<path d="M457.50 808.8V819.8" stroke="#fbf0f0"/>
<path d="M457.50 819.8V852.8" stroke="#eaeaf7"/>
<path d="M458.50 786.7V797.8" stroke="#9193ce"/>
<path d="M458.50 797.8V808.8" stroke="#9193ce"/>
<path d="M458.50 808.8V819.8" stroke="#faf0f2"/>
<path d="M458.50 819.8V852.8" stroke="#eaeaf7"/>
<path d="M459.50 786.7V797.8" stroke="#797dc2"/>
<path d="M459.50 797.8V808.8" stroke="#797dc2"/>
<path d="M459.50 808.8V819.8" stroke="#faf1f3"/>
<path d="M459.50 819.8V852.8" stroke="#e9e9f7"/>
<path d="M460.50 786.7V797.8" stroke="#676cb9"/>
<path d="M460.50 797.8V808.8" stroke="#676cb9"/>
<path d="M460.50 808.8V819.8" stroke="#f9f2f4"/>
<path d="M460.50 819.8V830.8" stroke="#f4f4fb"/>
<path d="M460.50 830.8V841.8" stroke="#e9e9f7"/>
<path d="M460.50 841.8V852.8" stroke="#f4f4fb"/>
<path d="M461.50 786.7V797.8" stroke="#7578c0"/>
<path d="M461.50 797.8V808.8" stroke="#b25f81"/>
<path d="M461.50 808.8V819.8" stroke="#f9f2f5"/>
<path d="M461.50 819.8V830.8" stroke="#f4f4fb"/>
<path d="M461.50 830.8V841.8" stroke="#e9e9f7"/>
<path d="M461.50 841.8V852.8" stroke="#f4f4fb"/>
<path d="M462.50 786.7V797.8" stroke="#c16d87"/>
<path d="M462.50 797.8V808.8" stroke="#c16d87"/>
<path d="M462.50 808.8V819.8" stroke="#f8f3f7"/>
<path d="M462.50 819.8V852.8" stroke="#e8e8f7"/>
<path d="M463.50 786.7V797.8" stroke="#4b50aa"/>
<path d="M463.50 797.8V808.8" stroke="#4b50aa"/>
<path d="M463.50 808.8V819.8" stroke="#f8f4f8"/>
<path d="M463.50 819.8V852.8" stroke="#e8e8f6"/>
<path d="M464.50 786.7V797.8" stroke="#888bc9"/>
<path d="M464.50 797.8V808.8" stroke="#888bc9"/>
<path d="M464.50 808.8V819.8" stroke="#f7f5f9"/>
<path d="M464.50 819.8V852.8" stroke="#e8e8f6"/>
<path d="M465.50 786.7V797.8" stroke="#f4706e"/>
<path d="M465.50 797.8V808.8" stroke="#f4706e"/>
<path d="M465.50 808.8V819.8" stroke="#f7f5fb"/>
<path d="M465.50 819.8V852.8" stroke="#e7e7f6"/>
<path d="M466.50 786.7V797.8" stroke="#656ab8"/>
<path d="M466.50 797.8V808.8" stroke="#7276be"/>
<path d="M466.50 808.8V819.8" stroke="#f6f6fc"/>
<path d="M466.50 819.8V830.8" stroke="#f3f3fa"/>
<path d="M466.50 830.8V841.8" stroke="#f3f3fa"/>
<path d="M466.50 841.8V852.8" stroke="#e7e7f6"/>
<path d="M467.50 786.7V797.8" stroke="#5055ad"/>
<path d="M467.50 797.8V808.8" stroke="#6f73bd"/>
<path d="M467.50 808.8V819.8" stroke="#f5f5fb"/>
<path d="M467.50 819.8V852.8" stroke="#f3f3fa"/>
<path d="M468.50 786.7V797.8" stroke="#7e81c4"/>
<path d="M468.50 797.8V808.8" stroke="#ba8eaf"/>
<path d="M468.50 808.8V819.8" stroke="#f3f3fb"/>
<path d="M468.50 819.8V852.8" stroke="#e6e6f6"/>
<path d="M469.50 786.7V797.8" stroke="#9194ce"/>
<path d="M469.50 797.8V808.8" stroke="#9194ce"/>
<path d="M469.50 808.8V819.8" stroke="#f2f2fa"/>
<path d="M469.50 819.8V852.8" stroke="#e6e6f6"/>
<path d="M470.50 786.7V797.8" stroke="#a06b98"/>
<path d="M470.50 797.8V808.8" stroke="#a06b98"/>
<path d="M470.50 808.8V819.8" stroke="#f1f1fa"/>
<path d="M470.50 819.8V852.8" stroke="#e6e6f5"/>
<path d="M471.50 786.7V797.8" stroke="#bc637f"/>
<path d="M471.50 797.8V808.8" stroke="#d86c79"/>
<path d="M471.50 808.8V819.8" stroke="#efeff9"/>
<path d="M471.50 819.8V830.8" stroke="#f2f2fa"/>
<path d="M471.50 830.8V841.8" stroke="#e5e5f5"/>
<path d="M471.50 841.8V852.8" stroke="#e5e5f5"/>
<path d="M472.50 786.7V797.8" stroke="#ee3430"/>
<path d="M472.50 797.8V808.8" stroke="#b95d7b"/>
<path d="M472.50 808.8V819.8" stroke="#eeeef8"/>
<path d="M472.50 819.8V852.8" stroke="#e5e5f5"/>
<path d="M473.50 786.7V797.8" stroke="#f1504d"/>
<path d="M473.50 797.8V808.8" stroke="#c3748e"/>
<path d="M473.50 808.8V819.8" stroke="#ececf8"/>
<path d="M473.50 819.8V852.8" stroke="#e5e5f5"/>
<path d="M474.50 786.7V797.8" stroke="#5e63b4"/>
<path d="M474.50 797.8V808.8" stroke="#5e63b4"/>
<path d="M474.50 808.8V819.8" stroke="#ebebf7"/>
<path d="M474.50 819.8V830.8" stroke="#f2f2fa"/>
<path d="M474.50 830.8V841.8" stroke="#f2f2fa"/>
<path d="M474.50 841.8V852.8" stroke="#e4e4f5"/>
<path d="M475.50 786.7V797.8" stroke="#6a6fbb"/>
<path d="M475.50 797.8V808.8" stroke="#6a6fbb"/>
<path d="M475.50 808.8V819.8" stroke="#e9e9f6"/>
<path d="M475.50 819.8V852.8" stroke="#e4e4f5"/>
<path d="M476.50 786.7V797.8" stroke="#96699b"/>
<path d="M476.50 797.8V808.8" stroke="#96699b"/>
<path d="M476.50 808.8V819.8" stroke="#e8e8f6"/>
<path d="M476.50 819.8V852.8" stroke="#e4e4f5"/>
<path d="M477.50 786.7V797.8" stroke="#f89e9d"/>
<path d="M477.50 797.8V808.8" stroke="#f89e9d"/>
<path d="M477.50 808.8V819.8" stroke="#e7e7f5"/>
<path d="M477.50 819.8V852.8" stroke="#f1f1fa"/>
<path d="M478.50 786.7V797.8" stroke="#6e72bc"/>
<path d="M478.50 797.8V808.8" stroke="#7c80c3"/>
<path d="M478.50 808.8V819.8" stroke="#e5e5f4"/>
<path d="M478.50 819.8V852.8" stroke="#e3e3f4"/>
<path d="M479.50 786.7V797.8" stroke="#f68988"/>
<path d="M479.50 797.8V808.8" stroke="#f68988"/>
<path d="M479.50 808.8V819.8" stroke="#e4e4f4"/>
<path d="M479.50 819.8V852.8" stroke="#e3e3f4"/>
<path d="M480.50 786.7V797.8" stroke="#ee332f"/>
<path d="M480.50 797.8V808.8" stroke="#aa4f74"/>
<path d="M480.50 808.8V819.8" stroke="#e2e2f3"/>
<path d="M480.50 819.8V852.8" stroke="#e2e2f4"/>
<path d="M481.50 786.7V797.8" stroke="#6469b8"/>
<path d="M481.50 797.8V808.8" stroke="#8084c6"/>
<path d="M481.50 808.8V819.8" stroke="#e1e1f2"/>
<path d="M481.50 819.8V852.8" stroke="#e2e2f4"/>
<path d="M482.50 786.7V797.8" stroke="#8a8dcb"/>
<path d="M482.50 797.8V808.8" stroke="#8a8dcb"/>
<path d="M482.50 808.8V819.8" stroke="#e0e0f2"/>
<path d="M482.50 819.8V852.8" stroke="#e2e2f4"/>
<path d="M483.50 786.7V797.8" stroke="#8487c8"/>
<path d="M483.50 797.8V808.8" stroke="#9b9dd3"/>
<path d="M483.50 808.8V819.8" stroke="#dedef1"/>
<path d="M483.50 819.8V852.8" stroke="#f0f0fa"/>
<path d="M484.50 786.7V797.8" stroke="#d6606e"/>
<path d="M484.50 797.8V808.8" stroke="#d6606e"/>
<path d="M484.50 808.8V819.8" stroke="#ddddf1"/>
<path d="M484.50 819.8V852.8" stroke="#e1e1f3"/>
<path d="M485.50 786.7V797.8" stroke="#5358ae"/>
<path d="M485.50 797.8V808.8" stroke="#5358ae"/>
<path d="M485.50 808.8V819.8" stroke="#dcdcf0"/>
<path d="M485.50 819.8V852.8" stroke="#e1e1f3"/>
<path d="M486.50 786.7V797.8" stroke="#8b8ecb"/>
<path d="M486.50 797.8V808.8" stroke="#979ad1"/>
<path d="M486.50 808.8V819.8" stroke="#dbdbf0"/>
<path d="M486.50 819.8V852.8" stroke="#e0e0f3"/>
<path d="M487.50 786.7V797.8" stroke="#da606c"/>
<path d="M487.50 797.8V808.8" stroke="#e98085"/>
<path d="M487.50 808.8V819.8" stroke="#d9d9ef"/>
<path d="M487.50 819.8V852.8" stroke="#e0e0f3"/>
<path d="M488.50 786.7V797.8" stroke="#ef3e3a"/>
<path d="M488.50 797.8V808.8" stroke="#ef3b37"/>
<path d="M488.50 808.8V819.8" stroke="#d8d8ef"/>
<path d="M488.50 819.8V852.8" stroke="#dfdff3"/>
<path d="M489.50 786.7V797.8" stroke="#f36e6c"/>
<path d="M489.50 797.8V808.8" stroke="#f36e6c"/>
<path d="M489.50 808.8V819.8" stroke="#d7d7ee"/>
<path d="M489.50 819.8V852.8" stroke="#dfdff2"/>
<path d="M490.50 786.7V797.8" stroke="#787bc1"/>
<path d="M490.50 797.8V808.8" stroke="#9194ce"/>
<path d="M490.50 808.8V819.8" stroke="#d5d5ee"/>
<path d="M490.50 819.8V852.8" stroke="#dedef2"/>
<path d="M491.50 786.7V797.8" stroke="#f36461"/>
<path d="M491.50 797.8V808.8" stroke="#f36461"/>
<path d="M491.50 808.8V819.8" stroke="#d4d4ed"/>
<path d="M491.50 819.8V852.8" stroke="#dedef2"/>
<path d="M492.50 786.7V797.8" stroke="#f04642"/>
<path d="M492.50 797.8V808.8" stroke="#f04340"/>
<path d="M492.50 808.8V819.8" stroke="#d3d3ed"/>
<path d="M492.50 819.8V852.8" stroke="#ddddf2"/>
<path d="M493.50 786.7V797.8" stroke="#f79a99"/>
<path d="M493.50 797.8V808.8" stroke="#f79a99"/>
<path d="M493.50 808.8V819.8" stroke="#d2d2ec"/>
<path d="M493.50 819.8V852.8" stroke="#eeeef8"/>
<path d="M494.50 786.7V797.8" stroke="#f25f5c"/>
<path d="M494.50 797.8V808.8" stroke="#f25f5c"/>
<path d="M494.50 808.8V819.8" stroke="#d0d0ec"/>
<path d="M494.50 819.8V852.8" stroke="#dcdcf1"/>
<path d="M495.50 786.7V797.8" stroke="#df8693"/>
<path d="M495.50 797.8V808.8" stroke="#e9777c"/>
<path d="M495.50 808.8V819.8" stroke="#cfcfeb"/>
<path d="M495.50 819.8V852.8" stroke="#eeeef8"/>
<path d="M496.50 786.7V797.8" stroke="#b993b6"/>
<path d="M496.50 797.8V808.8" stroke="#d46d7d"/>
<path d="M496.50 808.8V819.8" stroke="#ceceeb"/>
<path d="M496.50 819.8V852.8" stroke="#dbdbf1"/>
<path d="M497.50 786.7V797.8" stroke="#f25956"/>
<path d="M497.50 797.8V808.8" stroke="#f25956"/>
<path d="M497.50 808.8V819.8" stroke="#ccccea"/>
<path d="M497.50 819.8V852.8" stroke="#dbdbf1"/>
<path d="M498.50 786.7V797.8" stroke="#f36865"/>
<path d="M498.50 797.8V808.8" stroke="#f36865"/>
<path d="M498.50 808.8V819.8" stroke="#cbcbea"/>
<path d="M498.50 819.8V830.8" stroke="#ececf8"/>
<path d="M498.50 830.8V841.8" stroke="#dadaf0"/>
<path d="M498.50 841.8V852.8" stroke="#ececf8"/>
<path d="M499.50 786.7V797.8" stroke="#bf91b1"/>
<path d="M499.50 797.8V808.8" stroke="#bf91b1"/>
<path d="M499.50 808.8V819.8" stroke="#cacae9"/>
<path d="M499.50 819.8V852.8" stroke="#dadaf0"/>
<path d="M500.50 786.7V797.8" stroke="#a8aad9"/>
<path d="M500.50 797.8V808.8" stroke="#a8aad9"/>
<path d="M500.50 808.8V819.8" stroke="#c9c9e9"/>
<path d="M500.50 819.8V852.8" stroke="#d9d9f0"/>
<path d="M501.50 786.7V797.8" stroke="#ee3430"/>
<path d="M501.50 797.8V808.8" stroke="#ee3430"/>
<path d="M501.50 808.8V819.8" stroke="#c8c8e8"/>
<path d="M501.50 819.8V852.8" stroke="#d9d9f0"/>
<path d="M502.50 786.7V797.8" stroke="#b7435e"/>
<path d="M502.50 797.8V808.8" stroke="#d3434e"/>
<path d="M502.50 808.8V819.8" stroke="#c7c7e8"/>
<path d="M502.50 819.8V852.8" stroke="#d8d8ef"/>
<path d="M503.50 786.7V797.8" stroke="#f04c49"/>
<path d="M503.50 797.8V808.8" stroke="#f04c49"/>
<path d="M503.50 808.8V819.8" stroke="#c5c5e7"/>
<path d="M503.50 819.8V852.8" stroke="#ebebf7"/>
<path d="M504.50 786.7V797.8" stroke="#585db1"/>
<path d="M504.50 797.8V808.8" stroke="#585db1"/>
<path d="M504.50 808.8V819.8" stroke="#c4c4e7"/>
<path d="M504.50 819.8V852.8" stroke="#d7d7ef"/>
<path d="M505.50 786.7V797.8" stroke="#f37371"/>
<path d="M505.50 797.8V808.8" stroke="#f37371"/>
<path d="M505.50 808.8V819.8" stroke="#c3c3e6"/>
<path d="M505.50 819.8V830.8" stroke="#eaeaf7"/>
<path d="M505.50 830.8V841.8" stroke="#d6d6ef"/>
<path d="M505.50 841.8V852.8" stroke="#d6d6ef"/>
<path d="M506.50 786.7V797.8" stroke="#f8a4a4"/>
<path d="M506.50 797.8V808.8" stroke="#f8a4a4"/>
<path d="M506.50 808.8V819.8" stroke="#c2c2e6"/>
<path d="M506.50 819.8V852.8" stroke="#d6d6ee"/>
<path d="M507.50 786.7V797.8" stroke="#ef3a36"/>
<path d="M507.50 797.8V808.8" stroke="#a04872"/>
<path d="M507.50 808.8V819.8" stroke="#c1c1e5"/>
<path d="M507.50 819.8V852.8" stroke="#d5d5ee"/>
<path d="M508.50 786.7V797.8" stroke="#f58785"/>
<path d="M508.50 797.8V808.8" stroke="#f58785"/>
<path d="M508.50 808.8V819.8" stroke="#c0c0e5"/>
<path d="M508.50 819.8V852.8" stroke="#d5d5ee"/>
<path d="M509.50 786.7V797.8" stroke="#4c52ab"/>
<path d="M509.50 797.8V808.8" stroke="#7377bf"/>
<path d="M509.50 808.8V819.8" stroke="#bfbfe4"/>
<path d="M509.50 819.8V852.8" stroke="#eaeaf6"/>
<path d="M510.50 786.7V797.8" stroke="#f47473"/>
<path d="M510.50 797.8V808.8" stroke="#f47473"/>
<path d="M510.50 808.8V819.8" stroke="#bdbde3"/>
<path d="M510.50 819.8V852.8" stroke="#d4d4ed"/>
<path d="M511.50 786.7V797.8" stroke="#f15250"/>
<path d="M511.50 797.8V808.8" stroke="#f15250"/>
<path d="M511.50 808.8V819.8" stroke="#bcbce3"/>
<path d="M511.50 819.8V852.8" stroke="#d3d3ed"/>
<path d="M512.50 786.7V797.8" stroke="#f25e5b"/>
<path d="M512.50 797.8V808.8" stroke="#f25e5b"/>
<path d="M512.50 808.8V819.8" stroke="#bbbbe2"/>
<path d="M512.50 819.8V830.8" stroke="#d3d3ed"/>
<path d="M512.50 830.8V841.8" stroke="#e9e9f6"/>
<path d="M512.50 841.8V852.8" stroke="#e9e9f6"/>
<path d="M513.50 786.7V797.8" stroke="#f47370"/>
<path d="M513.50 797.8V808.8" stroke="#c787a1"/>
<path d="M513.50 808.8V819.8" stroke="#babae2"/>
<path d="M513.50 819.8V852.8" stroke="#d2d2ed"/>
<path d="M514.50 786.7V797.8" stroke="#f25f5d"/>
<path d="M514.50 797.8V808.8" stroke="#f25f5d"/>
<path d="M514.50 808.8V819.8" stroke="#b7b7e1"/>
<path d="M514.50 819.8V830.8" stroke="#e8e8f6"/>
<path d="M514.50 830.8V841.8" stroke="#e8e8f6"/>
<path d="M514.50 841.8V852.8" stroke="#d2d2ec"/>
<path d="M515.50 786.7V797.8" stroke="#caa8c3"/>
<path d="M515.50 797.8V808.8" stroke="#bdadd0"/>
<path d="M515.50 808.8V819.8" stroke="#b5b5e0"/>
<path d="M515.50 819.8V852.8" stroke="#d1d1ec"/>
<path d="M516.50 786.7V797.8" stroke="#ef4441"/>
<path d="M516.50 797.8V808.8" stroke="#ef4441"/>
<path d="M516.50 808.8V819.8" stroke="#b3b3de"/>
<path d="M516.50 819.8V852.8" stroke="#d1d1ec"/>
<path d="M517.50 786.7V797.8" stroke="#f25c59"/>
<path d="M517.50 797.8V808.8" stroke="#f15956"/>
<path d="M517.50 808.8V819.8" stroke="#b1b1dd"/>
<path d="M517.50 819.8V852.8" stroke="#d0d0ec"/>
<path d="M518.50 786.7V797.8" stroke="#f04945"/>
<path d="M518.50 797.8V808.8" stroke="#f04945"/>
<path d="M518.50 808.8V819.8" stroke="#aeaedc"/>
<path d="M518.50 819.8V852.8" stroke="#d0d0ec"/>
<path d="M519.50 786.7V797.8" stroke="#8f92cd"/>
<path d="M519.50 797.8V808.8" stroke="#8f92cd"/>
<path d="M519.50 808.8V819.8" stroke="#acacdb"/>
<path d="M519.50 819.8V852.8" stroke="#cfcfeb"/>
<path d="M520.50 786.7V797.8" stroke="#ef3935"/>
<path d="M520.50 797.8V808.8" stroke="#b35a7b"/>
<path d="M520.50 808.8V819.8" stroke="#aaaada"/>
<path d="M520.50 819.8V852.8" stroke="#ceceeb"/>
<path d="M521.50 786.7V797.8" stroke="#a3729f"/>
<path d="M521.50 797.8V808.8" stroke="#c9566a"/>
<path d="M521.50 808.8V819.8" stroke="#a7a7d9"/>
<path d="M521.50 819.8V852.8" stroke="#e6e6f5"/>
<path d="M522.50 786.7V797.8" stroke="#4b50ab"/>
<path d="M522.50 797.8V808.8" stroke="#9d436e"/>
<path d="M522.50 808.8V819.8" stroke="#a5a5d8"/>
<path d="M522.50 819.8V852.8" stroke="#cdcdeb"/>
<path d="M523.50 786.7V797.8" stroke="#f15351"/>
<path d="M523.50 797.8V808.8" stroke="#f15351"/>
<path d="M523.50 808.8V819.8" stroke="#a3a3d6"/>
<path d="M523.50 819.8V852.8" stroke="#e6e6f4"/>
<path d="M524.50 786.7V797.8" stroke="#da5c68"/>
<path d="M524.50 797.8V808.8" stroke="#da5c68"/>
<path d="M524.50 808.8V819.8" stroke="#a0a0d5"/>
<path d="M524.50 819.8V852.8" stroke="#e6e6f4"/>
<path d="M525.50 786.7V797.8" stroke="#ee3733"/>
<path d="M525.50 797.8V808.8" stroke="#ee3733"/>
<path d="M525.50 808.8V819.8" stroke="#9e9ed4"/>
<path d="M525.50 819.8V852.8" stroke="#ccccea"/>
<path d="M526.50 786.7V797.8" stroke="#ef3733"/>
<path d="M526.50 797.8V808.8" stroke="#f25f5c"/>
<path d="M526.50 808.8V819.8" stroke="#9c9cd3"/>
<path d="M526.50 819.8V852.8" stroke="#e5e5f4"/>
<path d="M527.50 786.7V797.8" stroke="#9a6697"/>
<path d="M527.50 797.8V808.8" stroke="#9a6697"/>
<path d="M527.50 808.8V819.8" stroke="#9999d2"/>
<path d="M527.50 819.8V852.8" stroke="#e5e5f4"/>
<path d="M528.50 786.7V797.8" stroke="#f04643"/>
<path d="M528.50 797.8V808.8" stroke="#f04643"/>
<path d="M528.50 808.8V819.8" stroke="#9797d1"/>
<path d="M528.50 819.8V852.8" stroke="#cacae9"/>
</g>
<text transform="translate(533.40,792.10) scale(1.08,1)" y="2.53" font-size="7.04" text-anchor="start" fill="#111" stroke="#111" stroke-width="0.16">Wnt signaling module</text>
<text transform="translate(533.40,803.38) scale(1.08,1)" y="2.53" font-size="7.04" text-anchor="start" fill="#111" stroke="#111" stroke-width="0.16">T<tspan font-size="4.6" dy="1.6">reg</tspan><tspan dy="-1.6"> module</tspan></text>
<text transform="translate(533.40,814.66) scale(1.08,1)" y="2.53" font-size="7.04" text-anchor="start" fill="#111" stroke="#111" stroke-width="0.16">Antiviral module</text>
<text transform="translate(533.40,825.94) scale(1.08,1)" y="2.53" font-size="7.04" text-anchor="start" fill="#111" stroke="#111" stroke-width="0.16">ISG module</text>
<text transform="translate(533.40,837.22) scale(1.08,1)" y="2.53" font-size="7.04" text-anchor="start" fill="#111" stroke="#111" stroke-width="0.16">TLR signaling module</text>
<text transform="translate(533.40,848.50) scale(1.08,1)" y="2.53" font-size="7.04" text-anchor="start" fill="#111" stroke="#111" stroke-width="0.16">Effector T cell module</text>
<defs><linearGradient id="scb" x1="0" y1="0" x2="0" y2="1"><stop offset="0" stop-color="#8a1414"/><stop offset="0.22" stop-color="#cc1e1c"/><stop offset="0.38" stop-color="#ea2e2a"/><stop offset="0.455" stop-color="#f6a29a"/><stop offset="0.5" stop-color="#ffffff"/><stop offset="0.54" stop-color="#aab0da"/><stop offset="0.6" stop-color="#4a5cb0"/><stop offset="0.8" stop-color="#3a4aa6"/><stop offset="1" stop-color="#2c3890"/></linearGradient></defs>
<rect x="651.5" y="788.8" width="9" height="65.5" fill="url(#scb)"/>
<text transform="translate(663.80,791.30) scale(1.08,1)" y="2.07" font-size="5.74" text-anchor="start" fill="#111" stroke="#111" stroke-width="0.08">6</text>
<text transform="translate(663.80,801.90) scale(1.08,1)" y="2.07" font-size="5.74" text-anchor="start" fill="#111" stroke="#111" stroke-width="0.08">4</text>
<text transform="translate(663.80,811.70) scale(1.08,1)" y="2.07" font-size="5.74" text-anchor="start" fill="#111" stroke="#111" stroke-width="0.08">2</text>
<text transform="translate(663.80,821.50) scale(1.08,1)" y="2.07" font-size="5.74" text-anchor="start" fill="#111" stroke="#111" stroke-width="0.08">0</text>
<text transform="translate(663.80,831.80) scale(1.08,1)" y="2.07" font-size="5.74" text-anchor="start" fill="#111" stroke="#111" stroke-width="0.08">−2</text>
<text transform="translate(663.80,842.00) scale(1.08,1)" y="2.07" font-size="5.74" text-anchor="start" fill="#111" stroke="#111" stroke-width="0.08">−4</text>
<text transform="translate(663.80,851.80) scale(1.08,1)" y="2.07" font-size="5.74" text-anchor="start" fill="#111" stroke="#111" stroke-width="0.08">−6</text>
<text transform="translate(636.80,821.50) rotate(-90) scale(1.08,1)" y="2.57" font-size="7.13" text-anchor="middle" fill="#111" stroke="#111" stroke-width="0.16">SCimilarity score</text>
<text transform="translate(645.40,821.50) rotate(-90) scale(1.08,1)" y="2.50" font-size="6.94" text-anchor="middle" fill="#111" stroke="#111" stroke-width="0.16">(row normalized)</text>
</svg>
</body></html>
